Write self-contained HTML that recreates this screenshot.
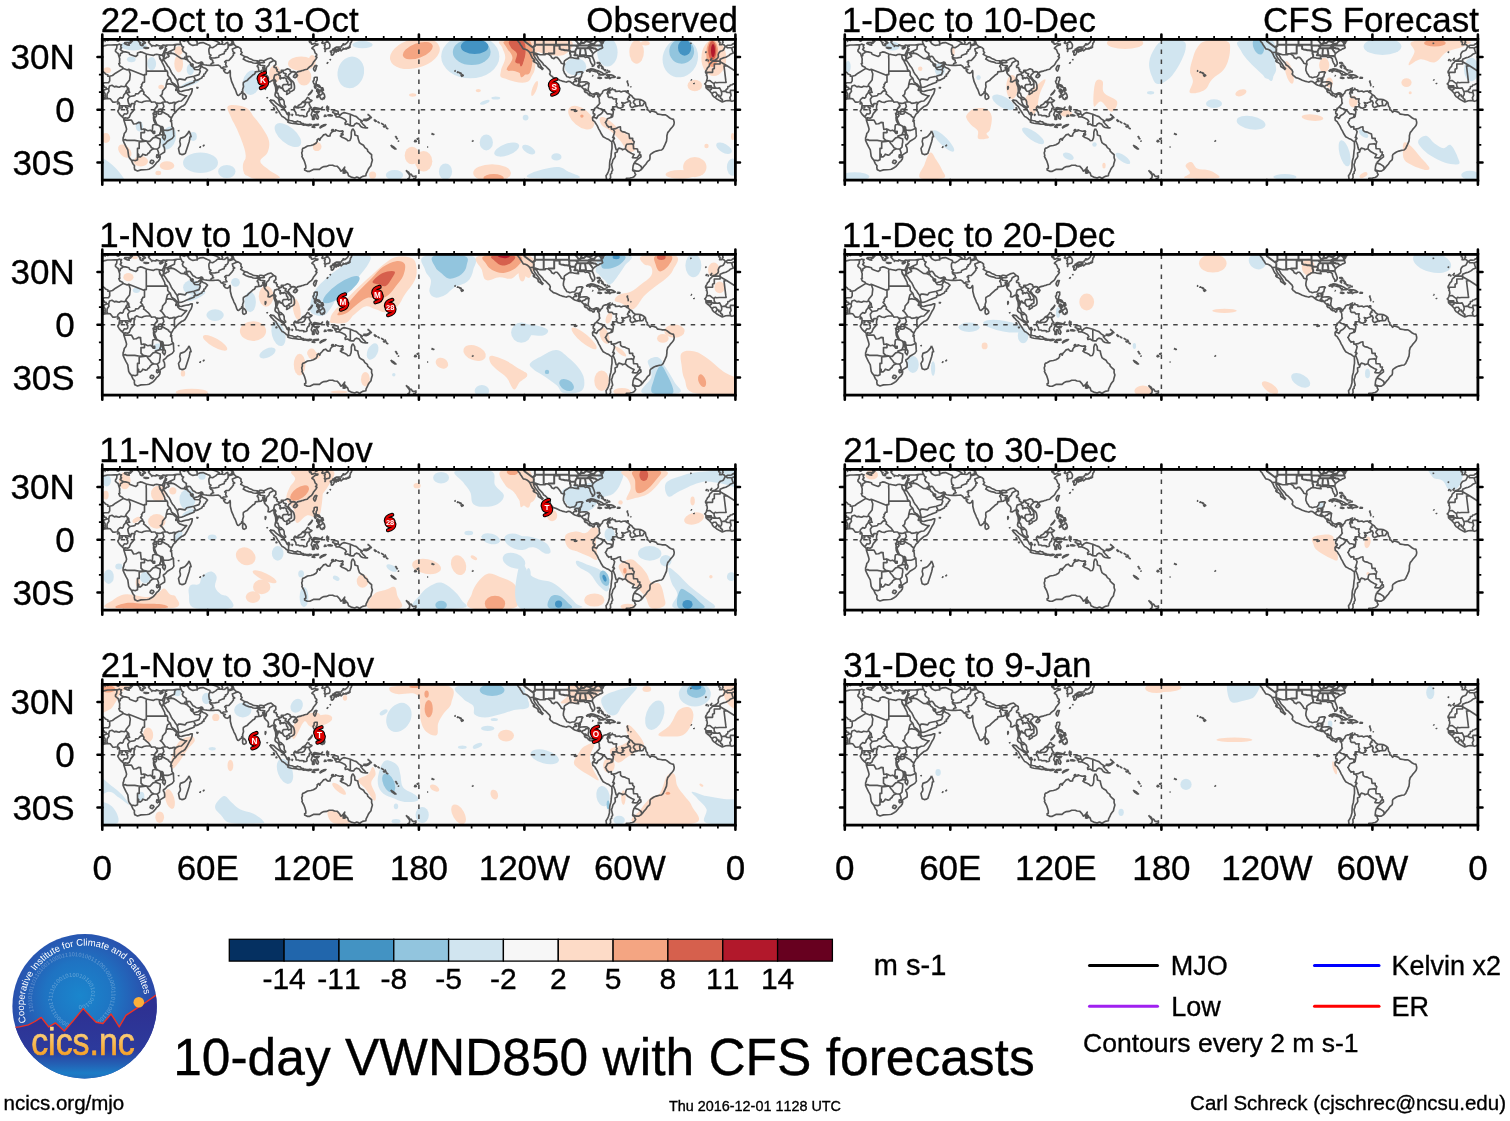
<!DOCTYPE html>
<html lang="en"><head><meta charset="utf-8"><title>10-day VWND850 with CFS forecasts</title>
<style>html,body{margin:0;padding:0;background:#fff}body{width:1510px;height:1121px;overflow:hidden;position:relative}svg{display:block}text{font-family:"Liberation Sans",Arial,Helvetica,sans-serif;font-kerning:none}.k{stroke:#000;stroke-width:0.35px}.dj{font-family:"DejaVu Sans","Liberation Sans",sans-serif}</style></head><body>
<svg width="1510" height="1121" viewBox="0 0 1510 1121">
<rect width="1510" height="1121" fill="#fff"/>
<g transform="translate(102.3 39.4)">
<svg x="0" y="0" width="633.1" height="140.7" viewBox="0 0 633.1 140.7" overflow="hidden">
<rect width="633.1" height="140.7" fill="#f8f8f8"/>
<ellipse cx="31.2" cy="6.1" rx="13.1" ry="5.1" fill="#d1e5f0"/><ellipse cx="49.4" cy="24.3" rx="4.4" ry="6.6" fill="#d1e5f0"/><ellipse cx="29" cy="19.9" rx="4.4" ry="2.9" fill="#d1e5f0"/><ellipse cx="88" cy="30.1" rx="3.6" ry="5.8" fill="#d1e5f0"/><ellipse cx="88" cy="44" rx="10.2" ry="2.2" fill="#d1e5f0" transform="rotate(-20 88 44)"/><ellipse cx="149.2" cy="43.2" rx="8.7" ry="12.4" fill="#d1e5f0" transform="rotate(10 149.2 43.2)"/><ellipse cx="185.6" cy="95.7" rx="16" ry="8" fill="#d1e5f0" transform="rotate(40 185.6 95.7)"/><ellipse cx="98.2" cy="123.4" rx="17.5" ry="10.2" fill="#d1e5f0"/><ellipse cx="124.5" cy="132.1" rx="8.7" ry="6.6" fill="#d1e5f0"/><ellipse cx="90.9" cy="97.1" rx="3.6" ry="4.4" fill="#d1e5f0"/><ellipse cx="66.2" cy="98.6" rx="7.3" ry="11.7" fill="#d1e5f0" transform="rotate(15 66.2 98.6)"/><path d="M-9 117.5C-5.2 113.6 6.3 121.9 12.3 127.7C18.2 133.5 27.8 145.7 23.9 149.7C20.1 153.7 -3.1 149.7 -9 149.7C-14.9 149.7 -9 155.5 -9 149.7C-9 143.9 -12.8 121.5 -9 117.5Z" fill="#d1e5f0"/><ellipse cx="37" cy="86.9" rx="3.6" ry="5.1" fill="#d1e5f0"/><path d="M125.9 66.5C128.5 64.7 138.7 65.9 143.4 68C148.1 70.1 149 74.3 152.1 78.2C155.3 82.1 158.3 85.6 160.9 89.8C163.5 94 165.9 97.3 166.7 101.5C167.5 105.7 166.8 109.5 165.2 113.2C163.7 116.8 157.7 118.8 158 121.9C158.2 125 163.3 127.6 166.7 130.6C170.1 133.7 180.1 137.2 176.9 138.7C173.8 140.1 155.5 140.6 149.2 138.7C142.9 136.7 143 131.8 141.9 127.7C140.9 123.7 143.7 120.3 143.4 116.1C143.1 111.9 142.1 109.1 140.5 104.4C138.9 99.7 136.8 94.6 134.7 89.8C132.6 85.1 130.4 82.4 128.8 78.2C127.3 74 123.3 68.4 125.9 66.5Z" fill="#fddbc7"/><ellipse cx="198.8" cy="24.3" rx="13.1" ry="7.3" fill="#fddbc7"/><ellipse cx="201.7" cy="37.4" rx="7.3" ry="8.7" fill="#fddbc7"/><ellipse cx="172.5" cy="34.5" rx="5.8" ry="8.7" fill="#fddbc7"/><ellipse cx="76.4" cy="24.3" rx="4.4" ry="8.7" fill="#fddbc7"/><ellipse cx="76.4" cy="11.2" rx="4.4" ry="4.4" fill="#fddbc7"/><ellipse cx="5" cy="30.8" rx="3.6" ry="2.9" fill="#fddbc7"/><ellipse cx="22.5" cy="111.7" rx="8" ry="5.1" fill="#fddbc7" transform="rotate(45 22.5 111.7)"/><ellipse cx="38.5" cy="121.9" rx="7.3" ry="5.1" fill="#fddbc7"/><ellipse cx="3.5" cy="98.6" rx="4.4" ry="5.1" fill="#fddbc7"/><ellipse cx="64.7" cy="126.3" rx="7.3" ry="4.4" fill="#fddbc7"/><ellipse cx="56" cy="133.6" rx="2.9" ry="2.2" fill="#fddbc7"/><ellipse cx="58.9" cy="47.6" rx="2.9" ry="2.2" fill="#fddbc7"/><ellipse cx="214.8" cy="107.3" rx="4.4" ry="4.4" fill="#fddbc7"/><ellipse cx="144.9" cy="127.7" rx="4.4" ry="8.7" fill="#fddbc7"/><ellipse cx="248.5" cy="33" rx="13.1" ry="16" fill="#d1e5f0" transform="rotate(15 248.5 33)"/><ellipse cx="260.2" cy="5.3" rx="10.2" ry="3.6" fill="#d1e5f0"/><ellipse cx="312.6" cy="14.1" rx="25.5" ry="14.6" fill="#fddbc7" transform="rotate(-15 312.6 14.1)"/><ellipse cx="368" cy="17" rx="29.1" ry="21.9" fill="#d1e5f0"/><path d="M398.6 1.7C403.5 0.5 422.5 -5.3 427.7 1.7C432.9 8.6 432.4 33.6 427.7 40.3C423 47 406.7 40.4 401.5 38.9C396.2 37.3 398.3 35.2 398.6 31.6C398.8 27.9 402.7 22.7 402.9 18.5C403.2 14.3 400.8 11.3 400 8.3C399.2 5.2 393.6 2.9 398.6 1.7Z" fill="#fddbc7"/><ellipse cx="310.4" cy="55.6" rx="3.6" ry="1.7" fill="#fddbc7"/><ellipse cx="376" cy="51.2" rx="2.6" ry="1.7" fill="#fddbc7"/><ellipse cx="382.5" cy="62.9" rx="5.1" ry="1.7" fill="#d1e5f0" transform="rotate(-20 382.5 62.9)"/><ellipse cx="393.5" cy="58.5" rx="4.4" ry="1.5" fill="#d1e5f0"/><ellipse cx="384" cy="103" rx="6.6" ry="8" fill="#d1e5f0"/><ellipse cx="404.4" cy="110.2" rx="13.1" ry="5.8" fill="#d1e5f0" transform="rotate(-20 404.4 110.2)"/><ellipse cx="423.3" cy="78.2" rx="2.9" ry="2.9" fill="#d1e5f0"/><ellipse cx="309.7" cy="116.1" rx="7.3" ry="8.7" fill="#fddbc7"/><ellipse cx="321.3" cy="121.9" rx="8.7" ry="10.2" fill="#fddbc7"/><ellipse cx="343.2" cy="132.1" rx="6.6" ry="8" fill="#d1e5f0"/><ellipse cx="292.2" cy="135.7" rx="8.7" ry="5.1" fill="#d1e5f0"/><ellipse cx="389.8" cy="133.6" rx="18.9" ry="8.7" fill="#fddbc7"/><ellipse cx="214.3" cy="107.3" rx="3.6" ry="4.4" fill="#fddbc7"/><ellipse cx="270.3" cy="135.7" rx="3.6" ry="3.6" fill="#fddbc7"/><ellipse cx="209.9" cy="21.4" rx="3.6" ry="5.8" fill="#fddbc7"/><path d="M417.7 1.7C421.1 -5 433.8 -1.3 436.6 1.7C439.5 4.7 434.6 12.8 433.7 18.5C432.8 24.1 433.4 29.1 431.5 33C429.7 37 426 39.3 423.5 40.3C421 41.4 418.7 45.8 417.7 38.9C416.7 31.9 414.3 8.4 417.7 1.7Z" fill="#fddbc7"/><ellipse cx="432.3" cy="49.1" rx="2.2" ry="8" fill="#fddbc7" transform="rotate(20 432.3 49.1)"/><path d="M432.3 1.7C438 -0.3 463.4 -0.8 468.7 1.7C473.9 4.2 467.2 13.6 461.4 15.5C455.6 17.5 441.9 15.1 436.6 12.6C431.4 10.1 426.5 3.7 432.3 1.7Z" fill="#fddbc7"/><ellipse cx="473.1" cy="27.2" rx="10.9" ry="8.7" fill="#d1e5f0"/><ellipse cx="505.1" cy="12.6" rx="10.2" ry="14.6" fill="#d1e5f0"/><ellipse cx="534.3" cy="12.6" rx="7.3" ry="11.7" fill="#fddbc7"/><ellipse cx="543" cy="3.9" rx="4.4" ry="2.2" fill="#fddbc7"/><ellipse cx="578" cy="18.5" rx="17.5" ry="19.7" fill="#d1e5f0" transform="rotate(20 578 18.5)"/><ellipse cx="611.5" cy="18.5" rx="12.4" ry="18.2" fill="#fddbc7"/><ellipse cx="592.5" cy="46.1" rx="7.3" ry="5.8" fill="#fddbc7"/><ellipse cx="478.9" cy="78.2" rx="15.3" ry="8.7" fill="#fddbc7" transform="rotate(40 478.9 78.2)"/><path d="M497.8 78.2C498.9 77.1 501.7 77.5 505.1 79.6C508.5 81.7 512.6 86.4 516.8 89.8C521 93.3 525.5 94.9 528.4 98.6C531.3 102.3 533.3 107.9 532.8 110.2C532.3 112.6 528.1 113.3 525.5 111.7C522.9 110.1 521.4 105.2 518.2 101.5C515.1 97.8 511.4 94.2 508 91.3C504.6 88.4 501.1 87.8 499.3 85.5C497.5 83.1 496.8 79.2 497.8 78.2Z" fill="#fddbc7"/><ellipse cx="426.4" cy="110.2" rx="7.3" ry="3.6" fill="#d1e5f0" transform="rotate(30 426.4 110.2)"/><ellipse cx="454.1" cy="117.5" rx="5.1" ry="3.6" fill="#d1e5f0"/><path d="M429.4 133.6C433.8 131.6 447.6 128 454.1 127.7C460.7 127.5 461.8 130.1 465.8 132.1C469.7 134.1 482.5 137.5 476 138.7C469.4 139.8 437.7 139.6 429.4 138.7C421 137.7 424.9 135.5 429.4 133.6Z" fill="#d1e5f0"/><ellipse cx="592.5" cy="127.7" rx="11.7" ry="10.2" fill="#fddbc7"/><ellipse cx="578" cy="135" rx="14.6" ry="4.4" fill="#fddbc7"/><ellipse cx="621.7" cy="108.8" rx="8.7" ry="4.4" fill="#d1e5f0" transform="rotate(30 621.7 108.8)"/><ellipse cx="630.4" cy="127.7" rx="5.8" ry="8.7" fill="#d1e5f0"/><ellipse cx="604.2" cy="106.6" rx="2.2" ry="2.2" fill="#fddbc7"/><ellipse cx="630.4" cy="97.1" rx="1.7" ry="3.6" fill="#fddbc7"/><ellipse cx="315.5" cy="11.2" rx="15.7" ry="7.3" fill="#f4a582" transform="rotate(-20 315.5 11.2)"/><ellipse cx="369.4" cy="12.6" rx="18.9" ry="13.1" fill="#92c5de"/><path d="M402.9 1.7C407.1 0.5 423.2 -3.9 427.7 1.7C432.2 7.3 430.6 27.6 427.7 33C424.8 38.4 415.9 32.1 411.7 31.6C407.5 31 404.7 32.5 404.4 30.1C404.1 27.7 410.2 22.4 410.2 18.5C410.2 14.5 405.7 11.3 404.4 8.3C403.1 5.2 398.7 2.9 402.9 1.7Z" fill="#f4a582"/><ellipse cx="391.3" cy="138.7" rx="10.2" ry="4.1" fill="#f4a582"/><path d="M417.7 5.3C419.7 0.6 427.1 4.6 428.6 8.3C430.2 11.9 427.6 20.8 426.4 25.7C425.3 30.7 423.6 34.4 422.1 35.9C420.5 37.5 418.5 40 417.7 34.5C416.9 29 415.7 10.1 417.7 5.3Z" fill="#f4a582"/><ellipse cx="579.4" cy="11.9" rx="12.4" ry="12.4" fill="#92c5de" transform="rotate(15 579.4 11.9)"/><ellipse cx="610" cy="14.1" rx="6.1" ry="13.4" fill="#f4a582"/><ellipse cx="479.6" cy="76.7" rx="1.7" ry="1.7" fill="#f4a582"/><ellipse cx="372.3" cy="7.1" rx="13.8" ry="7.6" fill="#4393c3"/><path d="M407.3 1.7C409.4 0.5 417.5 0 420.4 1.7C423.3 3.4 423.3 7.4 423.3 11.2C423.3 15 422.3 20.7 420.4 22.8C418.6 24.9 414.2 24.4 413.1 22.8C412.1 21.3 415.4 16.7 414.6 14.1C413.8 11.5 410.1 10.5 408.8 8.3C407.4 6 405.2 2.9 407.3 1.7Z" fill="#d6604d"/><path d="M417.7 9.7C418.5 7.4 421.5 10 422.1 12.6C422.6 15.2 421.4 21.9 420.6 24.3C419.8 26.6 418.2 28.4 417.7 25.7C417.2 23.1 416.9 12.1 417.7 9.7Z" fill="#d6604d"/><ellipse cx="582.3" cy="8.3" rx="6.6" ry="8" fill="#4393c3"/><ellipse cx="610" cy="11.2" rx="4.1" ry="9.5" fill="#d6604d"/><ellipse cx="610.7" cy="11.2" rx="2" ry="6.6" fill="#b2182b"/>
<path d="M-10.4 7.4l1.1 -0.2l1.4 1.2l2.6 -0.1l1.4 0.3l2.1 -1l1.8 -0.4l2.6 -1l2.7 -0.6l3.5 0l3.5 -0.3l2.8 0.2l2.1 -0.8l0.9 0.6l1.2 0l-0.7 1l-0.1 1.4l0.8 0.7l-1.4 1.6l1.3 1.1l1 0.9l1.8 0.5l1.2 0l3.5 0.9l0.6 1.5l2.6 0.9l3.5 1.3l1.8 -1.3l0 -2.3l2.6 -1l2.7 0.5l3.5 1.6l3.5 0.7l3.5 0.7l1.8 -0.9l1.7 -0.2l2.3 0.4l0.4 2.5l0.3 1.5l1.4 1.8l0.9 1.8l0.9 1.7l0.9 1.8l0.8 1.7l0.2 1.8l2.3 1.8l0.5 1.7l0 2.5l1.4 1.9l1.1 0.9l1.2 3.5l0.4 0.7l1.7 1.1l1.3 0.8l2.2 2.3l1.3 1.3l0.2 1.5l-0.6 0.2l1.8 1.8l1.7 0.2l1.8 -0.6l2.6 -0.7l2.7 -0.3l2.6 -1.1l1.2 0l-0.3 2.5l-0.9 2.6l-1.2 1.8l-1.4 2.6l-1.8 3.5l-1.7 2.7l-1.8 1.4l-1.2 0.3l-2.3 1.8l-2.7 2.3l-1.7 2.4l-1.8 1.4l-0.9 1.8l-0.7 1.1l-1 2.4l-0.4 1.8l0.9 0.5l0.4 2.1l0.1 2.7l1.5 1.7l0.1 2.7l0.2 3.5l0.2 1.7l-1.6 2.3l-3.2 1.8l-1.7 1l-1.3 1.6l-1.7 1.6l-0.9 0.2l-0.2 1.2l1.1 1.8l0.3 2.6l-0.1 1.8l-3.4 2.1l-1.6 1.2l0.6 1.6l-0.4 2.1l-1.2 1.8l-1.8 1.5l-1.4 2l-2.1 2.3l-1.8 1.2l-2.6 1.4l-1.6 0.3l-2.8 0.2l-3.5 0.2l-3.5 1.1l-2.1 -0.9l-0.7 -0.6l-0.4 -2.1l0.2 -1.7l-1.8 -2.3l-1.4 -3.3l-1.7 -2l-0.9 -1.7l-0.4 -2.7l-0.5 -3.9l-1.8 -3.1l-1.7 -3.5l-1.2 -2.7l0 -2.6l0.7 -1.8l0.5 -2.6l1.7 -2.1l0.6 -2.3l-0.7 -2.6l-0.4 -1.3l-0.7 -2.3l-0.9 -2.6l-0.1 -1.8l-0.7 -0.8l-1.5 -1.3l-2.1 -2.3l-1.4 -2.2l-0.3 -0.9l1.2 -2l0.2 -1l0.3 -2.3l0 -2.1l-0.5 -0.9l-1 -0.9l-1.1 0l-2.3 0.4l-1.7 0l-1.3 -1.6l-1.4 -1.8l-1.9 -0.3l-1.8 0.2l-2.1 0.3l-2.1 0.7l-1.8 1.1l-1.7 0.5l-1.8 -0.5l-1.7 -0.2l-2.7 0.2l-3.5 1.2l-2.6 -1.4l-3.2 -1.9l-1.2 -1.1l-1.8 -1l-1.2 -1.8l-0.2 -1.4l-0.7 -0.4l-1.4 -1.7l-0.9 -0.9l-1.7 -1.4l-1.3 -1.1l-0.1 -1.4l0.3 -0.5l-0.9 -1.6l-0.7 -0.5l0.7 -0.5l1.1 -1.8l0.3 -1.7l0.6 -1.8l-0.4 -2.3l-0.5 -0.3l0.3 -1.8l-1.2 -0.9l0 -1.4l1.2 -2.1l0.7 -1.4l1.6 -1.6l0.4 -1.4l0.7 -1.2l1.6 -1.4l0.8 -1.4l2.7 -0.9l2.3 -1.6l0.8 -1.6l-0.1 -2.3l0.8 -1.9l1.5 -1.4l1.5 -0.5l1.4 -0.7l0.9 -1.8l0.7 -1.4M622.8 7.4l1 -0.2l1.4 1.2l2.7 -0.1l1.4 0.3l2.1 -1l1.7 -0.4l2.7 -1l2.6 -0.6l3.5 0l3.6 -0.3l2.8 0.2l2.1 -0.8l0.9 0.6l1.2 0l-0.7 1l-0.2 1.4l0.9 0.7l-1.4 1.6l1.2 1.1l1.1 0.9l1.7 0.5l1.3 0l3.5 0.9l0.5 1.5l2.6 0.9l3.6 1.3l1.7 -1.3l0 -2.3l2.7 -1l2.6 0.5l3.5 1.6l3.5 0.7l3.6 0.7l1.7 -0.9l1.8 -0.2l2.3 0.4l0.3 2.5l0.4 1.5l1.4 1.8l0.8 1.8l0.9 1.7l0.9 1.8l0.9 1.7l0.2 1.8l2.2 1.8l0.6 1.7l0 2.5l1.4 1.9l1 0.9l1.3 3.5l0.3 0.7l1.8 1.1l1.2 0.8l2.3 2.3l1.2 1.3l0.2 1.5l-0.5 0.2l1.7 1.8l1.8 0.2l1.8 -0.6l2.6 -0.7l2.6 -0.3l2.7 -1.1l1.2 0l-0.4 2.5l-0.8 2.6l-1.3 1.8l-1.4 2.6l-1.7 3.5l-1.8 2.7l-1.7 1.4l-1.3 0.3l-2.3 1.8l-2.6 2.3l-1.8 2.4l-1.7 1.4l-0.9 1.8l-0.7 1.1l-1.1 2.4l-0.3 1.8l0.9 0.5l0.3 2.1l0.2 2.7l1.4 1.7l0.2 2.7l0.2 3.5l0.1 1.7l-1.6 2.3l-3.1 1.8l-1.8 1l-1.2 1.6l-1.8 1.6l-0.8 0.2l-0.2 1.2l1 1.8l0.4 2.6l-0.2 1.8l-3.3 2.1l-1.6 1.2l0.5 1.6l-0.3 2.1l-1.3 1.8l-1.7 1.5l-1.4 2l-2.1 2.3l-1.8 1.2l-2.6 1.4l-1.6 0.3l-2.8 0.2l-3.6 0.2l-3.5 1.1l-2.1 -0.9l-0.7 -0.6l-0.3 -2.1l0.1 -1.7l-1.7 -2.3l-1.4 -3.3l-1.8 -2l-0.9 -1.7l-0.3 -2.7l-0.5 -3.9l-1.8 -3.1l-1.8 -3.5l-1.2 -2.7l0 -2.6l0.7 -1.8l0.5 -2.6l1.8 -2.1l0.5 -2.3l-0.7 -2.6l-0.3 -1.3l-0.7 -2.3l-0.9 -2.6l-0.2 -1.8l-0.7 -0.8l-1.4 -1.3l-2.1 -2.3l-1.4 -2.2l-0.4 -0.9l1.3 -2l0.1 -1l0.4 -2.3l0 -2.1l-0.5 -0.9l-1.1 -0.9l-1.1 0l-2.2 0.4l-1.8 0l-1.2 -1.6l-1.4 -1.8l-2 -0.3l-1.7 0.2l-2.1 0.3l-2.2 0.7l-1.7 1.1l-1.8 0.5l-1.7 -0.5l-1.8 -0.2l-2.6 0.2l-3.5 1.2l-2.7 -1.4l-3.1 -1.9l-1.3 -1.1l-1.7 -1l-1.3 -1.8l-0.1 -1.4l-0.7 -0.4l-1.5 -1.7l-0.8 -0.9l-1.8 -1.4l-1.2 -1.1l-0.2 -1.4l0.4 -0.5l-0.9 -1.6l-0.7 -0.5l0.7 -0.5l1 -1.8l0.4 -1.7l0.5 -1.8l-0.3 -2.3l-0.6 -0.3l0.4 -1.8l-1.2 -0.9l0 -1.4l1.2 -2.1l0.7 -1.4l1.6 -1.6l0.3 -1.4l0.7 -1.2l1.6 -1.4l0.9 -1.4l2.6 -0.9l2.3 -1.6l0.9 -1.6l-0.2 -2.3l0.9 -1.9l1.4 -1.4l1.6 -0.5l1.4 -0.7l0.9 -1.8l0.7 -1.4M86.7 91.5l1.2 2.6l0.9 3.2l-1.2 0.3l-0.2 2.3l-0.5 2.1l-1.1 3.5l-1.4 4.4l-1.4 4.1l-1.2 0.7l-2.3 0.5l-2.1 -0.9l-0.7 -2.6l-0.5 -2.7l1.7 -2.6l0.2 -1.8l-0.7 -2.6l0.7 -3l2.8 -1l1.8 -0.9l1.5 -1.6l1.5 -1.8l1 -2.2M-15.5 -2.6l-0.2 2.6l-0.8 1.2l-0.2 1.1l1.2 0.5l0 0.9l-0.3 1.6l1.7 0l1.1 -0.4l1.7 0.7l0.7 1.1l0.8 0.3l0.5 -0.3l1.6 -0.9l2.4 0l1.4 -0.2l0.9 -0.9l1.6 -0.5l0.5 -1.2l1.3 -0.9l-0.9 -1.2l0.9 -1.3l1.2 -1l1 -0.7l2.7 -1.1M617.7 -2.6l-0.2 2.6l-0.9 1.2l-0.2 1.1l1.3 0.5l0 0.9l-0.4 1.6l1.8 0l1 -0.4l1.8 0.7l0.7 1.1l0.7 0.3l0.5 -0.3l1.6 -0.9l2.5 0l1.4 -0.2l0.9 -0.9l1.5 -0.5l0.6 -1.2l1.2 -0.9l-0.9 -1.2l0.9 -1.3l1.2 -1l1.1 -0.7l2.6 -1.1M4.2 0.7l1.3 -0.6l0.5 0.4l-0.5 0.7l-0.8 -0.3l-0.5 -0.2M2.1 1.9l0.5 -0.3l0.2 0.3l-0.7 0M14.4 -1.8l0.4 1.3l0 1.9l1 0.4l0.9 -0.4l0.4 -1.4l0 -1.4l-0.7 -0.7l-2 0.3M21.8 3.5l1.6 -0.3l4 -0.2l-0.8 1.4l0.3 1.4l-1.7 -0.3l-3.2 -1.3l-0.2 -0.7M21.6 -3.2l2.7 1.1l0.9 0.7l1.2 1l1.2 0.4l0.7 1.8l-0.7 1.7l0.7 0.2l0.9 -1.1l0.9 -0.8l-1.1 -1.3l0.7 -1.2l2 0.7l0.8 -0.2l-0.8 -0.9l-1.8 -0.7l-1.8 -0.8l0 -0.9M34.1 -3.3l0 0.8l-0.2 1.6l1.3 1.4l1.2 1.4l0.9 1.1l0.9 0.2l-0.7 0.8l0.7 1.6l1.2 0.6l0.7 -0.4l0.5 0.4l0.2 -1.5l-0.7 -0.3l1.2 0l0.9 -0.4l0 -0.8l-1.2 -0.7l-0.7 -1.3l-0.6 -1.2l0.6 -0.9l1 0.5l0.9 0.4l0.7 -1.2l1.1 -0.6l1.7 0.6l0.4 0.7l0 1.4l1 0.9l-0.8 1.2l1.5 1.4l0.4 0.9l1.4 0.5l1.6 0.4l2.4 0.3l0.4 -1l2.3 0.7l2.6 0.7l2 -1.3l1.7 0.4l1.1 -0.2l-0.6 1.2l-0.1 0.9l0.1 1.8l-0.7 1l-0.7 1.4l-0.3 1.1l-0.4 0.9l-0.9 1.2l-1.2 0.4l-2.1 -0.4M46.1 -0.5l1.4 -0.4l1.7 0.2l1.8 0l1.6 -0.5l-1.6 -0.6l-1.8 0l-1.2 0.6l-1 0.3M40.8 1.9l1.4 0.6l0.9 1l-0.9 -0.3l-1 -0.7l-0.4 -0.6M41.3 7.9l1.3 0.2l1.4 0l2.3 0.2l-0.2 0.5l-2.5 0.2l-2.1 -0.6l-0.2 -0.5M48.9 6.7l0.7 -0.4l-0.2 0.7l-0.5 -0.3M45.6 1.4l1 -0.3l0 0.7l-1 -0.4M56.8 8.8l1.2 0.7l1.8 -0.7l1.1 -1.2l-1.6 0.5l-1.4 0.2l-1.1 0.5M57.2 17.8l1.2 2.4l1.7 1.4l0.6 -1.4l0.7 -1.7l0.2 2.4l0.8 1.1l1.8 2.6l1.2 2.1l1.4 1.4l1.8 3.6l0.2 0.8l1.5 2.3l1.8 2.1l0.9 1.8l1.7 2.1l0.6 2.3l0.7 2.6l0.2 1.4l0.3 0.9l2.6 -0.2l2.7 -1l2.6 -1.1l2.7 -1.2l2.6 -0.9l2.1 -0.7l0 -1.4l2.3 -0.5l1.8 -0.5l1.4 -0.9l2.1 -0.9l0.8 -1.8l1.5 0l-0.2 -2.1l1.4 -0.5l0.7 -1.6l1.6 -1.9l-1.4 -1.3l-0.9 -0.7l-2.1 -0.7l-1.4 -1.4l-0.2 -2.4l-0.5 0.3l-0.2 0.6l-1.2 0.7l-1.6 1.5l-2.5 0.6l-2.1 0.1l-0.5 -1l0.2 -2.1l-0.8 -0.6l-0.7 1.1l-0.1 1.2l-0.9 -1.4l0 -1.6l-1.2 -1.2l-1.3 -0.9l-0.5 -1.4l-0.9 -1.4l-0.3 -1l1.2 -0.2l0.9 -0.7l1.7 0.3l1.4 2.1l1.3 2l1.9 0.9l1.6 1.2l2.1 0.3l1.6 -0.5l1.2 -0.5l1.2 0.5l0.6 1.8l1.2 0.3l2.6 0.4l2.7 0.3l1 0l2.5 0l2.6 -0.1l2.7 -0.2l1 0.7l0.7 0.3l0.9 1.6l1.2 0.5l1.1 0.7l2.1 0.6l-1.7 0.9l0 0.3l1.7 2.1l1.8 0.5l1.7 -0.7l0.4 -1.2l0.7 -0.9l0.3 1.4l0 0.9l0 3.5l0.7 2.7l0.6 2.6l0.5 1.1l1.1 2.4l0.7 2l1.4 2.4l1 2.7l0.5 1.7l0.9 1.3l0.9 0.3l1.2 -1.2l1.4 -0.9l0.6 -1.8l1 0l-0.2 -2.1l0.9 -2.8l-0.3 -2.5l0.2 -1.7l1.4 -0.9l2.2 -1l1.8 -2l2.6 -2.3l1.3 -1.2l1.7 -0.9l0.9 -1.4l0 -0.9l1.8 -0.3l1.7 -0.2l2.3 -0.3l0.9 -0.9l1.2 -0.4l0.6 0.7l0.7 2.3l0.1 0.5l1.1 1.3l1.4 1.2l1.1 1.4l0.3 1.8l-0.5 2.6l1.7 0.4l1.4 -0.9l1.4 -0.9l0.8 0l0.7 0.9l0.1 2.3l0.7 1.7l0.7 1.8l0.2 1.7l0.2 2.7l-0.4 1.2l-0.5 2.3l0.2 1.1l1.2 1.2l1.2 0.7l0.9 1l0.4 1.5l0.5 1.9l1.1 2.3l0.1 0.5l1.4 0.9l2.2 1.4l0.3 0.2l1.1 -0.2l0 -1.1l-1.3 -1.4l-0.1 -1.7l0 -1.3l-0.7 -1.7l-1.3 -1.3l-1 -1l-1.4 -0.4l-0.7 -0.5l-0.7 -2.1l-0.4 -1.4l-1.1 -0.4l-0.1 -1.7l0.8 -2.1l0.6 -1.4l0 -1.4l0.9 -0.4l0.8 0.4l0 1.2l1.8 0.5l1.2 0.9l0.6 1.1l1 1.2l1.6 0.2l0.9 0.7l-0.4 2.2l1.2 -0.5l1.8 -1l0.5 -1.3l0.7 -0.1l1.4 -0.6l1.8 -1.2l0.5 -1.4l0 -1.4l-0.1 -1.4l-0.6 -2.5l-1 -1.6l-1.4 -1l-1.6 -1.6l-0.5 -1.1l-1.1 -1.2l0.4 -1.6l1.2 -1l0.7 -0.9l1.7 -1.1l1.1 -0.3l1.1 0.3l0.8 0.2l0.2 1.8l0.7 0.1l0.5 -1.4l0.9 -0.7l1.8 -0.5l1.7 -0.3l1.1 -0.6l1 0l1.5 -0.7l2.6 -0.5l0.9 -1.1l1.7 -1.5l1.8 -1.4l1 -1.3l0.8 -1.7l1.4 -1.8l1.4 -1.8l0.7 -1.4l-1.3 -0.8l1.1 -1.1l0 -1.1l-1.6 -1.4l-0.3 -1.2l-0.9 -2.1l-2 -1.4l1.1 -1.1l0.9 -0.7l1.2 -1l2.6 -0.5l0.2 -0.9l-1.9 -0.2l-1.4 -0.5l-1.6 0.8l-1.4 0l-0.2 -1.2l-1.6 -0.5l-0.5 -0.9l0.2 -0.7l1.2 0.2l1.4 -0.7l0.9 -0.9l2.1 -1.4l1.4 -0.2l0.7 0.7l-1.2 1.6l-0.5 1.4l1.4 -0.5l1.7 -1.1l2.3 -0.3l1.2 0.5l0.6 1.1l-0.2 0.8l-0.7 0.9l1.2 0.5l1.8 0l0.5 1.3l-0.9 0.9l0.4 0.8l0.2 0.9l-0.6 1.2l0.6 0.9l1.5 -0.7l1.8 -0.3l1.1 -0.4l0.5 -1.6l0 -1.7l-0.7 -1.3l-0.7 -1l-1.1 -1.2l-0.9 -0.6l0 -0.8l1.4 -0.8l2.5 -1l0.2 -1.2l1.2 -1.4M87.1 -3.2l-0.2 2.7l1.6 -0.2l-1.4 0.7l-0.9 1.2l-0.2 1.6l1.1 1.6l1.7 0.9l1.8 0.7l2.6 -0.4l1.8 -0.1l-0.2 -1.1l0 -2.5l-1.2 -0.7l0.7 -1.2l-1.4 -0.9l0.3 -0.9l1.8 -0.8l-1.8 -0.9M140.5 53.1l1.6 1.4l0.9 0.9l1 2.1l-0.3 1.4l-1.9 1.1l-1.1 -0.6l-0.4 -1.4l0 -1.7l0.4 -1.8l-0.2 -1.4M191.2 36.4l1.4 -1.2l1.9 -0.2l0.7 0.9l-0.9 1.4l-1.5 1l-1.6 -0.7l0 -1.2M213.7 25.9l0.9 0.5l-0.7 1.7l-0.4 1.8l-0.9 1.8l-1 -1.1l-0.4 -1.2l0.7 -1.8l0.9 -1.2l0.9 -0.5M246.8 -2.1l1.9 -0.4l0.2 0.7l0.7 1.8l0.1 0.9l-0.8 2.1l-0.9 0.9l0 1.6l-0.7 1l0.5 1.1l-1 0.8l-0.9 0.4l0 -1.1l-0.4 0.7l-0.9 0.2l-0.3 0.9l-0.7 -0.7l-0.5 0.7l-2.2 0l-0.1 -0.7l0 1.2l-1.1 0.6l-0.9 0.8l-1.2 -0.7l0.2 -0.7l0.3 -0.7l-1.5 0l-1.8 0.5l-1.9 0.2l-1.6 0.6l-0.9 0l0 -0.8l1.2 -0.5l1.8 -1.2l1 -0.4l1.8 0l1.8 -0.1l1.2 0l0.2 -1.1l1 -0.9l0.5 -1.2l0.6 0l-0.6 1.2l1.8 -0.5l1.4 -1.2l1.1 -0.9l0.7 -1.2l0.3 -1.4l-0.2 -1.3l0.8 -1.2M233 10.9l0.9 -0.3l1.8 -0.8l1.2 0.6l0 0.5l-0.9 0.9l-1.2 -0.4l-0.9 1.3l-0.9 -0.4l-0.3 -0.9l0.3 -0.5M230.2 10.7l1.4 0.6l0.4 0.7l-0.2 1.2l-0.7 1.7l-0.7 0.6l-0.5 0.3l-0.9 -0.5l0 -1.6l0.5 -0.9l-1.2 0l-0.2 -1l1.1 -0.5l1 -0.6M224.6 24.4l0.9 -1.2l-0.6 0.5l-0.3 0.7M227.4 20.8l0.7 -0.6l-0.5 0.6M222 11.8l1.2 -0.4l-0.5 0.6l-0.7 -0.2M212.1 37.8l2.8 0l0 2.7l-1 1.7l0 1.8l0.1 1.2l1.4 0.2l1.5 0.5l1.2 1.6l0.2 0.7l-1.4 -0.7l-1.3 -0.5l-1 -0.9l-1.3 0.3l-1.2 -0.7l0.5 -1l-1 -0.4l-0.5 -1.2l-0.4 -1.4l0.9 -0.5l0.2 -1.6l0.3 -1.8M220.7 53.1l1.4 2.3l0.4 2.1l-0.7 1.8l-0.7 -1.1l-0.6 1.6l-0.5 0.3l-1.6 -0.7l-0.3 -1.4l-1.1 -0.8l-1 0.1l-1.3 0.9l-0.1 -1.2l1.4 -1.2l1 -0.6l0.7 0.9l0.9 -0.7l0.9 -0.7l0.7 -0.4l0.5 -1.2M218.6 48.4l1.8 0l0.7 2.3l-1.3 0.3l-0.3 1.4l0.7 0l-0.5 -1.2l-0.9 -0.9l0.9 -0.7l-1.1 -1.2M216.2 51l1 0.4l-0.3 1.5l-0.6 1.4l-0.9 -1l0.6 -1.1l0.2 -1.2M214.6 49.4l1.9 0.7l-0.9 1.6l-1.2 0.2l0.2 -2.5M218.1 50.7l-0.5 1.7l-0.7 1.2l0.5 -1.4l0.7 -1.5M210.2 50.3l-0.6 1.8l-1.5 2.1l-2 1.4l0.6 -0.9l1.7 -1.9l1.4 -1.8l0.4 -0.7M211.8 46.8l1.4 0l0.5 1.6l-0.7 0.5l-0.7 -1.2l-0.5 -0.9M167.6 60.5l3.9 0.7l1.4 1.6l1.2 1.2l2.3 1.6l1.2 0.9l2.1 1.6l2.2 1.2l0.7 1.6l1.2 1.6l0.7 1.9l1.9 1.6l-0.1 2.3l-0.2 2.3l-1.1 0l-1 -0.4l-0.6 -0.9l-2.2 -1.6l-1.3 -0.5l-1.7 -2.5l-1.6 -2.6l-1.3 -1.8l-1.2 -2.1l-0.5 -1l-1.8 -1.2l-1.2 -1.5l-1.4 -1.2l-1.6 -2.1l0 -0.7M185 82.3l1.4 -1.6l1.4 0.4l2.7 0.5l0.7 0.7l3 0.2l0.8 -0.9l1.1 0.5l1.9 0.4l0.4 0.7l1.2 0.7l1.6 0.2l0.2 1.6l-2.3 -0.8l-3 0l-2.6 -0.7l-2.7 -0.1l-1.7 -0.2l-2 -0.5l-2.1 -1.1M191.7 67.7l1.1 -0.9l1.2 0.6l1.6 0.3l0.3 -1.7l2.8 -1.3l1.8 -2.3l1.8 -0.8l1.7 -1.8l1.2 -1.8l1.5 0.9l0.3 1.1l1.6 0.7l1 0.5l-1.5 1.2l-1.3 0.6l0 1.2l0.7 1.8l1.6 2.6l-1.9 0.3l-0.5 2.7l-1.3 1l-0.9 1.8l0.2 2.1l-0.7 0.5l-2.4 0.4l-0.2 -1.1l-1.8 -0.1l-2.6 0.1l-0.7 -0.7l-2.5 -0.1l-0.3 -2.5l-1.4 -1.8l-0.4 -1.7l0 -1.8M210.7 68.9l1.8 -0.8l3.7 0.7l2.4 0.8l1.6 -1.9l-1.2 1.9l-2.1 0.2l-3.2 -0.3l-2.3 0.3l-0.2 2l1.6 1l2.1 -0.9l2.1 0l-1 1.1l-2 0.7l1.3 2.3l0.9 1.7l-0.8 2l-1.5 -0.9l-0.2 -1.4l-0.9 -2.3l-1.2 0.4l0.2 2.8l0 1.7l-1.6 0l0 -2.6l-1.3 -2.1l0.9 -2.7l0.9 -1.9l0 -1.8M230.4 71.8l2.6 -0.7l2.7 0.7l0.3 2.6l1.4 1.8l1.8 -1.8l2.6 -1.2l2.7 0.7l3.5 1l3.5 1.4l2.6 0.9l2.3 2.3l2.1 1.4l1.4 0.9l-1.4 0.5l1.8 2.1l1.8 1.8l1.7 2.1l1.4 0.2l-1.7 0.1l-3.2 -0.5l-1.8 -1l-1.7 -2.5l-2.7 -0.9l-1.7 1.1l-0.9 1.7l-1.8 0l-1.7 -0.1l-2.7 -1.8l-2.2 0.5l-0.4 -1.7l1.4 -1.1l-1.4 -2.3l-3.5 -1.6l-2.6 -1l-2.7 0.2l-0.3 -1.4l-1.1 -0.7l2.3 -0.8l-2.6 -0.7l-1.8 -1.2l0 -1M201.4 84.8l2.1 0.1l-0.9 0.9l-1.2 -1M204 85.1l1.2 0l-0.3 0.9l-0.9 -0.2l0 -0.7M205.4 85.3l2.1 -0.5l1.8 0.3l-0.9 0.7l-2.6 0.4l-0.4 -0.9M210.9 85.3l1.9 -0.2l3.2 -0.3l0.2 0.7l-3.4 0.5l-1.9 -0.2l0 -0.5M209.3 87.1l2.1 -0.2l1.1 1.2l-2.3 -0.3l-0.9 -0.7M217.2 88.5l1.8 -1.8l2.3 -1.2l2.4 -0.4l-1.2 1.1l-2.7 1.2l-1.7 1.1l-0.9 0M224.2 68.6l0.7 -1.9l0.2 1.5l1.3 -0.5l-0.9 1.2l1 0.9l-1.4 -0.2l0.7 2.2l-1 -1.1l-0.6 -2.1M225.1 75.6l2.7 -0.3l2.2 0.9l-1.4 0.3l-2.2 -0.2l-1.3 -0.7M221.8 76l1.6 -0.2l0.3 1.1l-1.6 0.1l-0.3 -1M261 80l2.8 0l2.7 -1l1.4 -1.3l-0.2 1.4l-2.1 1.5l-1.8 0.7l-2.4 -0.4l-0.4 -0.9M265.2 74.9l2.1 1.4l1.8 2l-0.7 -0.9l-1.9 -1.8l-1.3 -0.7M271.9 80l2.1 1.8l-0.9 0.3l-1 -1.2l-0.2 -0.9M275.2 82.1l1.8 1.3l-0.9 -0.4l-0.9 -0.9M278.8 83.7l2.2 1.4l-0.8 -0.3l-1.4 -1.1M280.7 86.7l2.1 0.9l-0.9 0l-1.2 -0.9M282.5 85.1l1.2 2.1l-0.9 -1l-0.3 -1.1M283.7 88.5l1.7 0.8l-0.8 -0.7l-0.9 -0.1M293 96.7l1.1 1.1l-0.7 -0.2l-0.4 -0.9M294.1 98.5l1 0.9l-0.7 -0.2l-0.3 -0.7M295.8 101.3l0.5 0.4l-0.3 0l-0.2 -0.4M288.4 105.7l2.7 1.6l2.6 2.3l-1 0l-2.5 -1.6l-1.8 -2.3M311.8 101.3l1.6 -0.3l0.7 1l-1.4 0.4l-0.9 -1.1M314.3 99.7l2.1 -0.9l-0.7 0.9l-1.4 0M250.6 89.2l1.8 3.1l0.2 3.2l2.9 1.2l0.4 2.7l1.2 3.8l1.4 1.1l2.7 1.6l1.4 2.3l2.4 1.7l0.4 1.8l1.9 1.9l2 1.6l0 3.2l0.8 2.3l-1 3.3l-0.4 2.3l-1.7 2.1l-1.1 1.7l-0.9 2.2l-1.2 2.2l-0.2 1.8l-3.3 0.7l-1.8 1.1l-1.2 1l-1.9 -1.2l-0.9 -0.2l-2.1 0.9l-3.5 -0.9l-2.7 -1.4l-0.5 -1.8l-0.7 -1.5l-1.4 0l0 -1.4l-0.9 -1.1l-0.3 1.6l-1.5 0.2l0.9 -2.2l0.6 -2.4l-1.1 1.6l-2.1 2.3l-0.7 0.1l-1.1 -2.1l-1.4 -1.6l-1.2 -1.2l-2.6 -0.2l-1.8 -0.8l-3.5 0.1l-2.7 1.1l-2.6 0.2l-2.6 1.2l-1.8 1.6l-2.8 0l-3.3 0l-3.6 1.9l-2.6 0l-2.5 -1.2l-0.1 -1.3l1.2 -0.5l0 -2.3l-0.7 -2.6l-0.7 -2.1l-0.5 -1.1l-0.9 -1.7l-1.1 -2.1l0.4 -0.7l-0.6 -2.9l0.7 -1.7l-0.1 -1.8l0.7 -1.2l0.9 0l1.5 -0.9l2.1 -1.2l3.4 -0.5l2.5 -0.8l2.6 -1.5l1.2 -1.8l0 -1.8l1.4 -1l1.1 1.6l0.7 -1.8l1.6 -1.7l1.6 -1.8l2.1 -0.7l1.7 1.6l0.5 0.3l2.2 -0.1l0.1 -1.6l1.1 -1.8l1 -1l1.3 -0.4l1.7 -0.2l0.2 -1.2l1.6 0.7l2.6 0.7l3 -0.3l0.4 0.5l-0.7 1.7l-1.1 0.7l0 2l-0.9 0.3l2 1.4l2.1 0.7l2.3 1.3l1 1.2l2.1 -0.2l1.1 -2.6l0.3 -2.6l0 -3l0.7 -2.3l0.9 -1.4M240.2 133.3l1.6 -0.3l1.1 0.5l-1.2 0.3l-1.5 -0.5M229 90.4l1.9 -0.2l0.2 0.6l-1.6 0.3l-0.5 -0.7M239.9 94.6l0.9 0l-0.2 0.9l-0.7 -0.2l0 -0.7M254.3 141.9l3.4 0.7l2.9 -0.5l0.2 2.1M303.7 130.9l1.1 1l1.8 1.2l0.8 2l1.3 -0.4l0.7 0.7l0.7 1.3l1.7 0.5l1.8 -0.7l0 1.6l-0.7 1.2l-1.6 0.2l-0.2 1.2l-1 1.8l-1.4 0.8l-0.9 -1.7l0 -0.9l-1.8 -0.9l-0.3 -0.5l1.4 -0.7l0.2 -1.4l0.1 -1.2l-0.8 -1.5l-1.8 -2.1l-1.1 -1.5M303.7 141.6l0.9 1.2l1.8 -0.3l0.2 1.4M359 34.8l1.4 0.7l0.5 0.6l-1.4 0.8l-0.7 -1l0.2 -1.1M357.6 33.6l0.8 0l0.4 0.3l-0.9 0.2l-0.3 -0.5M354.9 32.5l0.7 -0.1l0.2 0.5l-0.7 0l-0.2 -0.4M352.3 31.5l0.5 -0.2l0 0.5l-0.5 -0.3M356.5 33.1l0.9 0l-0.4 0.1l-0.5 -0.1M472.2 70.9l0.9 -0.6l0 1.8l-0.9 -0.3l0 -0.9M474 71.2l0.5 0.2l-0.3 0.4l-0.2 -0.6M329.2 94.1l1.1 0.2l-0.5 0.3l-0.6 -0.5M330.6 94.8l0.9 0.2l-0.7 0.1l-0.2 -0.3M370 101.1l0.7 0.4l-0.5 0.2l-0.2 -0.6M324.8 107.5l0.4 0.1l-0.4 0M414.7 -3.5l0 1.7l-0.3 1.1l1 1.6l0.5 1.2l1.8 1.8l0.2 1l0.9 1.1l1 1.6l1.2 1.9l2 0.3l1.7 0.8l2.1 1.7l0.4 0.9l0.9 1.2l1 2.3l0.9 1.8l1.8 1.7l0.5 1.3l-1.4 0l1.2 1.2l2 0.9l1.5 1.4l0.4 2.1l3.2 2.1l0.7 0.9l0.8 -0.9l-1.5 -1.6l-0.7 -1l-1.1 -2l-1.2 -1.7l-1.3 -1.8l-1.4 -1.8l-1.2 -1.7l-0.9 -1.8l-0.2 -1.4l1.5 0.5l1.7 0.9l0.9 1.8l0.9 1.7l1.7 1.8l1.3 1.4l1.5 1.6l0.4 1.2l2.1 1.3l1.8 1.9l1 1l1.3 1.3l0.7 1.7l-0.4 1.8l-0.3 0.2l1.2 1.7l1.2 0.7l1.4 1.3l2.3 0.7l2.1 1l2 0.9l2.4 0.9l2.7 0.7l1.7 0.3l1.8 -0.8l1.7 0.3l1.8 1.4l1.4 1.2l2.1 1.1l1.8 0.5l2.1 0.7l1.9 0l0.4 0.4l0.3 0.5l1.4 1.2l1.2 1.5l0 1.2l0.9 1.2l1.1 0l1.2 0.9l0.7 1.2l1.1 0.6l0.3 0.5l1.8 0l1 0.7l0.6 0.7l1 -0.4l0 -1.4l1.3 -1.2l1.2 -0.2l1 1.1l0 1.6l1.1 0.8l0.5 1.8l0 1.8l0.2 1.7l0.4 0.4l-1.6 2.1l-1.4 1.4l-1.3 1.4l-0.9 0.3l-0.7 2.3l-0.8 0.9l0.1 2.1l1.4 0.5l0.2 0.9l-0.7 0.7l-1.6 1.6l-0.1 0.7l0.3 2.3l1.9 1.4l0.9 1.6l1.6 2.3l1.6 3.5l1.1 1.8l1.4 2.9l1.9 2.9l3 1.7l2.6 1.2l1.3 1.1l1.7 1.2l0.2 3l0 3.5l-0.5 2.7l-0.2 2.6l-0.4 3.5l-1 3.6l-0.2 1.7l-0.2 3.5l0 1.8l-1 3.5l-1.4 3l-1.1 1.4l0.5 3.5l-0.8 2.7l0 1.7M522.3 144.2l-3.3 -2.1l3.3 0.4l1.5 -0.7l0.1 -2l0.2 -1l3.5 -0.2l2.7 -0.5l1.7 -0.9l1.4 -2.1l-0.9 -1.4l-0.1 -1.3l-2 -1.2l0 -1.1l1.1 0.8l2.8 0.8l2.3 0l2.5 -1.6l1.5 -1.7l0.9 -1.4l2 -2.1l1.7 -2.7l2.1 -1.7l0.4 -1.8l0 -2.6l0.5 -1.1l2.3 -1.6l1.2 -0.8l2.3 -0.9l3.2 -0.9l2.1 -0.2l1.7 -1.6l0.2 -0.8l1.1 -2.1l1 -2.3l0.9 -2.1l0.4 -3.2l0 -2.1l0.8 -3.2l1.8 -2.1l0.9 -1.4l1.7 -1.8l1.4 -1.7l0.6 -1.8l0.1 -1.6l-0.7 -2.8l-2.2 -0.7l-1.5 -0.7l-2.1 -1.7l-2.2 -1.4l-3 0l-1.8 -0.4l-2.6 -0.4l-0.6 0l-1.2 -1.7l-2.6 -0.9l-2.7 -0.5l-0.8 1.4l-1.8 -2.3l-1.4 -0.4l0.5 -1.7l-1.4 -1.8l-0.7 -3.5l-0.9 -0.9l-1 -0.7l-3 -1.6l-2.1 -0.1l-3.2 -0.2l-2.1 -1.4l-1.4 -2.1l-1.8 -0.9l-1.7 -1.8l-1.8 -0.8l-0.9 -1.1l-2.6 0.2l-1.8 0.7l-1.7 -0.9l-1.8 0.2l-2.3 0l0 -1.2l-2.6 -0.6l-0.4 -1.2l-0.5 1.2l-1.7 0.9l-0.6 0.5l0.4 2.1l-1.1 0l0.2 -2.1l0 -1.4l1.1 -1.6l-1.8 0.9l-1.8 1.1l-1.5 0l-1.3 0.5l-1 1.1l-0.4 1.5l-1 0.9l-1.1 0.9l0.2 0.9l-1.1 -1.1l-0.9 -1.2l-1.9 -0.5l-1.6 0.5l-1.6 0.7l-1.5 -0.2l-0.9 -0.3l-0.7 -0.7l-0.7 -0.7l-1.1 -1.6l-0.2 -2l0.4 -1.7l0.2 -2.3l0.3 -1.2l-1.4 -1.1l-1.7 -0.5l-1.8 0l-2.6 0.2l-1.3 0.1l-1.2 -0.3l0.5 -0.7l0.6 -1.2l0.1 -1.8l-0.1 -0.9l1 -0.3l0.4 -1.4l0.1 -1.5l1.1 -1.5l-0.7 -0.6l-2.3 0l-2.1 0.4l-1.1 0.3l-0.1 1.1l-0.4 1.2l-1.2 1.4l-0.9 0.7l-1.6 0l-2.6 0.7l-1.4 -0.7l-1.4 -0.3l-0.6 -0.7l-0.7 -1.4l-1.2 -1.4l-0.4 -1.3l-0.7 -1.4l0 -2.1l0.4 -2.6l0.7 -1.6l-0.4 -1.9l0.4 -1.4l1.4 -1.1l1.9 -1.1l0.9 -0.7l1.8 -0.5l2.3 0.2l1.7 0.5l1.8 0.2l1.9 0.2l0.4 0.1l-0.6 -1.4l0.4 -0.8l2.3 0l1.7 -0.2l1.8 0.2l1.1 1l1.7 -0.5l1.4 0.5l1.4 1.2l0.2 1.8l0.9 2.1l0.7 1.2l1 1.6l1.3 0l0.7 -1l0.1 -1.8l-1 -3l-0.7 -1.7l-0.7 -1.6l0.3 -2l0.6 -0.8l1.5 -1.3l1.8 -1.4l1.8 -0.7l1.7 -1.2l0.9 -0.2l1.8 -1l-0.7 -2.1l-0.2 -0.9l-0.7 -0.6l0.2 -1.2l-0.4 -2.1l0.7 -0.3l0 1.9l0.4 1.9l1 -1.4l0.4 -0.9l0 -0.5l-0.7 -1l1 0.7l1.1 -0.9l0.5 -1.4l0 -0.6l1.8 -0.1l1.7 -0.6l0.2 -0.5l-2.8 0.5l-0.9 0.6M483.8 31.8l1.6 -1.4l1.8 -0.5l1 -0.4l2.5 0.2l1.7 0.4l1.8 0.9l1.8 0.3l1.4 0.9l2.1 0.9l0.9 0.7l2.3 1l-1.5 0.6l-1.7 0l-3 0.1l0.9 -1.2l-1.8 -0.5l-0.5 -1.3l-1.8 -0.3l-1.7 -0.5l-1.8 -0.4l-0.9 -0.3l-1.4 -0.4l-1.2 0.7l-1.4 0.4l-1.1 0.1M487 32l0.9 0l-0.2 0.5l-0.5 0l-0.2 -0.5M502.3 38l2.5 0.3l1.2 -0.7l-0.9 -1l-1 -0.9l1.5 -0.3l1.4 0.1l2.2 0l1 0.4l1.2 0.5l1.5 1.2l-1.1 0.4l-1.6 0l-1.4 0.2l-1.2 1l-0.7 -0.9l-1.8 0.2l-1.7 0.2l-1.1 -0.7M495.4 38l2.3 0l1.4 0.7l-1.4 0.3l-2.1 -0.5l-0.2 -0.5M515 38l2.6 0.2l-0.2 0.5l-2.4 0l0 -0.7M524.3 51.5l1.6 -0.1l0 1.2l-1.6 0l0.7 -0.5l-0.7 -0.6M524.5 41.7l0.8 0l-0.5 0.5l-0.3 -0.5M525.5 44.3l0.5 0.4l-0.1 0.3l-0.4 -0.7M525 42.9l0.3 0.5l-0.1 0l-0.2 -0.5M525.7 45.7l0.3 0.4l-0.1 0.2l-0.2 -0.6M528.3 47l0.2 0.3l-0.2 0l0 -0.3M587.8 3.9l1 0l-0.5 0.1l-0.5 -0.1M602.9 12.7l0.9 0l-0.4 0.3l-0.5 -0.3M603.4 20.4l1.3 -0.2l-0.7 0.9l-0.6 -0.7M605.4 21.1l0.7 -0.2l-0.2 0.6l-0.5 -0.4M607.8 20.9l0.9 -1l0.7 -0.9l-0.7 1.8l-0.9 0.1M591.5 43.6l0.3 0.5l-0.3 -0.1l0 -0.4M588.7 40.3l0.5 0l-0.4 0.3l-0.1 -0.3M93.9 48.2l1.8 0l-0.6 0.5l-1.2 -0.5M97.3 107.3l0.8 0.2l-0.3 0.5l-0.5 -0.7M101 105.7l0.7 0.2l-0.6 0.5l-0.1 -0.7M76.2 90.6l0.3 0.7l-0.3 0l0 -0.7M68.9 80.6l0.6 0.7l-0.4 0.3l-0.2 -1M163.2 46.6l0.4 1.8l-0.6 1.5l-0.1 -1.5l0.3 -1.8M164.8 57.7l0.3 0.5l-0.3 0.2l0 -0.7M14.9 63.8l0.8 0.2l-0.4 0.5l-0.4 -0.7M173.6 72.1l0.9 1.1l-0.6 0.1l-0.3 -1.2M171 67.9l1 1l-0.5 0.2l-0.5 -1.2M185.2 73.3l1.4 -0.1l0.9 2.1l-1.2 -0.4l-1.1 -1.6M189.2 74.9l1.1 0.2l-0.4 0.9l-0.7 -1.1M51.5 76.3l0.7 1.4l0.2 2l0.7 2.1l0.9 1.9l0.7 1.8l-0.9 -0.2l-1.2 -1.9l-1.1 -2.5l-0.3 -2.6l0.3 -2M59.6 87.1l1.1 1.7l0.7 1.8l-0.2 1.7l0.5 2l0.2 1.2l-0.5 0.2l-0.7 -1.3l-0.6 -1.7l0 -2.1l-0.3 -1.8l-0.2 -1.7M55.9 72.1l0.4 -1.9l1.7 -0.6l1.8 0.6l0.2 1.6l-0.2 1.2l-0.7 1.4l-1.4 0.5l-1.6 0l-0.3 -1.4l0.1 -1.4M53.5 68.4l1 -1.4l0.7 -0.7l-0.3 1.1l-0.9 1l-0.5 0M51.7 70.7l0.7 0.2l-0.3 0.7l-0.4 -0.9M50.8 73.3l0.7 0.2l-0.1 1.1l-0.6 -0.2l0 -1.1M510 97.4l1.3 0.4l0.8 1.4l-1.2 -0.7l-0.9 -1.1M482.1 49.4l1.6 0.5l0.3 0.9l-1.4 -0.3l-0.5 -1.1M495.3 26.2l0.8 0l0.6 1.4l0 0.9l-0.9 -0.7l-0.5 -1.6M496.3 23l1.1 0.4l0.5 0.9l-0.7 0.5l-0.2 -0.9l-0.7 -0.9M494.2 23.4l1.4 -0.2l0.7 0.2l-0.9 0.3l-1.2 -0.3M498.1 25.5l0.9 0.4l0.3 1l-0.5 -0.5l-0.7 -0.9M499.8 26.9l0.7 0.7l0.2 0.4l-0.5 -0.2l-0.4 -0.9M499 28.1l0.8 0.7l0.6 0.4l-0.7 -0.2l-0.7 -0.9M500.5 28.7l0.7 0.8l0.4 0.8l-0.5 -0.6l-0.6 -1M502.3 30.3l0.9 0.1l0 0.9l-0.7 0l0.2 -0.7l-0.4 -0.3M504.4 31l0.9 0l-0.5 0.1l-0.4 -0.1M503.5 33.1l1.1 -0.2l0.2 0.5l-1.1 0.2l-0.2 -0.5M505.8 32l1.4 -0.2l0.2 0.6l-1.4 0l-0.2 -0.4M496.7 26.2l0.7 0l-0.4 0.2l-0.3 -0.2M490 36.2l0.5 0l-0.3 0.2l-0.2 -0.2M489.3 27.1l1 -0.2l1.1 -0.5l0.3 -0.4M629.3 8.6l0.9 2.8l0.8 2.3l-3.1 1.2l-1.4 1.3l-3 1.7l-2.7 0.6l-3 1.4l0 2.4M609.9 21.7l7.9 0M617.8 22.3l0 2.3l-5.8 0l0 4.4l-1.7 0.9l0 3l-7 0M617.8 22.3l6.9 4.1M624.7 26.4l-3 0l1.8 14.9l0.3 1.8l-7 0l-2.5 0.2l-1.4 -0.4l-1.2 1.4M15.1 5.5l-0.5 0.7l-0.2 2.6l-1.2 1.8l0 1.4l1.4 1.2l1.2 0.9l0.9 3.1M20.2 12l0 1.2l-2.1 1.2l-0.2 1.8l-1.2 1M16.7 17.2l0.7 2.1l-0.2 3.6l0.4 0.8l-1.1 0.6l1.1 2.4l2.6 1.1l0.9 1.2M21.1 29l-7.9 4.8l-3 2.3l-2.8 0.7M7.4 36.8l-1.9 0l0.1 -1.3l-2.4 -0.9l-1.1 -1.4l-10.5 -6.8M640.5 36.8l-1.9 0l0.2 -1.3l-2.5 -0.9l-1 -1.4l-10.6 -6.8M44.3 14.8l-0.5 1.9l0.2 2.3l0 12.7l0 3.5l-1.8 0l0 0.9M44 31.7l20.9 0M42.2 36.1l-15.8 -6.2l-1.4 0.7l-3.9 -1.6M42.2 36.1l0 6.6l-1.7 0.2l-0.2 1.1l-1.1 1.2l0.4 1.4l-1.3 1.4l2 2.3l0 0.9M26.4 29.9l1.6 4.6l-0.7 6.1l-3.6 4.4l0 1.3M23.7 46.3l1.3 1.4l1.4 1.4l0.2 2.3l0.7 1.5l-2.7 0l-0.2 0.6l2.9 3.7M27.3 57.2l1.7 -0.4l2.1 -0.3l1.6 -0.4l0.7 -1.6l2.5 -0.2l2.3 -2.6l2.1 -0.5M40.3 51.2l1.4 1.7l-0.4 1.8l1.3 0.7l1.7 1.6l2.1 1.7l1.8 2.7M67.9 38.7l-2.8 1.8l-0.9 3.5l-0.2 1M64 45l-0.5 3l-1.9 2.1l-1.3 1.6l-0.2 1.9l-0.5 1.8l-1.6 0.9l1.8 1.4l2.3 3.2l1 1.4l-2.6 0.5l-0.7 0.2M59.8 63l-0.9 0.7l-2.6 0.3l-1.8 -0.3l-0.3 0.5l-1.4 -1.6l-1.8 0l-1.8 0.2l-1 -1.4M64 45l2.7 -0.7l1.9 0.4l2.1 0.3l2.3 2l1.6 1.4M75.8 48l-1.2 0.4l-1.1 1.7l0 0.9l2 0l0.5 -0.9M75.5 51l0.1 1.8l1.8 1.7l5.3 1.8l1.7 0l-5.3 5.3l-2.6 0.3l-2.6 1.2l-0.2 0.4M73.7 63.5l-1.6 1.9l0 4.9l0 1.6l1.1 1.4M73.7 63.5l-1.9 -0.5l-1.8 0.5l-3 0.5l-2.1 -1.4l-1.8 -0.3M59.8 63l0.9 1.2l0.9 3l-0.9 1.4l-0.9 1.4l-0.2 2.1M59.6 72.1l6.7 3.7l0 0.7l2.6 2.1M54.2 64.2l0.8 2.3l-1.4 1.7l-1 1.3l-0.5 1.7l0 1.6M52.1 72.8l1.5 -0.7l6 0M53.6 72.1l0.6 2.3l-0.6 0.2l0.6 1.6l-0.7 1.2l-1.8 0.9M52.1 72.8l-1.1 2.3l0.4 1.4l0.3 1.8M51 75.1l2.6 -0.5M51.7 78.3l0.4 2.6l1.9 3.9l3.9 2.1l1.9 0.2l0.9 0.8l0.2 2.9l2.4 0.1l2.7 0l1.7 -0.5l3.4 -1.6M57.9 86.9l0.7 2.4l-0.2 3l-0.9 2l0.9 0.7l2.3 0.9l-0.4 2.1l1.8 2.4l0.9 -1.9l0 -2.1l-1.6 -2.3l-0.5 -3.3M58.4 95l-5.3 1.7l0.4 1.1l4.4 1.9l0 3.2l-0.4 1.7l-0.3 3.2l-2.2 1.9l1.3 3.7l-0.2 2.5l0.4 1.6l1.4 0.2M56.1 115.9l-1.6 -0.4l-0.3 2l0.8 0.9l1.5 -0.9M47.5 122.4l1.7 -1.6l1.8 0.4l0.7 1.2l-1.6 1.8l-1.9 -0.6l-0.7 -1.2M55 109.7l-3.3 -0.3l-2.5 1l-1.7 1.5l-0.2 1.2l-1.7 0.9l-0.6 1.4l-1.6 0.3l-2.9 -0.9l-0.8 1.5l-1.5 1.2l-1.8 0l0 -2.3l-1.2 -1.2M35.2 114l0 6.3l-1.8 0.9l-1.7 -0.2l-1.1 -0.2l-1.6 -0.1M35.2 114l0 -5l1.7 0l0 -6.5l4.4 -0.5l1.6 -0.2l1.6 -0.1l-2.3 -0.6l-1 0.2M20.8 100.8l2.1 -0.6l1.7 0.8l7.8 0l5.2 0.8l3.6 -0.5M44.5 101.7l1.2 2.1l2.3 2.6l1.2 1.9l2.5 1.1M44.5 101.7l3 0.3l3.3 -3.5l2.7 -0.7M41.2 101.3l-2.5 -2.5l0 -5.6l3.5 0l0 -3.7M42.2 89.5l-1.7 0.4l-1.5 0.1l-0.3 -2.1l-0.4 -3.5l0 -1.2l-2.2 -0.2l-1.8 1.2l-0.9 0.2l-2.1 0.2l-2.1 -3.9l-5.6 0l-2.1 0.2M21.5 80.4l1.4 -2M42.2 89.5l2.3 1.3l1.2 0.5l2.1 -0.5l2.1 1.5l1.1 1.6l1.4 0l0 -2.1l-1.4 0.4l-1.1 -0.9l0.4 -2.5l0 -2.1l0.5 -1.4l3.2 -0.5M21.1 79.1l1.8 -0.7l2.4 0.4l1.6 -0.9l1.6 -3.7l2.6 -3l0.6 -1.7l0.1 -3.2l0.9 -2.1M32.7 64.2l0 -1.6l1.6 -1.2l2.6 1.2l2.7 0.5l1.7 -1l2.7 -0.5l4.2 -0.2M19.5 77.2l1.3 -0.7l1.2 -2.1l2.3 0.2l1 -0.9l0.2 -2.3l-1.1 -1.1l1.1 -1.7l-2.1 -0.5l-0.2 -1.6M17.2 68.6l2.7 0l0 -2.1l-2.7 -0.2M19.9 66.5l3.3 0l2.3 0l2.6 0.9l0.4 -0.9l-2.1 -2.3l-0.7 -2.6l-0.2 -1.8l1.8 -2.6M28.5 66.5l0.7 -2.3l3.5 0M15.1 61.9l0.7 -1.8l2.1 -1.9l2 0.5l0.9 -0.7l0.7 -2.4l1.7 -2.1l1.1 -2.5l1.4 -0.9l-0.7 -1.6l0 -0.8M23.7 46.3l-1.7 1l-3.2 -0.5l-1.9 1l-1.6 -0.3l-1.6 -0.5l-1.6 0.5l-2.4 -1.6l-2.5 0.7l-0.9 3.2M6.3 49.8l0.4 2.1l-1.8 2.4l-0.2 2.2l0 2.6M2.8 59.4l0 -1.4l0 -3.5l-0.3 -0.7l-1.1 -1.7l0.2 -1.1M636 59.4l0 -1.4l0 -3.5l-0.4 -0.7l-1 -1.7l0.1 -1.1M2.1 59.6l-1 -1.4l-0.2 -1l0.2 -1.3l-0.4 -1l0 -2.1l-0.7 -1.1l-0.2 -0.9M635.3 59.6l-1.1 -1.4l-0.2 -1l0.2 -1.3l-0.3 -1l0 -2.1l-0.8 -1.1l-0.1 -0.9M4.2 49.2l-0.2 0.6l-1.5 0.5l-0.9 0.7l-1.8 -0.2l-4.7 0.2l-0.2 1.2l0.2 1.1l-2.1 -0.2l-1.3 0l-1.4 -1M637.4 49.2l-0.2 0.6l-1.6 0.5l-0.9 0.7l-1.7 -0.2l-4.8 0.2l-0.2 1.2l0.2 1.1l-2.1 -0.2l-1.2 0l-1.4 -1M-9.7 52.1l0.4 -1.8l1.6 -1.2l0.1 -2l1.8 -0.1l0.7 -1.3l1.6 -0.3l1.7 -1.1l2.2 -0.3l0.3 1.7l1.1 1.1l0 0.9l1.9 0.3l0.5 1.2l2.1 0.6M623.5 52.1l0.3 -1.8l1.6 -1.2l0.2 -2l1.7 -0.1l0.7 -1.3l1.6 -0.3l1.8 -1.1l2.1 -0.3l0.4 1.7l1 1.1l0 0.9l1.9 0.3l0.6 1.2l2.1 0.6M627.7 61.4l0.5 -0.9l-0.7 -2.1l1.3 -2.5l-0.6 -2.6M620 62.6l0.1 -2.5l-1.7 -1.2l-0.2 -1.9l1.1 -1.6l0.1 -1.6l-0.3 -1.4l3.1 -0.7l1.3 0.4M618.2 57l-1.6 0.3l0 -1.7l-1.6 -0.2l-2.1 2.8M615 55.4l-0.5 -1.1l-1 -1.5l-2.3 0.1l-1.4 1.6M619.1 52.4l-0.5 -1.4l-1.3 -2.5l-2.3 0.4l-1.9 -0.4l-1.6 0.2l-2.4 -0.7l0 1.8l-2.3 1.4M609.1 48l-5.3 0.5M603.6 47.3l3.2 -0.2l2.1 -0.1l0 -0.6l-2.1 -0.1l-2.8 0.1M604.1 42.2l0.4 -0.9l3.1 -0.1l2.2 1.7l1.9 1.4l0.3 2.3l1.1 1.9M7.4 36.8l0 4.7l-1.2 1.8l-3.9 0.1l-1.9 0.6M640.5 36.8l0 4.7l-1.2 1.8l-3.9 0.1l-1.9 0.6M60.1 15.3l1.3 3.2M61.5 18.5l0.9 -3.6l0.2 -2.1M61.7 12.1l0.9 -0.3l1.4 -1.2l0.2 -1.1l-0.9 0M62.6 11.8l0 1M63.1 7l1.3 -0.3l0.1 -1.1l2.3 0l3.5 0l4.1 -0.7M74.4 4.9l-1.8 1.4l-0.5 3.5l-3.9 1.8l-3.5 1.9l-2.1 -0.7M68.2 11.6l0.7 2.1l-3.8 1.2l1.7 1.8l-0.8 0.9l-1.5 0.2l-1.2 1.2l-1.7 -0.2M68.9 13.7l2.2 0.5l2.8 1.5l4.7 3.3l3.2 0.2l2.1 1l1.2 0M81.8 19.2l0.9 -1.6l1.5 0M74.4 4.9l4.4 0M78.8 4.9l1 2.1l1.5 0.7l-1.3 2l0.9 2.3l3.2 2.1l-0.2 1.7l1.4 1.8M78.8 4.9l-1.1 -2.3l0.6 -2.1l0.5 0l3 1.4l2.6 -1.4l1.6 2.3M78.3 0.5l-1.4 -0.9l-0.2 -1.5M78.8 0.5l1.2 -1.6l1.8 2l0 1M80 -1.1l-0.9 -1M75.3 41.5l0.9 -1.8l2.1 0l4.4 0.8l1.7 -2.2l7.1 -1.4l5.2 -1.7l1.3 -3.5l-0.9 -1.3l-4.6 -0.3l-1.7 -2.3M91.5 36.9l1.9 4.3M97.1 30.4l1.4 -2.3l0.7 -1.5M98.5 28.1l-0.4 -0.3l0.6 -3.2M89.3 26.9l0.9 0.2M95 4.7l2.6 -1.2l3.2 -0.3l2.1 0.8l1.7 0.9l3 1.1l0 1.7M107.6 7.7l-1 2l0 2.3l0.5 2.9l1.6 0.9l-1.6 2.1M107.1 17.9l1.4 2l1.9 0.9l0 1.7l0.9 0.9l-2.3 0.7l-0.7 1.9M107.1 17.9l2.8 0.7l2.7 -0.1l3.8 -0.6l0.4 -1.9l2.4 -0.9l2.7 -0.9l0.3 -1.9l1.4 -0.7l-0.5 -1l1.9 -0.8l0.9 -1.9l-0.1 -1.4l3.5 -1l2.4 -0.6M107.6 7.7l2.7 0.6l3.1 -1.8l2 -1.9l3.8 0.3l2.7 0.2l1.6 -0.9l0.5 -0.9l1.4 -0.3l0.5 2.6l3 -1l2.8 0.3M117 4.6l0.1 -1.1l-2.8 -1.7l-2.3 -0.7l-2.3 -1.1l-2.4 -2.1l-1.8 -1.1M119.2 4.9l1.1 -1.7l-1.2 -2.5l1.4 0l1.4 -1.1l1.9 0.2l0.4 -1.4l0.3 1.2l3.9 1.5l1.4 -0.2l-0.2 2.6l2.1 1.4M124.2 -1.6l2.4 -0.7l2 0.9l-2.5 1l-1.6 0M131.7 4.9l-0.7 -2.3l-1.2 -1.7l1.8 -1.8l3.5 -0.9l2.6 -0.5l3.4 -1.6M119.9 28.8l1.1 -1.2l3.7 -0.2l-1.4 -2.2l0.5 -2.3l-1.4 -0.4l1.4 -1.4l2.7 0l1.9 -2.1l1.6 -1.8l1.2 -1.5l-0.2 -1.6l1.4 -0.6l-1.7 -1.2l-0.7 -2.6l5.1 -2l1.7 0.2M131.7 4.9l2 2.1l3.1 0.9M136.8 7.9l2 1.9l-0.2 2l1.2 1.4l-1.4 1.7l4.1 2.3M142.5 17.2l-1.6 2.5l3 1.6l2.6 0.9l2.6 0.5l1.8 0.9l2.6 0.3l1.4 -0.2l0 -2.4M142.5 17.2l2.1 0.4l2.3 1.4l2.8 1.2l1.6 0.9l3.6 0.2l1.5 1M156.4 22.3l1.5 1.1l3 -0.2l1.1 -0.2l-0.7 -1.5l-2.5 -0.6l-1.4 0l-1 1.4M154.9 23.7l1.5 -1.4M161.3 21.5l4 -2l3.5 -0.9l2.3 2.2M156.5 32l0 -1.2l-0.3 -1.3l-0.2 -1.7l-1.1 -0.7l0.4 -1.1l1.1 -1l-0.8 -1.1l2 0.5l0.3 1.5l4.6 0.5l-0.3 1.2l-1.8 0.5l0.3 1.4l0.8 0l0.8 -0.8l0.6 3.1l-0.7 1.3l0.1 0.8M162.9 31.8l1 -0.5l0.2 -3.2l2.5 -2.4l0.8 -2.3l3.2 -1.8l0.5 -0.8M171.1 20.8l2.3 1.2l0.2 3l-1.9 1.7l0.1 1.4l2.1 0l0 1.4l1.1 0.6l-0.5 1.4l1.7 1.2l1.8 0.4l-1.9 1.5M176.1 34.6l-2 0.6l-1.7 0.5l-0.6 2.1l-0.3 1.2l2.1 2.7l-0.9 1.9l1.8 2.7l0 1.9l0.7 1.4l-1.1 1.8l-0.3 0.8l-0.4 0.7M176.1 34.6l0.7 1.5l1.2 0l-0.4 2.6l0.4 0.9l1.6 -1.3l1.2 0.6l1.1 -0.9l2.2 1.6l0.2 1.9l1.2 1.2l0 2.1M185.5 44.8l-1.2 0.2l-3.1 0.2l-0.9 1.2l-0.2 2l0.9 1.4M178 33.1l1 0l0 -2.1l0.7 0l1.1 1.2l0.4 1.4l2.6 0.9l-0.9 1.6l1.8 1.4l2.6 3l1.8 2.6l0 1.4M185.5 44.8l0.9 0.9l2.7 -1.2M189.1 44.5l0 4.2l-2.1 0.9l-0.7 0.5l0.5 0.9l-2 0.2l-1.2 0.9M179.7 31l3 -0.4l2.5 -1.2l2.5 0.9l0.1 1.4l2.1 0.8M176.1 59.1l1.7 1.2l1.2 -0.2l0.6 -0.7M192.8 66.8l0.7 1.4l2.6 0.4l1.2 -0.7l2.3 0.2l2.3 -1.3l1.2 -2.1l0.4 -1.7l3.3 0M200.7 62.3l1 1l1.1 -0.5l0 -1.1M248 74.9l0 11.5M219.8 85.7l0.2 1.2M221.8 4l1.6 -1l2.2 -0.5M218.6 0.2l2.1 -1.6l2.5 -1.8M620.1 4.9l-0.1 -1.4l0.8 -0.3l-0.5 -2.1l0.5 -0.6l0.2 -2.3l1.2 -1M45.7 -1.2l1.1 -1.1M35.2 0.5l1.2 -1l0.5 -1.1M427.2 13.2l4.2 -0.4l-0.2 0.4l6.6 2.1l5.1 0l0 -0.9l2.9 0l2.7 2l0.9 1.9l2.2 1l1.3 -1.4l1.9 0l1.2 1.3l2.2 2.8l0.8 1.9l3.2 0.9M471 44.8l0 -1.4l0.9 -1.4l2.3 0l0 -0.5l-1.8 -1.5l0.7 0l0 -1l3.3 0l0.6 -0.1l0.9 -1.1M476.4 39l-0.1 3.4l0.5 0M478 42.7l-1.7 1.4l-0.3 0.9l-1.3 1.2M476 45l1.5 0.7l1.2 1.1l0.2 0.3M479.6 47.5l1.1 -1.4l1.7 -0.4l1.4 -1.4l3 -0.3M482.4 50.8l1.4 0.2l2.1 0.2M487.9 53.5l-0.6 0.8l0 1.8M497 55.2l0.4 1.3l-1.3 1.2M507.8 49.5l-1.6 1.3l-1.4 3.2l1 1.6l0 1.7l0.9 0.7l3.2 0l1.2 1.6l3.3 -0.2l-0.5 1.6l0 2l0.9 1.4l-0.9 1l1.4 2.8l0.2 0M515.5 68.2l-0.4 -0.8l-1.7 0l-3 0l0 1l1 0.2l-0.3 0.5l-1.1 0.2l0 1.4l1.1 1.6l-0.9 5.4M510.2 77.7l-1.4 -0.7l1.1 -1.9l-3.2 -0.7l-1.9 0l-1.8 -2.3l-2.1 -1.6l-1.9 -0.9l-2.2 -0.5l-2.2 -1.2M500.9 70.5l-0.7 2.5l-1.8 1.9l-2.4 1.3l-0.7 0.8l-0.6 1.4l-0.7 0.7l-0.8 -0.8l-1.5 -0.2l0 -1.6l0.4 -0.2M510.2 77.7l-1.7 0.4l-3.4 1.2l-0.7 1.8l-1.4 2.1l0.5 0.2l1.3 2.8l1.2 0.9l0.2 0.8l2.8 -0.8l0 2.6l1.7 -0.1M510.7 89.6l1.6 2.7l-0.5 2.1l-0.7 2.3l0.3 0.9l0.7 1.4l-1.4 1.8l0.2 0.3l-1.6 1.5M510.9 101.1l1.1 2.7l0.7 1.7l0.5 2.7l0.7 2.2l1.1 0M515 110.4l0.3 0.4l-0.5 1.8l-2.1 1l0.3 3.4l-0.5 1l-1.9 2.5l-0.6 2.6l-0.8 2.1l0.8 3.7l0.4 1.8l-1.1 1.6l0 1.7l-1.2 0.7l0.2 3.4l-1.3 2.6l-0.1 3.5M515 110.4l1.7 -1.7l3 0.9l0.4 0.8l2.8 -1l0.2 0M523.1 109.4l0.5 -3l0.9 -1.6l4.9 -0.5l1.4 0.9l0.2 0.5M531 105.7l0.5 -1.9l0.5 -1.4l-1.6 -1.6l0 -1.8l-3.1 0l-0.6 -4.4l-2.6 -1l-1.8 -0.9l-2.4 -0.5l-1.6 -1.3l-0.2 -3.5l-2.1 0.4l-2.4 1.4l-2.9 0.4M531 105.7l0.3 3.5l2.5 0.2l1.4 0.3l0.5 2.9l1.9 0.1l-0.5 2.7M523.1 109.4l2.8 2.8l3.5 1.8l2.4 1l-1.7 3.2l3.7 0.3l1 -0.1l2.3 -3M537.1 115.4l1.4 0.1l0.2 2l-2.3 1.7l-1.4 1.1l-3.2 3.2M531.8 123.5l2.9 1l0.8 0.2l2.7 1.8l1 1.2l0 1.9M531.8 123.5l-1 3.1l-0.4 3.5M515.5 68.2l2.5 0.7l2.6 -1.2l-0.5 -1.7l1.5 0.3l-1.5 -2.1l-0.6 -1.1l3 0.7l0.4 -0.5l3 -0.9l0.5 -1.2M526.4 61.2l-1.2 -1.2l0.5 -1.4l1.4 -0.7l-0.7 -0.7l1.6 -1.4M526.4 61.2l1.2 0.4l0.2 1l0.7 0.9l-0.9 1.9l0.7 1.8l1.4 1l1.4 -0.5l1.3 -0.9l1.4 0.2M533.8 67l-1.4 -2.5l-1.3 -1.2l0.2 -1.4l1.1 -0.9l0.3 -1.2M533.8 67l1 -0.2l-0.1 -0.5l2.4 0l2 0l1.5 -0.3l1.6 -3M537.1 66.3l0.7 -1.2l-0.5 -3.2l0.9 -1.6M507 35.7l0 1.9l-0.5 0l0.5 1.1" fill="none" stroke="#555" stroke-width="1.65" stroke-linejoin="round"/>
<path d="M432.6 5.3l34.1 0M466.7 6.2l7.9 0l-0.3 0.8l1.1 0M475.7 6.2l2.6 0l0 -0.3l7.6 0.1l3.6 0l10.2 0.1M453.7 0l11.8 0M422.1 -3.5l0 5.3l9.5 7l-0.2 4M432.6 -3.5l0 10.2l-1.2 0.2l0.2 1.9M441.4 15.3l0 -18.8M445.7 14.1l6.2 0l0 -8.8M451.9 6.2l5.4 0l0 3.3l1.4 0.5l2.1 0.4l1.8 0.5l1.7 0l2.6 0.4l0.8 0.1l0 2.7l0.7 1.7l-0.2 2.3M467 11.3l0 -3.2l-0.3 -1.9l0 -4.6l-1.2 -1.6M467.7 12.3l5.1 0M475.7 17.2l-0.3 -1.4l-3.4 0l1.1 -1.7l-0.3 -1.8l1 -2.6l0.9 -0.9l0.9 -2.1l0.7 -1.4l-0.6 -1.4l-1.2 -1.8l-0.9 -0.9l-1.2 -1.2l0 -0.7l0.7 -1.1M478.2 8.8l-0.5 5.4l0 2.9M482.6 8.8l0.7 3.7l0.4 3.3M479.3 17.1l-0.2 -1.3l4.6 0l0.1 0.6l4.8 0.1l0.3 0.4l0.9 -0.5M474.3 8.8l10.6 0l2.1 0l1.4 -0.4l2.3 0.2l0.3 0.5l2 0l2.1 1.7M487 8.8l1.9 2.6l1.6 2.5M484.9 8.8l2.3 -1.4l2.3 -1.4M478.4 3.9l0.9 -2.7l0 -4.7M484 1.6l0 -5.1M476.3 5.3l2.1 -1.4l1.7 -0.2l1.8 -0.2l1.1 -1.2l1 -0.7l1.4 0.5l2.5 0.7l1 -0.9l0.6 -0.5l1.4 -0.9l0.7 -1.6l0 -2.4M485.9 6l3 -1.6l-1 -1.2M489.1 4.4l2.8 0l1.4 -1.8l2.1 -1.5l1.1 0.1l1.2 0.7l1.3 1.6M491.6 0.5l8.2 0l0 2.2l1.4 0M493.3 0.5l0 0.9l2.1 -0.3M500.4 0.4l1.4 -0.8l-0.9 -0.8l0.9 -1.3M453.7 5.3l0 -8.8M437.8 -1.8l15.9 0M437.8 -3.5l0 1.7M465.5 0l-0.8 -1.1l-0.4 -1.5" fill="none" stroke="#555" stroke-width="2" stroke-linejoin="round"/>
<path d="M0 70.3 H633.1" stroke="#444" stroke-width="1.5" stroke-dasharray="4.5 5.5" stroke-dashoffset="1.6" fill="none"/>
<path d="M316.6 0 V140.7" stroke="#444" stroke-width="1.5" stroke-dasharray="4.5 5.5" stroke-dashoffset="0" fill="none"/>
<g transform="translate(160.6 41)"><path d="M-4.3-1.5Q-4.2-6.3 2.1-7.7M4.3 1.5Q4.2 6.3-2.1 7.7" fill="none" stroke="#000" stroke-width="4.2" stroke-linecap="round"/><circle r="5.7" fill="#000"/><path d="M-4.3-1.5Q-4.2-6.3 2.1-7.7M4.3 1.5Q4.2 6.3-2.1 7.7" fill="none" stroke="#e00000" stroke-width="2.2" stroke-linecap="round"/><circle r="4.7" fill="#e00000"/><text x="0" y="3" text-anchor="middle" font-size="8.2" font-weight="bold" fill="#fff" stroke="none">K</text></g>
<g transform="translate(451.9 47.6)"><path d="M-4.3-1.5Q-4.2-6.3 2.1-7.7M4.3 1.5Q4.2 6.3-2.1 7.7" fill="none" stroke="#000" stroke-width="4.2" stroke-linecap="round"/><circle r="5.7" fill="#000"/><path d="M-4.3-1.5Q-4.2-6.3 2.1-7.7M4.3 1.5Q4.2 6.3-2.1 7.7" fill="none" stroke="#e00000" stroke-width="2.2" stroke-linecap="round"/><circle r="4.7" fill="#e00000"/><text x="0" y="3" text-anchor="middle" font-size="8.2" font-weight="bold" fill="#fff" stroke="none">S</text></g>
</svg>
<path d="M0 0v-4.8M0 140.7v4.6M105.5 0v-4.8M105.5 140.7v4.6M211.1 0v-4.8M211.1 140.7v4.6M316.6 0v-4.8M316.6 140.7v4.6M422.1 0v-4.8M422.1 140.7v4.6M527.6 0v-4.8M527.6 140.7v4.6M633.1 0v-4.8M633.1 140.7v4.6M0 123.1h-4.8M633.1 123.1h4.6M0 70.3h-4.8M633.1 70.3h4.6M0 17.6h-4.8M633.1 17.6h4.6" stroke="#000" stroke-width="2.6" stroke-linecap="round" fill="none"/>
<path d="M17.6 0v-3.4M17.6 140.7v3.4M35.2 0v-3.4M35.2 140.7v3.4M52.8 0v-3.4M52.8 140.7v3.4M70.3 0v-3.4M70.3 140.7v3.4M87.9 0v-3.4M87.9 140.7v3.4M123.1 0v-3.4M123.1 140.7v3.4M140.7 0v-3.4M140.7 140.7v3.4M158.3 0v-3.4M158.3 140.7v3.4M175.9 0v-3.4M175.9 140.7v3.4M193.5 0v-3.4M193.5 140.7v3.4M228.6 0v-3.4M228.6 140.7v3.4M246.2 0v-3.4M246.2 140.7v3.4M263.8 0v-3.4M263.8 140.7v3.4M281.4 0v-3.4M281.4 140.7v3.4M299 0v-3.4M299 140.7v3.4M334.2 0v-3.4M334.2 140.7v3.4M351.8 0v-3.4M351.8 140.7v3.4M369.3 0v-3.4M369.3 140.7v3.4M386.9 0v-3.4M386.9 140.7v3.4M404.5 0v-3.4M404.5 140.7v3.4M439.7 0v-3.4M439.7 140.7v3.4M457.3 0v-3.4M457.3 140.7v3.4M474.9 0v-3.4M474.9 140.7v3.4M492.4 0v-3.4M492.4 140.7v3.4M510 0v-3.4M510 140.7v3.4M545.2 0v-3.4M545.2 140.7v3.4M562.8 0v-3.4M562.8 140.7v3.4M580.4 0v-3.4M580.4 140.7v3.4M598 0v-3.4M598 140.7v3.4M615.6 0v-3.4M615.6 140.7v3.4M0 105.5h-3.4M633.1 105.5h3.4M0 87.9h-3.4M633.1 87.9h3.4M0 52.8h-3.4M633.1 52.8h3.4M0 35.2h-3.4M633.1 35.2h3.4" stroke="#000" stroke-width="1.7" fill="none"/>
<rect x="0" y="0" width="633.1" height="140.7" fill="none" stroke="#000" stroke-width="2.8"/>
</g>
<text class="k" x="100.7" y="31.6" font-size="34.9">22-Oct to 31-Oct</text>
<text class="k" x="738" y="31.6" font-size="35" text-anchor="end">Observed</text>
<text class="k" x="74.7" y="69.4" font-size="35" text-anchor="end">30N</text>
<text class="k" x="74.7" y="122.2" font-size="35" text-anchor="end">0</text>
<text class="k" x="74.7" y="174.9" font-size="35" text-anchor="end">30S</text>
<g transform="translate(844.8 39.4)">
<svg x="0" y="0" width="633.1" height="140.7" viewBox="0 0 633.1 140.7" overflow="hidden">
<rect width="633.1" height="140.7" fill="#f8f8f8"/>
<ellipse cx="47.7" cy="6.8" rx="7.3" ry="4.4" fill="#d1e5f0"/><ellipse cx="3.3" cy="27.2" rx="2.6" ry="5.8" fill="#d1e5f0"/><ellipse cx="95.1" cy="30.1" rx="5.1" ry="6.6" fill="#d1e5f0"/><ellipse cx="133.7" cy="38.1" rx="2.2" ry="2.6" fill="#d1e5f0"/><ellipse cx="158.5" cy="62.9" rx="12.4" ry="5.5" fill="#d1e5f0" transform="rotate(30 158.5 62.9)"/><ellipse cx="98.7" cy="101.5" rx="14.6" ry="4.1" fill="#d1e5f0" transform="rotate(45 98.7 101.5)"/><ellipse cx="188.3" cy="96.4" rx="13.1" ry="4.4" fill="#d1e5f0" transform="rotate(35 188.3 96.4)"/><ellipse cx="9.9" cy="137.2" rx="14.6" ry="4.4" fill="#d1e5f0"/><ellipse cx="167.2" cy="47.6" rx="5.8" ry="11.9" fill="#fddbc7"/><path d="M180.3 59.2C181.9 55.6 188.3 49.5 192 46.1C195.6 42.7 200.2 38.7 200.7 40.3C201.2 41.9 196.5 49.6 194.9 54.9C193.3 60.1 193.3 65.8 192 69.4C190.7 73.1 189.2 75.8 187.6 75.3C186 74.8 184.5 69.4 183.2 66.5C181.9 63.6 178.7 62.9 180.3 59.2Z" fill="#fddbc7"/><path d="M122 75.3C123.4 73.4 125.9 70.5 129.3 69.4C132.7 68.4 137.8 68.1 141 69.4C144.1 70.8 146 73.1 146.8 76.7C147.6 80.4 146.3 86.7 145.4 89.8C144.4 93 142 92.6 141.7 94.2C141.4 95.8 145.3 97.7 143.9 98.6C142.5 99.5 135.7 100.6 133.7 99.3C131.7 98 134.3 93.8 133 91.3C131.7 88.8 128.4 87.6 126.4 85.5C124.4 83.4 122.8 81.5 122 79.6C121.3 77.8 120.7 77.1 122 75.3Z" fill="#fddbc7"/><path d="M75.4 138.7C72 136.2 78 129.4 79.8 124.8C81.6 120.2 83.5 113.9 85.6 113.2C87.7 112.4 89.3 117.3 91.4 120.4C93.5 123.6 96 127.4 97.3 130.6C98.6 133.9 102.7 137.2 98.7 138.7C94.8 140.1 78.8 141.1 75.4 138.7Z" fill="#fddbc7"/><ellipse cx="108.2" cy="12.6" rx="1.7" ry="4.4" fill="#fddbc7"/><ellipse cx="75.4" cy="29.4" rx="2.2" ry="2.2" fill="#fddbc7"/><ellipse cx="280.3" cy="3.6" rx="18.2" ry="6.1" fill="#fddbc7"/><path d="M250.5 43.2C252 38.8 256.2 39.9 257.7 41.8C259.3 43.6 256.6 49.7 259.2 53.4C261.8 57.1 271 58.8 272.3 62.2C273.6 65.6 269.4 72.4 266.5 72.4C263.6 72.4 259.4 63.2 256.3 62.2C253.1 61.1 250 69.9 249 66.5C247.9 63.1 248.9 47.7 250.5 43.2Z" fill="#fddbc7"/><ellipse cx="221.3" cy="73.8" rx="5.8" ry="3.6" fill="#fddbc7"/><path d="M304.4 22.8C304.9 17.6 307.6 12.1 310.2 8.3C312.8 4.5 313.9 2.9 318.9 1.7C323.9 0.5 333.9 0.3 337.9 1.7C341.8 3.1 341.3 5.6 340.8 9.7C340.3 13.8 337.8 19 335 24.3C332.1 29.5 328.7 35.2 324.8 38.9C320.8 42.5 316.2 44.9 313.1 44.7C310 44.4 308.8 41.3 307.3 37.4C305.7 33.5 303.8 28.1 304.4 22.8Z" fill="#d1e5f0"/><path d="M352.4 8.3C354.8 5.2 355.9 2.9 361.2 1.7C366.4 0.5 377.3 0 381.6 1.7C385.9 3.4 385.5 6.3 385.2 11.2C385 16 383.4 23.4 380.1 28.7C376.8 33.9 370.7 36.4 367 40.3C363.3 44.2 363.7 48.1 359.7 50.5C355.8 52.9 347.3 55 345.2 53.4C343.1 51.8 348.1 45.7 348.1 41.8C348.1 37.8 345.2 35.8 345.2 31.6C345.2 27.4 346.8 22.7 348.1 18.5C349.4 14.3 350.1 11.3 352.4 8.3Z" fill="#fddbc7"/><path d="M394.7 1.7C400.5 0 422.2 -5 428.2 1.7C434.2 8.4 429.5 32.4 428.2 38.9C426.9 45.3 423.8 39 420.9 37.4C418 35.8 415.6 33.3 412.2 30.1C408.8 27 404.9 23.3 402 19.9C399.1 16.5 397.5 14.4 396.1 11.2C394.8 7.9 388.9 3.4 394.7 1.7Z" fill="#d1e5f0"/><ellipse cx="396.1" cy="53.4" rx="5.8" ry="3.2" fill="#fddbc7" transform="rotate(-20 396.1 53.4)"/><ellipse cx="369.2" cy="64.3" rx="8" ry="4.4" fill="#d1e5f0"/><ellipse cx="305.8" cy="53.4" rx="3.6" ry="1.7" fill="#d1e5f0"/><ellipse cx="406.3" cy="83.3" rx="14.6" ry="6.6" fill="#d1e5f0" transform="rotate(10 406.3 83.3)"/><ellipse cx="278.1" cy="119" rx="8.7" ry="3.2" fill="#d1e5f0" transform="rotate(35 278.1 119)"/><ellipse cx="223.5" cy="116.8" rx="5.8" ry="3.2" fill="#d1e5f0" transform="rotate(25 223.5 116.8)"/><ellipse cx="249.7" cy="105.1" rx="2.2" ry="2.2" fill="#d1e5f0"/><path d="M340.8 138.7C335.8 137.7 345.2 135.8 345.2 133.6C345.2 131.3 340.5 128.2 340.8 126.3C341 124.3 344.5 122.1 346.6 122.6C348.7 123.2 349.6 127.7 352.4 129.2C355.3 130.6 359.5 129.9 362.6 130.6C365.8 131.4 368.1 132.1 369.9 133.6C371.8 135 378.1 137.7 372.8 138.7C367.6 139.6 345.8 139.6 340.8 138.7Z" fill="#fddbc7"/><ellipse cx="259.2" cy="126.3" rx="1.7" ry="2.9" fill="#fddbc7"/><path d="M418.2 8.3C419.8 5.1 424.6 13.1 426.9 17C429.3 20.9 431.6 26.2 431.3 30.1C431.1 34 427.8 38.1 425.5 38.9C423.1 39.6 419.5 40 418.2 34.5C416.9 29 416.6 11.4 418.2 8.3Z" fill="#d1e5f0"/><ellipse cx="444.4" cy="33" rx="3.6" ry="11.7" fill="#fddbc7" transform="rotate(-15 444.4 33)"/><ellipse cx="479.4" cy="25.7" rx="5.1" ry="7.3" fill="#fddbc7"/><ellipse cx="484.5" cy="43.2" rx="3.6" ry="5.1" fill="#fddbc7"/><ellipse cx="508.5" cy="62.2" rx="4.4" ry="5.8" fill="#fddbc7"/><ellipse cx="537.7" cy="7.1" rx="18.9" ry="8.5" fill="#d1e5f0"/><path d="M569.7 1.7C579.2 -0.3 613.3 0.8 622.2 1.7C631.1 2.6 622.9 4.8 619.3 6.8C615.6 8.8 607 9.7 601.8 12.6C596.5 15.5 594.8 21.5 590.1 22.8C585.4 24.1 580.3 19.4 575.6 19.9C570.8 20.4 564.9 27.1 563.9 25.7C562.8 24.4 568.7 17 569.7 12.6C570.8 8.3 560.3 3.7 569.7 1.7Z" fill="#fddbc7"/><ellipse cx="561.7" cy="43.2" rx="5.1" ry="4.4" fill="#fddbc7"/><ellipse cx="565.4" cy="53.4" rx="1.5" ry="1.5" fill="#fddbc7"/><ellipse cx="626.5" cy="30.1" rx="7.3" ry="11.7" fill="#d1e5f0"/><ellipse cx="467.7" cy="78.2" rx="10.9" ry="3.2" fill="#fddbc7" transform="rotate(5 467.7 78.2)"/><ellipse cx="518.7" cy="94.2" rx="5.8" ry="2.9" fill="#d1e5f0" transform="rotate(40 518.7 94.2)"/><ellipse cx="499.8" cy="113.9" rx="5.1" ry="13.4" fill="#d1e5f0" transform="rotate(-15 499.8 113.9)"/><path d="M559.5 103C561.1 102.4 563.9 104.7 566.8 107.3C569.7 110 572.4 113.9 575.6 117.5C578.7 121.2 583.2 125.4 584.3 127.7C585.3 130.1 584.3 130.9 581.4 130.6C578.5 130.4 572.2 128.1 568.3 126.3C564.3 124.4 561.4 123.3 559.5 120.4C557.7 117.6 558.1 113.4 558.1 110.2C558.1 107.1 558 103.5 559.5 103Z" fill="#fddbc7"/><path d="M573.4 101.5C574.2 99.3 578.4 95.9 581.4 96.4C584.4 96.9 587 102.2 590.1 104.4C593.3 106.6 596 108.5 598.9 108.8C601.7 109 603.5 104 606.1 105.9C608.8 107.7 612.1 115.6 613.4 119C614.7 122.4 615.8 124 613.4 124.8C611.1 125.6 605.3 124.9 600.3 123.4C595.3 121.8 589.9 118.7 585.7 116.1C581.6 113.4 579.2 111.4 577 108.8C574.8 106.2 572.6 103.7 573.4 101.5Z" fill="#d1e5f0"/><ellipse cx="440.1" cy="137.6" rx="11.7" ry="2.9" fill="#d1e5f0"/><ellipse cx="625.1" cy="135.7" rx="8.7" ry="4.4" fill="#d1e5f0"/><ellipse cx="518.7" cy="135.7" rx="4.4" ry="2.2" fill="#fddbc7" transform="rotate(-30 518.7 135.7)"/><ellipse cx="413.6" cy="6.8" rx="5.1" ry="8.7" fill="#92c5de" transform="rotate(-20 413.6 6.8)"/><ellipse cx="590.1" cy="3.6" rx="10.9" ry="3.6" fill="#f4a582"/>
<path d="M-10.4 7.4l1.1 -0.2l1.4 1.2l2.6 -0.1l1.4 0.3l2.1 -1l1.8 -0.4l2.6 -1l2.7 -0.6l3.5 0l3.5 -0.3l2.8 0.2l2.1 -0.8l0.9 0.6l1.2 0l-0.7 1l-0.1 1.4l0.8 0.7l-1.4 1.6l1.3 1.1l1 0.9l1.8 0.5l1.2 0l3.5 0.9l0.6 1.5l2.6 0.9l3.5 1.3l1.8 -1.3l0 -2.3l2.6 -1l2.7 0.5l3.5 1.6l3.5 0.7l3.5 0.7l1.8 -0.9l1.7 -0.2l2.3 0.4l0.4 2.5l0.3 1.5l1.4 1.8l0.9 1.8l0.9 1.7l0.9 1.8l0.8 1.7l0.2 1.8l2.3 1.8l0.5 1.7l0 2.5l1.4 1.9l1.1 0.9l1.2 3.5l0.4 0.7l1.7 1.1l1.3 0.8l2.2 2.3l1.3 1.3l0.2 1.5l-0.6 0.2l1.8 1.8l1.7 0.2l1.8 -0.6l2.6 -0.7l2.7 -0.3l2.6 -1.1l1.2 0l-0.3 2.5l-0.9 2.6l-1.2 1.8l-1.4 2.6l-1.8 3.5l-1.7 2.7l-1.8 1.4l-1.2 0.3l-2.3 1.8l-2.7 2.3l-1.7 2.4l-1.8 1.4l-0.9 1.8l-0.7 1.1l-1 2.4l-0.4 1.8l0.9 0.5l0.4 2.1l0.1 2.7l1.5 1.7l0.1 2.7l0.2 3.5l0.2 1.7l-1.6 2.3l-3.2 1.8l-1.7 1l-1.3 1.6l-1.7 1.6l-0.9 0.2l-0.2 1.2l1.1 1.8l0.3 2.6l-0.1 1.8l-3.4 2.1l-1.6 1.2l0.6 1.6l-0.4 2.1l-1.2 1.8l-1.8 1.5l-1.4 2l-2.1 2.3l-1.8 1.2l-2.6 1.4l-1.6 0.3l-2.8 0.2l-3.5 0.2l-3.5 1.1l-2.1 -0.9l-0.7 -0.6l-0.4 -2.1l0.2 -1.7l-1.8 -2.3l-1.4 -3.3l-1.7 -2l-0.9 -1.7l-0.4 -2.7l-0.5 -3.9l-1.8 -3.1l-1.7 -3.5l-1.2 -2.7l0 -2.6l0.7 -1.8l0.5 -2.6l1.7 -2.1l0.6 -2.3l-0.7 -2.6l-0.4 -1.3l-0.7 -2.3l-0.9 -2.6l-0.1 -1.8l-0.7 -0.8l-1.5 -1.3l-2.1 -2.3l-1.4 -2.2l-0.3 -0.9l1.2 -2l0.2 -1l0.3 -2.3l0 -2.1l-0.5 -0.9l-1 -0.9l-1.1 0l-2.3 0.4l-1.7 0l-1.3 -1.6l-1.4 -1.8l-1.9 -0.3l-1.8 0.2l-2.1 0.3l-2.1 0.7l-1.8 1.1l-1.7 0.5l-1.8 -0.5l-1.7 -0.2l-2.7 0.2l-3.5 1.2l-2.6 -1.4l-3.2 -1.9l-1.2 -1.1l-1.8 -1l-1.2 -1.8l-0.2 -1.4l-0.7 -0.4l-1.4 -1.7l-0.9 -0.9l-1.7 -1.4l-1.3 -1.1l-0.1 -1.4l0.3 -0.5l-0.9 -1.6l-0.7 -0.5l0.7 -0.5l1.1 -1.8l0.3 -1.7l0.6 -1.8l-0.4 -2.3l-0.5 -0.3l0.3 -1.8l-1.2 -0.9l0 -1.4l1.2 -2.1l0.7 -1.4l1.6 -1.6l0.4 -1.4l0.7 -1.2l1.6 -1.4l0.8 -1.4l2.7 -0.9l2.3 -1.6l0.8 -1.6l-0.1 -2.3l0.8 -1.9l1.5 -1.4l1.5 -0.5l1.4 -0.7l0.9 -1.8l0.7 -1.4M622.8 7.4l1 -0.2l1.4 1.2l2.7 -0.1l1.4 0.3l2.1 -1l1.7 -0.4l2.7 -1l2.6 -0.6l3.5 0l3.6 -0.3l2.8 0.2l2.1 -0.8l0.9 0.6l1.2 0l-0.7 1l-0.2 1.4l0.9 0.7l-1.4 1.6l1.2 1.1l1.1 0.9l1.7 0.5l1.3 0l3.5 0.9l0.5 1.5l2.6 0.9l3.6 1.3l1.7 -1.3l0 -2.3l2.7 -1l2.6 0.5l3.5 1.6l3.5 0.7l3.6 0.7l1.7 -0.9l1.8 -0.2l2.3 0.4l0.3 2.5l0.4 1.5l1.4 1.8l0.8 1.8l0.9 1.7l0.9 1.8l0.9 1.7l0.2 1.8l2.2 1.8l0.6 1.7l0 2.5l1.4 1.9l1 0.9l1.3 3.5l0.3 0.7l1.8 1.1l1.2 0.8l2.3 2.3l1.2 1.3l0.2 1.5l-0.5 0.2l1.7 1.8l1.8 0.2l1.8 -0.6l2.6 -0.7l2.6 -0.3l2.7 -1.1l1.2 0l-0.4 2.5l-0.8 2.6l-1.3 1.8l-1.4 2.6l-1.7 3.5l-1.8 2.7l-1.7 1.4l-1.3 0.3l-2.3 1.8l-2.6 2.3l-1.8 2.4l-1.7 1.4l-0.9 1.8l-0.7 1.1l-1.1 2.4l-0.3 1.8l0.9 0.5l0.3 2.1l0.2 2.7l1.4 1.7l0.2 2.7l0.2 3.5l0.1 1.7l-1.6 2.3l-3.1 1.8l-1.8 1l-1.2 1.6l-1.8 1.6l-0.8 0.2l-0.2 1.2l1 1.8l0.4 2.6l-0.2 1.8l-3.3 2.1l-1.6 1.2l0.5 1.6l-0.3 2.1l-1.3 1.8l-1.7 1.5l-1.4 2l-2.1 2.3l-1.8 1.2l-2.6 1.4l-1.6 0.3l-2.8 0.2l-3.6 0.2l-3.5 1.1l-2.1 -0.9l-0.7 -0.6l-0.3 -2.1l0.1 -1.7l-1.7 -2.3l-1.4 -3.3l-1.8 -2l-0.9 -1.7l-0.3 -2.7l-0.5 -3.9l-1.8 -3.1l-1.8 -3.5l-1.2 -2.7l0 -2.6l0.7 -1.8l0.5 -2.6l1.8 -2.1l0.5 -2.3l-0.7 -2.6l-0.3 -1.3l-0.7 -2.3l-0.9 -2.6l-0.2 -1.8l-0.7 -0.8l-1.4 -1.3l-2.1 -2.3l-1.4 -2.2l-0.4 -0.9l1.3 -2l0.1 -1l0.4 -2.3l0 -2.1l-0.5 -0.9l-1.1 -0.9l-1.1 0l-2.2 0.4l-1.8 0l-1.2 -1.6l-1.4 -1.8l-2 -0.3l-1.7 0.2l-2.1 0.3l-2.2 0.7l-1.7 1.1l-1.8 0.5l-1.7 -0.5l-1.8 -0.2l-2.6 0.2l-3.5 1.2l-2.7 -1.4l-3.1 -1.9l-1.3 -1.1l-1.7 -1l-1.3 -1.8l-0.1 -1.4l-0.7 -0.4l-1.5 -1.7l-0.8 -0.9l-1.8 -1.4l-1.2 -1.1l-0.2 -1.4l0.4 -0.5l-0.9 -1.6l-0.7 -0.5l0.7 -0.5l1 -1.8l0.4 -1.7l0.5 -1.8l-0.3 -2.3l-0.6 -0.3l0.4 -1.8l-1.2 -0.9l0 -1.4l1.2 -2.1l0.7 -1.4l1.6 -1.6l0.3 -1.4l0.7 -1.2l1.6 -1.4l0.9 -1.4l2.6 -0.9l2.3 -1.6l0.9 -1.6l-0.2 -2.3l0.9 -1.9l1.4 -1.4l1.6 -0.5l1.4 -0.7l0.9 -1.8l0.7 -1.4M86.7 91.5l1.2 2.6l0.9 3.2l-1.2 0.3l-0.2 2.3l-0.5 2.1l-1.1 3.5l-1.4 4.4l-1.4 4.1l-1.2 0.7l-2.3 0.5l-2.1 -0.9l-0.7 -2.6l-0.5 -2.7l1.7 -2.6l0.2 -1.8l-0.7 -2.6l0.7 -3l2.8 -1l1.8 -0.9l1.5 -1.6l1.5 -1.8l1 -2.2M-15.5 -2.6l-0.2 2.6l-0.8 1.2l-0.2 1.1l1.2 0.5l0 0.9l-0.3 1.6l1.7 0l1.1 -0.4l1.7 0.7l0.7 1.1l0.8 0.3l0.5 -0.3l1.6 -0.9l2.4 0l1.4 -0.2l0.9 -0.9l1.6 -0.5l0.5 -1.2l1.3 -0.9l-0.9 -1.2l0.9 -1.3l1.2 -1l1 -0.7l2.7 -1.1M617.7 -2.6l-0.2 2.6l-0.9 1.2l-0.2 1.1l1.3 0.5l0 0.9l-0.4 1.6l1.8 0l1 -0.4l1.8 0.7l0.7 1.1l0.7 0.3l0.5 -0.3l1.6 -0.9l2.5 0l1.4 -0.2l0.9 -0.9l1.5 -0.5l0.6 -1.2l1.2 -0.9l-0.9 -1.2l0.9 -1.3l1.2 -1l1.1 -0.7l2.6 -1.1M4.2 0.7l1.3 -0.6l0.5 0.4l-0.5 0.7l-0.8 -0.3l-0.5 -0.2M2.1 1.9l0.5 -0.3l0.2 0.3l-0.7 0M14.4 -1.8l0.4 1.3l0 1.9l1 0.4l0.9 -0.4l0.4 -1.4l0 -1.4l-0.7 -0.7l-2 0.3M21.8 3.5l1.6 -0.3l4 -0.2l-0.8 1.4l0.3 1.4l-1.7 -0.3l-3.2 -1.3l-0.2 -0.7M21.6 -3.2l2.7 1.1l0.9 0.7l1.2 1l1.2 0.4l0.7 1.8l-0.7 1.7l0.7 0.2l0.9 -1.1l0.9 -0.8l-1.1 -1.3l0.7 -1.2l2 0.7l0.8 -0.2l-0.8 -0.9l-1.8 -0.7l-1.8 -0.8l0 -0.9M34.1 -3.3l0 0.8l-0.2 1.6l1.3 1.4l1.2 1.4l0.9 1.1l0.9 0.2l-0.7 0.8l0.7 1.6l1.2 0.6l0.7 -0.4l0.5 0.4l0.2 -1.5l-0.7 -0.3l1.2 0l0.9 -0.4l0 -0.8l-1.2 -0.7l-0.7 -1.3l-0.6 -1.2l0.6 -0.9l1 0.5l0.9 0.4l0.7 -1.2l1.1 -0.6l1.7 0.6l0.4 0.7l0 1.4l1 0.9l-0.8 1.2l1.5 1.4l0.4 0.9l1.4 0.5l1.6 0.4l2.4 0.3l0.4 -1l2.3 0.7l2.6 0.7l2 -1.3l1.7 0.4l1.1 -0.2l-0.6 1.2l-0.1 0.9l0.1 1.8l-0.7 1l-0.7 1.4l-0.3 1.1l-0.4 0.9l-0.9 1.2l-1.2 0.4l-2.1 -0.4M46.1 -0.5l1.4 -0.4l1.7 0.2l1.8 0l1.6 -0.5l-1.6 -0.6l-1.8 0l-1.2 0.6l-1 0.3M40.8 1.9l1.4 0.6l0.9 1l-0.9 -0.3l-1 -0.7l-0.4 -0.6M41.3 7.9l1.3 0.2l1.4 0l2.3 0.2l-0.2 0.5l-2.5 0.2l-2.1 -0.6l-0.2 -0.5M48.9 6.7l0.7 -0.4l-0.2 0.7l-0.5 -0.3M45.6 1.4l1 -0.3l0 0.7l-1 -0.4M56.8 8.8l1.2 0.7l1.8 -0.7l1.1 -1.2l-1.6 0.5l-1.4 0.2l-1.1 0.5M57.2 17.8l1.2 2.4l1.7 1.4l0.6 -1.4l0.7 -1.7l0.2 2.4l0.8 1.1l1.8 2.6l1.2 2.1l1.4 1.4l1.8 3.6l0.2 0.8l1.5 2.3l1.8 2.1l0.9 1.8l1.7 2.1l0.6 2.3l0.7 2.6l0.2 1.4l0.3 0.9l2.6 -0.2l2.7 -1l2.6 -1.1l2.7 -1.2l2.6 -0.9l2.1 -0.7l0 -1.4l2.3 -0.5l1.8 -0.5l1.4 -0.9l2.1 -0.9l0.8 -1.8l1.5 0l-0.2 -2.1l1.4 -0.5l0.7 -1.6l1.6 -1.9l-1.4 -1.3l-0.9 -0.7l-2.1 -0.7l-1.4 -1.4l-0.2 -2.4l-0.5 0.3l-0.2 0.6l-1.2 0.7l-1.6 1.5l-2.5 0.6l-2.1 0.1l-0.5 -1l0.2 -2.1l-0.8 -0.6l-0.7 1.1l-0.1 1.2l-0.9 -1.4l0 -1.6l-1.2 -1.2l-1.3 -0.9l-0.5 -1.4l-0.9 -1.4l-0.3 -1l1.2 -0.2l0.9 -0.7l1.7 0.3l1.4 2.1l1.3 2l1.9 0.9l1.6 1.2l2.1 0.3l1.6 -0.5l1.2 -0.5l1.2 0.5l0.6 1.8l1.2 0.3l2.6 0.4l2.7 0.3l1 0l2.5 0l2.6 -0.1l2.7 -0.2l1 0.7l0.7 0.3l0.9 1.6l1.2 0.5l1.1 0.7l2.1 0.6l-1.7 0.9l0 0.3l1.7 2.1l1.8 0.5l1.7 -0.7l0.4 -1.2l0.7 -0.9l0.3 1.4l0 0.9l0 3.5l0.7 2.7l0.6 2.6l0.5 1.1l1.1 2.4l0.7 2l1.4 2.4l1 2.7l0.5 1.7l0.9 1.3l0.9 0.3l1.2 -1.2l1.4 -0.9l0.6 -1.8l1 0l-0.2 -2.1l0.9 -2.8l-0.3 -2.5l0.2 -1.7l1.4 -0.9l2.2 -1l1.8 -2l2.6 -2.3l1.3 -1.2l1.7 -0.9l0.9 -1.4l0 -0.9l1.8 -0.3l1.7 -0.2l2.3 -0.3l0.9 -0.9l1.2 -0.4l0.6 0.7l0.7 2.3l0.1 0.5l1.1 1.3l1.4 1.2l1.1 1.4l0.3 1.8l-0.5 2.6l1.7 0.4l1.4 -0.9l1.4 -0.9l0.8 0l0.7 0.9l0.1 2.3l0.7 1.7l0.7 1.8l0.2 1.7l0.2 2.7l-0.4 1.2l-0.5 2.3l0.2 1.1l1.2 1.2l1.2 0.7l0.9 1l0.4 1.5l0.5 1.9l1.1 2.3l0.1 0.5l1.4 0.9l2.2 1.4l0.3 0.2l1.1 -0.2l0 -1.1l-1.3 -1.4l-0.1 -1.7l0 -1.3l-0.7 -1.7l-1.3 -1.3l-1 -1l-1.4 -0.4l-0.7 -0.5l-0.7 -2.1l-0.4 -1.4l-1.1 -0.4l-0.1 -1.7l0.8 -2.1l0.6 -1.4l0 -1.4l0.9 -0.4l0.8 0.4l0 1.2l1.8 0.5l1.2 0.9l0.6 1.1l1 1.2l1.6 0.2l0.9 0.7l-0.4 2.2l1.2 -0.5l1.8 -1l0.5 -1.3l0.7 -0.1l1.4 -0.6l1.8 -1.2l0.5 -1.4l0 -1.4l-0.1 -1.4l-0.6 -2.5l-1 -1.6l-1.4 -1l-1.6 -1.6l-0.5 -1.1l-1.1 -1.2l0.4 -1.6l1.2 -1l0.7 -0.9l1.7 -1.1l1.1 -0.3l1.1 0.3l0.8 0.2l0.2 1.8l0.7 0.1l0.5 -1.4l0.9 -0.7l1.8 -0.5l1.7 -0.3l1.1 -0.6l1 0l1.5 -0.7l2.6 -0.5l0.9 -1.1l1.7 -1.5l1.8 -1.4l1 -1.3l0.8 -1.7l1.4 -1.8l1.4 -1.8l0.7 -1.4l-1.3 -0.8l1.1 -1.1l0 -1.1l-1.6 -1.4l-0.3 -1.2l-0.9 -2.1l-2 -1.4l1.1 -1.1l0.9 -0.7l1.2 -1l2.6 -0.5l0.2 -0.9l-1.9 -0.2l-1.4 -0.5l-1.6 0.8l-1.4 0l-0.2 -1.2l-1.6 -0.5l-0.5 -0.9l0.2 -0.7l1.2 0.2l1.4 -0.7l0.9 -0.9l2.1 -1.4l1.4 -0.2l0.7 0.7l-1.2 1.6l-0.5 1.4l1.4 -0.5l1.7 -1.1l2.3 -0.3l1.2 0.5l0.6 1.1l-0.2 0.8l-0.7 0.9l1.2 0.5l1.8 0l0.5 1.3l-0.9 0.9l0.4 0.8l0.2 0.9l-0.6 1.2l0.6 0.9l1.5 -0.7l1.8 -0.3l1.1 -0.4l0.5 -1.6l0 -1.7l-0.7 -1.3l-0.7 -1l-1.1 -1.2l-0.9 -0.6l0 -0.8l1.4 -0.8l2.5 -1l0.2 -1.2l1.2 -1.4M87.1 -3.2l-0.2 2.7l1.6 -0.2l-1.4 0.7l-0.9 1.2l-0.2 1.6l1.1 1.6l1.7 0.9l1.8 0.7l2.6 -0.4l1.8 -0.1l-0.2 -1.1l0 -2.5l-1.2 -0.7l0.7 -1.2l-1.4 -0.9l0.3 -0.9l1.8 -0.8l-1.8 -0.9M140.5 53.1l1.6 1.4l0.9 0.9l1 2.1l-0.3 1.4l-1.9 1.1l-1.1 -0.6l-0.4 -1.4l0 -1.7l0.4 -1.8l-0.2 -1.4M191.2 36.4l1.4 -1.2l1.9 -0.2l0.7 0.9l-0.9 1.4l-1.5 1l-1.6 -0.7l0 -1.2M213.7 25.9l0.9 0.5l-0.7 1.7l-0.4 1.8l-0.9 1.8l-1 -1.1l-0.4 -1.2l0.7 -1.8l0.9 -1.2l0.9 -0.5M246.8 -2.1l1.9 -0.4l0.2 0.7l0.7 1.8l0.1 0.9l-0.8 2.1l-0.9 0.9l0 1.6l-0.7 1l0.5 1.1l-1 0.8l-0.9 0.4l0 -1.1l-0.4 0.7l-0.9 0.2l-0.3 0.9l-0.7 -0.7l-0.5 0.7l-2.2 0l-0.1 -0.7l0 1.2l-1.1 0.6l-0.9 0.8l-1.2 -0.7l0.2 -0.7l0.3 -0.7l-1.5 0l-1.8 0.5l-1.9 0.2l-1.6 0.6l-0.9 0l0 -0.8l1.2 -0.5l1.8 -1.2l1 -0.4l1.8 0l1.8 -0.1l1.2 0l0.2 -1.1l1 -0.9l0.5 -1.2l0.6 0l-0.6 1.2l1.8 -0.5l1.4 -1.2l1.1 -0.9l0.7 -1.2l0.3 -1.4l-0.2 -1.3l0.8 -1.2M233 10.9l0.9 -0.3l1.8 -0.8l1.2 0.6l0 0.5l-0.9 0.9l-1.2 -0.4l-0.9 1.3l-0.9 -0.4l-0.3 -0.9l0.3 -0.5M230.2 10.7l1.4 0.6l0.4 0.7l-0.2 1.2l-0.7 1.7l-0.7 0.6l-0.5 0.3l-0.9 -0.5l0 -1.6l0.5 -0.9l-1.2 0l-0.2 -1l1.1 -0.5l1 -0.6M224.6 24.4l0.9 -1.2l-0.6 0.5l-0.3 0.7M227.4 20.8l0.7 -0.6l-0.5 0.6M222 11.8l1.2 -0.4l-0.5 0.6l-0.7 -0.2M212.1 37.8l2.8 0l0 2.7l-1 1.7l0 1.8l0.1 1.2l1.4 0.2l1.5 0.5l1.2 1.6l0.2 0.7l-1.4 -0.7l-1.3 -0.5l-1 -0.9l-1.3 0.3l-1.2 -0.7l0.5 -1l-1 -0.4l-0.5 -1.2l-0.4 -1.4l0.9 -0.5l0.2 -1.6l0.3 -1.8M220.7 53.1l1.4 2.3l0.4 2.1l-0.7 1.8l-0.7 -1.1l-0.6 1.6l-0.5 0.3l-1.6 -0.7l-0.3 -1.4l-1.1 -0.8l-1 0.1l-1.3 0.9l-0.1 -1.2l1.4 -1.2l1 -0.6l0.7 0.9l0.9 -0.7l0.9 -0.7l0.7 -0.4l0.5 -1.2M218.6 48.4l1.8 0l0.7 2.3l-1.3 0.3l-0.3 1.4l0.7 0l-0.5 -1.2l-0.9 -0.9l0.9 -0.7l-1.1 -1.2M216.2 51l1 0.4l-0.3 1.5l-0.6 1.4l-0.9 -1l0.6 -1.1l0.2 -1.2M214.6 49.4l1.9 0.7l-0.9 1.6l-1.2 0.2l0.2 -2.5M218.1 50.7l-0.5 1.7l-0.7 1.2l0.5 -1.4l0.7 -1.5M210.2 50.3l-0.6 1.8l-1.5 2.1l-2 1.4l0.6 -0.9l1.7 -1.9l1.4 -1.8l0.4 -0.7M211.8 46.8l1.4 0l0.5 1.6l-0.7 0.5l-0.7 -1.2l-0.5 -0.9M167.6 60.5l3.9 0.7l1.4 1.6l1.2 1.2l2.3 1.6l1.2 0.9l2.1 1.6l2.2 1.2l0.7 1.6l1.2 1.6l0.7 1.9l1.9 1.6l-0.1 2.3l-0.2 2.3l-1.1 0l-1 -0.4l-0.6 -0.9l-2.2 -1.6l-1.3 -0.5l-1.7 -2.5l-1.6 -2.6l-1.3 -1.8l-1.2 -2.1l-0.5 -1l-1.8 -1.2l-1.2 -1.5l-1.4 -1.2l-1.6 -2.1l0 -0.7M185 82.3l1.4 -1.6l1.4 0.4l2.7 0.5l0.7 0.7l3 0.2l0.8 -0.9l1.1 0.5l1.9 0.4l0.4 0.7l1.2 0.7l1.6 0.2l0.2 1.6l-2.3 -0.8l-3 0l-2.6 -0.7l-2.7 -0.1l-1.7 -0.2l-2 -0.5l-2.1 -1.1M191.7 67.7l1.1 -0.9l1.2 0.6l1.6 0.3l0.3 -1.7l2.8 -1.3l1.8 -2.3l1.8 -0.8l1.7 -1.8l1.2 -1.8l1.5 0.9l0.3 1.1l1.6 0.7l1 0.5l-1.5 1.2l-1.3 0.6l0 1.2l0.7 1.8l1.6 2.6l-1.9 0.3l-0.5 2.7l-1.3 1l-0.9 1.8l0.2 2.1l-0.7 0.5l-2.4 0.4l-0.2 -1.1l-1.8 -0.1l-2.6 0.1l-0.7 -0.7l-2.5 -0.1l-0.3 -2.5l-1.4 -1.8l-0.4 -1.7l0 -1.8M210.7 68.9l1.8 -0.8l3.7 0.7l2.4 0.8l1.6 -1.9l-1.2 1.9l-2.1 0.2l-3.2 -0.3l-2.3 0.3l-0.2 2l1.6 1l2.1 -0.9l2.1 0l-1 1.1l-2 0.7l1.3 2.3l0.9 1.7l-0.8 2l-1.5 -0.9l-0.2 -1.4l-0.9 -2.3l-1.2 0.4l0.2 2.8l0 1.7l-1.6 0l0 -2.6l-1.3 -2.1l0.9 -2.7l0.9 -1.9l0 -1.8M230.4 71.8l2.6 -0.7l2.7 0.7l0.3 2.6l1.4 1.8l1.8 -1.8l2.6 -1.2l2.7 0.7l3.5 1l3.5 1.4l2.6 0.9l2.3 2.3l2.1 1.4l1.4 0.9l-1.4 0.5l1.8 2.1l1.8 1.8l1.7 2.1l1.4 0.2l-1.7 0.1l-3.2 -0.5l-1.8 -1l-1.7 -2.5l-2.7 -0.9l-1.7 1.1l-0.9 1.7l-1.8 0l-1.7 -0.1l-2.7 -1.8l-2.2 0.5l-0.4 -1.7l1.4 -1.1l-1.4 -2.3l-3.5 -1.6l-2.6 -1l-2.7 0.2l-0.3 -1.4l-1.1 -0.7l2.3 -0.8l-2.6 -0.7l-1.8 -1.2l0 -1M201.4 84.8l2.1 0.1l-0.9 0.9l-1.2 -1M204 85.1l1.2 0l-0.3 0.9l-0.9 -0.2l0 -0.7M205.4 85.3l2.1 -0.5l1.8 0.3l-0.9 0.7l-2.6 0.4l-0.4 -0.9M210.9 85.3l1.9 -0.2l3.2 -0.3l0.2 0.7l-3.4 0.5l-1.9 -0.2l0 -0.5M209.3 87.1l2.1 -0.2l1.1 1.2l-2.3 -0.3l-0.9 -0.7M217.2 88.5l1.8 -1.8l2.3 -1.2l2.4 -0.4l-1.2 1.1l-2.7 1.2l-1.7 1.1l-0.9 0M224.2 68.6l0.7 -1.9l0.2 1.5l1.3 -0.5l-0.9 1.2l1 0.9l-1.4 -0.2l0.7 2.2l-1 -1.1l-0.6 -2.1M225.1 75.6l2.7 -0.3l2.2 0.9l-1.4 0.3l-2.2 -0.2l-1.3 -0.7M221.8 76l1.6 -0.2l0.3 1.1l-1.6 0.1l-0.3 -1M261 80l2.8 0l2.7 -1l1.4 -1.3l-0.2 1.4l-2.1 1.5l-1.8 0.7l-2.4 -0.4l-0.4 -0.9M265.2 74.9l2.1 1.4l1.8 2l-0.7 -0.9l-1.9 -1.8l-1.3 -0.7M271.9 80l2.1 1.8l-0.9 0.3l-1 -1.2l-0.2 -0.9M275.2 82.1l1.8 1.3l-0.9 -0.4l-0.9 -0.9M278.8 83.7l2.2 1.4l-0.8 -0.3l-1.4 -1.1M280.7 86.7l2.1 0.9l-0.9 0l-1.2 -0.9M282.5 85.1l1.2 2.1l-0.9 -1l-0.3 -1.1M283.7 88.5l1.7 0.8l-0.8 -0.7l-0.9 -0.1M293 96.7l1.1 1.1l-0.7 -0.2l-0.4 -0.9M294.1 98.5l1 0.9l-0.7 -0.2l-0.3 -0.7M295.8 101.3l0.5 0.4l-0.3 0l-0.2 -0.4M288.4 105.7l2.7 1.6l2.6 2.3l-1 0l-2.5 -1.6l-1.8 -2.3M311.8 101.3l1.6 -0.3l0.7 1l-1.4 0.4l-0.9 -1.1M314.3 99.7l2.1 -0.9l-0.7 0.9l-1.4 0M250.6 89.2l1.8 3.1l0.2 3.2l2.9 1.2l0.4 2.7l1.2 3.8l1.4 1.1l2.7 1.6l1.4 2.3l2.4 1.7l0.4 1.8l1.9 1.9l2 1.6l0 3.2l0.8 2.3l-1 3.3l-0.4 2.3l-1.7 2.1l-1.1 1.7l-0.9 2.2l-1.2 2.2l-0.2 1.8l-3.3 0.7l-1.8 1.1l-1.2 1l-1.9 -1.2l-0.9 -0.2l-2.1 0.9l-3.5 -0.9l-2.7 -1.4l-0.5 -1.8l-0.7 -1.5l-1.4 0l0 -1.4l-0.9 -1.1l-0.3 1.6l-1.5 0.2l0.9 -2.2l0.6 -2.4l-1.1 1.6l-2.1 2.3l-0.7 0.1l-1.1 -2.1l-1.4 -1.6l-1.2 -1.2l-2.6 -0.2l-1.8 -0.8l-3.5 0.1l-2.7 1.1l-2.6 0.2l-2.6 1.2l-1.8 1.6l-2.8 0l-3.3 0l-3.6 1.9l-2.6 0l-2.5 -1.2l-0.1 -1.3l1.2 -0.5l0 -2.3l-0.7 -2.6l-0.7 -2.1l-0.5 -1.1l-0.9 -1.7l-1.1 -2.1l0.4 -0.7l-0.6 -2.9l0.7 -1.7l-0.1 -1.8l0.7 -1.2l0.9 0l1.5 -0.9l2.1 -1.2l3.4 -0.5l2.5 -0.8l2.6 -1.5l1.2 -1.8l0 -1.8l1.4 -1l1.1 1.6l0.7 -1.8l1.6 -1.7l1.6 -1.8l2.1 -0.7l1.7 1.6l0.5 0.3l2.2 -0.1l0.1 -1.6l1.1 -1.8l1 -1l1.3 -0.4l1.7 -0.2l0.2 -1.2l1.6 0.7l2.6 0.7l3 -0.3l0.4 0.5l-0.7 1.7l-1.1 0.7l0 2l-0.9 0.3l2 1.4l2.1 0.7l2.3 1.3l1 1.2l2.1 -0.2l1.1 -2.6l0.3 -2.6l0 -3l0.7 -2.3l0.9 -1.4M240.2 133.3l1.6 -0.3l1.1 0.5l-1.2 0.3l-1.5 -0.5M229 90.4l1.9 -0.2l0.2 0.6l-1.6 0.3l-0.5 -0.7M239.9 94.6l0.9 0l-0.2 0.9l-0.7 -0.2l0 -0.7M254.3 141.9l3.4 0.7l2.9 -0.5l0.2 2.1M303.7 130.9l1.1 1l1.8 1.2l0.8 2l1.3 -0.4l0.7 0.7l0.7 1.3l1.7 0.5l1.8 -0.7l0 1.6l-0.7 1.2l-1.6 0.2l-0.2 1.2l-1 1.8l-1.4 0.8l-0.9 -1.7l0 -0.9l-1.8 -0.9l-0.3 -0.5l1.4 -0.7l0.2 -1.4l0.1 -1.2l-0.8 -1.5l-1.8 -2.1l-1.1 -1.5M303.7 141.6l0.9 1.2l1.8 -0.3l0.2 1.4M359 34.8l1.4 0.7l0.5 0.6l-1.4 0.8l-0.7 -1l0.2 -1.1M357.6 33.6l0.8 0l0.4 0.3l-0.9 0.2l-0.3 -0.5M354.9 32.5l0.7 -0.1l0.2 0.5l-0.7 0l-0.2 -0.4M352.3 31.5l0.5 -0.2l0 0.5l-0.5 -0.3M356.5 33.1l0.9 0l-0.4 0.1l-0.5 -0.1M472.2 70.9l0.9 -0.6l0 1.8l-0.9 -0.3l0 -0.9M474 71.2l0.5 0.2l-0.3 0.4l-0.2 -0.6M329.2 94.1l1.1 0.2l-0.5 0.3l-0.6 -0.5M330.6 94.8l0.9 0.2l-0.7 0.1l-0.2 -0.3M370 101.1l0.7 0.4l-0.5 0.2l-0.2 -0.6M324.8 107.5l0.4 0.1l-0.4 0M414.7 -3.5l0 1.7l-0.3 1.1l1 1.6l0.5 1.2l1.8 1.8l0.2 1l0.9 1.1l1 1.6l1.2 1.9l2 0.3l1.7 0.8l2.1 1.7l0.4 0.9l0.9 1.2l1 2.3l0.9 1.8l1.8 1.7l0.5 1.3l-1.4 0l1.2 1.2l2 0.9l1.5 1.4l0.4 2.1l3.2 2.1l0.7 0.9l0.8 -0.9l-1.5 -1.6l-0.7 -1l-1.1 -2l-1.2 -1.7l-1.3 -1.8l-1.4 -1.8l-1.2 -1.7l-0.9 -1.8l-0.2 -1.4l1.5 0.5l1.7 0.9l0.9 1.8l0.9 1.7l1.7 1.8l1.3 1.4l1.5 1.6l0.4 1.2l2.1 1.3l1.8 1.9l1 1l1.3 1.3l0.7 1.7l-0.4 1.8l-0.3 0.2l1.2 1.7l1.2 0.7l1.4 1.3l2.3 0.7l2.1 1l2 0.9l2.4 0.9l2.7 0.7l1.7 0.3l1.8 -0.8l1.7 0.3l1.8 1.4l1.4 1.2l2.1 1.1l1.8 0.5l2.1 0.7l1.9 0l0.4 0.4l0.3 0.5l1.4 1.2l1.2 1.5l0 1.2l0.9 1.2l1.1 0l1.2 0.9l0.7 1.2l1.1 0.6l0.3 0.5l1.8 0l1 0.7l0.6 0.7l1 -0.4l0 -1.4l1.3 -1.2l1.2 -0.2l1 1.1l0 1.6l1.1 0.8l0.5 1.8l0 1.8l0.2 1.7l0.4 0.4l-1.6 2.1l-1.4 1.4l-1.3 1.4l-0.9 0.3l-0.7 2.3l-0.8 0.9l0.1 2.1l1.4 0.5l0.2 0.9l-0.7 0.7l-1.6 1.6l-0.1 0.7l0.3 2.3l1.9 1.4l0.9 1.6l1.6 2.3l1.6 3.5l1.1 1.8l1.4 2.9l1.9 2.9l3 1.7l2.6 1.2l1.3 1.1l1.7 1.2l0.2 3l0 3.5l-0.5 2.7l-0.2 2.6l-0.4 3.5l-1 3.6l-0.2 1.7l-0.2 3.5l0 1.8l-1 3.5l-1.4 3l-1.1 1.4l0.5 3.5l-0.8 2.7l0 1.7M522.3 144.2l-3.3 -2.1l3.3 0.4l1.5 -0.7l0.1 -2l0.2 -1l3.5 -0.2l2.7 -0.5l1.7 -0.9l1.4 -2.1l-0.9 -1.4l-0.1 -1.3l-2 -1.2l0 -1.1l1.1 0.8l2.8 0.8l2.3 0l2.5 -1.6l1.5 -1.7l0.9 -1.4l2 -2.1l1.7 -2.7l2.1 -1.7l0.4 -1.8l0 -2.6l0.5 -1.1l2.3 -1.6l1.2 -0.8l2.3 -0.9l3.2 -0.9l2.1 -0.2l1.7 -1.6l0.2 -0.8l1.1 -2.1l1 -2.3l0.9 -2.1l0.4 -3.2l0 -2.1l0.8 -3.2l1.8 -2.1l0.9 -1.4l1.7 -1.8l1.4 -1.7l0.6 -1.8l0.1 -1.6l-0.7 -2.8l-2.2 -0.7l-1.5 -0.7l-2.1 -1.7l-2.2 -1.4l-3 0l-1.8 -0.4l-2.6 -0.4l-0.6 0l-1.2 -1.7l-2.6 -0.9l-2.7 -0.5l-0.8 1.4l-1.8 -2.3l-1.4 -0.4l0.5 -1.7l-1.4 -1.8l-0.7 -3.5l-0.9 -0.9l-1 -0.7l-3 -1.6l-2.1 -0.1l-3.2 -0.2l-2.1 -1.4l-1.4 -2.1l-1.8 -0.9l-1.7 -1.8l-1.8 -0.8l-0.9 -1.1l-2.6 0.2l-1.8 0.7l-1.7 -0.9l-1.8 0.2l-2.3 0l0 -1.2l-2.6 -0.6l-0.4 -1.2l-0.5 1.2l-1.7 0.9l-0.6 0.5l0.4 2.1l-1.1 0l0.2 -2.1l0 -1.4l1.1 -1.6l-1.8 0.9l-1.8 1.1l-1.5 0l-1.3 0.5l-1 1.1l-0.4 1.5l-1 0.9l-1.1 0.9l0.2 0.9l-1.1 -1.1l-0.9 -1.2l-1.9 -0.5l-1.6 0.5l-1.6 0.7l-1.5 -0.2l-0.9 -0.3l-0.7 -0.7l-0.7 -0.7l-1.1 -1.6l-0.2 -2l0.4 -1.7l0.2 -2.3l0.3 -1.2l-1.4 -1.1l-1.7 -0.5l-1.8 0l-2.6 0.2l-1.3 0.1l-1.2 -0.3l0.5 -0.7l0.6 -1.2l0.1 -1.8l-0.1 -0.9l1 -0.3l0.4 -1.4l0.1 -1.5l1.1 -1.5l-0.7 -0.6l-2.3 0l-2.1 0.4l-1.1 0.3l-0.1 1.1l-0.4 1.2l-1.2 1.4l-0.9 0.7l-1.6 0l-2.6 0.7l-1.4 -0.7l-1.4 -0.3l-0.6 -0.7l-0.7 -1.4l-1.2 -1.4l-0.4 -1.3l-0.7 -1.4l0 -2.1l0.4 -2.6l0.7 -1.6l-0.4 -1.9l0.4 -1.4l1.4 -1.1l1.9 -1.1l0.9 -0.7l1.8 -0.5l2.3 0.2l1.7 0.5l1.8 0.2l1.9 0.2l0.4 0.1l-0.6 -1.4l0.4 -0.8l2.3 0l1.7 -0.2l1.8 0.2l1.1 1l1.7 -0.5l1.4 0.5l1.4 1.2l0.2 1.8l0.9 2.1l0.7 1.2l1 1.6l1.3 0l0.7 -1l0.1 -1.8l-1 -3l-0.7 -1.7l-0.7 -1.6l0.3 -2l0.6 -0.8l1.5 -1.3l1.8 -1.4l1.8 -0.7l1.7 -1.2l0.9 -0.2l1.8 -1l-0.7 -2.1l-0.2 -0.9l-0.7 -0.6l0.2 -1.2l-0.4 -2.1l0.7 -0.3l0 1.9l0.4 1.9l1 -1.4l0.4 -0.9l0 -0.5l-0.7 -1l1 0.7l1.1 -0.9l0.5 -1.4l0 -0.6l1.8 -0.1l1.7 -0.6l0.2 -0.5l-2.8 0.5l-0.9 0.6M483.8 31.8l1.6 -1.4l1.8 -0.5l1 -0.4l2.5 0.2l1.7 0.4l1.8 0.9l1.8 0.3l1.4 0.9l2.1 0.9l0.9 0.7l2.3 1l-1.5 0.6l-1.7 0l-3 0.1l0.9 -1.2l-1.8 -0.5l-0.5 -1.3l-1.8 -0.3l-1.7 -0.5l-1.8 -0.4l-0.9 -0.3l-1.4 -0.4l-1.2 0.7l-1.4 0.4l-1.1 0.1M487 32l0.9 0l-0.2 0.5l-0.5 0l-0.2 -0.5M502.3 38l2.5 0.3l1.2 -0.7l-0.9 -1l-1 -0.9l1.5 -0.3l1.4 0.1l2.2 0l1 0.4l1.2 0.5l1.5 1.2l-1.1 0.4l-1.6 0l-1.4 0.2l-1.2 1l-0.7 -0.9l-1.8 0.2l-1.7 0.2l-1.1 -0.7M495.4 38l2.3 0l1.4 0.7l-1.4 0.3l-2.1 -0.5l-0.2 -0.5M515 38l2.6 0.2l-0.2 0.5l-2.4 0l0 -0.7M524.3 51.5l1.6 -0.1l0 1.2l-1.6 0l0.7 -0.5l-0.7 -0.6M524.5 41.7l0.8 0l-0.5 0.5l-0.3 -0.5M525.5 44.3l0.5 0.4l-0.1 0.3l-0.4 -0.7M525 42.9l0.3 0.5l-0.1 0l-0.2 -0.5M525.7 45.7l0.3 0.4l-0.1 0.2l-0.2 -0.6M528.3 47l0.2 0.3l-0.2 0l0 -0.3M587.8 3.9l1 0l-0.5 0.1l-0.5 -0.1M602.9 12.7l0.9 0l-0.4 0.3l-0.5 -0.3M603.4 20.4l1.3 -0.2l-0.7 0.9l-0.6 -0.7M605.4 21.1l0.7 -0.2l-0.2 0.6l-0.5 -0.4M607.8 20.9l0.9 -1l0.7 -0.9l-0.7 1.8l-0.9 0.1M591.5 43.6l0.3 0.5l-0.3 -0.1l0 -0.4M588.7 40.3l0.5 0l-0.4 0.3l-0.1 -0.3M93.9 48.2l1.8 0l-0.6 0.5l-1.2 -0.5M97.3 107.3l0.8 0.2l-0.3 0.5l-0.5 -0.7M101 105.7l0.7 0.2l-0.6 0.5l-0.1 -0.7M76.2 90.6l0.3 0.7l-0.3 0l0 -0.7M68.9 80.6l0.6 0.7l-0.4 0.3l-0.2 -1M163.2 46.6l0.4 1.8l-0.6 1.5l-0.1 -1.5l0.3 -1.8M164.8 57.7l0.3 0.5l-0.3 0.2l0 -0.7M14.9 63.8l0.8 0.2l-0.4 0.5l-0.4 -0.7M173.6 72.1l0.9 1.1l-0.6 0.1l-0.3 -1.2M171 67.9l1 1l-0.5 0.2l-0.5 -1.2M185.2 73.3l1.4 -0.1l0.9 2.1l-1.2 -0.4l-1.1 -1.6M189.2 74.9l1.1 0.2l-0.4 0.9l-0.7 -1.1M51.5 76.3l0.7 1.4l0.2 2l0.7 2.1l0.9 1.9l0.7 1.8l-0.9 -0.2l-1.2 -1.9l-1.1 -2.5l-0.3 -2.6l0.3 -2M59.6 87.1l1.1 1.7l0.7 1.8l-0.2 1.7l0.5 2l0.2 1.2l-0.5 0.2l-0.7 -1.3l-0.6 -1.7l0 -2.1l-0.3 -1.8l-0.2 -1.7M55.9 72.1l0.4 -1.9l1.7 -0.6l1.8 0.6l0.2 1.6l-0.2 1.2l-0.7 1.4l-1.4 0.5l-1.6 0l-0.3 -1.4l0.1 -1.4M53.5 68.4l1 -1.4l0.7 -0.7l-0.3 1.1l-0.9 1l-0.5 0M51.7 70.7l0.7 0.2l-0.3 0.7l-0.4 -0.9M50.8 73.3l0.7 0.2l-0.1 1.1l-0.6 -0.2l0 -1.1M510 97.4l1.3 0.4l0.8 1.4l-1.2 -0.7l-0.9 -1.1M482.1 49.4l1.6 0.5l0.3 0.9l-1.4 -0.3l-0.5 -1.1M495.3 26.2l0.8 0l0.6 1.4l0 0.9l-0.9 -0.7l-0.5 -1.6M496.3 23l1.1 0.4l0.5 0.9l-0.7 0.5l-0.2 -0.9l-0.7 -0.9M494.2 23.4l1.4 -0.2l0.7 0.2l-0.9 0.3l-1.2 -0.3M498.1 25.5l0.9 0.4l0.3 1l-0.5 -0.5l-0.7 -0.9M499.8 26.9l0.7 0.7l0.2 0.4l-0.5 -0.2l-0.4 -0.9M499 28.1l0.8 0.7l0.6 0.4l-0.7 -0.2l-0.7 -0.9M500.5 28.7l0.7 0.8l0.4 0.8l-0.5 -0.6l-0.6 -1M502.3 30.3l0.9 0.1l0 0.9l-0.7 0l0.2 -0.7l-0.4 -0.3M504.4 31l0.9 0l-0.5 0.1l-0.4 -0.1M503.5 33.1l1.1 -0.2l0.2 0.5l-1.1 0.2l-0.2 -0.5M505.8 32l1.4 -0.2l0.2 0.6l-1.4 0l-0.2 -0.4M496.7 26.2l0.7 0l-0.4 0.2l-0.3 -0.2M490 36.2l0.5 0l-0.3 0.2l-0.2 -0.2M489.3 27.1l1 -0.2l1.1 -0.5l0.3 -0.4M629.3 8.6l0.9 2.8l0.8 2.3l-3.1 1.2l-1.4 1.3l-3 1.7l-2.7 0.6l-3 1.4l0 2.4M609.9 21.7l7.9 0M617.8 22.3l0 2.3l-5.8 0l0 4.4l-1.7 0.9l0 3l-7 0M617.8 22.3l6.9 4.1M624.7 26.4l-3 0l1.8 14.9l0.3 1.8l-7 0l-2.5 0.2l-1.4 -0.4l-1.2 1.4M15.1 5.5l-0.5 0.7l-0.2 2.6l-1.2 1.8l0 1.4l1.4 1.2l1.2 0.9l0.9 3.1M20.2 12l0 1.2l-2.1 1.2l-0.2 1.8l-1.2 1M16.7 17.2l0.7 2.1l-0.2 3.6l0.4 0.8l-1.1 0.6l1.1 2.4l2.6 1.1l0.9 1.2M21.1 29l-7.9 4.8l-3 2.3l-2.8 0.7M7.4 36.8l-1.9 0l0.1 -1.3l-2.4 -0.9l-1.1 -1.4l-10.5 -6.8M640.5 36.8l-1.9 0l0.2 -1.3l-2.5 -0.9l-1 -1.4l-10.6 -6.8M44.3 14.8l-0.5 1.9l0.2 2.3l0 12.7l0 3.5l-1.8 0l0 0.9M44 31.7l20.9 0M42.2 36.1l-15.8 -6.2l-1.4 0.7l-3.9 -1.6M42.2 36.1l0 6.6l-1.7 0.2l-0.2 1.1l-1.1 1.2l0.4 1.4l-1.3 1.4l2 2.3l0 0.9M26.4 29.9l1.6 4.6l-0.7 6.1l-3.6 4.4l0 1.3M23.7 46.3l1.3 1.4l1.4 1.4l0.2 2.3l0.7 1.5l-2.7 0l-0.2 0.6l2.9 3.7M27.3 57.2l1.7 -0.4l2.1 -0.3l1.6 -0.4l0.7 -1.6l2.5 -0.2l2.3 -2.6l2.1 -0.5M40.3 51.2l1.4 1.7l-0.4 1.8l1.3 0.7l1.7 1.6l2.1 1.7l1.8 2.7M67.9 38.7l-2.8 1.8l-0.9 3.5l-0.2 1M64 45l-0.5 3l-1.9 2.1l-1.3 1.6l-0.2 1.9l-0.5 1.8l-1.6 0.9l1.8 1.4l2.3 3.2l1 1.4l-2.6 0.5l-0.7 0.2M59.8 63l-0.9 0.7l-2.6 0.3l-1.8 -0.3l-0.3 0.5l-1.4 -1.6l-1.8 0l-1.8 0.2l-1 -1.4M64 45l2.7 -0.7l1.9 0.4l2.1 0.3l2.3 2l1.6 1.4M75.8 48l-1.2 0.4l-1.1 1.7l0 0.9l2 0l0.5 -0.9M75.5 51l0.1 1.8l1.8 1.7l5.3 1.8l1.7 0l-5.3 5.3l-2.6 0.3l-2.6 1.2l-0.2 0.4M73.7 63.5l-1.6 1.9l0 4.9l0 1.6l1.1 1.4M73.7 63.5l-1.9 -0.5l-1.8 0.5l-3 0.5l-2.1 -1.4l-1.8 -0.3M59.8 63l0.9 1.2l0.9 3l-0.9 1.4l-0.9 1.4l-0.2 2.1M59.6 72.1l6.7 3.7l0 0.7l2.6 2.1M54.2 64.2l0.8 2.3l-1.4 1.7l-1 1.3l-0.5 1.7l0 1.6M52.1 72.8l1.5 -0.7l6 0M53.6 72.1l0.6 2.3l-0.6 0.2l0.6 1.6l-0.7 1.2l-1.8 0.9M52.1 72.8l-1.1 2.3l0.4 1.4l0.3 1.8M51 75.1l2.6 -0.5M51.7 78.3l0.4 2.6l1.9 3.9l3.9 2.1l1.9 0.2l0.9 0.8l0.2 2.9l2.4 0.1l2.7 0l1.7 -0.5l3.4 -1.6M57.9 86.9l0.7 2.4l-0.2 3l-0.9 2l0.9 0.7l2.3 0.9l-0.4 2.1l1.8 2.4l0.9 -1.9l0 -2.1l-1.6 -2.3l-0.5 -3.3M58.4 95l-5.3 1.7l0.4 1.1l4.4 1.9l0 3.2l-0.4 1.7l-0.3 3.2l-2.2 1.9l1.3 3.7l-0.2 2.5l0.4 1.6l1.4 0.2M56.1 115.9l-1.6 -0.4l-0.3 2l0.8 0.9l1.5 -0.9M47.5 122.4l1.7 -1.6l1.8 0.4l0.7 1.2l-1.6 1.8l-1.9 -0.6l-0.7 -1.2M55 109.7l-3.3 -0.3l-2.5 1l-1.7 1.5l-0.2 1.2l-1.7 0.9l-0.6 1.4l-1.6 0.3l-2.9 -0.9l-0.8 1.5l-1.5 1.2l-1.8 0l0 -2.3l-1.2 -1.2M35.2 114l0 6.3l-1.8 0.9l-1.7 -0.2l-1.1 -0.2l-1.6 -0.1M35.2 114l0 -5l1.7 0l0 -6.5l4.4 -0.5l1.6 -0.2l1.6 -0.1l-2.3 -0.6l-1 0.2M20.8 100.8l2.1 -0.6l1.7 0.8l7.8 0l5.2 0.8l3.6 -0.5M44.5 101.7l1.2 2.1l2.3 2.6l1.2 1.9l2.5 1.1M44.5 101.7l3 0.3l3.3 -3.5l2.7 -0.7M41.2 101.3l-2.5 -2.5l0 -5.6l3.5 0l0 -3.7M42.2 89.5l-1.7 0.4l-1.5 0.1l-0.3 -2.1l-0.4 -3.5l0 -1.2l-2.2 -0.2l-1.8 1.2l-0.9 0.2l-2.1 0.2l-2.1 -3.9l-5.6 0l-2.1 0.2M21.5 80.4l1.4 -2M42.2 89.5l2.3 1.3l1.2 0.5l2.1 -0.5l2.1 1.5l1.1 1.6l1.4 0l0 -2.1l-1.4 0.4l-1.1 -0.9l0.4 -2.5l0 -2.1l0.5 -1.4l3.2 -0.5M21.1 79.1l1.8 -0.7l2.4 0.4l1.6 -0.9l1.6 -3.7l2.6 -3l0.6 -1.7l0.1 -3.2l0.9 -2.1M32.7 64.2l0 -1.6l1.6 -1.2l2.6 1.2l2.7 0.5l1.7 -1l2.7 -0.5l4.2 -0.2M19.5 77.2l1.3 -0.7l1.2 -2.1l2.3 0.2l1 -0.9l0.2 -2.3l-1.1 -1.1l1.1 -1.7l-2.1 -0.5l-0.2 -1.6M17.2 68.6l2.7 0l0 -2.1l-2.7 -0.2M19.9 66.5l3.3 0l2.3 0l2.6 0.9l0.4 -0.9l-2.1 -2.3l-0.7 -2.6l-0.2 -1.8l1.8 -2.6M28.5 66.5l0.7 -2.3l3.5 0M15.1 61.9l0.7 -1.8l2.1 -1.9l2 0.5l0.9 -0.7l0.7 -2.4l1.7 -2.1l1.1 -2.5l1.4 -0.9l-0.7 -1.6l0 -0.8M23.7 46.3l-1.7 1l-3.2 -0.5l-1.9 1l-1.6 -0.3l-1.6 -0.5l-1.6 0.5l-2.4 -1.6l-2.5 0.7l-0.9 3.2M6.3 49.8l0.4 2.1l-1.8 2.4l-0.2 2.2l0 2.6M2.8 59.4l0 -1.4l0 -3.5l-0.3 -0.7l-1.1 -1.7l0.2 -1.1M636 59.4l0 -1.4l0 -3.5l-0.4 -0.7l-1 -1.7l0.1 -1.1M2.1 59.6l-1 -1.4l-0.2 -1l0.2 -1.3l-0.4 -1l0 -2.1l-0.7 -1.1l-0.2 -0.9M635.3 59.6l-1.1 -1.4l-0.2 -1l0.2 -1.3l-0.3 -1l0 -2.1l-0.8 -1.1l-0.1 -0.9M4.2 49.2l-0.2 0.6l-1.5 0.5l-0.9 0.7l-1.8 -0.2l-4.7 0.2l-0.2 1.2l0.2 1.1l-2.1 -0.2l-1.3 0l-1.4 -1M637.4 49.2l-0.2 0.6l-1.6 0.5l-0.9 0.7l-1.7 -0.2l-4.8 0.2l-0.2 1.2l0.2 1.1l-2.1 -0.2l-1.2 0l-1.4 -1M-9.7 52.1l0.4 -1.8l1.6 -1.2l0.1 -2l1.8 -0.1l0.7 -1.3l1.6 -0.3l1.7 -1.1l2.2 -0.3l0.3 1.7l1.1 1.1l0 0.9l1.9 0.3l0.5 1.2l2.1 0.6M623.5 52.1l0.3 -1.8l1.6 -1.2l0.2 -2l1.7 -0.1l0.7 -1.3l1.6 -0.3l1.8 -1.1l2.1 -0.3l0.4 1.7l1 1.1l0 0.9l1.9 0.3l0.6 1.2l2.1 0.6M627.7 61.4l0.5 -0.9l-0.7 -2.1l1.3 -2.5l-0.6 -2.6M620 62.6l0.1 -2.5l-1.7 -1.2l-0.2 -1.9l1.1 -1.6l0.1 -1.6l-0.3 -1.4l3.1 -0.7l1.3 0.4M618.2 57l-1.6 0.3l0 -1.7l-1.6 -0.2l-2.1 2.8M615 55.4l-0.5 -1.1l-1 -1.5l-2.3 0.1l-1.4 1.6M619.1 52.4l-0.5 -1.4l-1.3 -2.5l-2.3 0.4l-1.9 -0.4l-1.6 0.2l-2.4 -0.7l0 1.8l-2.3 1.4M609.1 48l-5.3 0.5M603.6 47.3l3.2 -0.2l2.1 -0.1l0 -0.6l-2.1 -0.1l-2.8 0.1M604.1 42.2l0.4 -0.9l3.1 -0.1l2.2 1.7l1.9 1.4l0.3 2.3l1.1 1.9M7.4 36.8l0 4.7l-1.2 1.8l-3.9 0.1l-1.9 0.6M640.5 36.8l0 4.7l-1.2 1.8l-3.9 0.1l-1.9 0.6M60.1 15.3l1.3 3.2M61.5 18.5l0.9 -3.6l0.2 -2.1M61.7 12.1l0.9 -0.3l1.4 -1.2l0.2 -1.1l-0.9 0M62.6 11.8l0 1M63.1 7l1.3 -0.3l0.1 -1.1l2.3 0l3.5 0l4.1 -0.7M74.4 4.9l-1.8 1.4l-0.5 3.5l-3.9 1.8l-3.5 1.9l-2.1 -0.7M68.2 11.6l0.7 2.1l-3.8 1.2l1.7 1.8l-0.8 0.9l-1.5 0.2l-1.2 1.2l-1.7 -0.2M68.9 13.7l2.2 0.5l2.8 1.5l4.7 3.3l3.2 0.2l2.1 1l1.2 0M81.8 19.2l0.9 -1.6l1.5 0M74.4 4.9l4.4 0M78.8 4.9l1 2.1l1.5 0.7l-1.3 2l0.9 2.3l3.2 2.1l-0.2 1.7l1.4 1.8M78.8 4.9l-1.1 -2.3l0.6 -2.1l0.5 0l3 1.4l2.6 -1.4l1.6 2.3M78.3 0.5l-1.4 -0.9l-0.2 -1.5M78.8 0.5l1.2 -1.6l1.8 2l0 1M80 -1.1l-0.9 -1M75.3 41.5l0.9 -1.8l2.1 0l4.4 0.8l1.7 -2.2l7.1 -1.4l5.2 -1.7l1.3 -3.5l-0.9 -1.3l-4.6 -0.3l-1.7 -2.3M91.5 36.9l1.9 4.3M97.1 30.4l1.4 -2.3l0.7 -1.5M98.5 28.1l-0.4 -0.3l0.6 -3.2M89.3 26.9l0.9 0.2M95 4.7l2.6 -1.2l3.2 -0.3l2.1 0.8l1.7 0.9l3 1.1l0 1.7M107.6 7.7l-1 2l0 2.3l0.5 2.9l1.6 0.9l-1.6 2.1M107.1 17.9l1.4 2l1.9 0.9l0 1.7l0.9 0.9l-2.3 0.7l-0.7 1.9M107.1 17.9l2.8 0.7l2.7 -0.1l3.8 -0.6l0.4 -1.9l2.4 -0.9l2.7 -0.9l0.3 -1.9l1.4 -0.7l-0.5 -1l1.9 -0.8l0.9 -1.9l-0.1 -1.4l3.5 -1l2.4 -0.6M107.6 7.7l2.7 0.6l3.1 -1.8l2 -1.9l3.8 0.3l2.7 0.2l1.6 -0.9l0.5 -0.9l1.4 -0.3l0.5 2.6l3 -1l2.8 0.3M117 4.6l0.1 -1.1l-2.8 -1.7l-2.3 -0.7l-2.3 -1.1l-2.4 -2.1l-1.8 -1.1M119.2 4.9l1.1 -1.7l-1.2 -2.5l1.4 0l1.4 -1.1l1.9 0.2l0.4 -1.4l0.3 1.2l3.9 1.5l1.4 -0.2l-0.2 2.6l2.1 1.4M124.2 -1.6l2.4 -0.7l2 0.9l-2.5 1l-1.6 0M131.7 4.9l-0.7 -2.3l-1.2 -1.7l1.8 -1.8l3.5 -0.9l2.6 -0.5l3.4 -1.6M119.9 28.8l1.1 -1.2l3.7 -0.2l-1.4 -2.2l0.5 -2.3l-1.4 -0.4l1.4 -1.4l2.7 0l1.9 -2.1l1.6 -1.8l1.2 -1.5l-0.2 -1.6l1.4 -0.6l-1.7 -1.2l-0.7 -2.6l5.1 -2l1.7 0.2M131.7 4.9l2 2.1l3.1 0.9M136.8 7.9l2 1.9l-0.2 2l1.2 1.4l-1.4 1.7l4.1 2.3M142.5 17.2l-1.6 2.5l3 1.6l2.6 0.9l2.6 0.5l1.8 0.9l2.6 0.3l1.4 -0.2l0 -2.4M142.5 17.2l2.1 0.4l2.3 1.4l2.8 1.2l1.6 0.9l3.6 0.2l1.5 1M156.4 22.3l1.5 1.1l3 -0.2l1.1 -0.2l-0.7 -1.5l-2.5 -0.6l-1.4 0l-1 1.4M154.9 23.7l1.5 -1.4M161.3 21.5l4 -2l3.5 -0.9l2.3 2.2M156.5 32l0 -1.2l-0.3 -1.3l-0.2 -1.7l-1.1 -0.7l0.4 -1.1l1.1 -1l-0.8 -1.1l2 0.5l0.3 1.5l4.6 0.5l-0.3 1.2l-1.8 0.5l0.3 1.4l0.8 0l0.8 -0.8l0.6 3.1l-0.7 1.3l0.1 0.8M162.9 31.8l1 -0.5l0.2 -3.2l2.5 -2.4l0.8 -2.3l3.2 -1.8l0.5 -0.8M171.1 20.8l2.3 1.2l0.2 3l-1.9 1.7l0.1 1.4l2.1 0l0 1.4l1.1 0.6l-0.5 1.4l1.7 1.2l1.8 0.4l-1.9 1.5M176.1 34.6l-2 0.6l-1.7 0.5l-0.6 2.1l-0.3 1.2l2.1 2.7l-0.9 1.9l1.8 2.7l0 1.9l0.7 1.4l-1.1 1.8l-0.3 0.8l-0.4 0.7M176.1 34.6l0.7 1.5l1.2 0l-0.4 2.6l0.4 0.9l1.6 -1.3l1.2 0.6l1.1 -0.9l2.2 1.6l0.2 1.9l1.2 1.2l0 2.1M185.5 44.8l-1.2 0.2l-3.1 0.2l-0.9 1.2l-0.2 2l0.9 1.4M178 33.1l1 0l0 -2.1l0.7 0l1.1 1.2l0.4 1.4l2.6 0.9l-0.9 1.6l1.8 1.4l2.6 3l1.8 2.6l0 1.4M185.5 44.8l0.9 0.9l2.7 -1.2M189.1 44.5l0 4.2l-2.1 0.9l-0.7 0.5l0.5 0.9l-2 0.2l-1.2 0.9M179.7 31l3 -0.4l2.5 -1.2l2.5 0.9l0.1 1.4l2.1 0.8M176.1 59.1l1.7 1.2l1.2 -0.2l0.6 -0.7M192.8 66.8l0.7 1.4l2.6 0.4l1.2 -0.7l2.3 0.2l2.3 -1.3l1.2 -2.1l0.4 -1.7l3.3 0M200.7 62.3l1 1l1.1 -0.5l0 -1.1M248 74.9l0 11.5M219.8 85.7l0.2 1.2M221.8 4l1.6 -1l2.2 -0.5M218.6 0.2l2.1 -1.6l2.5 -1.8M620.1 4.9l-0.1 -1.4l0.8 -0.3l-0.5 -2.1l0.5 -0.6l0.2 -2.3l1.2 -1M45.7 -1.2l1.1 -1.1M35.2 0.5l1.2 -1l0.5 -1.1M427.2 13.2l4.2 -0.4l-0.2 0.4l6.6 2.1l5.1 0l0 -0.9l2.9 0l2.7 2l0.9 1.9l2.2 1l1.3 -1.4l1.9 0l1.2 1.3l2.2 2.8l0.8 1.9l3.2 0.9M471 44.8l0 -1.4l0.9 -1.4l2.3 0l0 -0.5l-1.8 -1.5l0.7 0l0 -1l3.3 0l0.6 -0.1l0.9 -1.1M476.4 39l-0.1 3.4l0.5 0M478 42.7l-1.7 1.4l-0.3 0.9l-1.3 1.2M476 45l1.5 0.7l1.2 1.1l0.2 0.3M479.6 47.5l1.1 -1.4l1.7 -0.4l1.4 -1.4l3 -0.3M482.4 50.8l1.4 0.2l2.1 0.2M487.9 53.5l-0.6 0.8l0 1.8M497 55.2l0.4 1.3l-1.3 1.2M507.8 49.5l-1.6 1.3l-1.4 3.2l1 1.6l0 1.7l0.9 0.7l3.2 0l1.2 1.6l3.3 -0.2l-0.5 1.6l0 2l0.9 1.4l-0.9 1l1.4 2.8l0.2 0M515.5 68.2l-0.4 -0.8l-1.7 0l-3 0l0 1l1 0.2l-0.3 0.5l-1.1 0.2l0 1.4l1.1 1.6l-0.9 5.4M510.2 77.7l-1.4 -0.7l1.1 -1.9l-3.2 -0.7l-1.9 0l-1.8 -2.3l-2.1 -1.6l-1.9 -0.9l-2.2 -0.5l-2.2 -1.2M500.9 70.5l-0.7 2.5l-1.8 1.9l-2.4 1.3l-0.7 0.8l-0.6 1.4l-0.7 0.7l-0.8 -0.8l-1.5 -0.2l0 -1.6l0.4 -0.2M510.2 77.7l-1.7 0.4l-3.4 1.2l-0.7 1.8l-1.4 2.1l0.5 0.2l1.3 2.8l1.2 0.9l0.2 0.8l2.8 -0.8l0 2.6l1.7 -0.1M510.7 89.6l1.6 2.7l-0.5 2.1l-0.7 2.3l0.3 0.9l0.7 1.4l-1.4 1.8l0.2 0.3l-1.6 1.5M510.9 101.1l1.1 2.7l0.7 1.7l0.5 2.7l0.7 2.2l1.1 0M515 110.4l0.3 0.4l-0.5 1.8l-2.1 1l0.3 3.4l-0.5 1l-1.9 2.5l-0.6 2.6l-0.8 2.1l0.8 3.7l0.4 1.8l-1.1 1.6l0 1.7l-1.2 0.7l0.2 3.4l-1.3 2.6l-0.1 3.5M515 110.4l1.7 -1.7l3 0.9l0.4 0.8l2.8 -1l0.2 0M523.1 109.4l0.5 -3l0.9 -1.6l4.9 -0.5l1.4 0.9l0.2 0.5M531 105.7l0.5 -1.9l0.5 -1.4l-1.6 -1.6l0 -1.8l-3.1 0l-0.6 -4.4l-2.6 -1l-1.8 -0.9l-2.4 -0.5l-1.6 -1.3l-0.2 -3.5l-2.1 0.4l-2.4 1.4l-2.9 0.4M531 105.7l0.3 3.5l2.5 0.2l1.4 0.3l0.5 2.9l1.9 0.1l-0.5 2.7M523.1 109.4l2.8 2.8l3.5 1.8l2.4 1l-1.7 3.2l3.7 0.3l1 -0.1l2.3 -3M537.1 115.4l1.4 0.1l0.2 2l-2.3 1.7l-1.4 1.1l-3.2 3.2M531.8 123.5l2.9 1l0.8 0.2l2.7 1.8l1 1.2l0 1.9M531.8 123.5l-1 3.1l-0.4 3.5M515.5 68.2l2.5 0.7l2.6 -1.2l-0.5 -1.7l1.5 0.3l-1.5 -2.1l-0.6 -1.1l3 0.7l0.4 -0.5l3 -0.9l0.5 -1.2M526.4 61.2l-1.2 -1.2l0.5 -1.4l1.4 -0.7l-0.7 -0.7l1.6 -1.4M526.4 61.2l1.2 0.4l0.2 1l0.7 0.9l-0.9 1.9l0.7 1.8l1.4 1l1.4 -0.5l1.3 -0.9l1.4 0.2M533.8 67l-1.4 -2.5l-1.3 -1.2l0.2 -1.4l1.1 -0.9l0.3 -1.2M533.8 67l1 -0.2l-0.1 -0.5l2.4 0l2 0l1.5 -0.3l1.6 -3M537.1 66.3l0.7 -1.2l-0.5 -3.2l0.9 -1.6M507 35.7l0 1.9l-0.5 0l0.5 1.1" fill="none" stroke="#555" stroke-width="1.65" stroke-linejoin="round"/>
<path d="M432.6 5.3l34.1 0M466.7 6.2l7.9 0l-0.3 0.8l1.1 0M475.7 6.2l2.6 0l0 -0.3l7.6 0.1l3.6 0l10.2 0.1M453.7 0l11.8 0M422.1 -3.5l0 5.3l9.5 7l-0.2 4M432.6 -3.5l0 10.2l-1.2 0.2l0.2 1.9M441.4 15.3l0 -18.8M445.7 14.1l6.2 0l0 -8.8M451.9 6.2l5.4 0l0 3.3l1.4 0.5l2.1 0.4l1.8 0.5l1.7 0l2.6 0.4l0.8 0.1l0 2.7l0.7 1.7l-0.2 2.3M467 11.3l0 -3.2l-0.3 -1.9l0 -4.6l-1.2 -1.6M467.7 12.3l5.1 0M475.7 17.2l-0.3 -1.4l-3.4 0l1.1 -1.7l-0.3 -1.8l1 -2.6l0.9 -0.9l0.9 -2.1l0.7 -1.4l-0.6 -1.4l-1.2 -1.8l-0.9 -0.9l-1.2 -1.2l0 -0.7l0.7 -1.1M478.2 8.8l-0.5 5.4l0 2.9M482.6 8.8l0.7 3.7l0.4 3.3M479.3 17.1l-0.2 -1.3l4.6 0l0.1 0.6l4.8 0.1l0.3 0.4l0.9 -0.5M474.3 8.8l10.6 0l2.1 0l1.4 -0.4l2.3 0.2l0.3 0.5l2 0l2.1 1.7M487 8.8l1.9 2.6l1.6 2.5M484.9 8.8l2.3 -1.4l2.3 -1.4M478.4 3.9l0.9 -2.7l0 -4.7M484 1.6l0 -5.1M476.3 5.3l2.1 -1.4l1.7 -0.2l1.8 -0.2l1.1 -1.2l1 -0.7l1.4 0.5l2.5 0.7l1 -0.9l0.6 -0.5l1.4 -0.9l0.7 -1.6l0 -2.4M485.9 6l3 -1.6l-1 -1.2M489.1 4.4l2.8 0l1.4 -1.8l2.1 -1.5l1.1 0.1l1.2 0.7l1.3 1.6M491.6 0.5l8.2 0l0 2.2l1.4 0M493.3 0.5l0 0.9l2.1 -0.3M500.4 0.4l1.4 -0.8l-0.9 -0.8l0.9 -1.3M453.7 5.3l0 -8.8M437.8 -1.8l15.9 0M437.8 -3.5l0 1.7M465.5 0l-0.8 -1.1l-0.4 -1.5" fill="none" stroke="#555" stroke-width="2" stroke-linejoin="round"/>
<path d="M0 70.3 H633.1" stroke="#444" stroke-width="1.5" stroke-dasharray="4.5 5.5" stroke-dashoffset="1.6" fill="none"/>
<path d="M316.6 0 V140.7" stroke="#444" stroke-width="1.5" stroke-dasharray="4.5 5.5" stroke-dashoffset="0" fill="none"/>
</svg>
<path d="M0 0v-4.8M0 140.7v4.6M105.5 0v-4.8M105.5 140.7v4.6M211.1 0v-4.8M211.1 140.7v4.6M316.6 0v-4.8M316.6 140.7v4.6M422.1 0v-4.8M422.1 140.7v4.6M527.6 0v-4.8M527.6 140.7v4.6M633.1 0v-4.8M633.1 140.7v4.6M0 123.1h-4.8M633.1 123.1h4.6M0 70.3h-4.8M633.1 70.3h4.6M0 17.6h-4.8M633.1 17.6h4.6" stroke="#000" stroke-width="2.6" stroke-linecap="round" fill="none"/>
<path d="M17.6 0v-3.4M17.6 140.7v3.4M35.2 0v-3.4M35.2 140.7v3.4M52.8 0v-3.4M52.8 140.7v3.4M70.3 0v-3.4M70.3 140.7v3.4M87.9 0v-3.4M87.9 140.7v3.4M123.1 0v-3.4M123.1 140.7v3.4M140.7 0v-3.4M140.7 140.7v3.4M158.3 0v-3.4M158.3 140.7v3.4M175.9 0v-3.4M175.9 140.7v3.4M193.5 0v-3.4M193.5 140.7v3.4M228.6 0v-3.4M228.6 140.7v3.4M246.2 0v-3.4M246.2 140.7v3.4M263.8 0v-3.4M263.8 140.7v3.4M281.4 0v-3.4M281.4 140.7v3.4M299 0v-3.4M299 140.7v3.4M334.2 0v-3.4M334.2 140.7v3.4M351.8 0v-3.4M351.8 140.7v3.4M369.3 0v-3.4M369.3 140.7v3.4M386.9 0v-3.4M386.9 140.7v3.4M404.5 0v-3.4M404.5 140.7v3.4M439.7 0v-3.4M439.7 140.7v3.4M457.3 0v-3.4M457.3 140.7v3.4M474.9 0v-3.4M474.9 140.7v3.4M492.4 0v-3.4M492.4 140.7v3.4M510 0v-3.4M510 140.7v3.4M545.2 0v-3.4M545.2 140.7v3.4M562.8 0v-3.4M562.8 140.7v3.4M580.4 0v-3.4M580.4 140.7v3.4M598 0v-3.4M598 140.7v3.4M615.6 0v-3.4M615.6 140.7v3.4M0 105.5h-3.4M633.1 105.5h3.4M0 87.9h-3.4M633.1 87.9h3.4M0 52.8h-3.4M633.1 52.8h3.4M0 35.2h-3.4M633.1 35.2h3.4" stroke="#000" stroke-width="1.7" fill="none"/>
<rect x="0" y="0" width="633.1" height="140.7" fill="none" stroke="#000" stroke-width="2.8"/>
</g>
<text class="k" x="841.8" y="31.6" font-size="34.9">1-Dec to 10-Dec</text>
<text class="k" x="1478.9" y="31.6" font-size="35" text-anchor="end">CFS Forecast</text>
<g transform="translate(102.3 254.4)">
<svg x="0" y="0" width="633.1" height="140.7" viewBox="0 0 633.1 140.7" overflow="hidden">
<rect width="633.1" height="140.7" fill="#f8f8f8"/>
<ellipse cx="26.1" cy="22.8" rx="5.1" ry="4.1" fill="#fddbc7"/><ellipse cx="32.7" cy="3.2" rx="2.9" ry="1.7" fill="#fddbc7"/><ellipse cx="34.1" cy="35.9" rx="3.6" ry="2.6" fill="#d1e5f0"/><ellipse cx="89.5" cy="33" rx="8.7" ry="7.3" fill="#d1e5f0"/><ellipse cx="93.9" cy="41.8" rx="10.2" ry="2.6" fill="#d1e5f0" transform="rotate(-25 93.9 41.8)"/><ellipse cx="133.2" cy="27.9" rx="4.4" ry="4.4" fill="#d1e5f0"/><ellipse cx="147.8" cy="47.6" rx="5.8" ry="10.2" fill="#d1e5f0"/><ellipse cx="112.8" cy="60.7" rx="8.7" ry="5.8" fill="#d1e5f0"/><ellipse cx="163.8" cy="41.8" rx="7.3" ry="10.5" fill="#fddbc7"/><ellipse cx="194.4" cy="54.9" rx="3.6" ry="10.9" fill="#fddbc7" transform="rotate(-10 194.4 54.9)"/><ellipse cx="150.7" cy="76.7" rx="13.1" ry="9.9" fill="#fddbc7"/><ellipse cx="112.8" cy="88.4" rx="13.8" ry="4.4" fill="#fddbc7" transform="rotate(30 112.8 88.4)"/><ellipse cx="176.2" cy="79.6" rx="6.6" ry="12.4" fill="#d1e5f0" transform="rotate(-15 176.2 79.6)"/><ellipse cx="165.2" cy="98.6" rx="8.7" ry="4.4" fill="#d1e5f0" transform="rotate(-25 165.2 98.6)"/><ellipse cx="197.3" cy="110.2" rx="5.8" ry="10.9" fill="#fddbc7"/><ellipse cx="211.9" cy="101.5" rx="5.8" ry="3.6" fill="#fddbc7"/><ellipse cx="89.5" cy="137.9" rx="16" ry="3.6" fill="#fddbc7"/><ellipse cx="80.7" cy="119" rx="2.2" ry="3.2" fill="#fddbc7"/><ellipse cx="56" cy="92.8" rx="4.4" ry="3.6" fill="#d1e5f0"/><path d="M207.7 54.9C207.4 50.7 208.9 43.2 212.1 37.4C215.2 31.6 219.4 28.1 225.2 22.8C231 17.6 239.4 12.1 244.1 8.3C248.8 4.5 247.2 2.9 251.4 1.7C255.6 0.5 264.8 0.3 267.4 1.7C270.1 3.1 267.8 6.2 266 9.7C264.1 13.3 260.4 17.4 257.2 21.4C254.1 25.3 252.2 28.2 248.5 31.6C244.8 35 240.2 36.6 236.8 40.3C233.4 44 232.2 48.3 229.6 52C226.9 55.6 225.2 59.1 222.3 60.7C219.4 62.3 216.2 61.8 213.5 60.7C210.9 59.7 208 59.1 207.7 54.9Z" fill="#d1e5f0"/><path d="M228.1 65.1C228.4 63.1 228.1 61.5 231 57.8C233.9 54.1 239.7 49.1 244.1 44.7C248.6 40.2 251.1 37.5 255.8 33C260.5 28.6 265.4 24.4 270.3 19.9C275.3 15.5 279 11.4 283.5 8.3C287.9 5.1 290.4 3.2 295.1 2.4C299.8 1.6 306.3 2 309.7 3.9C313.1 5.7 313.5 8.7 314.1 12.6C314.6 16.6 314.7 20.8 312.6 25.7C310.5 30.7 305.5 35.6 302.4 40.3C299.3 45 298.5 48.8 295.1 52C291.7 55.1 287.4 57.3 283.5 57.8C279.5 58.3 276.9 55.9 273.3 54.9C269.6 53.8 267 50.9 263.1 52C259.1 53 254.8 57.8 251.4 60.7C248 63.6 248.1 66.5 244.1 68C240.2 69.4 232.4 69.2 229.6 68.7C226.7 68.2 227.8 67 228.1 65.1Z" fill="#fddbc7"/><path d="M322.8 1.7C331.2 -0.8 360.8 -0.8 369.4 1.7C378.1 4.2 371.7 11 370.9 15.5C370.1 20.1 368.5 24 365.1 27.2C361.6 30.3 355.9 30.7 351.9 33C348 35.4 346.6 38.5 343.2 40.3C339.8 42.1 335.9 43.7 333 43.2C330.1 42.7 328 40.5 327.2 37.4C326.4 34.2 329.4 29.7 328.6 25.7C327.8 21.8 323.8 19.9 322.8 15.5C321.8 11.2 314.4 4.2 322.8 1.7Z" fill="#d1e5f0"/><path d="M376.7 1.7C385.4 -0.8 418.5 -2.1 427.7 1.7C436.9 5.5 429.5 19.8 427.7 22.8C425.9 25.8 420.9 18.2 417.5 18.5C414.1 18.7 412.4 23.5 408.8 24.3C405.1 25.1 401.6 22.6 397.1 22.8C392.6 23.1 387.1 27.1 384 25.7C380.8 24.4 380.9 19.9 379.6 15.5C378.3 11.2 368.1 4.2 376.7 1.7Z" fill="#fddbc7"/><ellipse cx="419" cy="78.2" rx="10.2" ry="10.2" fill="#d1e5f0"/><ellipse cx="372.3" cy="98.6" rx="11.7" ry="7.3" fill="#fddbc7" transform="rotate(20 372.3 98.6)"/><ellipse cx="339.6" cy="108.8" rx="6.6" ry="5.1" fill="#fddbc7" transform="rotate(30 339.6 108.8)"/><path d="M388.4 101.5C391 101 398.2 103.8 402.9 105.9C407.7 108 410.7 110.5 414.6 113.2C418.5 115.8 424.3 117.8 424.8 120.4C425.3 123.1 419.9 125.1 417.5 127.7C415.1 130.3 414 135.8 411.7 135C409.3 134.2 407.3 126.8 404.4 123.4C401.5 119.9 398.5 118.7 395.6 116.1C392.8 113.4 389.7 111.4 388.4 108.8C387.1 106.2 385.7 102 388.4 101.5Z" fill="#fddbc7"/><ellipse cx="270.3" cy="97.1" rx="5.1" ry="8.7" fill="#d1e5f0" transform="rotate(25 270.3 97.1)"/><ellipse cx="379.6" cy="136.5" rx="7.3" ry="5.8" fill="#d1e5f0"/><ellipse cx="291.5" cy="120.4" rx="1.7" ry="1.7" fill="#d1e5f0"/><ellipse cx="263.1" cy="124.8" rx="4.4" ry="7.3" fill="#fddbc7"/><ellipse cx="236.8" cy="137.6" rx="8.7" ry="1.5" fill="#fddbc7"/><ellipse cx="209.2" cy="98.6" rx="4.4" ry="4.4" fill="#fddbc7"/><ellipse cx="419.9" cy="18.5" rx="3.6" ry="8.7" fill="#fddbc7"/><path d="M493.5 15.5C494 12.3 493 4.2 499.3 1.7C505.6 -0.8 524.2 0 528.4 1.7C532.6 3.4 524.7 7.9 522.6 11.2C520.5 14.4 519.4 16.5 516.8 19.9C514.2 23.3 510.7 29.1 508 30.1C505.4 31.2 504.3 27.6 502.2 25.7C500.1 23.9 497.9 21.7 496.4 19.9C494.8 18.1 492.9 18.8 493.5 15.5Z" fill="#d1e5f0"/><path d="M540.1 1.7C545.9 0.3 568.1 -0.8 573.6 1.7C579.1 4.2 572.5 11.5 570.7 15.5C568.8 19.6 566.8 21.1 563.4 24.3C560 27.4 555.7 29.9 551.7 33C547.8 36.2 544.7 38.4 541.5 41.8C538.4 45.2 536.6 49.6 534.3 52C531.9 54.3 531.1 55.4 528.4 54.9C525.8 54.4 522.6 50.6 519.7 49.1C516.8 47.5 512.9 47.7 512.4 46.1C511.9 44.6 513.9 41.9 516.8 40.3C519.7 38.7 524.5 39.2 528.4 37.4C532.4 35.6 535 33 538.6 30.1C542.3 27.2 547 24.5 548.8 21.4C550.7 18.2 550.1 14.7 548.8 12.6C547.5 10.5 543.1 11.7 541.5 9.7C540 7.7 534.3 3.1 540.1 1.7Z" fill="#fddbc7"/><ellipse cx="591.1" cy="11.2" rx="8" ry="11.7" fill="#d1e5f0"/><ellipse cx="611.5" cy="15.5" rx="5.8" ry="7.3" fill="#fddbc7"/><ellipse cx="617.3" cy="33" rx="5.1" ry="5.8" fill="#fddbc7"/><path d="M417.7 70.9C420.3 68.3 427.3 70.1 432.3 70.9C437.3 71.7 443.8 73.4 445.4 75.3C447 77.1 444.4 80.1 441 81.1C437.6 82.2 430.6 80.3 426.4 81.1C422.2 81.9 419.3 87.3 417.7 85.5C416.1 83.6 415.1 73.5 417.7 70.9Z" fill="#d1e5f0"/><ellipse cx="481.8" cy="84" rx="16" ry="4.4" fill="#fddbc7" transform="rotate(40 481.8 84)"/><ellipse cx="502.2" cy="81.1" rx="4.4" ry="8.7" fill="#fddbc7" transform="rotate(-20 502.2 81.1)"/><ellipse cx="506.6" cy="63.6" rx="2.9" ry="5.8" fill="#fddbc7" transform="rotate(20 506.6 63.6)"/><ellipse cx="518.2" cy="97.1" rx="7.3" ry="2.2" fill="#fddbc7" transform="rotate(40 518.2 97.1)"/><path d="M427.9 108.8C429.5 106.4 434.8 103.9 439.6 101.5C444.3 99.1 449.4 95.4 454.1 95.7C458.8 95.9 461.8 99.8 465.8 103C469.7 106.1 473.1 109.2 476 113.2C478.9 117.1 481.3 120.6 481.8 124.8C482.3 129 482.6 134 478.9 136.5C475.2 139 465.9 139.7 461.4 138.7C457 137.6 458.1 133.9 454.1 130.6C450.2 127.4 443.8 123.3 439.6 120.4C435.4 117.6 432.9 116.7 430.8 114.6C428.7 112.5 426.3 111.1 427.9 108.8Z" fill="#d1e5f0"/><ellipse cx="499.3" cy="126.3" rx="7.3" ry="10.2" fill="#fddbc7"/><ellipse cx="519.7" cy="137.2" rx="8.7" ry="3.6" fill="#fddbc7"/><path d="M545.9 105.9C547.5 104 553 101.6 556.1 103C559.3 104.3 560.5 108.7 563.4 113.2C566.3 117.6 569.8 123.1 572.1 127.7C574.5 132.3 582.3 136.7 576.5 138.7C570.7 140.6 545.1 141.4 540.1 138.7C535.1 135.9 547.5 127.9 548.8 123.4C550.1 118.8 547.9 116.3 547.4 113.2C546.8 110 544.3 107.7 545.9 105.9Z" fill="#d1e5f0"/><ellipse cx="572.1" cy="76.7" rx="10.2" ry="6.6" fill="#fddbc7"/><ellipse cx="560.5" cy="84" rx="5.8" ry="4.4" fill="#fddbc7"/><path d="M579.4 98.6C581.8 96 587.8 96.1 592.5 97.1C597.3 98.2 600.4 100.7 605.6 104.4C610.9 108.1 615.1 113.3 621.7 117.5C628.2 121.7 638.5 123.9 642.1 127.7C645.8 131.5 651.1 136.7 642.1 138.7C633.2 140.6 603.3 141.1 592.5 138.7C581.8 136.2 584.7 129.7 582.3 124.8C580 120 579.9 116.4 579.4 111.7C578.9 107 577.1 101.2 579.4 98.6Z" fill="#fddbc7"/><ellipse cx="420.6" cy="120.4" rx="4.4" ry="2.9" fill="#fddbc7"/><ellipse cx="239" cy="35.2" rx="21.9" ry="6.6" fill="#92c5de" transform="rotate(-35 239 35.2)"/><path d="M235.4 59.2C236.7 57.2 241.9 53 245.6 49.1C249.3 45.1 251.6 41.9 255.8 37.4C260 32.9 264.4 28.7 268.9 24.3C273.4 19.8 276.1 15.8 280.5 12.6C285 9.5 289.7 7.3 293.7 6.8C297.6 6.3 301.1 7.1 302.4 9.7C303.7 12.3 302.5 17.4 300.9 21.4C299.4 25.3 296.3 28.2 293.7 31.6C291 35 289.5 37.9 286.4 40.3C283.2 42.7 279.8 44.2 276.2 44.7C272.5 45.2 269.6 42.4 266 43.2C262.3 44 259.5 46.4 255.8 49.1C252.1 51.7 248.7 55.7 245.6 57.8C242.4 59.9 240.1 60.4 238.3 60.7C236.5 61 234.1 61.3 235.4 59.2Z" fill="#f4a582"/><path d="M331.5 1.7C336.8 -0.3 356.2 0 362.1 1.7C368 3.4 364.8 7.9 364.3 11.2C363.8 14.4 362.2 17.6 359.2 19.9C356.2 22.3 351.2 24.5 347.6 24.3C343.9 24 341.4 20.6 338.8 18.5C336.2 16.4 334.3 15.6 333 12.6C331.7 9.6 326.3 3.7 331.5 1.7Z" fill="#92c5de"/><path d="M382.5 1.7C388.6 0.3 411.7 -0.3 417.5 1.7C423.3 3.7 417.5 9.6 414.6 12.6C411.7 15.6 405.9 17.9 401.5 18.5C397 19 393 17.1 389.8 15.5C386.7 14 385.3 12.2 384 9.7C382.7 7.2 376.5 3.1 382.5 1.7Z" fill="#f4a582"/><path d="M499.3 12.6C498.5 10.4 499.5 3.7 503.7 1.7C507.9 -0.3 520 0.3 522.6 1.7C525.2 3.1 520.9 7.5 518.2 9.7C515.6 11.9 511.4 13.6 508 14.1C504.6 14.6 500.1 14.9 499.3 12.6Z" fill="#92c5de"/><path d="M553.2 1.7C556.1 0.3 566.9 0 569.2 1.7C571.6 3.4 568.4 8.4 566.3 11.2C564.2 13.9 559.9 17.3 557.6 17C555.2 16.7 554 12.5 553.2 9.7C552.4 7 550.3 3.1 553.2 1.7Z" fill="#f4a582"/><ellipse cx="464.3" cy="130.6" rx="8" ry="5.1" fill="#92c5de" transform="rotate(30 464.3 130.6)"/><ellipse cx="444.7" cy="117.5" rx="2.2" ry="2.2" fill="#92c5de"/><path d="M557.6 111.7C559.7 110.4 561 112.7 563.4 117.5C565.8 122.4 573 134.9 570.7 138.7C568.3 142.5 553.7 141.1 550.3 138.7C546.9 136.2 550.4 129.7 551.7 124.8C553.1 120 555.5 113 557.6 111.7Z" fill="#92c5de"/><ellipse cx="599.8" cy="126.3" rx="3.6" ry="6.6" fill="#f4a582" transform="rotate(-20 599.8 126.3)"/><path d="M270.3 27.2C271.1 25.1 276.6 20.3 280.5 18.5C284.5 16.6 290.6 15.9 292.2 17C293.8 18 290.9 21.7 289.3 24.3C287.7 26.9 285.8 30.5 283.5 31.6C281.1 32.6 278.5 30.9 276.2 30.1C273.8 29.3 269.6 29.3 270.3 27.2Z" fill="#d6604d"/><path d="M389.8 1.7C393.2 0.8 408.3 0.5 411.7 1.7C415.1 2.9 410.9 6.6 408.8 8.3C406.7 10 402.9 11.4 400 11.2C397.1 10.9 394.6 8.5 392.7 6.8C390.9 5.1 386.4 2.6 389.8 1.7Z" fill="#d6604d"/><ellipse cx="513.9" cy="2.7" rx="3.6" ry="2.2" fill="#4393c3"/><ellipse cx="559" cy="2.7" rx="4.4" ry="2.9" fill="#d6604d"/><path d="M395.6 1.7C396.4 1.3 406 1.3 407.3 1.7C408.6 2.1 405 3.9 402.9 3.9C400.8 3.9 394.9 2.1 395.6 1.7Z" fill="#b2182b"/>
<path d="M-10.4 7.4l1.1 -0.2l1.4 1.2l2.6 -0.1l1.4 0.3l2.1 -1l1.8 -0.4l2.6 -1l2.7 -0.6l3.5 0l3.5 -0.3l2.8 0.2l2.1 -0.8l0.9 0.6l1.2 0l-0.7 1l-0.1 1.4l0.8 0.7l-1.4 1.6l1.3 1.1l1 0.9l1.8 0.5l1.2 0l3.5 0.9l0.6 1.5l2.6 0.9l3.5 1.3l1.8 -1.3l0 -2.3l2.6 -1l2.7 0.5l3.5 1.6l3.5 0.7l3.5 0.7l1.8 -0.9l1.7 -0.2l2.3 0.4l0.4 2.5l0.3 1.5l1.4 1.8l0.9 1.8l0.9 1.7l0.9 1.8l0.8 1.7l0.2 1.8l2.3 1.8l0.5 1.7l0 2.5l1.4 1.9l1.1 0.9l1.2 3.5l0.4 0.7l1.7 1.1l1.3 0.8l2.2 2.3l1.3 1.3l0.2 1.5l-0.6 0.2l1.8 1.8l1.7 0.2l1.8 -0.6l2.6 -0.7l2.7 -0.3l2.6 -1.1l1.2 0l-0.3 2.5l-0.9 2.6l-1.2 1.8l-1.4 2.6l-1.8 3.5l-1.7 2.7l-1.8 1.4l-1.2 0.3l-2.3 1.8l-2.7 2.3l-1.7 2.4l-1.8 1.4l-0.9 1.8l-0.7 1.1l-1 2.4l-0.4 1.8l0.9 0.5l0.4 2.1l0.1 2.7l1.5 1.7l0.1 2.7l0.2 3.5l0.2 1.7l-1.6 2.3l-3.2 1.8l-1.7 1l-1.3 1.6l-1.7 1.6l-0.9 0.2l-0.2 1.2l1.1 1.8l0.3 2.6l-0.1 1.8l-3.4 2.1l-1.6 1.2l0.6 1.6l-0.4 2.1l-1.2 1.8l-1.8 1.5l-1.4 2l-2.1 2.3l-1.8 1.2l-2.6 1.4l-1.6 0.3l-2.8 0.2l-3.5 0.2l-3.5 1.1l-2.1 -0.9l-0.7 -0.6l-0.4 -2.1l0.2 -1.7l-1.8 -2.3l-1.4 -3.3l-1.7 -2l-0.9 -1.7l-0.4 -2.7l-0.5 -3.9l-1.8 -3.1l-1.7 -3.5l-1.2 -2.7l0 -2.6l0.7 -1.8l0.5 -2.6l1.7 -2.1l0.6 -2.3l-0.7 -2.6l-0.4 -1.3l-0.7 -2.3l-0.9 -2.6l-0.1 -1.8l-0.7 -0.8l-1.5 -1.3l-2.1 -2.3l-1.4 -2.2l-0.3 -0.9l1.2 -2l0.2 -1l0.3 -2.3l0 -2.1l-0.5 -0.9l-1 -0.9l-1.1 0l-2.3 0.4l-1.7 0l-1.3 -1.6l-1.4 -1.8l-1.9 -0.3l-1.8 0.2l-2.1 0.3l-2.1 0.7l-1.8 1.1l-1.7 0.5l-1.8 -0.5l-1.7 -0.2l-2.7 0.2l-3.5 1.2l-2.6 -1.4l-3.2 -1.9l-1.2 -1.1l-1.8 -1l-1.2 -1.8l-0.2 -1.4l-0.7 -0.4l-1.4 -1.7l-0.9 -0.9l-1.7 -1.4l-1.3 -1.1l-0.1 -1.4l0.3 -0.5l-0.9 -1.6l-0.7 -0.5l0.7 -0.5l1.1 -1.8l0.3 -1.7l0.6 -1.8l-0.4 -2.3l-0.5 -0.3l0.3 -1.8l-1.2 -0.9l0 -1.4l1.2 -2.1l0.7 -1.4l1.6 -1.6l0.4 -1.4l0.7 -1.2l1.6 -1.4l0.8 -1.4l2.7 -0.9l2.3 -1.6l0.8 -1.6l-0.1 -2.3l0.8 -1.9l1.5 -1.4l1.5 -0.5l1.4 -0.7l0.9 -1.8l0.7 -1.4M622.8 7.4l1 -0.2l1.4 1.2l2.7 -0.1l1.4 0.3l2.1 -1l1.7 -0.4l2.7 -1l2.6 -0.6l3.5 0l3.6 -0.3l2.8 0.2l2.1 -0.8l0.9 0.6l1.2 0l-0.7 1l-0.2 1.4l0.9 0.7l-1.4 1.6l1.2 1.1l1.1 0.9l1.7 0.5l1.3 0l3.5 0.9l0.5 1.5l2.6 0.9l3.6 1.3l1.7 -1.3l0 -2.3l2.7 -1l2.6 0.5l3.5 1.6l3.5 0.7l3.6 0.7l1.7 -0.9l1.8 -0.2l2.3 0.4l0.3 2.5l0.4 1.5l1.4 1.8l0.8 1.8l0.9 1.7l0.9 1.8l0.9 1.7l0.2 1.8l2.2 1.8l0.6 1.7l0 2.5l1.4 1.9l1 0.9l1.3 3.5l0.3 0.7l1.8 1.1l1.2 0.8l2.3 2.3l1.2 1.3l0.2 1.5l-0.5 0.2l1.7 1.8l1.8 0.2l1.8 -0.6l2.6 -0.7l2.6 -0.3l2.7 -1.1l1.2 0l-0.4 2.5l-0.8 2.6l-1.3 1.8l-1.4 2.6l-1.7 3.5l-1.8 2.7l-1.7 1.4l-1.3 0.3l-2.3 1.8l-2.6 2.3l-1.8 2.4l-1.7 1.4l-0.9 1.8l-0.7 1.1l-1.1 2.4l-0.3 1.8l0.9 0.5l0.3 2.1l0.2 2.7l1.4 1.7l0.2 2.7l0.2 3.5l0.1 1.7l-1.6 2.3l-3.1 1.8l-1.8 1l-1.2 1.6l-1.8 1.6l-0.8 0.2l-0.2 1.2l1 1.8l0.4 2.6l-0.2 1.8l-3.3 2.1l-1.6 1.2l0.5 1.6l-0.3 2.1l-1.3 1.8l-1.7 1.5l-1.4 2l-2.1 2.3l-1.8 1.2l-2.6 1.4l-1.6 0.3l-2.8 0.2l-3.6 0.2l-3.5 1.1l-2.1 -0.9l-0.7 -0.6l-0.3 -2.1l0.1 -1.7l-1.7 -2.3l-1.4 -3.3l-1.8 -2l-0.9 -1.7l-0.3 -2.7l-0.5 -3.9l-1.8 -3.1l-1.8 -3.5l-1.2 -2.7l0 -2.6l0.7 -1.8l0.5 -2.6l1.8 -2.1l0.5 -2.3l-0.7 -2.6l-0.3 -1.3l-0.7 -2.3l-0.9 -2.6l-0.2 -1.8l-0.7 -0.8l-1.4 -1.3l-2.1 -2.3l-1.4 -2.2l-0.4 -0.9l1.3 -2l0.1 -1l0.4 -2.3l0 -2.1l-0.5 -0.9l-1.1 -0.9l-1.1 0l-2.2 0.4l-1.8 0l-1.2 -1.6l-1.4 -1.8l-2 -0.3l-1.7 0.2l-2.1 0.3l-2.2 0.7l-1.7 1.1l-1.8 0.5l-1.7 -0.5l-1.8 -0.2l-2.6 0.2l-3.5 1.2l-2.7 -1.4l-3.1 -1.9l-1.3 -1.1l-1.7 -1l-1.3 -1.8l-0.1 -1.4l-0.7 -0.4l-1.5 -1.7l-0.8 -0.9l-1.8 -1.4l-1.2 -1.1l-0.2 -1.4l0.4 -0.5l-0.9 -1.6l-0.7 -0.5l0.7 -0.5l1 -1.8l0.4 -1.7l0.5 -1.8l-0.3 -2.3l-0.6 -0.3l0.4 -1.8l-1.2 -0.9l0 -1.4l1.2 -2.1l0.7 -1.4l1.6 -1.6l0.3 -1.4l0.7 -1.2l1.6 -1.4l0.9 -1.4l2.6 -0.9l2.3 -1.6l0.9 -1.6l-0.2 -2.3l0.9 -1.9l1.4 -1.4l1.6 -0.5l1.4 -0.7l0.9 -1.8l0.7 -1.4M86.7 91.5l1.2 2.6l0.9 3.2l-1.2 0.3l-0.2 2.3l-0.5 2.1l-1.1 3.5l-1.4 4.4l-1.4 4.1l-1.2 0.7l-2.3 0.5l-2.1 -0.9l-0.7 -2.6l-0.5 -2.7l1.7 -2.6l0.2 -1.8l-0.7 -2.6l0.7 -3l2.8 -1l1.8 -0.9l1.5 -1.6l1.5 -1.8l1 -2.2M-15.5 -2.6l-0.2 2.6l-0.8 1.2l-0.2 1.1l1.2 0.5l0 0.9l-0.3 1.6l1.7 0l1.1 -0.4l1.7 0.7l0.7 1.1l0.8 0.3l0.5 -0.3l1.6 -0.9l2.4 0l1.4 -0.2l0.9 -0.9l1.6 -0.5l0.5 -1.2l1.3 -0.9l-0.9 -1.2l0.9 -1.3l1.2 -1l1 -0.7l2.7 -1.1M617.7 -2.6l-0.2 2.6l-0.9 1.2l-0.2 1.1l1.3 0.5l0 0.9l-0.4 1.6l1.8 0l1 -0.4l1.8 0.7l0.7 1.1l0.7 0.3l0.5 -0.3l1.6 -0.9l2.5 0l1.4 -0.2l0.9 -0.9l1.5 -0.5l0.6 -1.2l1.2 -0.9l-0.9 -1.2l0.9 -1.3l1.2 -1l1.1 -0.7l2.6 -1.1M4.2 0.7l1.3 -0.6l0.5 0.4l-0.5 0.7l-0.8 -0.3l-0.5 -0.2M2.1 1.9l0.5 -0.3l0.2 0.3l-0.7 0M14.4 -1.8l0.4 1.3l0 1.9l1 0.4l0.9 -0.4l0.4 -1.4l0 -1.4l-0.7 -0.7l-2 0.3M21.8 3.5l1.6 -0.3l4 -0.2l-0.8 1.4l0.3 1.4l-1.7 -0.3l-3.2 -1.3l-0.2 -0.7M21.6 -3.2l2.7 1.1l0.9 0.7l1.2 1l1.2 0.4l0.7 1.8l-0.7 1.7l0.7 0.2l0.9 -1.1l0.9 -0.8l-1.1 -1.3l0.7 -1.2l2 0.7l0.8 -0.2l-0.8 -0.9l-1.8 -0.7l-1.8 -0.8l0 -0.9M34.1 -3.3l0 0.8l-0.2 1.6l1.3 1.4l1.2 1.4l0.9 1.1l0.9 0.2l-0.7 0.8l0.7 1.6l1.2 0.6l0.7 -0.4l0.5 0.4l0.2 -1.5l-0.7 -0.3l1.2 0l0.9 -0.4l0 -0.8l-1.2 -0.7l-0.7 -1.3l-0.6 -1.2l0.6 -0.9l1 0.5l0.9 0.4l0.7 -1.2l1.1 -0.6l1.7 0.6l0.4 0.7l0 1.4l1 0.9l-0.8 1.2l1.5 1.4l0.4 0.9l1.4 0.5l1.6 0.4l2.4 0.3l0.4 -1l2.3 0.7l2.6 0.7l2 -1.3l1.7 0.4l1.1 -0.2l-0.6 1.2l-0.1 0.9l0.1 1.8l-0.7 1l-0.7 1.4l-0.3 1.1l-0.4 0.9l-0.9 1.2l-1.2 0.4l-2.1 -0.4M46.1 -0.5l1.4 -0.4l1.7 0.2l1.8 0l1.6 -0.5l-1.6 -0.6l-1.8 0l-1.2 0.6l-1 0.3M40.8 1.9l1.4 0.6l0.9 1l-0.9 -0.3l-1 -0.7l-0.4 -0.6M41.3 7.9l1.3 0.2l1.4 0l2.3 0.2l-0.2 0.5l-2.5 0.2l-2.1 -0.6l-0.2 -0.5M48.9 6.7l0.7 -0.4l-0.2 0.7l-0.5 -0.3M45.6 1.4l1 -0.3l0 0.7l-1 -0.4M56.8 8.8l1.2 0.7l1.8 -0.7l1.1 -1.2l-1.6 0.5l-1.4 0.2l-1.1 0.5M57.2 17.8l1.2 2.4l1.7 1.4l0.6 -1.4l0.7 -1.7l0.2 2.4l0.8 1.1l1.8 2.6l1.2 2.1l1.4 1.4l1.8 3.6l0.2 0.8l1.5 2.3l1.8 2.1l0.9 1.8l1.7 2.1l0.6 2.3l0.7 2.6l0.2 1.4l0.3 0.9l2.6 -0.2l2.7 -1l2.6 -1.1l2.7 -1.2l2.6 -0.9l2.1 -0.7l0 -1.4l2.3 -0.5l1.8 -0.5l1.4 -0.9l2.1 -0.9l0.8 -1.8l1.5 0l-0.2 -2.1l1.4 -0.5l0.7 -1.6l1.6 -1.9l-1.4 -1.3l-0.9 -0.7l-2.1 -0.7l-1.4 -1.4l-0.2 -2.4l-0.5 0.3l-0.2 0.6l-1.2 0.7l-1.6 1.5l-2.5 0.6l-2.1 0.1l-0.5 -1l0.2 -2.1l-0.8 -0.6l-0.7 1.1l-0.1 1.2l-0.9 -1.4l0 -1.6l-1.2 -1.2l-1.3 -0.9l-0.5 -1.4l-0.9 -1.4l-0.3 -1l1.2 -0.2l0.9 -0.7l1.7 0.3l1.4 2.1l1.3 2l1.9 0.9l1.6 1.2l2.1 0.3l1.6 -0.5l1.2 -0.5l1.2 0.5l0.6 1.8l1.2 0.3l2.6 0.4l2.7 0.3l1 0l2.5 0l2.6 -0.1l2.7 -0.2l1 0.7l0.7 0.3l0.9 1.6l1.2 0.5l1.1 0.7l2.1 0.6l-1.7 0.9l0 0.3l1.7 2.1l1.8 0.5l1.7 -0.7l0.4 -1.2l0.7 -0.9l0.3 1.4l0 0.9l0 3.5l0.7 2.7l0.6 2.6l0.5 1.1l1.1 2.4l0.7 2l1.4 2.4l1 2.7l0.5 1.7l0.9 1.3l0.9 0.3l1.2 -1.2l1.4 -0.9l0.6 -1.8l1 0l-0.2 -2.1l0.9 -2.8l-0.3 -2.5l0.2 -1.7l1.4 -0.9l2.2 -1l1.8 -2l2.6 -2.3l1.3 -1.2l1.7 -0.9l0.9 -1.4l0 -0.9l1.8 -0.3l1.7 -0.2l2.3 -0.3l0.9 -0.9l1.2 -0.4l0.6 0.7l0.7 2.3l0.1 0.5l1.1 1.3l1.4 1.2l1.1 1.4l0.3 1.8l-0.5 2.6l1.7 0.4l1.4 -0.9l1.4 -0.9l0.8 0l0.7 0.9l0.1 2.3l0.7 1.7l0.7 1.8l0.2 1.7l0.2 2.7l-0.4 1.2l-0.5 2.3l0.2 1.1l1.2 1.2l1.2 0.7l0.9 1l0.4 1.5l0.5 1.9l1.1 2.3l0.1 0.5l1.4 0.9l2.2 1.4l0.3 0.2l1.1 -0.2l0 -1.1l-1.3 -1.4l-0.1 -1.7l0 -1.3l-0.7 -1.7l-1.3 -1.3l-1 -1l-1.4 -0.4l-0.7 -0.5l-0.7 -2.1l-0.4 -1.4l-1.1 -0.4l-0.1 -1.7l0.8 -2.1l0.6 -1.4l0 -1.4l0.9 -0.4l0.8 0.4l0 1.2l1.8 0.5l1.2 0.9l0.6 1.1l1 1.2l1.6 0.2l0.9 0.7l-0.4 2.2l1.2 -0.5l1.8 -1l0.5 -1.3l0.7 -0.1l1.4 -0.6l1.8 -1.2l0.5 -1.4l0 -1.4l-0.1 -1.4l-0.6 -2.5l-1 -1.6l-1.4 -1l-1.6 -1.6l-0.5 -1.1l-1.1 -1.2l0.4 -1.6l1.2 -1l0.7 -0.9l1.7 -1.1l1.1 -0.3l1.1 0.3l0.8 0.2l0.2 1.8l0.7 0.1l0.5 -1.4l0.9 -0.7l1.8 -0.5l1.7 -0.3l1.1 -0.6l1 0l1.5 -0.7l2.6 -0.5l0.9 -1.1l1.7 -1.5l1.8 -1.4l1 -1.3l0.8 -1.7l1.4 -1.8l1.4 -1.8l0.7 -1.4l-1.3 -0.8l1.1 -1.1l0 -1.1l-1.6 -1.4l-0.3 -1.2l-0.9 -2.1l-2 -1.4l1.1 -1.1l0.9 -0.7l1.2 -1l2.6 -0.5l0.2 -0.9l-1.9 -0.2l-1.4 -0.5l-1.6 0.8l-1.4 0l-0.2 -1.2l-1.6 -0.5l-0.5 -0.9l0.2 -0.7l1.2 0.2l1.4 -0.7l0.9 -0.9l2.1 -1.4l1.4 -0.2l0.7 0.7l-1.2 1.6l-0.5 1.4l1.4 -0.5l1.7 -1.1l2.3 -0.3l1.2 0.5l0.6 1.1l-0.2 0.8l-0.7 0.9l1.2 0.5l1.8 0l0.5 1.3l-0.9 0.9l0.4 0.8l0.2 0.9l-0.6 1.2l0.6 0.9l1.5 -0.7l1.8 -0.3l1.1 -0.4l0.5 -1.6l0 -1.7l-0.7 -1.3l-0.7 -1l-1.1 -1.2l-0.9 -0.6l0 -0.8l1.4 -0.8l2.5 -1l0.2 -1.2l1.2 -1.4M87.1 -3.2l-0.2 2.7l1.6 -0.2l-1.4 0.7l-0.9 1.2l-0.2 1.6l1.1 1.6l1.7 0.9l1.8 0.7l2.6 -0.4l1.8 -0.1l-0.2 -1.1l0 -2.5l-1.2 -0.7l0.7 -1.2l-1.4 -0.9l0.3 -0.9l1.8 -0.8l-1.8 -0.9M140.5 53.1l1.6 1.4l0.9 0.9l1 2.1l-0.3 1.4l-1.9 1.1l-1.1 -0.6l-0.4 -1.4l0 -1.7l0.4 -1.8l-0.2 -1.4M191.2 36.4l1.4 -1.2l1.9 -0.2l0.7 0.9l-0.9 1.4l-1.5 1l-1.6 -0.7l0 -1.2M213.7 25.9l0.9 0.5l-0.7 1.7l-0.4 1.8l-0.9 1.8l-1 -1.1l-0.4 -1.2l0.7 -1.8l0.9 -1.2l0.9 -0.5M246.8 -2.1l1.9 -0.4l0.2 0.7l0.7 1.8l0.1 0.9l-0.8 2.1l-0.9 0.9l0 1.6l-0.7 1l0.5 1.1l-1 0.8l-0.9 0.4l0 -1.1l-0.4 0.7l-0.9 0.2l-0.3 0.9l-0.7 -0.7l-0.5 0.7l-2.2 0l-0.1 -0.7l0 1.2l-1.1 0.6l-0.9 0.8l-1.2 -0.7l0.2 -0.7l0.3 -0.7l-1.5 0l-1.8 0.5l-1.9 0.2l-1.6 0.6l-0.9 0l0 -0.8l1.2 -0.5l1.8 -1.2l1 -0.4l1.8 0l1.8 -0.1l1.2 0l0.2 -1.1l1 -0.9l0.5 -1.2l0.6 0l-0.6 1.2l1.8 -0.5l1.4 -1.2l1.1 -0.9l0.7 -1.2l0.3 -1.4l-0.2 -1.3l0.8 -1.2M233 10.9l0.9 -0.3l1.8 -0.8l1.2 0.6l0 0.5l-0.9 0.9l-1.2 -0.4l-0.9 1.3l-0.9 -0.4l-0.3 -0.9l0.3 -0.5M230.2 10.7l1.4 0.6l0.4 0.7l-0.2 1.2l-0.7 1.7l-0.7 0.6l-0.5 0.3l-0.9 -0.5l0 -1.6l0.5 -0.9l-1.2 0l-0.2 -1l1.1 -0.5l1 -0.6M224.6 24.4l0.9 -1.2l-0.6 0.5l-0.3 0.7M227.4 20.8l0.7 -0.6l-0.5 0.6M222 11.8l1.2 -0.4l-0.5 0.6l-0.7 -0.2M212.1 37.8l2.8 0l0 2.7l-1 1.7l0 1.8l0.1 1.2l1.4 0.2l1.5 0.5l1.2 1.6l0.2 0.7l-1.4 -0.7l-1.3 -0.5l-1 -0.9l-1.3 0.3l-1.2 -0.7l0.5 -1l-1 -0.4l-0.5 -1.2l-0.4 -1.4l0.9 -0.5l0.2 -1.6l0.3 -1.8M220.7 53.1l1.4 2.3l0.4 2.1l-0.7 1.8l-0.7 -1.1l-0.6 1.6l-0.5 0.3l-1.6 -0.7l-0.3 -1.4l-1.1 -0.8l-1 0.1l-1.3 0.9l-0.1 -1.2l1.4 -1.2l1 -0.6l0.7 0.9l0.9 -0.7l0.9 -0.7l0.7 -0.4l0.5 -1.2M218.6 48.4l1.8 0l0.7 2.3l-1.3 0.3l-0.3 1.4l0.7 0l-0.5 -1.2l-0.9 -0.9l0.9 -0.7l-1.1 -1.2M216.2 51l1 0.4l-0.3 1.5l-0.6 1.4l-0.9 -1l0.6 -1.1l0.2 -1.2M214.6 49.4l1.9 0.7l-0.9 1.6l-1.2 0.2l0.2 -2.5M218.1 50.7l-0.5 1.7l-0.7 1.2l0.5 -1.4l0.7 -1.5M210.2 50.3l-0.6 1.8l-1.5 2.1l-2 1.4l0.6 -0.9l1.7 -1.9l1.4 -1.8l0.4 -0.7M211.8 46.8l1.4 0l0.5 1.6l-0.7 0.5l-0.7 -1.2l-0.5 -0.9M167.6 60.5l3.9 0.7l1.4 1.6l1.2 1.2l2.3 1.6l1.2 0.9l2.1 1.6l2.2 1.2l0.7 1.6l1.2 1.6l0.7 1.9l1.9 1.6l-0.1 2.3l-0.2 2.3l-1.1 0l-1 -0.4l-0.6 -0.9l-2.2 -1.6l-1.3 -0.5l-1.7 -2.5l-1.6 -2.6l-1.3 -1.8l-1.2 -2.1l-0.5 -1l-1.8 -1.2l-1.2 -1.5l-1.4 -1.2l-1.6 -2.1l0 -0.7M185 82.3l1.4 -1.6l1.4 0.4l2.7 0.5l0.7 0.7l3 0.2l0.8 -0.9l1.1 0.5l1.9 0.4l0.4 0.7l1.2 0.7l1.6 0.2l0.2 1.6l-2.3 -0.8l-3 0l-2.6 -0.7l-2.7 -0.1l-1.7 -0.2l-2 -0.5l-2.1 -1.1M191.7 67.7l1.1 -0.9l1.2 0.6l1.6 0.3l0.3 -1.7l2.8 -1.3l1.8 -2.3l1.8 -0.8l1.7 -1.8l1.2 -1.8l1.5 0.9l0.3 1.1l1.6 0.7l1 0.5l-1.5 1.2l-1.3 0.6l0 1.2l0.7 1.8l1.6 2.6l-1.9 0.3l-0.5 2.7l-1.3 1l-0.9 1.8l0.2 2.1l-0.7 0.5l-2.4 0.4l-0.2 -1.1l-1.8 -0.1l-2.6 0.1l-0.7 -0.7l-2.5 -0.1l-0.3 -2.5l-1.4 -1.8l-0.4 -1.7l0 -1.8M210.7 68.9l1.8 -0.8l3.7 0.7l2.4 0.8l1.6 -1.9l-1.2 1.9l-2.1 0.2l-3.2 -0.3l-2.3 0.3l-0.2 2l1.6 1l2.1 -0.9l2.1 0l-1 1.1l-2 0.7l1.3 2.3l0.9 1.7l-0.8 2l-1.5 -0.9l-0.2 -1.4l-0.9 -2.3l-1.2 0.4l0.2 2.8l0 1.7l-1.6 0l0 -2.6l-1.3 -2.1l0.9 -2.7l0.9 -1.9l0 -1.8M230.4 71.8l2.6 -0.7l2.7 0.7l0.3 2.6l1.4 1.8l1.8 -1.8l2.6 -1.2l2.7 0.7l3.5 1l3.5 1.4l2.6 0.9l2.3 2.3l2.1 1.4l1.4 0.9l-1.4 0.5l1.8 2.1l1.8 1.8l1.7 2.1l1.4 0.2l-1.7 0.1l-3.2 -0.5l-1.8 -1l-1.7 -2.5l-2.7 -0.9l-1.7 1.1l-0.9 1.7l-1.8 0l-1.7 -0.1l-2.7 -1.8l-2.2 0.5l-0.4 -1.7l1.4 -1.1l-1.4 -2.3l-3.5 -1.6l-2.6 -1l-2.7 0.2l-0.3 -1.4l-1.1 -0.7l2.3 -0.8l-2.6 -0.7l-1.8 -1.2l0 -1M201.4 84.8l2.1 0.1l-0.9 0.9l-1.2 -1M204 85.1l1.2 0l-0.3 0.9l-0.9 -0.2l0 -0.7M205.4 85.3l2.1 -0.5l1.8 0.3l-0.9 0.7l-2.6 0.4l-0.4 -0.9M210.9 85.3l1.9 -0.2l3.2 -0.3l0.2 0.7l-3.4 0.5l-1.9 -0.2l0 -0.5M209.3 87.1l2.1 -0.2l1.1 1.2l-2.3 -0.3l-0.9 -0.7M217.2 88.5l1.8 -1.8l2.3 -1.2l2.4 -0.4l-1.2 1.1l-2.7 1.2l-1.7 1.1l-0.9 0M224.2 68.6l0.7 -1.9l0.2 1.5l1.3 -0.5l-0.9 1.2l1 0.9l-1.4 -0.2l0.7 2.2l-1 -1.1l-0.6 -2.1M225.1 75.6l2.7 -0.3l2.2 0.9l-1.4 0.3l-2.2 -0.2l-1.3 -0.7M221.8 76l1.6 -0.2l0.3 1.1l-1.6 0.1l-0.3 -1M261 80l2.8 0l2.7 -1l1.4 -1.3l-0.2 1.4l-2.1 1.5l-1.8 0.7l-2.4 -0.4l-0.4 -0.9M265.2 74.9l2.1 1.4l1.8 2l-0.7 -0.9l-1.9 -1.8l-1.3 -0.7M271.9 80l2.1 1.8l-0.9 0.3l-1 -1.2l-0.2 -0.9M275.2 82.1l1.8 1.3l-0.9 -0.4l-0.9 -0.9M278.8 83.7l2.2 1.4l-0.8 -0.3l-1.4 -1.1M280.7 86.7l2.1 0.9l-0.9 0l-1.2 -0.9M282.5 85.1l1.2 2.1l-0.9 -1l-0.3 -1.1M283.7 88.5l1.7 0.8l-0.8 -0.7l-0.9 -0.1M293 96.7l1.1 1.1l-0.7 -0.2l-0.4 -0.9M294.1 98.5l1 0.9l-0.7 -0.2l-0.3 -0.7M295.8 101.3l0.5 0.4l-0.3 0l-0.2 -0.4M288.4 105.7l2.7 1.6l2.6 2.3l-1 0l-2.5 -1.6l-1.8 -2.3M311.8 101.3l1.6 -0.3l0.7 1l-1.4 0.4l-0.9 -1.1M314.3 99.7l2.1 -0.9l-0.7 0.9l-1.4 0M250.6 89.2l1.8 3.1l0.2 3.2l2.9 1.2l0.4 2.7l1.2 3.8l1.4 1.1l2.7 1.6l1.4 2.3l2.4 1.7l0.4 1.8l1.9 1.9l2 1.6l0 3.2l0.8 2.3l-1 3.3l-0.4 2.3l-1.7 2.1l-1.1 1.7l-0.9 2.2l-1.2 2.2l-0.2 1.8l-3.3 0.7l-1.8 1.1l-1.2 1l-1.9 -1.2l-0.9 -0.2l-2.1 0.9l-3.5 -0.9l-2.7 -1.4l-0.5 -1.8l-0.7 -1.5l-1.4 0l0 -1.4l-0.9 -1.1l-0.3 1.6l-1.5 0.2l0.9 -2.2l0.6 -2.4l-1.1 1.6l-2.1 2.3l-0.7 0.1l-1.1 -2.1l-1.4 -1.6l-1.2 -1.2l-2.6 -0.2l-1.8 -0.8l-3.5 0.1l-2.7 1.1l-2.6 0.2l-2.6 1.2l-1.8 1.6l-2.8 0l-3.3 0l-3.6 1.9l-2.6 0l-2.5 -1.2l-0.1 -1.3l1.2 -0.5l0 -2.3l-0.7 -2.6l-0.7 -2.1l-0.5 -1.1l-0.9 -1.7l-1.1 -2.1l0.4 -0.7l-0.6 -2.9l0.7 -1.7l-0.1 -1.8l0.7 -1.2l0.9 0l1.5 -0.9l2.1 -1.2l3.4 -0.5l2.5 -0.8l2.6 -1.5l1.2 -1.8l0 -1.8l1.4 -1l1.1 1.6l0.7 -1.8l1.6 -1.7l1.6 -1.8l2.1 -0.7l1.7 1.6l0.5 0.3l2.2 -0.1l0.1 -1.6l1.1 -1.8l1 -1l1.3 -0.4l1.7 -0.2l0.2 -1.2l1.6 0.7l2.6 0.7l3 -0.3l0.4 0.5l-0.7 1.7l-1.1 0.7l0 2l-0.9 0.3l2 1.4l2.1 0.7l2.3 1.3l1 1.2l2.1 -0.2l1.1 -2.6l0.3 -2.6l0 -3l0.7 -2.3l0.9 -1.4M240.2 133.3l1.6 -0.3l1.1 0.5l-1.2 0.3l-1.5 -0.5M229 90.4l1.9 -0.2l0.2 0.6l-1.6 0.3l-0.5 -0.7M239.9 94.6l0.9 0l-0.2 0.9l-0.7 -0.2l0 -0.7M254.3 141.9l3.4 0.7l2.9 -0.5l0.2 2.1M303.7 130.9l1.1 1l1.8 1.2l0.8 2l1.3 -0.4l0.7 0.7l0.7 1.3l1.7 0.5l1.8 -0.7l0 1.6l-0.7 1.2l-1.6 0.2l-0.2 1.2l-1 1.8l-1.4 0.8l-0.9 -1.7l0 -0.9l-1.8 -0.9l-0.3 -0.5l1.4 -0.7l0.2 -1.4l0.1 -1.2l-0.8 -1.5l-1.8 -2.1l-1.1 -1.5M303.7 141.6l0.9 1.2l1.8 -0.3l0.2 1.4M359 34.8l1.4 0.7l0.5 0.6l-1.4 0.8l-0.7 -1l0.2 -1.1M357.6 33.6l0.8 0l0.4 0.3l-0.9 0.2l-0.3 -0.5M354.9 32.5l0.7 -0.1l0.2 0.5l-0.7 0l-0.2 -0.4M352.3 31.5l0.5 -0.2l0 0.5l-0.5 -0.3M356.5 33.1l0.9 0l-0.4 0.1l-0.5 -0.1M472.2 70.9l0.9 -0.6l0 1.8l-0.9 -0.3l0 -0.9M474 71.2l0.5 0.2l-0.3 0.4l-0.2 -0.6M329.2 94.1l1.1 0.2l-0.5 0.3l-0.6 -0.5M330.6 94.8l0.9 0.2l-0.7 0.1l-0.2 -0.3M370 101.1l0.7 0.4l-0.5 0.2l-0.2 -0.6M324.8 107.5l0.4 0.1l-0.4 0M414.7 -3.5l0 1.7l-0.3 1.1l1 1.6l0.5 1.2l1.8 1.8l0.2 1l0.9 1.1l1 1.6l1.2 1.9l2 0.3l1.7 0.8l2.1 1.7l0.4 0.9l0.9 1.2l1 2.3l0.9 1.8l1.8 1.7l0.5 1.3l-1.4 0l1.2 1.2l2 0.9l1.5 1.4l0.4 2.1l3.2 2.1l0.7 0.9l0.8 -0.9l-1.5 -1.6l-0.7 -1l-1.1 -2l-1.2 -1.7l-1.3 -1.8l-1.4 -1.8l-1.2 -1.7l-0.9 -1.8l-0.2 -1.4l1.5 0.5l1.7 0.9l0.9 1.8l0.9 1.7l1.7 1.8l1.3 1.4l1.5 1.6l0.4 1.2l2.1 1.3l1.8 1.9l1 1l1.3 1.3l0.7 1.7l-0.4 1.8l-0.3 0.2l1.2 1.7l1.2 0.7l1.4 1.3l2.3 0.7l2.1 1l2 0.9l2.4 0.9l2.7 0.7l1.7 0.3l1.8 -0.8l1.7 0.3l1.8 1.4l1.4 1.2l2.1 1.1l1.8 0.5l2.1 0.7l1.9 0l0.4 0.4l0.3 0.5l1.4 1.2l1.2 1.5l0 1.2l0.9 1.2l1.1 0l1.2 0.9l0.7 1.2l1.1 0.6l0.3 0.5l1.8 0l1 0.7l0.6 0.7l1 -0.4l0 -1.4l1.3 -1.2l1.2 -0.2l1 1.1l0 1.6l1.1 0.8l0.5 1.8l0 1.8l0.2 1.7l0.4 0.4l-1.6 2.1l-1.4 1.4l-1.3 1.4l-0.9 0.3l-0.7 2.3l-0.8 0.9l0.1 2.1l1.4 0.5l0.2 0.9l-0.7 0.7l-1.6 1.6l-0.1 0.7l0.3 2.3l1.9 1.4l0.9 1.6l1.6 2.3l1.6 3.5l1.1 1.8l1.4 2.9l1.9 2.9l3 1.7l2.6 1.2l1.3 1.1l1.7 1.2l0.2 3l0 3.5l-0.5 2.7l-0.2 2.6l-0.4 3.5l-1 3.6l-0.2 1.7l-0.2 3.5l0 1.8l-1 3.5l-1.4 3l-1.1 1.4l0.5 3.5l-0.8 2.7l0 1.7M522.3 144.2l-3.3 -2.1l3.3 0.4l1.5 -0.7l0.1 -2l0.2 -1l3.5 -0.2l2.7 -0.5l1.7 -0.9l1.4 -2.1l-0.9 -1.4l-0.1 -1.3l-2 -1.2l0 -1.1l1.1 0.8l2.8 0.8l2.3 0l2.5 -1.6l1.5 -1.7l0.9 -1.4l2 -2.1l1.7 -2.7l2.1 -1.7l0.4 -1.8l0 -2.6l0.5 -1.1l2.3 -1.6l1.2 -0.8l2.3 -0.9l3.2 -0.9l2.1 -0.2l1.7 -1.6l0.2 -0.8l1.1 -2.1l1 -2.3l0.9 -2.1l0.4 -3.2l0 -2.1l0.8 -3.2l1.8 -2.1l0.9 -1.4l1.7 -1.8l1.4 -1.7l0.6 -1.8l0.1 -1.6l-0.7 -2.8l-2.2 -0.7l-1.5 -0.7l-2.1 -1.7l-2.2 -1.4l-3 0l-1.8 -0.4l-2.6 -0.4l-0.6 0l-1.2 -1.7l-2.6 -0.9l-2.7 -0.5l-0.8 1.4l-1.8 -2.3l-1.4 -0.4l0.5 -1.7l-1.4 -1.8l-0.7 -3.5l-0.9 -0.9l-1 -0.7l-3 -1.6l-2.1 -0.1l-3.2 -0.2l-2.1 -1.4l-1.4 -2.1l-1.8 -0.9l-1.7 -1.8l-1.8 -0.8l-0.9 -1.1l-2.6 0.2l-1.8 0.7l-1.7 -0.9l-1.8 0.2l-2.3 0l0 -1.2l-2.6 -0.6l-0.4 -1.2l-0.5 1.2l-1.7 0.9l-0.6 0.5l0.4 2.1l-1.1 0l0.2 -2.1l0 -1.4l1.1 -1.6l-1.8 0.9l-1.8 1.1l-1.5 0l-1.3 0.5l-1 1.1l-0.4 1.5l-1 0.9l-1.1 0.9l0.2 0.9l-1.1 -1.1l-0.9 -1.2l-1.9 -0.5l-1.6 0.5l-1.6 0.7l-1.5 -0.2l-0.9 -0.3l-0.7 -0.7l-0.7 -0.7l-1.1 -1.6l-0.2 -2l0.4 -1.7l0.2 -2.3l0.3 -1.2l-1.4 -1.1l-1.7 -0.5l-1.8 0l-2.6 0.2l-1.3 0.1l-1.2 -0.3l0.5 -0.7l0.6 -1.2l0.1 -1.8l-0.1 -0.9l1 -0.3l0.4 -1.4l0.1 -1.5l1.1 -1.5l-0.7 -0.6l-2.3 0l-2.1 0.4l-1.1 0.3l-0.1 1.1l-0.4 1.2l-1.2 1.4l-0.9 0.7l-1.6 0l-2.6 0.7l-1.4 -0.7l-1.4 -0.3l-0.6 -0.7l-0.7 -1.4l-1.2 -1.4l-0.4 -1.3l-0.7 -1.4l0 -2.1l0.4 -2.6l0.7 -1.6l-0.4 -1.9l0.4 -1.4l1.4 -1.1l1.9 -1.1l0.9 -0.7l1.8 -0.5l2.3 0.2l1.7 0.5l1.8 0.2l1.9 0.2l0.4 0.1l-0.6 -1.4l0.4 -0.8l2.3 0l1.7 -0.2l1.8 0.2l1.1 1l1.7 -0.5l1.4 0.5l1.4 1.2l0.2 1.8l0.9 2.1l0.7 1.2l1 1.6l1.3 0l0.7 -1l0.1 -1.8l-1 -3l-0.7 -1.7l-0.7 -1.6l0.3 -2l0.6 -0.8l1.5 -1.3l1.8 -1.4l1.8 -0.7l1.7 -1.2l0.9 -0.2l1.8 -1l-0.7 -2.1l-0.2 -0.9l-0.7 -0.6l0.2 -1.2l-0.4 -2.1l0.7 -0.3l0 1.9l0.4 1.9l1 -1.4l0.4 -0.9l0 -0.5l-0.7 -1l1 0.7l1.1 -0.9l0.5 -1.4l0 -0.6l1.8 -0.1l1.7 -0.6l0.2 -0.5l-2.8 0.5l-0.9 0.6M483.8 31.8l1.6 -1.4l1.8 -0.5l1 -0.4l2.5 0.2l1.7 0.4l1.8 0.9l1.8 0.3l1.4 0.9l2.1 0.9l0.9 0.7l2.3 1l-1.5 0.6l-1.7 0l-3 0.1l0.9 -1.2l-1.8 -0.5l-0.5 -1.3l-1.8 -0.3l-1.7 -0.5l-1.8 -0.4l-0.9 -0.3l-1.4 -0.4l-1.2 0.7l-1.4 0.4l-1.1 0.1M487 32l0.9 0l-0.2 0.5l-0.5 0l-0.2 -0.5M502.3 38l2.5 0.3l1.2 -0.7l-0.9 -1l-1 -0.9l1.5 -0.3l1.4 0.1l2.2 0l1 0.4l1.2 0.5l1.5 1.2l-1.1 0.4l-1.6 0l-1.4 0.2l-1.2 1l-0.7 -0.9l-1.8 0.2l-1.7 0.2l-1.1 -0.7M495.4 38l2.3 0l1.4 0.7l-1.4 0.3l-2.1 -0.5l-0.2 -0.5M515 38l2.6 0.2l-0.2 0.5l-2.4 0l0 -0.7M524.3 51.5l1.6 -0.1l0 1.2l-1.6 0l0.7 -0.5l-0.7 -0.6M524.5 41.7l0.8 0l-0.5 0.5l-0.3 -0.5M525.5 44.3l0.5 0.4l-0.1 0.3l-0.4 -0.7M525 42.9l0.3 0.5l-0.1 0l-0.2 -0.5M525.7 45.7l0.3 0.4l-0.1 0.2l-0.2 -0.6M528.3 47l0.2 0.3l-0.2 0l0 -0.3M587.8 3.9l1 0l-0.5 0.1l-0.5 -0.1M602.9 12.7l0.9 0l-0.4 0.3l-0.5 -0.3M603.4 20.4l1.3 -0.2l-0.7 0.9l-0.6 -0.7M605.4 21.1l0.7 -0.2l-0.2 0.6l-0.5 -0.4M607.8 20.9l0.9 -1l0.7 -0.9l-0.7 1.8l-0.9 0.1M591.5 43.6l0.3 0.5l-0.3 -0.1l0 -0.4M588.7 40.3l0.5 0l-0.4 0.3l-0.1 -0.3M93.9 48.2l1.8 0l-0.6 0.5l-1.2 -0.5M97.3 107.3l0.8 0.2l-0.3 0.5l-0.5 -0.7M101 105.7l0.7 0.2l-0.6 0.5l-0.1 -0.7M76.2 90.6l0.3 0.7l-0.3 0l0 -0.7M68.9 80.6l0.6 0.7l-0.4 0.3l-0.2 -1M163.2 46.6l0.4 1.8l-0.6 1.5l-0.1 -1.5l0.3 -1.8M164.8 57.7l0.3 0.5l-0.3 0.2l0 -0.7M14.9 63.8l0.8 0.2l-0.4 0.5l-0.4 -0.7M173.6 72.1l0.9 1.1l-0.6 0.1l-0.3 -1.2M171 67.9l1 1l-0.5 0.2l-0.5 -1.2M185.2 73.3l1.4 -0.1l0.9 2.1l-1.2 -0.4l-1.1 -1.6M189.2 74.9l1.1 0.2l-0.4 0.9l-0.7 -1.1M51.5 76.3l0.7 1.4l0.2 2l0.7 2.1l0.9 1.9l0.7 1.8l-0.9 -0.2l-1.2 -1.9l-1.1 -2.5l-0.3 -2.6l0.3 -2M59.6 87.1l1.1 1.7l0.7 1.8l-0.2 1.7l0.5 2l0.2 1.2l-0.5 0.2l-0.7 -1.3l-0.6 -1.7l0 -2.1l-0.3 -1.8l-0.2 -1.7M55.9 72.1l0.4 -1.9l1.7 -0.6l1.8 0.6l0.2 1.6l-0.2 1.2l-0.7 1.4l-1.4 0.5l-1.6 0l-0.3 -1.4l0.1 -1.4M53.5 68.4l1 -1.4l0.7 -0.7l-0.3 1.1l-0.9 1l-0.5 0M51.7 70.7l0.7 0.2l-0.3 0.7l-0.4 -0.9M50.8 73.3l0.7 0.2l-0.1 1.1l-0.6 -0.2l0 -1.1M510 97.4l1.3 0.4l0.8 1.4l-1.2 -0.7l-0.9 -1.1M482.1 49.4l1.6 0.5l0.3 0.9l-1.4 -0.3l-0.5 -1.1M495.3 26.2l0.8 0l0.6 1.4l0 0.9l-0.9 -0.7l-0.5 -1.6M496.3 23l1.1 0.4l0.5 0.9l-0.7 0.5l-0.2 -0.9l-0.7 -0.9M494.2 23.4l1.4 -0.2l0.7 0.2l-0.9 0.3l-1.2 -0.3M498.1 25.5l0.9 0.4l0.3 1l-0.5 -0.5l-0.7 -0.9M499.8 26.9l0.7 0.7l0.2 0.4l-0.5 -0.2l-0.4 -0.9M499 28.1l0.8 0.7l0.6 0.4l-0.7 -0.2l-0.7 -0.9M500.5 28.7l0.7 0.8l0.4 0.8l-0.5 -0.6l-0.6 -1M502.3 30.3l0.9 0.1l0 0.9l-0.7 0l0.2 -0.7l-0.4 -0.3M504.4 31l0.9 0l-0.5 0.1l-0.4 -0.1M503.5 33.1l1.1 -0.2l0.2 0.5l-1.1 0.2l-0.2 -0.5M505.8 32l1.4 -0.2l0.2 0.6l-1.4 0l-0.2 -0.4M496.7 26.2l0.7 0l-0.4 0.2l-0.3 -0.2M490 36.2l0.5 0l-0.3 0.2l-0.2 -0.2M489.3 27.1l1 -0.2l1.1 -0.5l0.3 -0.4M629.3 8.6l0.9 2.8l0.8 2.3l-3.1 1.2l-1.4 1.3l-3 1.7l-2.7 0.6l-3 1.4l0 2.4M609.9 21.7l7.9 0M617.8 22.3l0 2.3l-5.8 0l0 4.4l-1.7 0.9l0 3l-7 0M617.8 22.3l6.9 4.1M624.7 26.4l-3 0l1.8 14.9l0.3 1.8l-7 0l-2.5 0.2l-1.4 -0.4l-1.2 1.4M15.1 5.5l-0.5 0.7l-0.2 2.6l-1.2 1.8l0 1.4l1.4 1.2l1.2 0.9l0.9 3.1M20.2 12l0 1.2l-2.1 1.2l-0.2 1.8l-1.2 1M16.7 17.2l0.7 2.1l-0.2 3.6l0.4 0.8l-1.1 0.6l1.1 2.4l2.6 1.1l0.9 1.2M21.1 29l-7.9 4.8l-3 2.3l-2.8 0.7M7.4 36.8l-1.9 0l0.1 -1.3l-2.4 -0.9l-1.1 -1.4l-10.5 -6.8M640.5 36.8l-1.9 0l0.2 -1.3l-2.5 -0.9l-1 -1.4l-10.6 -6.8M44.3 14.8l-0.5 1.9l0.2 2.3l0 12.7l0 3.5l-1.8 0l0 0.9M44 31.7l20.9 0M42.2 36.1l-15.8 -6.2l-1.4 0.7l-3.9 -1.6M42.2 36.1l0 6.6l-1.7 0.2l-0.2 1.1l-1.1 1.2l0.4 1.4l-1.3 1.4l2 2.3l0 0.9M26.4 29.9l1.6 4.6l-0.7 6.1l-3.6 4.4l0 1.3M23.7 46.3l1.3 1.4l1.4 1.4l0.2 2.3l0.7 1.5l-2.7 0l-0.2 0.6l2.9 3.7M27.3 57.2l1.7 -0.4l2.1 -0.3l1.6 -0.4l0.7 -1.6l2.5 -0.2l2.3 -2.6l2.1 -0.5M40.3 51.2l1.4 1.7l-0.4 1.8l1.3 0.7l1.7 1.6l2.1 1.7l1.8 2.7M67.9 38.7l-2.8 1.8l-0.9 3.5l-0.2 1M64 45l-0.5 3l-1.9 2.1l-1.3 1.6l-0.2 1.9l-0.5 1.8l-1.6 0.9l1.8 1.4l2.3 3.2l1 1.4l-2.6 0.5l-0.7 0.2M59.8 63l-0.9 0.7l-2.6 0.3l-1.8 -0.3l-0.3 0.5l-1.4 -1.6l-1.8 0l-1.8 0.2l-1 -1.4M64 45l2.7 -0.7l1.9 0.4l2.1 0.3l2.3 2l1.6 1.4M75.8 48l-1.2 0.4l-1.1 1.7l0 0.9l2 0l0.5 -0.9M75.5 51l0.1 1.8l1.8 1.7l5.3 1.8l1.7 0l-5.3 5.3l-2.6 0.3l-2.6 1.2l-0.2 0.4M73.7 63.5l-1.6 1.9l0 4.9l0 1.6l1.1 1.4M73.7 63.5l-1.9 -0.5l-1.8 0.5l-3 0.5l-2.1 -1.4l-1.8 -0.3M59.8 63l0.9 1.2l0.9 3l-0.9 1.4l-0.9 1.4l-0.2 2.1M59.6 72.1l6.7 3.7l0 0.7l2.6 2.1M54.2 64.2l0.8 2.3l-1.4 1.7l-1 1.3l-0.5 1.7l0 1.6M52.1 72.8l1.5 -0.7l6 0M53.6 72.1l0.6 2.3l-0.6 0.2l0.6 1.6l-0.7 1.2l-1.8 0.9M52.1 72.8l-1.1 2.3l0.4 1.4l0.3 1.8M51 75.1l2.6 -0.5M51.7 78.3l0.4 2.6l1.9 3.9l3.9 2.1l1.9 0.2l0.9 0.8l0.2 2.9l2.4 0.1l2.7 0l1.7 -0.5l3.4 -1.6M57.9 86.9l0.7 2.4l-0.2 3l-0.9 2l0.9 0.7l2.3 0.9l-0.4 2.1l1.8 2.4l0.9 -1.9l0 -2.1l-1.6 -2.3l-0.5 -3.3M58.4 95l-5.3 1.7l0.4 1.1l4.4 1.9l0 3.2l-0.4 1.7l-0.3 3.2l-2.2 1.9l1.3 3.7l-0.2 2.5l0.4 1.6l1.4 0.2M56.1 115.9l-1.6 -0.4l-0.3 2l0.8 0.9l1.5 -0.9M47.5 122.4l1.7 -1.6l1.8 0.4l0.7 1.2l-1.6 1.8l-1.9 -0.6l-0.7 -1.2M55 109.7l-3.3 -0.3l-2.5 1l-1.7 1.5l-0.2 1.2l-1.7 0.9l-0.6 1.4l-1.6 0.3l-2.9 -0.9l-0.8 1.5l-1.5 1.2l-1.8 0l0 -2.3l-1.2 -1.2M35.2 114l0 6.3l-1.8 0.9l-1.7 -0.2l-1.1 -0.2l-1.6 -0.1M35.2 114l0 -5l1.7 0l0 -6.5l4.4 -0.5l1.6 -0.2l1.6 -0.1l-2.3 -0.6l-1 0.2M20.8 100.8l2.1 -0.6l1.7 0.8l7.8 0l5.2 0.8l3.6 -0.5M44.5 101.7l1.2 2.1l2.3 2.6l1.2 1.9l2.5 1.1M44.5 101.7l3 0.3l3.3 -3.5l2.7 -0.7M41.2 101.3l-2.5 -2.5l0 -5.6l3.5 0l0 -3.7M42.2 89.5l-1.7 0.4l-1.5 0.1l-0.3 -2.1l-0.4 -3.5l0 -1.2l-2.2 -0.2l-1.8 1.2l-0.9 0.2l-2.1 0.2l-2.1 -3.9l-5.6 0l-2.1 0.2M21.5 80.4l1.4 -2M42.2 89.5l2.3 1.3l1.2 0.5l2.1 -0.5l2.1 1.5l1.1 1.6l1.4 0l0 -2.1l-1.4 0.4l-1.1 -0.9l0.4 -2.5l0 -2.1l0.5 -1.4l3.2 -0.5M21.1 79.1l1.8 -0.7l2.4 0.4l1.6 -0.9l1.6 -3.7l2.6 -3l0.6 -1.7l0.1 -3.2l0.9 -2.1M32.7 64.2l0 -1.6l1.6 -1.2l2.6 1.2l2.7 0.5l1.7 -1l2.7 -0.5l4.2 -0.2M19.5 77.2l1.3 -0.7l1.2 -2.1l2.3 0.2l1 -0.9l0.2 -2.3l-1.1 -1.1l1.1 -1.7l-2.1 -0.5l-0.2 -1.6M17.2 68.6l2.7 0l0 -2.1l-2.7 -0.2M19.9 66.5l3.3 0l2.3 0l2.6 0.9l0.4 -0.9l-2.1 -2.3l-0.7 -2.6l-0.2 -1.8l1.8 -2.6M28.5 66.5l0.7 -2.3l3.5 0M15.1 61.9l0.7 -1.8l2.1 -1.9l2 0.5l0.9 -0.7l0.7 -2.4l1.7 -2.1l1.1 -2.5l1.4 -0.9l-0.7 -1.6l0 -0.8M23.7 46.3l-1.7 1l-3.2 -0.5l-1.9 1l-1.6 -0.3l-1.6 -0.5l-1.6 0.5l-2.4 -1.6l-2.5 0.7l-0.9 3.2M6.3 49.8l0.4 2.1l-1.8 2.4l-0.2 2.2l0 2.6M2.8 59.4l0 -1.4l0 -3.5l-0.3 -0.7l-1.1 -1.7l0.2 -1.1M636 59.4l0 -1.4l0 -3.5l-0.4 -0.7l-1 -1.7l0.1 -1.1M2.1 59.6l-1 -1.4l-0.2 -1l0.2 -1.3l-0.4 -1l0 -2.1l-0.7 -1.1l-0.2 -0.9M635.3 59.6l-1.1 -1.4l-0.2 -1l0.2 -1.3l-0.3 -1l0 -2.1l-0.8 -1.1l-0.1 -0.9M4.2 49.2l-0.2 0.6l-1.5 0.5l-0.9 0.7l-1.8 -0.2l-4.7 0.2l-0.2 1.2l0.2 1.1l-2.1 -0.2l-1.3 0l-1.4 -1M637.4 49.2l-0.2 0.6l-1.6 0.5l-0.9 0.7l-1.7 -0.2l-4.8 0.2l-0.2 1.2l0.2 1.1l-2.1 -0.2l-1.2 0l-1.4 -1M-9.7 52.1l0.4 -1.8l1.6 -1.2l0.1 -2l1.8 -0.1l0.7 -1.3l1.6 -0.3l1.7 -1.1l2.2 -0.3l0.3 1.7l1.1 1.1l0 0.9l1.9 0.3l0.5 1.2l2.1 0.6M623.5 52.1l0.3 -1.8l1.6 -1.2l0.2 -2l1.7 -0.1l0.7 -1.3l1.6 -0.3l1.8 -1.1l2.1 -0.3l0.4 1.7l1 1.1l0 0.9l1.9 0.3l0.6 1.2l2.1 0.6M627.7 61.4l0.5 -0.9l-0.7 -2.1l1.3 -2.5l-0.6 -2.6M620 62.6l0.1 -2.5l-1.7 -1.2l-0.2 -1.9l1.1 -1.6l0.1 -1.6l-0.3 -1.4l3.1 -0.7l1.3 0.4M618.2 57l-1.6 0.3l0 -1.7l-1.6 -0.2l-2.1 2.8M615 55.4l-0.5 -1.1l-1 -1.5l-2.3 0.1l-1.4 1.6M619.1 52.4l-0.5 -1.4l-1.3 -2.5l-2.3 0.4l-1.9 -0.4l-1.6 0.2l-2.4 -0.7l0 1.8l-2.3 1.4M609.1 48l-5.3 0.5M603.6 47.3l3.2 -0.2l2.1 -0.1l0 -0.6l-2.1 -0.1l-2.8 0.1M604.1 42.2l0.4 -0.9l3.1 -0.1l2.2 1.7l1.9 1.4l0.3 2.3l1.1 1.9M7.4 36.8l0 4.7l-1.2 1.8l-3.9 0.1l-1.9 0.6M640.5 36.8l0 4.7l-1.2 1.8l-3.9 0.1l-1.9 0.6M60.1 15.3l1.3 3.2M61.5 18.5l0.9 -3.6l0.2 -2.1M61.7 12.1l0.9 -0.3l1.4 -1.2l0.2 -1.1l-0.9 0M62.6 11.8l0 1M63.1 7l1.3 -0.3l0.1 -1.1l2.3 0l3.5 0l4.1 -0.7M74.4 4.9l-1.8 1.4l-0.5 3.5l-3.9 1.8l-3.5 1.9l-2.1 -0.7M68.2 11.6l0.7 2.1l-3.8 1.2l1.7 1.8l-0.8 0.9l-1.5 0.2l-1.2 1.2l-1.7 -0.2M68.9 13.7l2.2 0.5l2.8 1.5l4.7 3.3l3.2 0.2l2.1 1l1.2 0M81.8 19.2l0.9 -1.6l1.5 0M74.4 4.9l4.4 0M78.8 4.9l1 2.1l1.5 0.7l-1.3 2l0.9 2.3l3.2 2.1l-0.2 1.7l1.4 1.8M78.8 4.9l-1.1 -2.3l0.6 -2.1l0.5 0l3 1.4l2.6 -1.4l1.6 2.3M78.3 0.5l-1.4 -0.9l-0.2 -1.5M78.8 0.5l1.2 -1.6l1.8 2l0 1M80 -1.1l-0.9 -1M75.3 41.5l0.9 -1.8l2.1 0l4.4 0.8l1.7 -2.2l7.1 -1.4l5.2 -1.7l1.3 -3.5l-0.9 -1.3l-4.6 -0.3l-1.7 -2.3M91.5 36.9l1.9 4.3M97.1 30.4l1.4 -2.3l0.7 -1.5M98.5 28.1l-0.4 -0.3l0.6 -3.2M89.3 26.9l0.9 0.2M95 4.7l2.6 -1.2l3.2 -0.3l2.1 0.8l1.7 0.9l3 1.1l0 1.7M107.6 7.7l-1 2l0 2.3l0.5 2.9l1.6 0.9l-1.6 2.1M107.1 17.9l1.4 2l1.9 0.9l0 1.7l0.9 0.9l-2.3 0.7l-0.7 1.9M107.1 17.9l2.8 0.7l2.7 -0.1l3.8 -0.6l0.4 -1.9l2.4 -0.9l2.7 -0.9l0.3 -1.9l1.4 -0.7l-0.5 -1l1.9 -0.8l0.9 -1.9l-0.1 -1.4l3.5 -1l2.4 -0.6M107.6 7.7l2.7 0.6l3.1 -1.8l2 -1.9l3.8 0.3l2.7 0.2l1.6 -0.9l0.5 -0.9l1.4 -0.3l0.5 2.6l3 -1l2.8 0.3M117 4.6l0.1 -1.1l-2.8 -1.7l-2.3 -0.7l-2.3 -1.1l-2.4 -2.1l-1.8 -1.1M119.2 4.9l1.1 -1.7l-1.2 -2.5l1.4 0l1.4 -1.1l1.9 0.2l0.4 -1.4l0.3 1.2l3.9 1.5l1.4 -0.2l-0.2 2.6l2.1 1.4M124.2 -1.6l2.4 -0.7l2 0.9l-2.5 1l-1.6 0M131.7 4.9l-0.7 -2.3l-1.2 -1.7l1.8 -1.8l3.5 -0.9l2.6 -0.5l3.4 -1.6M119.9 28.8l1.1 -1.2l3.7 -0.2l-1.4 -2.2l0.5 -2.3l-1.4 -0.4l1.4 -1.4l2.7 0l1.9 -2.1l1.6 -1.8l1.2 -1.5l-0.2 -1.6l1.4 -0.6l-1.7 -1.2l-0.7 -2.6l5.1 -2l1.7 0.2M131.7 4.9l2 2.1l3.1 0.9M136.8 7.9l2 1.9l-0.2 2l1.2 1.4l-1.4 1.7l4.1 2.3M142.5 17.2l-1.6 2.5l3 1.6l2.6 0.9l2.6 0.5l1.8 0.9l2.6 0.3l1.4 -0.2l0 -2.4M142.5 17.2l2.1 0.4l2.3 1.4l2.8 1.2l1.6 0.9l3.6 0.2l1.5 1M156.4 22.3l1.5 1.1l3 -0.2l1.1 -0.2l-0.7 -1.5l-2.5 -0.6l-1.4 0l-1 1.4M154.9 23.7l1.5 -1.4M161.3 21.5l4 -2l3.5 -0.9l2.3 2.2M156.5 32l0 -1.2l-0.3 -1.3l-0.2 -1.7l-1.1 -0.7l0.4 -1.1l1.1 -1l-0.8 -1.1l2 0.5l0.3 1.5l4.6 0.5l-0.3 1.2l-1.8 0.5l0.3 1.4l0.8 0l0.8 -0.8l0.6 3.1l-0.7 1.3l0.1 0.8M162.9 31.8l1 -0.5l0.2 -3.2l2.5 -2.4l0.8 -2.3l3.2 -1.8l0.5 -0.8M171.1 20.8l2.3 1.2l0.2 3l-1.9 1.7l0.1 1.4l2.1 0l0 1.4l1.1 0.6l-0.5 1.4l1.7 1.2l1.8 0.4l-1.9 1.5M176.1 34.6l-2 0.6l-1.7 0.5l-0.6 2.1l-0.3 1.2l2.1 2.7l-0.9 1.9l1.8 2.7l0 1.9l0.7 1.4l-1.1 1.8l-0.3 0.8l-0.4 0.7M176.1 34.6l0.7 1.5l1.2 0l-0.4 2.6l0.4 0.9l1.6 -1.3l1.2 0.6l1.1 -0.9l2.2 1.6l0.2 1.9l1.2 1.2l0 2.1M185.5 44.8l-1.2 0.2l-3.1 0.2l-0.9 1.2l-0.2 2l0.9 1.4M178 33.1l1 0l0 -2.1l0.7 0l1.1 1.2l0.4 1.4l2.6 0.9l-0.9 1.6l1.8 1.4l2.6 3l1.8 2.6l0 1.4M185.5 44.8l0.9 0.9l2.7 -1.2M189.1 44.5l0 4.2l-2.1 0.9l-0.7 0.5l0.5 0.9l-2 0.2l-1.2 0.9M179.7 31l3 -0.4l2.5 -1.2l2.5 0.9l0.1 1.4l2.1 0.8M176.1 59.1l1.7 1.2l1.2 -0.2l0.6 -0.7M192.8 66.8l0.7 1.4l2.6 0.4l1.2 -0.7l2.3 0.2l2.3 -1.3l1.2 -2.1l0.4 -1.7l3.3 0M200.7 62.3l1 1l1.1 -0.5l0 -1.1M248 74.9l0 11.5M219.8 85.7l0.2 1.2M221.8 4l1.6 -1l2.2 -0.5M218.6 0.2l2.1 -1.6l2.5 -1.8M620.1 4.9l-0.1 -1.4l0.8 -0.3l-0.5 -2.1l0.5 -0.6l0.2 -2.3l1.2 -1M45.7 -1.2l1.1 -1.1M35.2 0.5l1.2 -1l0.5 -1.1M427.2 13.2l4.2 -0.4l-0.2 0.4l6.6 2.1l5.1 0l0 -0.9l2.9 0l2.7 2l0.9 1.9l2.2 1l1.3 -1.4l1.9 0l1.2 1.3l2.2 2.8l0.8 1.9l3.2 0.9M471 44.8l0 -1.4l0.9 -1.4l2.3 0l0 -0.5l-1.8 -1.5l0.7 0l0 -1l3.3 0l0.6 -0.1l0.9 -1.1M476.4 39l-0.1 3.4l0.5 0M478 42.7l-1.7 1.4l-0.3 0.9l-1.3 1.2M476 45l1.5 0.7l1.2 1.1l0.2 0.3M479.6 47.5l1.1 -1.4l1.7 -0.4l1.4 -1.4l3 -0.3M482.4 50.8l1.4 0.2l2.1 0.2M487.9 53.5l-0.6 0.8l0 1.8M497 55.2l0.4 1.3l-1.3 1.2M507.8 49.5l-1.6 1.3l-1.4 3.2l1 1.6l0 1.7l0.9 0.7l3.2 0l1.2 1.6l3.3 -0.2l-0.5 1.6l0 2l0.9 1.4l-0.9 1l1.4 2.8l0.2 0M515.5 68.2l-0.4 -0.8l-1.7 0l-3 0l0 1l1 0.2l-0.3 0.5l-1.1 0.2l0 1.4l1.1 1.6l-0.9 5.4M510.2 77.7l-1.4 -0.7l1.1 -1.9l-3.2 -0.7l-1.9 0l-1.8 -2.3l-2.1 -1.6l-1.9 -0.9l-2.2 -0.5l-2.2 -1.2M500.9 70.5l-0.7 2.5l-1.8 1.9l-2.4 1.3l-0.7 0.8l-0.6 1.4l-0.7 0.7l-0.8 -0.8l-1.5 -0.2l0 -1.6l0.4 -0.2M510.2 77.7l-1.7 0.4l-3.4 1.2l-0.7 1.8l-1.4 2.1l0.5 0.2l1.3 2.8l1.2 0.9l0.2 0.8l2.8 -0.8l0 2.6l1.7 -0.1M510.7 89.6l1.6 2.7l-0.5 2.1l-0.7 2.3l0.3 0.9l0.7 1.4l-1.4 1.8l0.2 0.3l-1.6 1.5M510.9 101.1l1.1 2.7l0.7 1.7l0.5 2.7l0.7 2.2l1.1 0M515 110.4l0.3 0.4l-0.5 1.8l-2.1 1l0.3 3.4l-0.5 1l-1.9 2.5l-0.6 2.6l-0.8 2.1l0.8 3.7l0.4 1.8l-1.1 1.6l0 1.7l-1.2 0.7l0.2 3.4l-1.3 2.6l-0.1 3.5M515 110.4l1.7 -1.7l3 0.9l0.4 0.8l2.8 -1l0.2 0M523.1 109.4l0.5 -3l0.9 -1.6l4.9 -0.5l1.4 0.9l0.2 0.5M531 105.7l0.5 -1.9l0.5 -1.4l-1.6 -1.6l0 -1.8l-3.1 0l-0.6 -4.4l-2.6 -1l-1.8 -0.9l-2.4 -0.5l-1.6 -1.3l-0.2 -3.5l-2.1 0.4l-2.4 1.4l-2.9 0.4M531 105.7l0.3 3.5l2.5 0.2l1.4 0.3l0.5 2.9l1.9 0.1l-0.5 2.7M523.1 109.4l2.8 2.8l3.5 1.8l2.4 1l-1.7 3.2l3.7 0.3l1 -0.1l2.3 -3M537.1 115.4l1.4 0.1l0.2 2l-2.3 1.7l-1.4 1.1l-3.2 3.2M531.8 123.5l2.9 1l0.8 0.2l2.7 1.8l1 1.2l0 1.9M531.8 123.5l-1 3.1l-0.4 3.5M515.5 68.2l2.5 0.7l2.6 -1.2l-0.5 -1.7l1.5 0.3l-1.5 -2.1l-0.6 -1.1l3 0.7l0.4 -0.5l3 -0.9l0.5 -1.2M526.4 61.2l-1.2 -1.2l0.5 -1.4l1.4 -0.7l-0.7 -0.7l1.6 -1.4M526.4 61.2l1.2 0.4l0.2 1l0.7 0.9l-0.9 1.9l0.7 1.8l1.4 1l1.4 -0.5l1.3 -0.9l1.4 0.2M533.8 67l-1.4 -2.5l-1.3 -1.2l0.2 -1.4l1.1 -0.9l0.3 -1.2M533.8 67l1 -0.2l-0.1 -0.5l2.4 0l2 0l1.5 -0.3l1.6 -3M537.1 66.3l0.7 -1.2l-0.5 -3.2l0.9 -1.6M507 35.7l0 1.9l-0.5 0l0.5 1.1" fill="none" stroke="#555" stroke-width="1.65" stroke-linejoin="round"/>
<path d="M432.6 5.3l34.1 0M466.7 6.2l7.9 0l-0.3 0.8l1.1 0M475.7 6.2l2.6 0l0 -0.3l7.6 0.1l3.6 0l10.2 0.1M453.7 0l11.8 0M422.1 -3.5l0 5.3l9.5 7l-0.2 4M432.6 -3.5l0 10.2l-1.2 0.2l0.2 1.9M441.4 15.3l0 -18.8M445.7 14.1l6.2 0l0 -8.8M451.9 6.2l5.4 0l0 3.3l1.4 0.5l2.1 0.4l1.8 0.5l1.7 0l2.6 0.4l0.8 0.1l0 2.7l0.7 1.7l-0.2 2.3M467 11.3l0 -3.2l-0.3 -1.9l0 -4.6l-1.2 -1.6M467.7 12.3l5.1 0M475.7 17.2l-0.3 -1.4l-3.4 0l1.1 -1.7l-0.3 -1.8l1 -2.6l0.9 -0.9l0.9 -2.1l0.7 -1.4l-0.6 -1.4l-1.2 -1.8l-0.9 -0.9l-1.2 -1.2l0 -0.7l0.7 -1.1M478.2 8.8l-0.5 5.4l0 2.9M482.6 8.8l0.7 3.7l0.4 3.3M479.3 17.1l-0.2 -1.3l4.6 0l0.1 0.6l4.8 0.1l0.3 0.4l0.9 -0.5M474.3 8.8l10.6 0l2.1 0l1.4 -0.4l2.3 0.2l0.3 0.5l2 0l2.1 1.7M487 8.8l1.9 2.6l1.6 2.5M484.9 8.8l2.3 -1.4l2.3 -1.4M478.4 3.9l0.9 -2.7l0 -4.7M484 1.6l0 -5.1M476.3 5.3l2.1 -1.4l1.7 -0.2l1.8 -0.2l1.1 -1.2l1 -0.7l1.4 0.5l2.5 0.7l1 -0.9l0.6 -0.5l1.4 -0.9l0.7 -1.6l0 -2.4M485.9 6l3 -1.6l-1 -1.2M489.1 4.4l2.8 0l1.4 -1.8l2.1 -1.5l1.1 0.1l1.2 0.7l1.3 1.6M491.6 0.5l8.2 0l0 2.2l1.4 0M493.3 0.5l0 0.9l2.1 -0.3M500.4 0.4l1.4 -0.8l-0.9 -0.8l0.9 -1.3M453.7 5.3l0 -8.8M437.8 -1.8l15.9 0M437.8 -3.5l0 1.7M465.5 0l-0.8 -1.1l-0.4 -1.5" fill="none" stroke="#555" stroke-width="2" stroke-linejoin="round"/>
<path d="M0 70.3 H633.1" stroke="#444" stroke-width="1.5" stroke-dasharray="4.5 5.5" stroke-dashoffset="1.6" fill="none"/>
<path d="M316.6 0 V140.7" stroke="#444" stroke-width="1.5" stroke-dasharray="4.5 5.5" stroke-dashoffset="0" fill="none"/>
<g transform="translate(240.7 47.6)"><path d="M-4.3-1.5Q-4.2-6.3 2.1-7.7M4.3 1.5Q4.2 6.3-2.1 7.7" fill="none" stroke="#000" stroke-width="4.2" stroke-linecap="round"/><circle r="5.7" fill="#000"/><path d="M-4.3-1.5Q-4.2-6.3 2.1-7.7M4.3 1.5Q4.2 6.3-2.1 7.7" fill="none" stroke="#e00000" stroke-width="2.2" stroke-linecap="round"/><circle r="4.7" fill="#e00000"/><text x="0" y="3" text-anchor="middle" font-size="8.2" font-weight="bold" fill="#fff" stroke="none">M</text></g>
<g transform="translate(275.2 40.2)"><path d="M-4.3-1.5Q-4.2-6.3 2.1-7.7M4.3 1.5Q4.2 6.3-2.1 7.7" fill="none" stroke="#000" stroke-width="4.2" stroke-linecap="round"/><circle r="5.7" fill="#000"/><path d="M-4.3-1.5Q-4.2-6.3 2.1-7.7M4.3 1.5Q4.2 6.3-2.1 7.7" fill="none" stroke="#e00000" stroke-width="2.2" stroke-linecap="round"/><circle r="4.7" fill="#e00000"/><text x="0" y="3" text-anchor="middle" font-size="8.2" font-weight="bold" fill="#fff" stroke="none">M</text></g>
<g transform="translate(287.9 53.1)"><path d="M-4.3-1.5Q-4.2-6.3 2.1-7.7M4.3 1.5Q4.2 6.3-2.1 7.7" fill="none" stroke="#000" stroke-width="4.2" stroke-linecap="round"/><circle r="5.7" fill="#000"/><path d="M-4.3-1.5Q-4.2-6.3 2.1-7.7M4.3 1.5Q4.2 6.3-2.1 7.7" fill="none" stroke="#e00000" stroke-width="2.2" stroke-linecap="round"/><circle r="4.7" fill="#e00000"/><text x="0" y="2.7" text-anchor="middle" font-size="7.4" font-weight="bold" fill="#fff" stroke="none">28</text></g>
</svg>
<path d="M0 0v-4.8M0 140.7v4.6M105.5 0v-4.8M105.5 140.7v4.6M211.1 0v-4.8M211.1 140.7v4.6M316.6 0v-4.8M316.6 140.7v4.6M422.1 0v-4.8M422.1 140.7v4.6M527.6 0v-4.8M527.6 140.7v4.6M633.1 0v-4.8M633.1 140.7v4.6M0 123.1h-4.8M633.1 123.1h4.6M0 70.3h-4.8M633.1 70.3h4.6M0 17.6h-4.8M633.1 17.6h4.6" stroke="#000" stroke-width="2.6" stroke-linecap="round" fill="none"/>
<path d="M17.6 0v-3.4M17.6 140.7v3.4M35.2 0v-3.4M35.2 140.7v3.4M52.8 0v-3.4M52.8 140.7v3.4M70.3 0v-3.4M70.3 140.7v3.4M87.9 0v-3.4M87.9 140.7v3.4M123.1 0v-3.4M123.1 140.7v3.4M140.7 0v-3.4M140.7 140.7v3.4M158.3 0v-3.4M158.3 140.7v3.4M175.9 0v-3.4M175.9 140.7v3.4M193.5 0v-3.4M193.5 140.7v3.4M228.6 0v-3.4M228.6 140.7v3.4M246.2 0v-3.4M246.2 140.7v3.4M263.8 0v-3.4M263.8 140.7v3.4M281.4 0v-3.4M281.4 140.7v3.4M299 0v-3.4M299 140.7v3.4M334.2 0v-3.4M334.2 140.7v3.4M351.8 0v-3.4M351.8 140.7v3.4M369.3 0v-3.4M369.3 140.7v3.4M386.9 0v-3.4M386.9 140.7v3.4M404.5 0v-3.4M404.5 140.7v3.4M439.7 0v-3.4M439.7 140.7v3.4M457.3 0v-3.4M457.3 140.7v3.4M474.9 0v-3.4M474.9 140.7v3.4M492.4 0v-3.4M492.4 140.7v3.4M510 0v-3.4M510 140.7v3.4M545.2 0v-3.4M545.2 140.7v3.4M562.8 0v-3.4M562.8 140.7v3.4M580.4 0v-3.4M580.4 140.7v3.4M598 0v-3.4M598 140.7v3.4M615.6 0v-3.4M615.6 140.7v3.4M0 105.5h-3.4M633.1 105.5h3.4M0 87.9h-3.4M633.1 87.9h3.4M0 52.8h-3.4M633.1 52.8h3.4M0 35.2h-3.4M633.1 35.2h3.4" stroke="#000" stroke-width="1.7" fill="none"/>
<rect x="0" y="0" width="633.1" height="140.7" fill="none" stroke="#000" stroke-width="2.8"/>
</g>
<text class="k" x="99.3" y="246.6" font-size="34.9">1-Nov to 10-Nov</text>
<text class="k" x="74.7" y="284.4" font-size="35" text-anchor="end">30N</text>
<text class="k" x="74.7" y="337.1" font-size="35" text-anchor="end">0</text>
<text class="k" x="74.7" y="389.9" font-size="35" text-anchor="end">30S</text>
<g transform="translate(844.8 254.4)">
<svg x="0" y="0" width="633.1" height="140.7" viewBox="0 0 633.1 140.7" overflow="hidden">
<rect width="633.1" height="140.7" fill="#f8f8f8"/>
<ellipse cx="124.3" cy="72.9" rx="10.6" ry="4.7" fill="#d1e5f0"/><ellipse cx="159.3" cy="71.8" rx="21.2" ry="5.3" fill="#d1e5f0" transform="rotate(10 159.3 71.8)"/><ellipse cx="178.3" cy="81.4" rx="5.3" ry="7.4" fill="#d1e5f0"/><ellipse cx="241.9" cy="47.5" rx="7.4" ry="8.5" fill="#fddbc7"/><ellipse cx="139.8" cy="91.5" rx="3" ry="3.4" fill="#fddbc7"/><ellipse cx="298.1" cy="136.5" rx="8.5" ry="5.3" fill="#fddbc7"/><ellipse cx="68.1" cy="110" rx="5.9" ry="8.5" fill="#d1e5f0"/><ellipse cx="88.3" cy="114.2" rx="2.1" ry="7.4" fill="#d1e5f0"/><ellipse cx="213.3" cy="58.1" rx="2.1" ry="5.3" fill="#d1e5f0"/><ellipse cx="289.6" cy="91.5" rx="1.7" ry="3" fill="#d1e5f0"/><ellipse cx="368" cy="8.9" rx="13.8" ry="9.3" fill="#fddbc7"/><ellipse cx="379.7" cy="56.4" rx="12.3" ry="2.1" fill="#fddbc7"/><ellipse cx="463.4" cy="12.5" rx="6.4" ry="8.5" fill="#fddbc7"/><ellipse cx="425.2" cy="133.3" rx="9.5" ry="4.2" fill="#fddbc7" transform="rotate(35 425.2 133.3)"/><ellipse cx="412.5" cy="7.2" rx="8.9" ry="7.4" fill="#d1e5f0" transform="rotate(30 412.5 7.2)"/><ellipse cx="587.3" cy="7.6" rx="19.5" ry="10.2" fill="#d1e5f0" transform="rotate(15 587.3 7.6)"/><ellipse cx="455.9" cy="125.9" rx="10.6" ry="5.9" fill="#d1e5f0" transform="rotate(30 455.9 125.9)"/><ellipse cx="522.7" cy="119.1" rx="2.5" ry="4.7" fill="#d1e5f0"/>
<path d="M-10.4 7.4l1.1 -0.2l1.4 1.2l2.6 -0.1l1.4 0.3l2.1 -1l1.8 -0.4l2.6 -1l2.7 -0.6l3.5 0l3.5 -0.3l2.8 0.2l2.1 -0.8l0.9 0.6l1.2 0l-0.7 1l-0.1 1.4l0.8 0.7l-1.4 1.6l1.3 1.1l1 0.9l1.8 0.5l1.2 0l3.5 0.9l0.6 1.5l2.6 0.9l3.5 1.3l1.8 -1.3l0 -2.3l2.6 -1l2.7 0.5l3.5 1.6l3.5 0.7l3.5 0.7l1.8 -0.9l1.7 -0.2l2.3 0.4l0.4 2.5l0.3 1.5l1.4 1.8l0.9 1.8l0.9 1.7l0.9 1.8l0.8 1.7l0.2 1.8l2.3 1.8l0.5 1.7l0 2.5l1.4 1.9l1.1 0.9l1.2 3.5l0.4 0.7l1.7 1.1l1.3 0.8l2.2 2.3l1.3 1.3l0.2 1.5l-0.6 0.2l1.8 1.8l1.7 0.2l1.8 -0.6l2.6 -0.7l2.7 -0.3l2.6 -1.1l1.2 0l-0.3 2.5l-0.9 2.6l-1.2 1.8l-1.4 2.6l-1.8 3.5l-1.7 2.7l-1.8 1.4l-1.2 0.3l-2.3 1.8l-2.7 2.3l-1.7 2.4l-1.8 1.4l-0.9 1.8l-0.7 1.1l-1 2.4l-0.4 1.8l0.9 0.5l0.4 2.1l0.1 2.7l1.5 1.7l0.1 2.7l0.2 3.5l0.2 1.7l-1.6 2.3l-3.2 1.8l-1.7 1l-1.3 1.6l-1.7 1.6l-0.9 0.2l-0.2 1.2l1.1 1.8l0.3 2.6l-0.1 1.8l-3.4 2.1l-1.6 1.2l0.6 1.6l-0.4 2.1l-1.2 1.8l-1.8 1.5l-1.4 2l-2.1 2.3l-1.8 1.2l-2.6 1.4l-1.6 0.3l-2.8 0.2l-3.5 0.2l-3.5 1.1l-2.1 -0.9l-0.7 -0.6l-0.4 -2.1l0.2 -1.7l-1.8 -2.3l-1.4 -3.3l-1.7 -2l-0.9 -1.7l-0.4 -2.7l-0.5 -3.9l-1.8 -3.1l-1.7 -3.5l-1.2 -2.7l0 -2.6l0.7 -1.8l0.5 -2.6l1.7 -2.1l0.6 -2.3l-0.7 -2.6l-0.4 -1.3l-0.7 -2.3l-0.9 -2.6l-0.1 -1.8l-0.7 -0.8l-1.5 -1.3l-2.1 -2.3l-1.4 -2.2l-0.3 -0.9l1.2 -2l0.2 -1l0.3 -2.3l0 -2.1l-0.5 -0.9l-1 -0.9l-1.1 0l-2.3 0.4l-1.7 0l-1.3 -1.6l-1.4 -1.8l-1.9 -0.3l-1.8 0.2l-2.1 0.3l-2.1 0.7l-1.8 1.1l-1.7 0.5l-1.8 -0.5l-1.7 -0.2l-2.7 0.2l-3.5 1.2l-2.6 -1.4l-3.2 -1.9l-1.2 -1.1l-1.8 -1l-1.2 -1.8l-0.2 -1.4l-0.7 -0.4l-1.4 -1.7l-0.9 -0.9l-1.7 -1.4l-1.3 -1.1l-0.1 -1.4l0.3 -0.5l-0.9 -1.6l-0.7 -0.5l0.7 -0.5l1.1 -1.8l0.3 -1.7l0.6 -1.8l-0.4 -2.3l-0.5 -0.3l0.3 -1.8l-1.2 -0.9l0 -1.4l1.2 -2.1l0.7 -1.4l1.6 -1.6l0.4 -1.4l0.7 -1.2l1.6 -1.4l0.8 -1.4l2.7 -0.9l2.3 -1.6l0.8 -1.6l-0.1 -2.3l0.8 -1.9l1.5 -1.4l1.5 -0.5l1.4 -0.7l0.9 -1.8l0.7 -1.4M622.8 7.4l1 -0.2l1.4 1.2l2.7 -0.1l1.4 0.3l2.1 -1l1.7 -0.4l2.7 -1l2.6 -0.6l3.5 0l3.6 -0.3l2.8 0.2l2.1 -0.8l0.9 0.6l1.2 0l-0.7 1l-0.2 1.4l0.9 0.7l-1.4 1.6l1.2 1.1l1.1 0.9l1.7 0.5l1.3 0l3.5 0.9l0.5 1.5l2.6 0.9l3.6 1.3l1.7 -1.3l0 -2.3l2.7 -1l2.6 0.5l3.5 1.6l3.5 0.7l3.6 0.7l1.7 -0.9l1.8 -0.2l2.3 0.4l0.3 2.5l0.4 1.5l1.4 1.8l0.8 1.8l0.9 1.7l0.9 1.8l0.9 1.7l0.2 1.8l2.2 1.8l0.6 1.7l0 2.5l1.4 1.9l1 0.9l1.3 3.5l0.3 0.7l1.8 1.1l1.2 0.8l2.3 2.3l1.2 1.3l0.2 1.5l-0.5 0.2l1.7 1.8l1.8 0.2l1.8 -0.6l2.6 -0.7l2.6 -0.3l2.7 -1.1l1.2 0l-0.4 2.5l-0.8 2.6l-1.3 1.8l-1.4 2.6l-1.7 3.5l-1.8 2.7l-1.7 1.4l-1.3 0.3l-2.3 1.8l-2.6 2.3l-1.8 2.4l-1.7 1.4l-0.9 1.8l-0.7 1.1l-1.1 2.4l-0.3 1.8l0.9 0.5l0.3 2.1l0.2 2.7l1.4 1.7l0.2 2.7l0.2 3.5l0.1 1.7l-1.6 2.3l-3.1 1.8l-1.8 1l-1.2 1.6l-1.8 1.6l-0.8 0.2l-0.2 1.2l1 1.8l0.4 2.6l-0.2 1.8l-3.3 2.1l-1.6 1.2l0.5 1.6l-0.3 2.1l-1.3 1.8l-1.7 1.5l-1.4 2l-2.1 2.3l-1.8 1.2l-2.6 1.4l-1.6 0.3l-2.8 0.2l-3.6 0.2l-3.5 1.1l-2.1 -0.9l-0.7 -0.6l-0.3 -2.1l0.1 -1.7l-1.7 -2.3l-1.4 -3.3l-1.8 -2l-0.9 -1.7l-0.3 -2.7l-0.5 -3.9l-1.8 -3.1l-1.8 -3.5l-1.2 -2.7l0 -2.6l0.7 -1.8l0.5 -2.6l1.8 -2.1l0.5 -2.3l-0.7 -2.6l-0.3 -1.3l-0.7 -2.3l-0.9 -2.6l-0.2 -1.8l-0.7 -0.8l-1.4 -1.3l-2.1 -2.3l-1.4 -2.2l-0.4 -0.9l1.3 -2l0.1 -1l0.4 -2.3l0 -2.1l-0.5 -0.9l-1.1 -0.9l-1.1 0l-2.2 0.4l-1.8 0l-1.2 -1.6l-1.4 -1.8l-2 -0.3l-1.7 0.2l-2.1 0.3l-2.2 0.7l-1.7 1.1l-1.8 0.5l-1.7 -0.5l-1.8 -0.2l-2.6 0.2l-3.5 1.2l-2.7 -1.4l-3.1 -1.9l-1.3 -1.1l-1.7 -1l-1.3 -1.8l-0.1 -1.4l-0.7 -0.4l-1.5 -1.7l-0.8 -0.9l-1.8 -1.4l-1.2 -1.1l-0.2 -1.4l0.4 -0.5l-0.9 -1.6l-0.7 -0.5l0.7 -0.5l1 -1.8l0.4 -1.7l0.5 -1.8l-0.3 -2.3l-0.6 -0.3l0.4 -1.8l-1.2 -0.9l0 -1.4l1.2 -2.1l0.7 -1.4l1.6 -1.6l0.3 -1.4l0.7 -1.2l1.6 -1.4l0.9 -1.4l2.6 -0.9l2.3 -1.6l0.9 -1.6l-0.2 -2.3l0.9 -1.9l1.4 -1.4l1.6 -0.5l1.4 -0.7l0.9 -1.8l0.7 -1.4M86.7 91.5l1.2 2.6l0.9 3.2l-1.2 0.3l-0.2 2.3l-0.5 2.1l-1.1 3.5l-1.4 4.4l-1.4 4.1l-1.2 0.7l-2.3 0.5l-2.1 -0.9l-0.7 -2.6l-0.5 -2.7l1.7 -2.6l0.2 -1.8l-0.7 -2.6l0.7 -3l2.8 -1l1.8 -0.9l1.5 -1.6l1.5 -1.8l1 -2.2M-15.5 -2.6l-0.2 2.6l-0.8 1.2l-0.2 1.1l1.2 0.5l0 0.9l-0.3 1.6l1.7 0l1.1 -0.4l1.7 0.7l0.7 1.1l0.8 0.3l0.5 -0.3l1.6 -0.9l2.4 0l1.4 -0.2l0.9 -0.9l1.6 -0.5l0.5 -1.2l1.3 -0.9l-0.9 -1.2l0.9 -1.3l1.2 -1l1 -0.7l2.7 -1.1M617.7 -2.6l-0.2 2.6l-0.9 1.2l-0.2 1.1l1.3 0.5l0 0.9l-0.4 1.6l1.8 0l1 -0.4l1.8 0.7l0.7 1.1l0.7 0.3l0.5 -0.3l1.6 -0.9l2.5 0l1.4 -0.2l0.9 -0.9l1.5 -0.5l0.6 -1.2l1.2 -0.9l-0.9 -1.2l0.9 -1.3l1.2 -1l1.1 -0.7l2.6 -1.1M4.2 0.7l1.3 -0.6l0.5 0.4l-0.5 0.7l-0.8 -0.3l-0.5 -0.2M2.1 1.9l0.5 -0.3l0.2 0.3l-0.7 0M14.4 -1.8l0.4 1.3l0 1.9l1 0.4l0.9 -0.4l0.4 -1.4l0 -1.4l-0.7 -0.7l-2 0.3M21.8 3.5l1.6 -0.3l4 -0.2l-0.8 1.4l0.3 1.4l-1.7 -0.3l-3.2 -1.3l-0.2 -0.7M21.6 -3.2l2.7 1.1l0.9 0.7l1.2 1l1.2 0.4l0.7 1.8l-0.7 1.7l0.7 0.2l0.9 -1.1l0.9 -0.8l-1.1 -1.3l0.7 -1.2l2 0.7l0.8 -0.2l-0.8 -0.9l-1.8 -0.7l-1.8 -0.8l0 -0.9M34.1 -3.3l0 0.8l-0.2 1.6l1.3 1.4l1.2 1.4l0.9 1.1l0.9 0.2l-0.7 0.8l0.7 1.6l1.2 0.6l0.7 -0.4l0.5 0.4l0.2 -1.5l-0.7 -0.3l1.2 0l0.9 -0.4l0 -0.8l-1.2 -0.7l-0.7 -1.3l-0.6 -1.2l0.6 -0.9l1 0.5l0.9 0.4l0.7 -1.2l1.1 -0.6l1.7 0.6l0.4 0.7l0 1.4l1 0.9l-0.8 1.2l1.5 1.4l0.4 0.9l1.4 0.5l1.6 0.4l2.4 0.3l0.4 -1l2.3 0.7l2.6 0.7l2 -1.3l1.7 0.4l1.1 -0.2l-0.6 1.2l-0.1 0.9l0.1 1.8l-0.7 1l-0.7 1.4l-0.3 1.1l-0.4 0.9l-0.9 1.2l-1.2 0.4l-2.1 -0.4M46.1 -0.5l1.4 -0.4l1.7 0.2l1.8 0l1.6 -0.5l-1.6 -0.6l-1.8 0l-1.2 0.6l-1 0.3M40.8 1.9l1.4 0.6l0.9 1l-0.9 -0.3l-1 -0.7l-0.4 -0.6M41.3 7.9l1.3 0.2l1.4 0l2.3 0.2l-0.2 0.5l-2.5 0.2l-2.1 -0.6l-0.2 -0.5M48.9 6.7l0.7 -0.4l-0.2 0.7l-0.5 -0.3M45.6 1.4l1 -0.3l0 0.7l-1 -0.4M56.8 8.8l1.2 0.7l1.8 -0.7l1.1 -1.2l-1.6 0.5l-1.4 0.2l-1.1 0.5M57.2 17.8l1.2 2.4l1.7 1.4l0.6 -1.4l0.7 -1.7l0.2 2.4l0.8 1.1l1.8 2.6l1.2 2.1l1.4 1.4l1.8 3.6l0.2 0.8l1.5 2.3l1.8 2.1l0.9 1.8l1.7 2.1l0.6 2.3l0.7 2.6l0.2 1.4l0.3 0.9l2.6 -0.2l2.7 -1l2.6 -1.1l2.7 -1.2l2.6 -0.9l2.1 -0.7l0 -1.4l2.3 -0.5l1.8 -0.5l1.4 -0.9l2.1 -0.9l0.8 -1.8l1.5 0l-0.2 -2.1l1.4 -0.5l0.7 -1.6l1.6 -1.9l-1.4 -1.3l-0.9 -0.7l-2.1 -0.7l-1.4 -1.4l-0.2 -2.4l-0.5 0.3l-0.2 0.6l-1.2 0.7l-1.6 1.5l-2.5 0.6l-2.1 0.1l-0.5 -1l0.2 -2.1l-0.8 -0.6l-0.7 1.1l-0.1 1.2l-0.9 -1.4l0 -1.6l-1.2 -1.2l-1.3 -0.9l-0.5 -1.4l-0.9 -1.4l-0.3 -1l1.2 -0.2l0.9 -0.7l1.7 0.3l1.4 2.1l1.3 2l1.9 0.9l1.6 1.2l2.1 0.3l1.6 -0.5l1.2 -0.5l1.2 0.5l0.6 1.8l1.2 0.3l2.6 0.4l2.7 0.3l1 0l2.5 0l2.6 -0.1l2.7 -0.2l1 0.7l0.7 0.3l0.9 1.6l1.2 0.5l1.1 0.7l2.1 0.6l-1.7 0.9l0 0.3l1.7 2.1l1.8 0.5l1.7 -0.7l0.4 -1.2l0.7 -0.9l0.3 1.4l0 0.9l0 3.5l0.7 2.7l0.6 2.6l0.5 1.1l1.1 2.4l0.7 2l1.4 2.4l1 2.7l0.5 1.7l0.9 1.3l0.9 0.3l1.2 -1.2l1.4 -0.9l0.6 -1.8l1 0l-0.2 -2.1l0.9 -2.8l-0.3 -2.5l0.2 -1.7l1.4 -0.9l2.2 -1l1.8 -2l2.6 -2.3l1.3 -1.2l1.7 -0.9l0.9 -1.4l0 -0.9l1.8 -0.3l1.7 -0.2l2.3 -0.3l0.9 -0.9l1.2 -0.4l0.6 0.7l0.7 2.3l0.1 0.5l1.1 1.3l1.4 1.2l1.1 1.4l0.3 1.8l-0.5 2.6l1.7 0.4l1.4 -0.9l1.4 -0.9l0.8 0l0.7 0.9l0.1 2.3l0.7 1.7l0.7 1.8l0.2 1.7l0.2 2.7l-0.4 1.2l-0.5 2.3l0.2 1.1l1.2 1.2l1.2 0.7l0.9 1l0.4 1.5l0.5 1.9l1.1 2.3l0.1 0.5l1.4 0.9l2.2 1.4l0.3 0.2l1.1 -0.2l0 -1.1l-1.3 -1.4l-0.1 -1.7l0 -1.3l-0.7 -1.7l-1.3 -1.3l-1 -1l-1.4 -0.4l-0.7 -0.5l-0.7 -2.1l-0.4 -1.4l-1.1 -0.4l-0.1 -1.7l0.8 -2.1l0.6 -1.4l0 -1.4l0.9 -0.4l0.8 0.4l0 1.2l1.8 0.5l1.2 0.9l0.6 1.1l1 1.2l1.6 0.2l0.9 0.7l-0.4 2.2l1.2 -0.5l1.8 -1l0.5 -1.3l0.7 -0.1l1.4 -0.6l1.8 -1.2l0.5 -1.4l0 -1.4l-0.1 -1.4l-0.6 -2.5l-1 -1.6l-1.4 -1l-1.6 -1.6l-0.5 -1.1l-1.1 -1.2l0.4 -1.6l1.2 -1l0.7 -0.9l1.7 -1.1l1.1 -0.3l1.1 0.3l0.8 0.2l0.2 1.8l0.7 0.1l0.5 -1.4l0.9 -0.7l1.8 -0.5l1.7 -0.3l1.1 -0.6l1 0l1.5 -0.7l2.6 -0.5l0.9 -1.1l1.7 -1.5l1.8 -1.4l1 -1.3l0.8 -1.7l1.4 -1.8l1.4 -1.8l0.7 -1.4l-1.3 -0.8l1.1 -1.1l0 -1.1l-1.6 -1.4l-0.3 -1.2l-0.9 -2.1l-2 -1.4l1.1 -1.1l0.9 -0.7l1.2 -1l2.6 -0.5l0.2 -0.9l-1.9 -0.2l-1.4 -0.5l-1.6 0.8l-1.4 0l-0.2 -1.2l-1.6 -0.5l-0.5 -0.9l0.2 -0.7l1.2 0.2l1.4 -0.7l0.9 -0.9l2.1 -1.4l1.4 -0.2l0.7 0.7l-1.2 1.6l-0.5 1.4l1.4 -0.5l1.7 -1.1l2.3 -0.3l1.2 0.5l0.6 1.1l-0.2 0.8l-0.7 0.9l1.2 0.5l1.8 0l0.5 1.3l-0.9 0.9l0.4 0.8l0.2 0.9l-0.6 1.2l0.6 0.9l1.5 -0.7l1.8 -0.3l1.1 -0.4l0.5 -1.6l0 -1.7l-0.7 -1.3l-0.7 -1l-1.1 -1.2l-0.9 -0.6l0 -0.8l1.4 -0.8l2.5 -1l0.2 -1.2l1.2 -1.4M87.1 -3.2l-0.2 2.7l1.6 -0.2l-1.4 0.7l-0.9 1.2l-0.2 1.6l1.1 1.6l1.7 0.9l1.8 0.7l2.6 -0.4l1.8 -0.1l-0.2 -1.1l0 -2.5l-1.2 -0.7l0.7 -1.2l-1.4 -0.9l0.3 -0.9l1.8 -0.8l-1.8 -0.9M140.5 53.1l1.6 1.4l0.9 0.9l1 2.1l-0.3 1.4l-1.9 1.1l-1.1 -0.6l-0.4 -1.4l0 -1.7l0.4 -1.8l-0.2 -1.4M191.2 36.4l1.4 -1.2l1.9 -0.2l0.7 0.9l-0.9 1.4l-1.5 1l-1.6 -0.7l0 -1.2M213.7 25.9l0.9 0.5l-0.7 1.7l-0.4 1.8l-0.9 1.8l-1 -1.1l-0.4 -1.2l0.7 -1.8l0.9 -1.2l0.9 -0.5M246.8 -2.1l1.9 -0.4l0.2 0.7l0.7 1.8l0.1 0.9l-0.8 2.1l-0.9 0.9l0 1.6l-0.7 1l0.5 1.1l-1 0.8l-0.9 0.4l0 -1.1l-0.4 0.7l-0.9 0.2l-0.3 0.9l-0.7 -0.7l-0.5 0.7l-2.2 0l-0.1 -0.7l0 1.2l-1.1 0.6l-0.9 0.8l-1.2 -0.7l0.2 -0.7l0.3 -0.7l-1.5 0l-1.8 0.5l-1.9 0.2l-1.6 0.6l-0.9 0l0 -0.8l1.2 -0.5l1.8 -1.2l1 -0.4l1.8 0l1.8 -0.1l1.2 0l0.2 -1.1l1 -0.9l0.5 -1.2l0.6 0l-0.6 1.2l1.8 -0.5l1.4 -1.2l1.1 -0.9l0.7 -1.2l0.3 -1.4l-0.2 -1.3l0.8 -1.2M233 10.9l0.9 -0.3l1.8 -0.8l1.2 0.6l0 0.5l-0.9 0.9l-1.2 -0.4l-0.9 1.3l-0.9 -0.4l-0.3 -0.9l0.3 -0.5M230.2 10.7l1.4 0.6l0.4 0.7l-0.2 1.2l-0.7 1.7l-0.7 0.6l-0.5 0.3l-0.9 -0.5l0 -1.6l0.5 -0.9l-1.2 0l-0.2 -1l1.1 -0.5l1 -0.6M224.6 24.4l0.9 -1.2l-0.6 0.5l-0.3 0.7M227.4 20.8l0.7 -0.6l-0.5 0.6M222 11.8l1.2 -0.4l-0.5 0.6l-0.7 -0.2M212.1 37.8l2.8 0l0 2.7l-1 1.7l0 1.8l0.1 1.2l1.4 0.2l1.5 0.5l1.2 1.6l0.2 0.7l-1.4 -0.7l-1.3 -0.5l-1 -0.9l-1.3 0.3l-1.2 -0.7l0.5 -1l-1 -0.4l-0.5 -1.2l-0.4 -1.4l0.9 -0.5l0.2 -1.6l0.3 -1.8M220.7 53.1l1.4 2.3l0.4 2.1l-0.7 1.8l-0.7 -1.1l-0.6 1.6l-0.5 0.3l-1.6 -0.7l-0.3 -1.4l-1.1 -0.8l-1 0.1l-1.3 0.9l-0.1 -1.2l1.4 -1.2l1 -0.6l0.7 0.9l0.9 -0.7l0.9 -0.7l0.7 -0.4l0.5 -1.2M218.6 48.4l1.8 0l0.7 2.3l-1.3 0.3l-0.3 1.4l0.7 0l-0.5 -1.2l-0.9 -0.9l0.9 -0.7l-1.1 -1.2M216.2 51l1 0.4l-0.3 1.5l-0.6 1.4l-0.9 -1l0.6 -1.1l0.2 -1.2M214.6 49.4l1.9 0.7l-0.9 1.6l-1.2 0.2l0.2 -2.5M218.1 50.7l-0.5 1.7l-0.7 1.2l0.5 -1.4l0.7 -1.5M210.2 50.3l-0.6 1.8l-1.5 2.1l-2 1.4l0.6 -0.9l1.7 -1.9l1.4 -1.8l0.4 -0.7M211.8 46.8l1.4 0l0.5 1.6l-0.7 0.5l-0.7 -1.2l-0.5 -0.9M167.6 60.5l3.9 0.7l1.4 1.6l1.2 1.2l2.3 1.6l1.2 0.9l2.1 1.6l2.2 1.2l0.7 1.6l1.2 1.6l0.7 1.9l1.9 1.6l-0.1 2.3l-0.2 2.3l-1.1 0l-1 -0.4l-0.6 -0.9l-2.2 -1.6l-1.3 -0.5l-1.7 -2.5l-1.6 -2.6l-1.3 -1.8l-1.2 -2.1l-0.5 -1l-1.8 -1.2l-1.2 -1.5l-1.4 -1.2l-1.6 -2.1l0 -0.7M185 82.3l1.4 -1.6l1.4 0.4l2.7 0.5l0.7 0.7l3 0.2l0.8 -0.9l1.1 0.5l1.9 0.4l0.4 0.7l1.2 0.7l1.6 0.2l0.2 1.6l-2.3 -0.8l-3 0l-2.6 -0.7l-2.7 -0.1l-1.7 -0.2l-2 -0.5l-2.1 -1.1M191.7 67.7l1.1 -0.9l1.2 0.6l1.6 0.3l0.3 -1.7l2.8 -1.3l1.8 -2.3l1.8 -0.8l1.7 -1.8l1.2 -1.8l1.5 0.9l0.3 1.1l1.6 0.7l1 0.5l-1.5 1.2l-1.3 0.6l0 1.2l0.7 1.8l1.6 2.6l-1.9 0.3l-0.5 2.7l-1.3 1l-0.9 1.8l0.2 2.1l-0.7 0.5l-2.4 0.4l-0.2 -1.1l-1.8 -0.1l-2.6 0.1l-0.7 -0.7l-2.5 -0.1l-0.3 -2.5l-1.4 -1.8l-0.4 -1.7l0 -1.8M210.7 68.9l1.8 -0.8l3.7 0.7l2.4 0.8l1.6 -1.9l-1.2 1.9l-2.1 0.2l-3.2 -0.3l-2.3 0.3l-0.2 2l1.6 1l2.1 -0.9l2.1 0l-1 1.1l-2 0.7l1.3 2.3l0.9 1.7l-0.8 2l-1.5 -0.9l-0.2 -1.4l-0.9 -2.3l-1.2 0.4l0.2 2.8l0 1.7l-1.6 0l0 -2.6l-1.3 -2.1l0.9 -2.7l0.9 -1.9l0 -1.8M230.4 71.8l2.6 -0.7l2.7 0.7l0.3 2.6l1.4 1.8l1.8 -1.8l2.6 -1.2l2.7 0.7l3.5 1l3.5 1.4l2.6 0.9l2.3 2.3l2.1 1.4l1.4 0.9l-1.4 0.5l1.8 2.1l1.8 1.8l1.7 2.1l1.4 0.2l-1.7 0.1l-3.2 -0.5l-1.8 -1l-1.7 -2.5l-2.7 -0.9l-1.7 1.1l-0.9 1.7l-1.8 0l-1.7 -0.1l-2.7 -1.8l-2.2 0.5l-0.4 -1.7l1.4 -1.1l-1.4 -2.3l-3.5 -1.6l-2.6 -1l-2.7 0.2l-0.3 -1.4l-1.1 -0.7l2.3 -0.8l-2.6 -0.7l-1.8 -1.2l0 -1M201.4 84.8l2.1 0.1l-0.9 0.9l-1.2 -1M204 85.1l1.2 0l-0.3 0.9l-0.9 -0.2l0 -0.7M205.4 85.3l2.1 -0.5l1.8 0.3l-0.9 0.7l-2.6 0.4l-0.4 -0.9M210.9 85.3l1.9 -0.2l3.2 -0.3l0.2 0.7l-3.4 0.5l-1.9 -0.2l0 -0.5M209.3 87.1l2.1 -0.2l1.1 1.2l-2.3 -0.3l-0.9 -0.7M217.2 88.5l1.8 -1.8l2.3 -1.2l2.4 -0.4l-1.2 1.1l-2.7 1.2l-1.7 1.1l-0.9 0M224.2 68.6l0.7 -1.9l0.2 1.5l1.3 -0.5l-0.9 1.2l1 0.9l-1.4 -0.2l0.7 2.2l-1 -1.1l-0.6 -2.1M225.1 75.6l2.7 -0.3l2.2 0.9l-1.4 0.3l-2.2 -0.2l-1.3 -0.7M221.8 76l1.6 -0.2l0.3 1.1l-1.6 0.1l-0.3 -1M261 80l2.8 0l2.7 -1l1.4 -1.3l-0.2 1.4l-2.1 1.5l-1.8 0.7l-2.4 -0.4l-0.4 -0.9M265.2 74.9l2.1 1.4l1.8 2l-0.7 -0.9l-1.9 -1.8l-1.3 -0.7M271.9 80l2.1 1.8l-0.9 0.3l-1 -1.2l-0.2 -0.9M275.2 82.1l1.8 1.3l-0.9 -0.4l-0.9 -0.9M278.8 83.7l2.2 1.4l-0.8 -0.3l-1.4 -1.1M280.7 86.7l2.1 0.9l-0.9 0l-1.2 -0.9M282.5 85.1l1.2 2.1l-0.9 -1l-0.3 -1.1M283.7 88.5l1.7 0.8l-0.8 -0.7l-0.9 -0.1M293 96.7l1.1 1.1l-0.7 -0.2l-0.4 -0.9M294.1 98.5l1 0.9l-0.7 -0.2l-0.3 -0.7M295.8 101.3l0.5 0.4l-0.3 0l-0.2 -0.4M288.4 105.7l2.7 1.6l2.6 2.3l-1 0l-2.5 -1.6l-1.8 -2.3M311.8 101.3l1.6 -0.3l0.7 1l-1.4 0.4l-0.9 -1.1M314.3 99.7l2.1 -0.9l-0.7 0.9l-1.4 0M250.6 89.2l1.8 3.1l0.2 3.2l2.9 1.2l0.4 2.7l1.2 3.8l1.4 1.1l2.7 1.6l1.4 2.3l2.4 1.7l0.4 1.8l1.9 1.9l2 1.6l0 3.2l0.8 2.3l-1 3.3l-0.4 2.3l-1.7 2.1l-1.1 1.7l-0.9 2.2l-1.2 2.2l-0.2 1.8l-3.3 0.7l-1.8 1.1l-1.2 1l-1.9 -1.2l-0.9 -0.2l-2.1 0.9l-3.5 -0.9l-2.7 -1.4l-0.5 -1.8l-0.7 -1.5l-1.4 0l0 -1.4l-0.9 -1.1l-0.3 1.6l-1.5 0.2l0.9 -2.2l0.6 -2.4l-1.1 1.6l-2.1 2.3l-0.7 0.1l-1.1 -2.1l-1.4 -1.6l-1.2 -1.2l-2.6 -0.2l-1.8 -0.8l-3.5 0.1l-2.7 1.1l-2.6 0.2l-2.6 1.2l-1.8 1.6l-2.8 0l-3.3 0l-3.6 1.9l-2.6 0l-2.5 -1.2l-0.1 -1.3l1.2 -0.5l0 -2.3l-0.7 -2.6l-0.7 -2.1l-0.5 -1.1l-0.9 -1.7l-1.1 -2.1l0.4 -0.7l-0.6 -2.9l0.7 -1.7l-0.1 -1.8l0.7 -1.2l0.9 0l1.5 -0.9l2.1 -1.2l3.4 -0.5l2.5 -0.8l2.6 -1.5l1.2 -1.8l0 -1.8l1.4 -1l1.1 1.6l0.7 -1.8l1.6 -1.7l1.6 -1.8l2.1 -0.7l1.7 1.6l0.5 0.3l2.2 -0.1l0.1 -1.6l1.1 -1.8l1 -1l1.3 -0.4l1.7 -0.2l0.2 -1.2l1.6 0.7l2.6 0.7l3 -0.3l0.4 0.5l-0.7 1.7l-1.1 0.7l0 2l-0.9 0.3l2 1.4l2.1 0.7l2.3 1.3l1 1.2l2.1 -0.2l1.1 -2.6l0.3 -2.6l0 -3l0.7 -2.3l0.9 -1.4M240.2 133.3l1.6 -0.3l1.1 0.5l-1.2 0.3l-1.5 -0.5M229 90.4l1.9 -0.2l0.2 0.6l-1.6 0.3l-0.5 -0.7M239.9 94.6l0.9 0l-0.2 0.9l-0.7 -0.2l0 -0.7M254.3 141.9l3.4 0.7l2.9 -0.5l0.2 2.1M303.7 130.9l1.1 1l1.8 1.2l0.8 2l1.3 -0.4l0.7 0.7l0.7 1.3l1.7 0.5l1.8 -0.7l0 1.6l-0.7 1.2l-1.6 0.2l-0.2 1.2l-1 1.8l-1.4 0.8l-0.9 -1.7l0 -0.9l-1.8 -0.9l-0.3 -0.5l1.4 -0.7l0.2 -1.4l0.1 -1.2l-0.8 -1.5l-1.8 -2.1l-1.1 -1.5M303.7 141.6l0.9 1.2l1.8 -0.3l0.2 1.4M359 34.8l1.4 0.7l0.5 0.6l-1.4 0.8l-0.7 -1l0.2 -1.1M357.6 33.6l0.8 0l0.4 0.3l-0.9 0.2l-0.3 -0.5M354.9 32.5l0.7 -0.1l0.2 0.5l-0.7 0l-0.2 -0.4M352.3 31.5l0.5 -0.2l0 0.5l-0.5 -0.3M356.5 33.1l0.9 0l-0.4 0.1l-0.5 -0.1M472.2 70.9l0.9 -0.6l0 1.8l-0.9 -0.3l0 -0.9M474 71.2l0.5 0.2l-0.3 0.4l-0.2 -0.6M329.2 94.1l1.1 0.2l-0.5 0.3l-0.6 -0.5M330.6 94.8l0.9 0.2l-0.7 0.1l-0.2 -0.3M370 101.1l0.7 0.4l-0.5 0.2l-0.2 -0.6M324.8 107.5l0.4 0.1l-0.4 0M414.7 -3.5l0 1.7l-0.3 1.1l1 1.6l0.5 1.2l1.8 1.8l0.2 1l0.9 1.1l1 1.6l1.2 1.9l2 0.3l1.7 0.8l2.1 1.7l0.4 0.9l0.9 1.2l1 2.3l0.9 1.8l1.8 1.7l0.5 1.3l-1.4 0l1.2 1.2l2 0.9l1.5 1.4l0.4 2.1l3.2 2.1l0.7 0.9l0.8 -0.9l-1.5 -1.6l-0.7 -1l-1.1 -2l-1.2 -1.7l-1.3 -1.8l-1.4 -1.8l-1.2 -1.7l-0.9 -1.8l-0.2 -1.4l1.5 0.5l1.7 0.9l0.9 1.8l0.9 1.7l1.7 1.8l1.3 1.4l1.5 1.6l0.4 1.2l2.1 1.3l1.8 1.9l1 1l1.3 1.3l0.7 1.7l-0.4 1.8l-0.3 0.2l1.2 1.7l1.2 0.7l1.4 1.3l2.3 0.7l2.1 1l2 0.9l2.4 0.9l2.7 0.7l1.7 0.3l1.8 -0.8l1.7 0.3l1.8 1.4l1.4 1.2l2.1 1.1l1.8 0.5l2.1 0.7l1.9 0l0.4 0.4l0.3 0.5l1.4 1.2l1.2 1.5l0 1.2l0.9 1.2l1.1 0l1.2 0.9l0.7 1.2l1.1 0.6l0.3 0.5l1.8 0l1 0.7l0.6 0.7l1 -0.4l0 -1.4l1.3 -1.2l1.2 -0.2l1 1.1l0 1.6l1.1 0.8l0.5 1.8l0 1.8l0.2 1.7l0.4 0.4l-1.6 2.1l-1.4 1.4l-1.3 1.4l-0.9 0.3l-0.7 2.3l-0.8 0.9l0.1 2.1l1.4 0.5l0.2 0.9l-0.7 0.7l-1.6 1.6l-0.1 0.7l0.3 2.3l1.9 1.4l0.9 1.6l1.6 2.3l1.6 3.5l1.1 1.8l1.4 2.9l1.9 2.9l3 1.7l2.6 1.2l1.3 1.1l1.7 1.2l0.2 3l0 3.5l-0.5 2.7l-0.2 2.6l-0.4 3.5l-1 3.6l-0.2 1.7l-0.2 3.5l0 1.8l-1 3.5l-1.4 3l-1.1 1.4l0.5 3.5l-0.8 2.7l0 1.7M522.3 144.2l-3.3 -2.1l3.3 0.4l1.5 -0.7l0.1 -2l0.2 -1l3.5 -0.2l2.7 -0.5l1.7 -0.9l1.4 -2.1l-0.9 -1.4l-0.1 -1.3l-2 -1.2l0 -1.1l1.1 0.8l2.8 0.8l2.3 0l2.5 -1.6l1.5 -1.7l0.9 -1.4l2 -2.1l1.7 -2.7l2.1 -1.7l0.4 -1.8l0 -2.6l0.5 -1.1l2.3 -1.6l1.2 -0.8l2.3 -0.9l3.2 -0.9l2.1 -0.2l1.7 -1.6l0.2 -0.8l1.1 -2.1l1 -2.3l0.9 -2.1l0.4 -3.2l0 -2.1l0.8 -3.2l1.8 -2.1l0.9 -1.4l1.7 -1.8l1.4 -1.7l0.6 -1.8l0.1 -1.6l-0.7 -2.8l-2.2 -0.7l-1.5 -0.7l-2.1 -1.7l-2.2 -1.4l-3 0l-1.8 -0.4l-2.6 -0.4l-0.6 0l-1.2 -1.7l-2.6 -0.9l-2.7 -0.5l-0.8 1.4l-1.8 -2.3l-1.4 -0.4l0.5 -1.7l-1.4 -1.8l-0.7 -3.5l-0.9 -0.9l-1 -0.7l-3 -1.6l-2.1 -0.1l-3.2 -0.2l-2.1 -1.4l-1.4 -2.1l-1.8 -0.9l-1.7 -1.8l-1.8 -0.8l-0.9 -1.1l-2.6 0.2l-1.8 0.7l-1.7 -0.9l-1.8 0.2l-2.3 0l0 -1.2l-2.6 -0.6l-0.4 -1.2l-0.5 1.2l-1.7 0.9l-0.6 0.5l0.4 2.1l-1.1 0l0.2 -2.1l0 -1.4l1.1 -1.6l-1.8 0.9l-1.8 1.1l-1.5 0l-1.3 0.5l-1 1.1l-0.4 1.5l-1 0.9l-1.1 0.9l0.2 0.9l-1.1 -1.1l-0.9 -1.2l-1.9 -0.5l-1.6 0.5l-1.6 0.7l-1.5 -0.2l-0.9 -0.3l-0.7 -0.7l-0.7 -0.7l-1.1 -1.6l-0.2 -2l0.4 -1.7l0.2 -2.3l0.3 -1.2l-1.4 -1.1l-1.7 -0.5l-1.8 0l-2.6 0.2l-1.3 0.1l-1.2 -0.3l0.5 -0.7l0.6 -1.2l0.1 -1.8l-0.1 -0.9l1 -0.3l0.4 -1.4l0.1 -1.5l1.1 -1.5l-0.7 -0.6l-2.3 0l-2.1 0.4l-1.1 0.3l-0.1 1.1l-0.4 1.2l-1.2 1.4l-0.9 0.7l-1.6 0l-2.6 0.7l-1.4 -0.7l-1.4 -0.3l-0.6 -0.7l-0.7 -1.4l-1.2 -1.4l-0.4 -1.3l-0.7 -1.4l0 -2.1l0.4 -2.6l0.7 -1.6l-0.4 -1.9l0.4 -1.4l1.4 -1.1l1.9 -1.1l0.9 -0.7l1.8 -0.5l2.3 0.2l1.7 0.5l1.8 0.2l1.9 0.2l0.4 0.1l-0.6 -1.4l0.4 -0.8l2.3 0l1.7 -0.2l1.8 0.2l1.1 1l1.7 -0.5l1.4 0.5l1.4 1.2l0.2 1.8l0.9 2.1l0.7 1.2l1 1.6l1.3 0l0.7 -1l0.1 -1.8l-1 -3l-0.7 -1.7l-0.7 -1.6l0.3 -2l0.6 -0.8l1.5 -1.3l1.8 -1.4l1.8 -0.7l1.7 -1.2l0.9 -0.2l1.8 -1l-0.7 -2.1l-0.2 -0.9l-0.7 -0.6l0.2 -1.2l-0.4 -2.1l0.7 -0.3l0 1.9l0.4 1.9l1 -1.4l0.4 -0.9l0 -0.5l-0.7 -1l1 0.7l1.1 -0.9l0.5 -1.4l0 -0.6l1.8 -0.1l1.7 -0.6l0.2 -0.5l-2.8 0.5l-0.9 0.6M483.8 31.8l1.6 -1.4l1.8 -0.5l1 -0.4l2.5 0.2l1.7 0.4l1.8 0.9l1.8 0.3l1.4 0.9l2.1 0.9l0.9 0.7l2.3 1l-1.5 0.6l-1.7 0l-3 0.1l0.9 -1.2l-1.8 -0.5l-0.5 -1.3l-1.8 -0.3l-1.7 -0.5l-1.8 -0.4l-0.9 -0.3l-1.4 -0.4l-1.2 0.7l-1.4 0.4l-1.1 0.1M487 32l0.9 0l-0.2 0.5l-0.5 0l-0.2 -0.5M502.3 38l2.5 0.3l1.2 -0.7l-0.9 -1l-1 -0.9l1.5 -0.3l1.4 0.1l2.2 0l1 0.4l1.2 0.5l1.5 1.2l-1.1 0.4l-1.6 0l-1.4 0.2l-1.2 1l-0.7 -0.9l-1.8 0.2l-1.7 0.2l-1.1 -0.7M495.4 38l2.3 0l1.4 0.7l-1.4 0.3l-2.1 -0.5l-0.2 -0.5M515 38l2.6 0.2l-0.2 0.5l-2.4 0l0 -0.7M524.3 51.5l1.6 -0.1l0 1.2l-1.6 0l0.7 -0.5l-0.7 -0.6M524.5 41.7l0.8 0l-0.5 0.5l-0.3 -0.5M525.5 44.3l0.5 0.4l-0.1 0.3l-0.4 -0.7M525 42.9l0.3 0.5l-0.1 0l-0.2 -0.5M525.7 45.7l0.3 0.4l-0.1 0.2l-0.2 -0.6M528.3 47l0.2 0.3l-0.2 0l0 -0.3M587.8 3.9l1 0l-0.5 0.1l-0.5 -0.1M602.9 12.7l0.9 0l-0.4 0.3l-0.5 -0.3M603.4 20.4l1.3 -0.2l-0.7 0.9l-0.6 -0.7M605.4 21.1l0.7 -0.2l-0.2 0.6l-0.5 -0.4M607.8 20.9l0.9 -1l0.7 -0.9l-0.7 1.8l-0.9 0.1M591.5 43.6l0.3 0.5l-0.3 -0.1l0 -0.4M588.7 40.3l0.5 0l-0.4 0.3l-0.1 -0.3M93.9 48.2l1.8 0l-0.6 0.5l-1.2 -0.5M97.3 107.3l0.8 0.2l-0.3 0.5l-0.5 -0.7M101 105.7l0.7 0.2l-0.6 0.5l-0.1 -0.7M76.2 90.6l0.3 0.7l-0.3 0l0 -0.7M68.9 80.6l0.6 0.7l-0.4 0.3l-0.2 -1M163.2 46.6l0.4 1.8l-0.6 1.5l-0.1 -1.5l0.3 -1.8M164.8 57.7l0.3 0.5l-0.3 0.2l0 -0.7M14.9 63.8l0.8 0.2l-0.4 0.5l-0.4 -0.7M173.6 72.1l0.9 1.1l-0.6 0.1l-0.3 -1.2M171 67.9l1 1l-0.5 0.2l-0.5 -1.2M185.2 73.3l1.4 -0.1l0.9 2.1l-1.2 -0.4l-1.1 -1.6M189.2 74.9l1.1 0.2l-0.4 0.9l-0.7 -1.1M51.5 76.3l0.7 1.4l0.2 2l0.7 2.1l0.9 1.9l0.7 1.8l-0.9 -0.2l-1.2 -1.9l-1.1 -2.5l-0.3 -2.6l0.3 -2M59.6 87.1l1.1 1.7l0.7 1.8l-0.2 1.7l0.5 2l0.2 1.2l-0.5 0.2l-0.7 -1.3l-0.6 -1.7l0 -2.1l-0.3 -1.8l-0.2 -1.7M55.9 72.1l0.4 -1.9l1.7 -0.6l1.8 0.6l0.2 1.6l-0.2 1.2l-0.7 1.4l-1.4 0.5l-1.6 0l-0.3 -1.4l0.1 -1.4M53.5 68.4l1 -1.4l0.7 -0.7l-0.3 1.1l-0.9 1l-0.5 0M51.7 70.7l0.7 0.2l-0.3 0.7l-0.4 -0.9M50.8 73.3l0.7 0.2l-0.1 1.1l-0.6 -0.2l0 -1.1M510 97.4l1.3 0.4l0.8 1.4l-1.2 -0.7l-0.9 -1.1M482.1 49.4l1.6 0.5l0.3 0.9l-1.4 -0.3l-0.5 -1.1M495.3 26.2l0.8 0l0.6 1.4l0 0.9l-0.9 -0.7l-0.5 -1.6M496.3 23l1.1 0.4l0.5 0.9l-0.7 0.5l-0.2 -0.9l-0.7 -0.9M494.2 23.4l1.4 -0.2l0.7 0.2l-0.9 0.3l-1.2 -0.3M498.1 25.5l0.9 0.4l0.3 1l-0.5 -0.5l-0.7 -0.9M499.8 26.9l0.7 0.7l0.2 0.4l-0.5 -0.2l-0.4 -0.9M499 28.1l0.8 0.7l0.6 0.4l-0.7 -0.2l-0.7 -0.9M500.5 28.7l0.7 0.8l0.4 0.8l-0.5 -0.6l-0.6 -1M502.3 30.3l0.9 0.1l0 0.9l-0.7 0l0.2 -0.7l-0.4 -0.3M504.4 31l0.9 0l-0.5 0.1l-0.4 -0.1M503.5 33.1l1.1 -0.2l0.2 0.5l-1.1 0.2l-0.2 -0.5M505.8 32l1.4 -0.2l0.2 0.6l-1.4 0l-0.2 -0.4M496.7 26.2l0.7 0l-0.4 0.2l-0.3 -0.2M490 36.2l0.5 0l-0.3 0.2l-0.2 -0.2M489.3 27.1l1 -0.2l1.1 -0.5l0.3 -0.4M629.3 8.6l0.9 2.8l0.8 2.3l-3.1 1.2l-1.4 1.3l-3 1.7l-2.7 0.6l-3 1.4l0 2.4M609.9 21.7l7.9 0M617.8 22.3l0 2.3l-5.8 0l0 4.4l-1.7 0.9l0 3l-7 0M617.8 22.3l6.9 4.1M624.7 26.4l-3 0l1.8 14.9l0.3 1.8l-7 0l-2.5 0.2l-1.4 -0.4l-1.2 1.4M15.1 5.5l-0.5 0.7l-0.2 2.6l-1.2 1.8l0 1.4l1.4 1.2l1.2 0.9l0.9 3.1M20.2 12l0 1.2l-2.1 1.2l-0.2 1.8l-1.2 1M16.7 17.2l0.7 2.1l-0.2 3.6l0.4 0.8l-1.1 0.6l1.1 2.4l2.6 1.1l0.9 1.2M21.1 29l-7.9 4.8l-3 2.3l-2.8 0.7M7.4 36.8l-1.9 0l0.1 -1.3l-2.4 -0.9l-1.1 -1.4l-10.5 -6.8M640.5 36.8l-1.9 0l0.2 -1.3l-2.5 -0.9l-1 -1.4l-10.6 -6.8M44.3 14.8l-0.5 1.9l0.2 2.3l0 12.7l0 3.5l-1.8 0l0 0.9M44 31.7l20.9 0M42.2 36.1l-15.8 -6.2l-1.4 0.7l-3.9 -1.6M42.2 36.1l0 6.6l-1.7 0.2l-0.2 1.1l-1.1 1.2l0.4 1.4l-1.3 1.4l2 2.3l0 0.9M26.4 29.9l1.6 4.6l-0.7 6.1l-3.6 4.4l0 1.3M23.7 46.3l1.3 1.4l1.4 1.4l0.2 2.3l0.7 1.5l-2.7 0l-0.2 0.6l2.9 3.7M27.3 57.2l1.7 -0.4l2.1 -0.3l1.6 -0.4l0.7 -1.6l2.5 -0.2l2.3 -2.6l2.1 -0.5M40.3 51.2l1.4 1.7l-0.4 1.8l1.3 0.7l1.7 1.6l2.1 1.7l1.8 2.7M67.9 38.7l-2.8 1.8l-0.9 3.5l-0.2 1M64 45l-0.5 3l-1.9 2.1l-1.3 1.6l-0.2 1.9l-0.5 1.8l-1.6 0.9l1.8 1.4l2.3 3.2l1 1.4l-2.6 0.5l-0.7 0.2M59.8 63l-0.9 0.7l-2.6 0.3l-1.8 -0.3l-0.3 0.5l-1.4 -1.6l-1.8 0l-1.8 0.2l-1 -1.4M64 45l2.7 -0.7l1.9 0.4l2.1 0.3l2.3 2l1.6 1.4M75.8 48l-1.2 0.4l-1.1 1.7l0 0.9l2 0l0.5 -0.9M75.5 51l0.1 1.8l1.8 1.7l5.3 1.8l1.7 0l-5.3 5.3l-2.6 0.3l-2.6 1.2l-0.2 0.4M73.7 63.5l-1.6 1.9l0 4.9l0 1.6l1.1 1.4M73.7 63.5l-1.9 -0.5l-1.8 0.5l-3 0.5l-2.1 -1.4l-1.8 -0.3M59.8 63l0.9 1.2l0.9 3l-0.9 1.4l-0.9 1.4l-0.2 2.1M59.6 72.1l6.7 3.7l0 0.7l2.6 2.1M54.2 64.2l0.8 2.3l-1.4 1.7l-1 1.3l-0.5 1.7l0 1.6M52.1 72.8l1.5 -0.7l6 0M53.6 72.1l0.6 2.3l-0.6 0.2l0.6 1.6l-0.7 1.2l-1.8 0.9M52.1 72.8l-1.1 2.3l0.4 1.4l0.3 1.8M51 75.1l2.6 -0.5M51.7 78.3l0.4 2.6l1.9 3.9l3.9 2.1l1.9 0.2l0.9 0.8l0.2 2.9l2.4 0.1l2.7 0l1.7 -0.5l3.4 -1.6M57.9 86.9l0.7 2.4l-0.2 3l-0.9 2l0.9 0.7l2.3 0.9l-0.4 2.1l1.8 2.4l0.9 -1.9l0 -2.1l-1.6 -2.3l-0.5 -3.3M58.4 95l-5.3 1.7l0.4 1.1l4.4 1.9l0 3.2l-0.4 1.7l-0.3 3.2l-2.2 1.9l1.3 3.7l-0.2 2.5l0.4 1.6l1.4 0.2M56.1 115.9l-1.6 -0.4l-0.3 2l0.8 0.9l1.5 -0.9M47.5 122.4l1.7 -1.6l1.8 0.4l0.7 1.2l-1.6 1.8l-1.9 -0.6l-0.7 -1.2M55 109.7l-3.3 -0.3l-2.5 1l-1.7 1.5l-0.2 1.2l-1.7 0.9l-0.6 1.4l-1.6 0.3l-2.9 -0.9l-0.8 1.5l-1.5 1.2l-1.8 0l0 -2.3l-1.2 -1.2M35.2 114l0 6.3l-1.8 0.9l-1.7 -0.2l-1.1 -0.2l-1.6 -0.1M35.2 114l0 -5l1.7 0l0 -6.5l4.4 -0.5l1.6 -0.2l1.6 -0.1l-2.3 -0.6l-1 0.2M20.8 100.8l2.1 -0.6l1.7 0.8l7.8 0l5.2 0.8l3.6 -0.5M44.5 101.7l1.2 2.1l2.3 2.6l1.2 1.9l2.5 1.1M44.5 101.7l3 0.3l3.3 -3.5l2.7 -0.7M41.2 101.3l-2.5 -2.5l0 -5.6l3.5 0l0 -3.7M42.2 89.5l-1.7 0.4l-1.5 0.1l-0.3 -2.1l-0.4 -3.5l0 -1.2l-2.2 -0.2l-1.8 1.2l-0.9 0.2l-2.1 0.2l-2.1 -3.9l-5.6 0l-2.1 0.2M21.5 80.4l1.4 -2M42.2 89.5l2.3 1.3l1.2 0.5l2.1 -0.5l2.1 1.5l1.1 1.6l1.4 0l0 -2.1l-1.4 0.4l-1.1 -0.9l0.4 -2.5l0 -2.1l0.5 -1.4l3.2 -0.5M21.1 79.1l1.8 -0.7l2.4 0.4l1.6 -0.9l1.6 -3.7l2.6 -3l0.6 -1.7l0.1 -3.2l0.9 -2.1M32.7 64.2l0 -1.6l1.6 -1.2l2.6 1.2l2.7 0.5l1.7 -1l2.7 -0.5l4.2 -0.2M19.5 77.2l1.3 -0.7l1.2 -2.1l2.3 0.2l1 -0.9l0.2 -2.3l-1.1 -1.1l1.1 -1.7l-2.1 -0.5l-0.2 -1.6M17.2 68.6l2.7 0l0 -2.1l-2.7 -0.2M19.9 66.5l3.3 0l2.3 0l2.6 0.9l0.4 -0.9l-2.1 -2.3l-0.7 -2.6l-0.2 -1.8l1.8 -2.6M28.5 66.5l0.7 -2.3l3.5 0M15.1 61.9l0.7 -1.8l2.1 -1.9l2 0.5l0.9 -0.7l0.7 -2.4l1.7 -2.1l1.1 -2.5l1.4 -0.9l-0.7 -1.6l0 -0.8M23.7 46.3l-1.7 1l-3.2 -0.5l-1.9 1l-1.6 -0.3l-1.6 -0.5l-1.6 0.5l-2.4 -1.6l-2.5 0.7l-0.9 3.2M6.3 49.8l0.4 2.1l-1.8 2.4l-0.2 2.2l0 2.6M2.8 59.4l0 -1.4l0 -3.5l-0.3 -0.7l-1.1 -1.7l0.2 -1.1M636 59.4l0 -1.4l0 -3.5l-0.4 -0.7l-1 -1.7l0.1 -1.1M2.1 59.6l-1 -1.4l-0.2 -1l0.2 -1.3l-0.4 -1l0 -2.1l-0.7 -1.1l-0.2 -0.9M635.3 59.6l-1.1 -1.4l-0.2 -1l0.2 -1.3l-0.3 -1l0 -2.1l-0.8 -1.1l-0.1 -0.9M4.2 49.2l-0.2 0.6l-1.5 0.5l-0.9 0.7l-1.8 -0.2l-4.7 0.2l-0.2 1.2l0.2 1.1l-2.1 -0.2l-1.3 0l-1.4 -1M637.4 49.2l-0.2 0.6l-1.6 0.5l-0.9 0.7l-1.7 -0.2l-4.8 0.2l-0.2 1.2l0.2 1.1l-2.1 -0.2l-1.2 0l-1.4 -1M-9.7 52.1l0.4 -1.8l1.6 -1.2l0.1 -2l1.8 -0.1l0.7 -1.3l1.6 -0.3l1.7 -1.1l2.2 -0.3l0.3 1.7l1.1 1.1l0 0.9l1.9 0.3l0.5 1.2l2.1 0.6M623.5 52.1l0.3 -1.8l1.6 -1.2l0.2 -2l1.7 -0.1l0.7 -1.3l1.6 -0.3l1.8 -1.1l2.1 -0.3l0.4 1.7l1 1.1l0 0.9l1.9 0.3l0.6 1.2l2.1 0.6M627.7 61.4l0.5 -0.9l-0.7 -2.1l1.3 -2.5l-0.6 -2.6M620 62.6l0.1 -2.5l-1.7 -1.2l-0.2 -1.9l1.1 -1.6l0.1 -1.6l-0.3 -1.4l3.1 -0.7l1.3 0.4M618.2 57l-1.6 0.3l0 -1.7l-1.6 -0.2l-2.1 2.8M615 55.4l-0.5 -1.1l-1 -1.5l-2.3 0.1l-1.4 1.6M619.1 52.4l-0.5 -1.4l-1.3 -2.5l-2.3 0.4l-1.9 -0.4l-1.6 0.2l-2.4 -0.7l0 1.8l-2.3 1.4M609.1 48l-5.3 0.5M603.6 47.3l3.2 -0.2l2.1 -0.1l0 -0.6l-2.1 -0.1l-2.8 0.1M604.1 42.2l0.4 -0.9l3.1 -0.1l2.2 1.7l1.9 1.4l0.3 2.3l1.1 1.9M7.4 36.8l0 4.7l-1.2 1.8l-3.9 0.1l-1.9 0.6M640.5 36.8l0 4.7l-1.2 1.8l-3.9 0.1l-1.9 0.6M60.1 15.3l1.3 3.2M61.5 18.5l0.9 -3.6l0.2 -2.1M61.7 12.1l0.9 -0.3l1.4 -1.2l0.2 -1.1l-0.9 0M62.6 11.8l0 1M63.1 7l1.3 -0.3l0.1 -1.1l2.3 0l3.5 0l4.1 -0.7M74.4 4.9l-1.8 1.4l-0.5 3.5l-3.9 1.8l-3.5 1.9l-2.1 -0.7M68.2 11.6l0.7 2.1l-3.8 1.2l1.7 1.8l-0.8 0.9l-1.5 0.2l-1.2 1.2l-1.7 -0.2M68.9 13.7l2.2 0.5l2.8 1.5l4.7 3.3l3.2 0.2l2.1 1l1.2 0M81.8 19.2l0.9 -1.6l1.5 0M74.4 4.9l4.4 0M78.8 4.9l1 2.1l1.5 0.7l-1.3 2l0.9 2.3l3.2 2.1l-0.2 1.7l1.4 1.8M78.8 4.9l-1.1 -2.3l0.6 -2.1l0.5 0l3 1.4l2.6 -1.4l1.6 2.3M78.3 0.5l-1.4 -0.9l-0.2 -1.5M78.8 0.5l1.2 -1.6l1.8 2l0 1M80 -1.1l-0.9 -1M75.3 41.5l0.9 -1.8l2.1 0l4.4 0.8l1.7 -2.2l7.1 -1.4l5.2 -1.7l1.3 -3.5l-0.9 -1.3l-4.6 -0.3l-1.7 -2.3M91.5 36.9l1.9 4.3M97.1 30.4l1.4 -2.3l0.7 -1.5M98.5 28.1l-0.4 -0.3l0.6 -3.2M89.3 26.9l0.9 0.2M95 4.7l2.6 -1.2l3.2 -0.3l2.1 0.8l1.7 0.9l3 1.1l0 1.7M107.6 7.7l-1 2l0 2.3l0.5 2.9l1.6 0.9l-1.6 2.1M107.1 17.9l1.4 2l1.9 0.9l0 1.7l0.9 0.9l-2.3 0.7l-0.7 1.9M107.1 17.9l2.8 0.7l2.7 -0.1l3.8 -0.6l0.4 -1.9l2.4 -0.9l2.7 -0.9l0.3 -1.9l1.4 -0.7l-0.5 -1l1.9 -0.8l0.9 -1.9l-0.1 -1.4l3.5 -1l2.4 -0.6M107.6 7.7l2.7 0.6l3.1 -1.8l2 -1.9l3.8 0.3l2.7 0.2l1.6 -0.9l0.5 -0.9l1.4 -0.3l0.5 2.6l3 -1l2.8 0.3M117 4.6l0.1 -1.1l-2.8 -1.7l-2.3 -0.7l-2.3 -1.1l-2.4 -2.1l-1.8 -1.1M119.2 4.9l1.1 -1.7l-1.2 -2.5l1.4 0l1.4 -1.1l1.9 0.2l0.4 -1.4l0.3 1.2l3.9 1.5l1.4 -0.2l-0.2 2.6l2.1 1.4M124.2 -1.6l2.4 -0.7l2 0.9l-2.5 1l-1.6 0M131.7 4.9l-0.7 -2.3l-1.2 -1.7l1.8 -1.8l3.5 -0.9l2.6 -0.5l3.4 -1.6M119.9 28.8l1.1 -1.2l3.7 -0.2l-1.4 -2.2l0.5 -2.3l-1.4 -0.4l1.4 -1.4l2.7 0l1.9 -2.1l1.6 -1.8l1.2 -1.5l-0.2 -1.6l1.4 -0.6l-1.7 -1.2l-0.7 -2.6l5.1 -2l1.7 0.2M131.7 4.9l2 2.1l3.1 0.9M136.8 7.9l2 1.9l-0.2 2l1.2 1.4l-1.4 1.7l4.1 2.3M142.5 17.2l-1.6 2.5l3 1.6l2.6 0.9l2.6 0.5l1.8 0.9l2.6 0.3l1.4 -0.2l0 -2.4M142.5 17.2l2.1 0.4l2.3 1.4l2.8 1.2l1.6 0.9l3.6 0.2l1.5 1M156.4 22.3l1.5 1.1l3 -0.2l1.1 -0.2l-0.7 -1.5l-2.5 -0.6l-1.4 0l-1 1.4M154.9 23.7l1.5 -1.4M161.3 21.5l4 -2l3.5 -0.9l2.3 2.2M156.5 32l0 -1.2l-0.3 -1.3l-0.2 -1.7l-1.1 -0.7l0.4 -1.1l1.1 -1l-0.8 -1.1l2 0.5l0.3 1.5l4.6 0.5l-0.3 1.2l-1.8 0.5l0.3 1.4l0.8 0l0.8 -0.8l0.6 3.1l-0.7 1.3l0.1 0.8M162.9 31.8l1 -0.5l0.2 -3.2l2.5 -2.4l0.8 -2.3l3.2 -1.8l0.5 -0.8M171.1 20.8l2.3 1.2l0.2 3l-1.9 1.7l0.1 1.4l2.1 0l0 1.4l1.1 0.6l-0.5 1.4l1.7 1.2l1.8 0.4l-1.9 1.5M176.1 34.6l-2 0.6l-1.7 0.5l-0.6 2.1l-0.3 1.2l2.1 2.7l-0.9 1.9l1.8 2.7l0 1.9l0.7 1.4l-1.1 1.8l-0.3 0.8l-0.4 0.7M176.1 34.6l0.7 1.5l1.2 0l-0.4 2.6l0.4 0.9l1.6 -1.3l1.2 0.6l1.1 -0.9l2.2 1.6l0.2 1.9l1.2 1.2l0 2.1M185.5 44.8l-1.2 0.2l-3.1 0.2l-0.9 1.2l-0.2 2l0.9 1.4M178 33.1l1 0l0 -2.1l0.7 0l1.1 1.2l0.4 1.4l2.6 0.9l-0.9 1.6l1.8 1.4l2.6 3l1.8 2.6l0 1.4M185.5 44.8l0.9 0.9l2.7 -1.2M189.1 44.5l0 4.2l-2.1 0.9l-0.7 0.5l0.5 0.9l-2 0.2l-1.2 0.9M179.7 31l3 -0.4l2.5 -1.2l2.5 0.9l0.1 1.4l2.1 0.8M176.1 59.1l1.7 1.2l1.2 -0.2l0.6 -0.7M192.8 66.8l0.7 1.4l2.6 0.4l1.2 -0.7l2.3 0.2l2.3 -1.3l1.2 -2.1l0.4 -1.7l3.3 0M200.7 62.3l1 1l1.1 -0.5l0 -1.1M248 74.9l0 11.5M219.8 85.7l0.2 1.2M221.8 4l1.6 -1l2.2 -0.5M218.6 0.2l2.1 -1.6l2.5 -1.8M620.1 4.9l-0.1 -1.4l0.8 -0.3l-0.5 -2.1l0.5 -0.6l0.2 -2.3l1.2 -1M45.7 -1.2l1.1 -1.1M35.2 0.5l1.2 -1l0.5 -1.1M427.2 13.2l4.2 -0.4l-0.2 0.4l6.6 2.1l5.1 0l0 -0.9l2.9 0l2.7 2l0.9 1.9l2.2 1l1.3 -1.4l1.9 0l1.2 1.3l2.2 2.8l0.8 1.9l3.2 0.9M471 44.8l0 -1.4l0.9 -1.4l2.3 0l0 -0.5l-1.8 -1.5l0.7 0l0 -1l3.3 0l0.6 -0.1l0.9 -1.1M476.4 39l-0.1 3.4l0.5 0M478 42.7l-1.7 1.4l-0.3 0.9l-1.3 1.2M476 45l1.5 0.7l1.2 1.1l0.2 0.3M479.6 47.5l1.1 -1.4l1.7 -0.4l1.4 -1.4l3 -0.3M482.4 50.8l1.4 0.2l2.1 0.2M487.9 53.5l-0.6 0.8l0 1.8M497 55.2l0.4 1.3l-1.3 1.2M507.8 49.5l-1.6 1.3l-1.4 3.2l1 1.6l0 1.7l0.9 0.7l3.2 0l1.2 1.6l3.3 -0.2l-0.5 1.6l0 2l0.9 1.4l-0.9 1l1.4 2.8l0.2 0M515.5 68.2l-0.4 -0.8l-1.7 0l-3 0l0 1l1 0.2l-0.3 0.5l-1.1 0.2l0 1.4l1.1 1.6l-0.9 5.4M510.2 77.7l-1.4 -0.7l1.1 -1.9l-3.2 -0.7l-1.9 0l-1.8 -2.3l-2.1 -1.6l-1.9 -0.9l-2.2 -0.5l-2.2 -1.2M500.9 70.5l-0.7 2.5l-1.8 1.9l-2.4 1.3l-0.7 0.8l-0.6 1.4l-0.7 0.7l-0.8 -0.8l-1.5 -0.2l0 -1.6l0.4 -0.2M510.2 77.7l-1.7 0.4l-3.4 1.2l-0.7 1.8l-1.4 2.1l0.5 0.2l1.3 2.8l1.2 0.9l0.2 0.8l2.8 -0.8l0 2.6l1.7 -0.1M510.7 89.6l1.6 2.7l-0.5 2.1l-0.7 2.3l0.3 0.9l0.7 1.4l-1.4 1.8l0.2 0.3l-1.6 1.5M510.9 101.1l1.1 2.7l0.7 1.7l0.5 2.7l0.7 2.2l1.1 0M515 110.4l0.3 0.4l-0.5 1.8l-2.1 1l0.3 3.4l-0.5 1l-1.9 2.5l-0.6 2.6l-0.8 2.1l0.8 3.7l0.4 1.8l-1.1 1.6l0 1.7l-1.2 0.7l0.2 3.4l-1.3 2.6l-0.1 3.5M515 110.4l1.7 -1.7l3 0.9l0.4 0.8l2.8 -1l0.2 0M523.1 109.4l0.5 -3l0.9 -1.6l4.9 -0.5l1.4 0.9l0.2 0.5M531 105.7l0.5 -1.9l0.5 -1.4l-1.6 -1.6l0 -1.8l-3.1 0l-0.6 -4.4l-2.6 -1l-1.8 -0.9l-2.4 -0.5l-1.6 -1.3l-0.2 -3.5l-2.1 0.4l-2.4 1.4l-2.9 0.4M531 105.7l0.3 3.5l2.5 0.2l1.4 0.3l0.5 2.9l1.9 0.1l-0.5 2.7M523.1 109.4l2.8 2.8l3.5 1.8l2.4 1l-1.7 3.2l3.7 0.3l1 -0.1l2.3 -3M537.1 115.4l1.4 0.1l0.2 2l-2.3 1.7l-1.4 1.1l-3.2 3.2M531.8 123.5l2.9 1l0.8 0.2l2.7 1.8l1 1.2l0 1.9M531.8 123.5l-1 3.1l-0.4 3.5M515.5 68.2l2.5 0.7l2.6 -1.2l-0.5 -1.7l1.5 0.3l-1.5 -2.1l-0.6 -1.1l3 0.7l0.4 -0.5l3 -0.9l0.5 -1.2M526.4 61.2l-1.2 -1.2l0.5 -1.4l1.4 -0.7l-0.7 -0.7l1.6 -1.4M526.4 61.2l1.2 0.4l0.2 1l0.7 0.9l-0.9 1.9l0.7 1.8l1.4 1l1.4 -0.5l1.3 -0.9l1.4 0.2M533.8 67l-1.4 -2.5l-1.3 -1.2l0.2 -1.4l1.1 -0.9l0.3 -1.2M533.8 67l1 -0.2l-0.1 -0.5l2.4 0l2 0l1.5 -0.3l1.6 -3M537.1 66.3l0.7 -1.2l-0.5 -3.2l0.9 -1.6M507 35.7l0 1.9l-0.5 0l0.5 1.1" fill="none" stroke="#555" stroke-width="1.65" stroke-linejoin="round"/>
<path d="M432.6 5.3l34.1 0M466.7 6.2l7.9 0l-0.3 0.8l1.1 0M475.7 6.2l2.6 0l0 -0.3l7.6 0.1l3.6 0l10.2 0.1M453.7 0l11.8 0M422.1 -3.5l0 5.3l9.5 7l-0.2 4M432.6 -3.5l0 10.2l-1.2 0.2l0.2 1.9M441.4 15.3l0 -18.8M445.7 14.1l6.2 0l0 -8.8M451.9 6.2l5.4 0l0 3.3l1.4 0.5l2.1 0.4l1.8 0.5l1.7 0l2.6 0.4l0.8 0.1l0 2.7l0.7 1.7l-0.2 2.3M467 11.3l0 -3.2l-0.3 -1.9l0 -4.6l-1.2 -1.6M467.7 12.3l5.1 0M475.7 17.2l-0.3 -1.4l-3.4 0l1.1 -1.7l-0.3 -1.8l1 -2.6l0.9 -0.9l0.9 -2.1l0.7 -1.4l-0.6 -1.4l-1.2 -1.8l-0.9 -0.9l-1.2 -1.2l0 -0.7l0.7 -1.1M478.2 8.8l-0.5 5.4l0 2.9M482.6 8.8l0.7 3.7l0.4 3.3M479.3 17.1l-0.2 -1.3l4.6 0l0.1 0.6l4.8 0.1l0.3 0.4l0.9 -0.5M474.3 8.8l10.6 0l2.1 0l1.4 -0.4l2.3 0.2l0.3 0.5l2 0l2.1 1.7M487 8.8l1.9 2.6l1.6 2.5M484.9 8.8l2.3 -1.4l2.3 -1.4M478.4 3.9l0.9 -2.7l0 -4.7M484 1.6l0 -5.1M476.3 5.3l2.1 -1.4l1.7 -0.2l1.8 -0.2l1.1 -1.2l1 -0.7l1.4 0.5l2.5 0.7l1 -0.9l0.6 -0.5l1.4 -0.9l0.7 -1.6l0 -2.4M485.9 6l3 -1.6l-1 -1.2M489.1 4.4l2.8 0l1.4 -1.8l2.1 -1.5l1.1 0.1l1.2 0.7l1.3 1.6M491.6 0.5l8.2 0l0 2.2l1.4 0M493.3 0.5l0 0.9l2.1 -0.3M500.4 0.4l1.4 -0.8l-0.9 -0.8l0.9 -1.3M453.7 5.3l0 -8.8M437.8 -1.8l15.9 0M437.8 -3.5l0 1.7M465.5 0l-0.8 -1.1l-0.4 -1.5" fill="none" stroke="#555" stroke-width="2" stroke-linejoin="round"/>
<path d="M0 70.3 H633.1" stroke="#444" stroke-width="1.5" stroke-dasharray="4.5 5.5" stroke-dashoffset="1.6" fill="none"/>
<path d="M316.6 0 V140.7" stroke="#444" stroke-width="1.5" stroke-dasharray="4.5 5.5" stroke-dashoffset="0" fill="none"/>
</svg>
<path d="M0 0v-4.8M0 140.7v4.6M105.5 0v-4.8M105.5 140.7v4.6M211.1 0v-4.8M211.1 140.7v4.6M316.6 0v-4.8M316.6 140.7v4.6M422.1 0v-4.8M422.1 140.7v4.6M527.6 0v-4.8M527.6 140.7v4.6M633.1 0v-4.8M633.1 140.7v4.6M0 123.1h-4.8M633.1 123.1h4.6M0 70.3h-4.8M633.1 70.3h4.6M0 17.6h-4.8M633.1 17.6h4.6" stroke="#000" stroke-width="2.6" stroke-linecap="round" fill="none"/>
<path d="M17.6 0v-3.4M17.6 140.7v3.4M35.2 0v-3.4M35.2 140.7v3.4M52.8 0v-3.4M52.8 140.7v3.4M70.3 0v-3.4M70.3 140.7v3.4M87.9 0v-3.4M87.9 140.7v3.4M123.1 0v-3.4M123.1 140.7v3.4M140.7 0v-3.4M140.7 140.7v3.4M158.3 0v-3.4M158.3 140.7v3.4M175.9 0v-3.4M175.9 140.7v3.4M193.5 0v-3.4M193.5 140.7v3.4M228.6 0v-3.4M228.6 140.7v3.4M246.2 0v-3.4M246.2 140.7v3.4M263.8 0v-3.4M263.8 140.7v3.4M281.4 0v-3.4M281.4 140.7v3.4M299 0v-3.4M299 140.7v3.4M334.2 0v-3.4M334.2 140.7v3.4M351.8 0v-3.4M351.8 140.7v3.4M369.3 0v-3.4M369.3 140.7v3.4M386.9 0v-3.4M386.9 140.7v3.4M404.5 0v-3.4M404.5 140.7v3.4M439.7 0v-3.4M439.7 140.7v3.4M457.3 0v-3.4M457.3 140.7v3.4M474.9 0v-3.4M474.9 140.7v3.4M492.4 0v-3.4M492.4 140.7v3.4M510 0v-3.4M510 140.7v3.4M545.2 0v-3.4M545.2 140.7v3.4M562.8 0v-3.4M562.8 140.7v3.4M580.4 0v-3.4M580.4 140.7v3.4M598 0v-3.4M598 140.7v3.4M615.6 0v-3.4M615.6 140.7v3.4M0 105.5h-3.4M633.1 105.5h3.4M0 87.9h-3.4M633.1 87.9h3.4M0 52.8h-3.4M633.1 52.8h3.4M0 35.2h-3.4M633.1 35.2h3.4" stroke="#000" stroke-width="1.7" fill="none"/>
<rect x="0" y="0" width="633.1" height="140.7" fill="none" stroke="#000" stroke-width="2.8"/>
</g>
<text class="k" x="841.8" y="246.6" font-size="34.9">11-Dec to 20-Dec</text>
<g transform="translate(102.3 469.4)">
<svg x="0" y="0" width="633.1" height="140.7" viewBox="0 0 633.1 140.7" overflow="hidden">
<rect width="633.1" height="140.7" fill="#f8f8f8"/>
<ellipse cx="4.3" cy="11.2" rx="4.4" ry="5.8" fill="#d1e5f0"/><ellipse cx="22.5" cy="11.2" rx="5.8" ry="8.7" fill="#fddbc7"/><ellipse cx="3.5" cy="25.7" rx="2.9" ry="4.4" fill="#fddbc7"/><ellipse cx="56" cy="24.3" rx="7.3" ry="8" fill="#fddbc7"/><ellipse cx="54.5" cy="52" rx="8.7" ry="7.3" fill="#fddbc7"/><ellipse cx="70.5" cy="21.4" rx="3.6" ry="3.6" fill="#fddbc7"/><ellipse cx="34.1" cy="50.5" rx="4.4" ry="2.2" fill="#fddbc7" transform="rotate(-30 34.1 50.5)"/><ellipse cx="85.1" cy="30.1" rx="8" ry="10.2" fill="#d1e5f0"/><ellipse cx="86.6" cy="43.2" rx="7.3" ry="2.2" fill="#d1e5f0" transform="rotate(-25 86.6 43.2)"/><ellipse cx="99.7" cy="6.8" rx="3.6" ry="3.6" fill="#d1e5f0"/><ellipse cx="76.4" cy="66.5" rx="2.9" ry="5.8" fill="#d1e5f0" transform="rotate(30 76.4 66.5)"/><ellipse cx="109.9" cy="68" rx="4.4" ry="2.9" fill="#d1e5f0"/><path d="M190 1.7C194.5 0.3 212.7 -6 217.7 1.7C222.7 9.4 220.1 36.7 217.7 44.7C215.3 52.7 208.8 44.6 204.6 46.1C200.4 47.7 196.7 54.5 194.4 53.4C192 52.4 193.3 44.5 191.5 40.3C189.6 36.1 185 34 184.2 30.1C183.4 26.2 185.5 22.1 187.1 18.5C188.7 14.8 192.4 12.7 192.9 9.7C193.5 6.7 185.6 3.1 190 1.7Z" fill="#fddbc7"/><ellipse cx="143.4" cy="86.9" rx="10.2" ry="8.5" fill="#fddbc7" transform="rotate(30 143.4 86.9)"/><ellipse cx="162.3" cy="107.3" rx="13.1" ry="3.6" fill="#fddbc7" transform="rotate(25 162.3 107.3)"/><ellipse cx="159.4" cy="117.5" rx="8.7" ry="7.3" fill="#fddbc7"/><ellipse cx="150.7" cy="127.7" rx="7.3" ry="5.8" fill="#fddbc7"/><ellipse cx="175.4" cy="84" rx="5.8" ry="7.3" fill="#d1e5f0"/><ellipse cx="198.8" cy="104.4" rx="2.9" ry="3.6" fill="#d1e5f0"/><ellipse cx="201.7" cy="127.7" rx="4.4" ry="10.2" fill="#d1e5f0"/><path d="M99.7 107.3C101.8 105.1 105.8 102.2 108.4 102.2C111.1 102.2 113.5 104.6 114.3 107.3C115 110.1 112 114.4 112.8 117.5C113.6 120.7 116.3 123 118.6 124.8C121 126.6 124.1 125.2 125.9 127.7C127.7 130.2 134.9 136.7 128.8 138.7C122.8 140.6 100 141.1 92.4 138.7C84.8 136.2 87.4 128.9 86.6 124.8C85.8 120.7 86.2 117.9 88 116.1C89.9 114.2 94.7 116.2 96.8 114.6C98.9 113 97.6 109.6 99.7 107.3Z" fill="#d1e5f0"/><ellipse cx="6.4" cy="107.3" rx="5.1" ry="7.3" fill="#d1e5f0"/><ellipse cx="16.6" cy="97.1" rx="3.6" ry="2.9" fill="#d1e5f0"/><ellipse cx="42.9" cy="108.1" rx="5.1" ry="5.8" fill="#d1e5f0"/><path d="M6.4 138.7C-4.3 137.2 7.7 133.1 10.8 130.6C14 128.1 17.6 125.3 23.9 124.8C30.2 124.3 40 128 45.8 127.7C51.5 127.5 53.1 124.9 56 123.4C58.9 121.8 59.7 118.7 61.8 119C63.9 119.2 65.5 123.2 67.6 124.8C69.7 126.4 72.9 125.2 73.5 127.7C74 130.2 82.6 136.7 70.5 138.7C58.5 140.6 17.2 140.1 6.4 138.7Z" fill="#fddbc7"/><ellipse cx="35.6" cy="113.2" rx="2.2" ry="4.4" fill="#fddbc7"/><path d="M207.7 1.7C211.9 -4.7 227.6 -0.8 231 1.7C234.4 4.2 229.3 10.7 226.6 15.5C224 20.4 219.9 24.7 216.4 28.7C213 32.6 209.3 42.2 207.7 37.4C206.1 32.5 203.5 8.1 207.7 1.7Z" fill="#fddbc7"/><path d="M353.4 1.7C358.4 -0.3 381.3 -0.8 388.4 1.7C395.4 4.2 390.4 11.2 392.7 15.5C395.1 19.9 401 22.3 401.5 25.7C402 29.1 399.1 32.4 395.6 34.5C392.2 36.6 387 37.4 382.5 37.4C378.1 37.4 373.5 37.1 370.9 34.5C368.3 31.9 369.8 26.8 368 22.8C366.1 18.9 363.3 16.4 360.7 12.6C358.1 8.8 348.4 3.7 353.4 1.7Z" fill="#d1e5f0"/><ellipse cx="338.8" cy="8.3" rx="8" ry="5.8" fill="#d1e5f0"/><path d="M398.6 1.7C403 -0.8 422.5 -4.5 427.7 1.7C432.9 7.9 429.3 30.3 427.7 35.9C426.1 41.6 421.8 35.4 419 33C416.1 30.7 414.6 26 411.7 22.8C408.8 19.7 405.3 19.3 402.9 15.5C400.6 11.7 394.1 4.2 398.6 1.7Z" fill="#fddbc7"/><ellipse cx="314.8" cy="16.3" rx="3.6" ry="2.6" fill="#fddbc7"/><ellipse cx="366.5" cy="63.6" rx="4.4" ry="2.2" fill="#d1e5f0"/><ellipse cx="388.4" cy="69.4" rx="9.5" ry="5.1" fill="#d1e5f0" transform="rotate(15 388.4 69.4)"/><ellipse cx="414.6" cy="72.4" rx="13.1" ry="7.3" fill="#d1e5f0" transform="rotate(20 414.6 72.4)"/><ellipse cx="411.7" cy="91.3" rx="11.7" ry="7.3" fill="#d1e5f0" transform="rotate(20 411.7 91.3)"/><ellipse cx="324.3" cy="97.1" rx="14.6" ry="7.3" fill="#fddbc7" transform="rotate(10 324.3 97.1)"/><ellipse cx="356.3" cy="95.7" rx="7.3" ry="10.2" fill="#fddbc7" transform="rotate(-20 356.3 95.7)"/><ellipse cx="371.6" cy="88.4" rx="3.6" ry="1.7" fill="#fddbc7" transform="rotate(30 371.6 88.4)"/><path d="M266 138.7C261.3 136.2 268.7 128.1 271.8 124.8C275 121.5 279.8 121.8 283.5 120.4C287.1 119.1 290.1 116.5 292.2 117.5C294.3 118.6 294.1 122.5 295.1 126.3C296.2 130.1 303.3 136.4 298 138.7C292.8 140.9 270.7 141.1 266 138.7Z" fill="#fddbc7"/><ellipse cx="260.2" cy="111.7" rx="5.8" ry="6.6" fill="#fddbc7"/><path d="M312.6 138.7C305 136.2 315.5 128.9 318.4 124.8C321.3 120.7 325 118.2 328.6 116.1C332.3 114 334.9 112.4 338.8 113.2C342.8 113.9 346.8 117.3 350.5 120.4C354.2 123.6 357.4 127.4 359.2 130.6C361.1 133.9 369.1 137.2 360.7 138.7C352.3 140.1 320.2 141.1 312.6 138.7Z" fill="#d1e5f0"/><path d="M368 138.7C360.4 136.2 368.1 129.4 369.4 124.8C370.7 120.2 372.4 116.8 375.2 113.2C378.1 109.5 381.5 105.5 385.4 104.4C389.4 103.4 392.6 105.8 397.1 107.3C401.6 108.9 407.1 110.5 410.2 113.2C413.4 115.8 414.3 117.3 414.6 121.9C414.8 126.5 420.1 135.6 411.7 138.7C403.3 141.7 375.6 141.1 368 138.7Z" fill="#fddbc7"/><ellipse cx="289.3" cy="98.6" rx="5.8" ry="2.9" fill="#d1e5f0" transform="rotate(30 289.3 98.6)"/><ellipse cx="233.9" cy="108.8" rx="3.6" ry="2.2" fill="#d1e5f0" transform="rotate(30 233.9 108.8)"/><ellipse cx="426.2" cy="104.4" rx="2.2" ry="5.8" fill="#d1e5f0"/><path d="M417.7 1.7C419.3 -4.2 423.6 -1.3 426.4 1.7C429.3 4.7 432.7 13.3 433.7 18.5C434.8 23.6 434.4 27 432.3 30.1C430.2 33.3 424.7 35.2 422.1 35.9C419.4 36.7 418.5 40.6 417.7 34.5C416.9 28.3 416.1 7.6 417.7 1.7Z" fill="#fddbc7"/><ellipse cx="449.8" cy="46.1" rx="5.1" ry="5.8" fill="#fddbc7"/><path d="M461.4 19.9C464.6 17.6 473.1 17.1 478.9 15.5C484.7 14 489.8 13.7 493.5 11.2C497.1 8.7 494.6 3.4 499.3 1.7C504 0 516.3 -0.5 519.7 1.7C523.1 3.9 519.8 10 518.2 14.1C516.7 18.1 514.4 21.7 510.9 24.3C507.5 26.9 503 26 499.3 28.7C495.6 31.3 493.7 36.5 490.5 38.9C487.4 41.2 486 42 481.8 41.8C477.6 41.5 470.9 39.8 467.2 37.4C463.6 35 462.5 31.8 461.4 28.7C460.4 25.5 458.3 22.3 461.4 19.9Z" fill="#d1e5f0"/><path d="M521.1 1.7C528 0.3 556.8 -0.3 563.4 1.7C570 3.7 560.7 8.6 557.6 12.6C554.4 16.7 550.4 21.4 545.9 24.3C541.5 27.2 536.7 27.6 532.8 28.7C528.9 29.7 524.8 31.9 524.1 30.1C523.3 28.3 528.2 22.1 528.4 18.5C528.7 14.8 526.8 12.7 525.5 9.7C524.2 6.7 514.3 3.1 521.1 1.7Z" fill="#fddbc7"/><path d="M563.4 14.1C565.5 10.4 571.4 8.9 578 6.8C584.5 4.7 588.3 3.3 599.8 2.4C611.4 1.5 634.5 -1.2 642.1 1.7C649.8 4.6 646.4 16.2 642.1 18.5C637.9 20.7 626.4 15.1 618.8 14.1C611.1 13 607.2 11.3 599.8 12.6C592.5 13.9 584 18.7 578 21.4C571.9 24 568.9 28.5 566.3 27.2C563.7 25.9 561.3 17.8 563.4 14.1Z" fill="#d1e5f0"/><ellipse cx="591.8" cy="49.1" rx="10.2" ry="5.8" fill="#fddbc7" transform="rotate(-15 591.8 49.1)"/><ellipse cx="590.3" cy="31.6" rx="2.2" ry="4.4" fill="#fddbc7"/><ellipse cx="518.2" cy="33" rx="2.2" ry="2.2" fill="#fddbc7"/><path d="M462.9 66.5C464.2 63.6 469.4 62.7 473.1 62.2C476.7 61.6 480.1 64.4 483.3 63.6C486.4 62.8 488.2 58.3 490.5 57.8C492.9 57.3 495.9 58.1 496.4 60.7C496.9 63.3 493.7 67.1 493.5 72.4C493.2 77.6 496.2 87.2 494.9 89.8C493.6 92.5 489.6 88.2 486.2 86.9C482.8 85.6 479.6 84.1 476 82.6C472.3 81 468.1 81.1 465.8 78.2C463.4 75.3 461.6 69.4 462.9 66.5Z" fill="#fddbc7"/><ellipse cx="507.3" cy="65.1" rx="5.1" ry="6.6" fill="#d1e5f0"/><path d="M417.7 68C420.1 66.2 426.1 66.9 430.8 68C435.5 69 440.8 71.2 443.9 73.8C447.1 76.4 448.6 80.7 448.3 82.6C448 84.4 445.4 84.8 442.5 84C439.6 83.2 436.7 79.2 432.3 78.2C427.8 77.1 420.3 80 417.7 78.2C415.1 76.4 415.3 69.8 417.7 68Z" fill="#d1e5f0"/><path d="M474.5 91.3C476.4 91 481.7 93.8 486.2 95.7C490.6 97.5 495.6 98.6 499.3 101.5C503 104.4 505.5 108 506.6 111.7C507.6 115.4 507 121.1 505.1 121.9C503.3 122.7 499.5 119.2 496.4 116.1C493.2 112.9 491.3 107.8 487.6 104.4C484 101 478.3 99.5 476 97.1C473.6 94.8 472.7 91.6 474.5 91.3Z" fill="#d1e5f0"/><path d="M417.7 91.3C418.7 84.1 422 96.2 423.5 98.6C425.1 100.9 424.1 102.3 426.4 104.4C428.8 106.5 432.4 108.7 436.6 110.2C440.8 111.8 445.3 111.1 449.8 113.2C454.2 115.3 457.2 118.2 461.4 121.9C465.6 125.6 470.4 130.5 473.1 133.6C475.7 136.6 485.9 137.7 476 138.7C466 139.6 428.2 147.2 417.7 138.7C407.2 130.1 416.7 98.5 417.7 91.3Z" fill="#d1e5f0"/><ellipse cx="492" cy="130.6" rx="10.2" ry="6.6" fill="#fddbc7"/><path d="M516.8 95.7C518.3 93.1 524.8 89.8 528.4 89.8C532.1 89.8 534.3 93.1 537.2 95.7C540.1 98.3 542.4 101.3 544.5 104.4C546.6 107.6 546.5 111.3 548.8 113.2C551.2 115 555.2 112 557.6 114.6C559.9 117.2 561.2 123.8 561.9 127.7C562.7 131.7 564.3 134.5 561.9 136.5C559.6 138.4 552.2 140.2 548.8 138.7C545.4 137.1 545.6 131.5 543 127.7C540.4 123.9 537.4 120.1 534.3 117.5C531.1 114.9 528.1 115.5 525.5 113.2C522.9 110.8 521.3 107.6 519.7 104.4C518.1 101.3 515.2 98.3 516.8 95.7Z" fill="#fddbc7"/><ellipse cx="525.5" cy="137.2" rx="7.3" ry="2.9" fill="#fddbc7"/><ellipse cx="547.4" cy="84" rx="11.7" ry="7.3" fill="#d1e5f0"/><ellipse cx="563.4" cy="91.3" rx="5.8" ry="5.8" fill="#d1e5f0"/><path d="M566.3 98.6C567.4 97 571.4 101.3 575.1 104.4C578.7 107.6 582 111.9 586.7 116.1C591.4 120.3 596.8 123.7 601.3 127.7C605.7 131.8 616.7 136.7 611.5 138.7C606.2 140.6 578.7 141.1 572.1 138.7C565.6 136.2 575.6 129.4 575.1 124.8C574.5 120.2 570.8 117.9 569.2 113.2C567.6 108.4 565.3 100.2 566.3 98.6Z" fill="#d1e5f0"/><ellipse cx="629" cy="107.3" rx="4.4" ry="4.4" fill="#d1e5f0"/><ellipse cx="608.6" cy="107.3" rx="1.7" ry="1.7" fill="#fddbc7"/><ellipse cx="197.3" cy="23.6" rx="10.9" ry="5.5" fill="#f4a582" transform="rotate(-35 197.3 23.6)"/><path d="M15.2 138.7C8.4 137.7 19.2 134.3 23.9 133.6C28.6 132.8 34.9 134 41.4 134.3C48 134.5 56.7 134.2 60.3 135C64 135.8 69.9 138 61.8 138.7C53.7 139.3 22 139.6 15.2 138.7Z" fill="#f4a582"/><ellipse cx="410.2" cy="2.7" rx="5.8" ry="2.9" fill="#f4a582"/><ellipse cx="338.8" cy="135.7" rx="5.8" ry="4.4" fill="#92c5de"/><ellipse cx="392.7" cy="134.3" rx="10.2" ry="8" fill="#f4a582"/><path d="M531.3 1.7C535.8 0 553.6 0 557.6 1.7C561.5 3.4 555.8 7.6 553.2 11.2C550.6 14.7 546.4 19.3 543 21.4C539.6 23.5 536.1 24.7 534.3 22.8C532.4 21 533.3 15 532.8 11.2C532.3 7.4 526.9 3.4 531.3 1.7Z" fill="#f4a582"/><ellipse cx="502.2" cy="108.8" rx="4.4" ry="8" fill="#92c5de" transform="rotate(-20 502.2 108.8)"/><path d="M446.8 138.7C443.2 136.7 446.5 130 448.3 127.7C450.1 125.5 453.9 125.2 457 126.3C460.2 127.3 463.7 131.3 465.8 133.6C467.9 135.8 472.1 137.7 468.7 138.7C465.3 139.6 450.5 140.6 446.8 138.7Z" fill="#92c5de"/><ellipse cx="522.6" cy="101.5" rx="1.7" ry="2.9" fill="#f4a582"/><path d="M578 120.4C579.8 117.7 583.3 121.3 586.7 123.4C590.1 125.5 594.3 129.3 596.9 132.1C599.5 134.9 604.9 137.5 601.3 138.7C597.6 139.8 580.7 141.9 576.5 138.7C572.3 135.4 576.1 123.2 578 120.4Z" fill="#92c5de"/><ellipse cx="541.5" cy="5.6" rx="4.4" ry="6.1" fill="#d6604d"/><ellipse cx="502.2" cy="108.8" rx="1.7" ry="3.6" fill="#4393c3" transform="rotate(-20 502.2 108.8)"/><ellipse cx="456.3" cy="134.7" rx="3.6" ry="3.6" fill="#4393c3"/><ellipse cx="585.2" cy="135" rx="5.1" ry="4.4" fill="#4393c3"/>
<path d="M-10.4 7.4l1.1 -0.2l1.4 1.2l2.6 -0.1l1.4 0.3l2.1 -1l1.8 -0.4l2.6 -1l2.7 -0.6l3.5 0l3.5 -0.3l2.8 0.2l2.1 -0.8l0.9 0.6l1.2 0l-0.7 1l-0.1 1.4l0.8 0.7l-1.4 1.6l1.3 1.1l1 0.9l1.8 0.5l1.2 0l3.5 0.9l0.6 1.5l2.6 0.9l3.5 1.3l1.8 -1.3l0 -2.3l2.6 -1l2.7 0.5l3.5 1.6l3.5 0.7l3.5 0.7l1.8 -0.9l1.7 -0.2l2.3 0.4l0.4 2.5l0.3 1.5l1.4 1.8l0.9 1.8l0.9 1.7l0.9 1.8l0.8 1.7l0.2 1.8l2.3 1.8l0.5 1.7l0 2.5l1.4 1.9l1.1 0.9l1.2 3.5l0.4 0.7l1.7 1.1l1.3 0.8l2.2 2.3l1.3 1.3l0.2 1.5l-0.6 0.2l1.8 1.8l1.7 0.2l1.8 -0.6l2.6 -0.7l2.7 -0.3l2.6 -1.1l1.2 0l-0.3 2.5l-0.9 2.6l-1.2 1.8l-1.4 2.6l-1.8 3.5l-1.7 2.7l-1.8 1.4l-1.2 0.3l-2.3 1.8l-2.7 2.3l-1.7 2.4l-1.8 1.4l-0.9 1.8l-0.7 1.1l-1 2.4l-0.4 1.8l0.9 0.5l0.4 2.1l0.1 2.7l1.5 1.7l0.1 2.7l0.2 3.5l0.2 1.7l-1.6 2.3l-3.2 1.8l-1.7 1l-1.3 1.6l-1.7 1.6l-0.9 0.2l-0.2 1.2l1.1 1.8l0.3 2.6l-0.1 1.8l-3.4 2.1l-1.6 1.2l0.6 1.6l-0.4 2.1l-1.2 1.8l-1.8 1.5l-1.4 2l-2.1 2.3l-1.8 1.2l-2.6 1.4l-1.6 0.3l-2.8 0.2l-3.5 0.2l-3.5 1.1l-2.1 -0.9l-0.7 -0.6l-0.4 -2.1l0.2 -1.7l-1.8 -2.3l-1.4 -3.3l-1.7 -2l-0.9 -1.7l-0.4 -2.7l-0.5 -3.9l-1.8 -3.1l-1.7 -3.5l-1.2 -2.7l0 -2.6l0.7 -1.8l0.5 -2.6l1.7 -2.1l0.6 -2.3l-0.7 -2.6l-0.4 -1.3l-0.7 -2.3l-0.9 -2.6l-0.1 -1.8l-0.7 -0.8l-1.5 -1.3l-2.1 -2.3l-1.4 -2.2l-0.3 -0.9l1.2 -2l0.2 -1l0.3 -2.3l0 -2.1l-0.5 -0.9l-1 -0.9l-1.1 0l-2.3 0.4l-1.7 0l-1.3 -1.6l-1.4 -1.8l-1.9 -0.3l-1.8 0.2l-2.1 0.3l-2.1 0.7l-1.8 1.1l-1.7 0.5l-1.8 -0.5l-1.7 -0.2l-2.7 0.2l-3.5 1.2l-2.6 -1.4l-3.2 -1.9l-1.2 -1.1l-1.8 -1l-1.2 -1.8l-0.2 -1.4l-0.7 -0.4l-1.4 -1.7l-0.9 -0.9l-1.7 -1.4l-1.3 -1.1l-0.1 -1.4l0.3 -0.5l-0.9 -1.6l-0.7 -0.5l0.7 -0.5l1.1 -1.8l0.3 -1.7l0.6 -1.8l-0.4 -2.3l-0.5 -0.3l0.3 -1.8l-1.2 -0.9l0 -1.4l1.2 -2.1l0.7 -1.4l1.6 -1.6l0.4 -1.4l0.7 -1.2l1.6 -1.4l0.8 -1.4l2.7 -0.9l2.3 -1.6l0.8 -1.6l-0.1 -2.3l0.8 -1.9l1.5 -1.4l1.5 -0.5l1.4 -0.7l0.9 -1.8l0.7 -1.4M622.8 7.4l1 -0.2l1.4 1.2l2.7 -0.1l1.4 0.3l2.1 -1l1.7 -0.4l2.7 -1l2.6 -0.6l3.5 0l3.6 -0.3l2.8 0.2l2.1 -0.8l0.9 0.6l1.2 0l-0.7 1l-0.2 1.4l0.9 0.7l-1.4 1.6l1.2 1.1l1.1 0.9l1.7 0.5l1.3 0l3.5 0.9l0.5 1.5l2.6 0.9l3.6 1.3l1.7 -1.3l0 -2.3l2.7 -1l2.6 0.5l3.5 1.6l3.5 0.7l3.6 0.7l1.7 -0.9l1.8 -0.2l2.3 0.4l0.3 2.5l0.4 1.5l1.4 1.8l0.8 1.8l0.9 1.7l0.9 1.8l0.9 1.7l0.2 1.8l2.2 1.8l0.6 1.7l0 2.5l1.4 1.9l1 0.9l1.3 3.5l0.3 0.7l1.8 1.1l1.2 0.8l2.3 2.3l1.2 1.3l0.2 1.5l-0.5 0.2l1.7 1.8l1.8 0.2l1.8 -0.6l2.6 -0.7l2.6 -0.3l2.7 -1.1l1.2 0l-0.4 2.5l-0.8 2.6l-1.3 1.8l-1.4 2.6l-1.7 3.5l-1.8 2.7l-1.7 1.4l-1.3 0.3l-2.3 1.8l-2.6 2.3l-1.8 2.4l-1.7 1.4l-0.9 1.8l-0.7 1.1l-1.1 2.4l-0.3 1.8l0.9 0.5l0.3 2.1l0.2 2.7l1.4 1.7l0.2 2.7l0.2 3.5l0.1 1.7l-1.6 2.3l-3.1 1.8l-1.8 1l-1.2 1.6l-1.8 1.6l-0.8 0.2l-0.2 1.2l1 1.8l0.4 2.6l-0.2 1.8l-3.3 2.1l-1.6 1.2l0.5 1.6l-0.3 2.1l-1.3 1.8l-1.7 1.5l-1.4 2l-2.1 2.3l-1.8 1.2l-2.6 1.4l-1.6 0.3l-2.8 0.2l-3.6 0.2l-3.5 1.1l-2.1 -0.9l-0.7 -0.6l-0.3 -2.1l0.1 -1.7l-1.7 -2.3l-1.4 -3.3l-1.8 -2l-0.9 -1.7l-0.3 -2.7l-0.5 -3.9l-1.8 -3.1l-1.8 -3.5l-1.2 -2.7l0 -2.6l0.7 -1.8l0.5 -2.6l1.8 -2.1l0.5 -2.3l-0.7 -2.6l-0.3 -1.3l-0.7 -2.3l-0.9 -2.6l-0.2 -1.8l-0.7 -0.8l-1.4 -1.3l-2.1 -2.3l-1.4 -2.2l-0.4 -0.9l1.3 -2l0.1 -1l0.4 -2.3l0 -2.1l-0.5 -0.9l-1.1 -0.9l-1.1 0l-2.2 0.4l-1.8 0l-1.2 -1.6l-1.4 -1.8l-2 -0.3l-1.7 0.2l-2.1 0.3l-2.2 0.7l-1.7 1.1l-1.8 0.5l-1.7 -0.5l-1.8 -0.2l-2.6 0.2l-3.5 1.2l-2.7 -1.4l-3.1 -1.9l-1.3 -1.1l-1.7 -1l-1.3 -1.8l-0.1 -1.4l-0.7 -0.4l-1.5 -1.7l-0.8 -0.9l-1.8 -1.4l-1.2 -1.1l-0.2 -1.4l0.4 -0.5l-0.9 -1.6l-0.7 -0.5l0.7 -0.5l1 -1.8l0.4 -1.7l0.5 -1.8l-0.3 -2.3l-0.6 -0.3l0.4 -1.8l-1.2 -0.9l0 -1.4l1.2 -2.1l0.7 -1.4l1.6 -1.6l0.3 -1.4l0.7 -1.2l1.6 -1.4l0.9 -1.4l2.6 -0.9l2.3 -1.6l0.9 -1.6l-0.2 -2.3l0.9 -1.9l1.4 -1.4l1.6 -0.5l1.4 -0.7l0.9 -1.8l0.7 -1.4M86.7 91.5l1.2 2.6l0.9 3.2l-1.2 0.3l-0.2 2.3l-0.5 2.1l-1.1 3.5l-1.4 4.4l-1.4 4.1l-1.2 0.7l-2.3 0.5l-2.1 -0.9l-0.7 -2.6l-0.5 -2.7l1.7 -2.6l0.2 -1.8l-0.7 -2.6l0.7 -3l2.8 -1l1.8 -0.9l1.5 -1.6l1.5 -1.8l1 -2.2M-15.5 -2.6l-0.2 2.6l-0.8 1.2l-0.2 1.1l1.2 0.5l0 0.9l-0.3 1.6l1.7 0l1.1 -0.4l1.7 0.7l0.7 1.1l0.8 0.3l0.5 -0.3l1.6 -0.9l2.4 0l1.4 -0.2l0.9 -0.9l1.6 -0.5l0.5 -1.2l1.3 -0.9l-0.9 -1.2l0.9 -1.3l1.2 -1l1 -0.7l2.7 -1.1M617.7 -2.6l-0.2 2.6l-0.9 1.2l-0.2 1.1l1.3 0.5l0 0.9l-0.4 1.6l1.8 0l1 -0.4l1.8 0.7l0.7 1.1l0.7 0.3l0.5 -0.3l1.6 -0.9l2.5 0l1.4 -0.2l0.9 -0.9l1.5 -0.5l0.6 -1.2l1.2 -0.9l-0.9 -1.2l0.9 -1.3l1.2 -1l1.1 -0.7l2.6 -1.1M4.2 0.7l1.3 -0.6l0.5 0.4l-0.5 0.7l-0.8 -0.3l-0.5 -0.2M2.1 1.9l0.5 -0.3l0.2 0.3l-0.7 0M14.4 -1.8l0.4 1.3l0 1.9l1 0.4l0.9 -0.4l0.4 -1.4l0 -1.4l-0.7 -0.7l-2 0.3M21.8 3.5l1.6 -0.3l4 -0.2l-0.8 1.4l0.3 1.4l-1.7 -0.3l-3.2 -1.3l-0.2 -0.7M21.6 -3.2l2.7 1.1l0.9 0.7l1.2 1l1.2 0.4l0.7 1.8l-0.7 1.7l0.7 0.2l0.9 -1.1l0.9 -0.8l-1.1 -1.3l0.7 -1.2l2 0.7l0.8 -0.2l-0.8 -0.9l-1.8 -0.7l-1.8 -0.8l0 -0.9M34.1 -3.3l0 0.8l-0.2 1.6l1.3 1.4l1.2 1.4l0.9 1.1l0.9 0.2l-0.7 0.8l0.7 1.6l1.2 0.6l0.7 -0.4l0.5 0.4l0.2 -1.5l-0.7 -0.3l1.2 0l0.9 -0.4l0 -0.8l-1.2 -0.7l-0.7 -1.3l-0.6 -1.2l0.6 -0.9l1 0.5l0.9 0.4l0.7 -1.2l1.1 -0.6l1.7 0.6l0.4 0.7l0 1.4l1 0.9l-0.8 1.2l1.5 1.4l0.4 0.9l1.4 0.5l1.6 0.4l2.4 0.3l0.4 -1l2.3 0.7l2.6 0.7l2 -1.3l1.7 0.4l1.1 -0.2l-0.6 1.2l-0.1 0.9l0.1 1.8l-0.7 1l-0.7 1.4l-0.3 1.1l-0.4 0.9l-0.9 1.2l-1.2 0.4l-2.1 -0.4M46.1 -0.5l1.4 -0.4l1.7 0.2l1.8 0l1.6 -0.5l-1.6 -0.6l-1.8 0l-1.2 0.6l-1 0.3M40.8 1.9l1.4 0.6l0.9 1l-0.9 -0.3l-1 -0.7l-0.4 -0.6M41.3 7.9l1.3 0.2l1.4 0l2.3 0.2l-0.2 0.5l-2.5 0.2l-2.1 -0.6l-0.2 -0.5M48.9 6.7l0.7 -0.4l-0.2 0.7l-0.5 -0.3M45.6 1.4l1 -0.3l0 0.7l-1 -0.4M56.8 8.8l1.2 0.7l1.8 -0.7l1.1 -1.2l-1.6 0.5l-1.4 0.2l-1.1 0.5M57.2 17.8l1.2 2.4l1.7 1.4l0.6 -1.4l0.7 -1.7l0.2 2.4l0.8 1.1l1.8 2.6l1.2 2.1l1.4 1.4l1.8 3.6l0.2 0.8l1.5 2.3l1.8 2.1l0.9 1.8l1.7 2.1l0.6 2.3l0.7 2.6l0.2 1.4l0.3 0.9l2.6 -0.2l2.7 -1l2.6 -1.1l2.7 -1.2l2.6 -0.9l2.1 -0.7l0 -1.4l2.3 -0.5l1.8 -0.5l1.4 -0.9l2.1 -0.9l0.8 -1.8l1.5 0l-0.2 -2.1l1.4 -0.5l0.7 -1.6l1.6 -1.9l-1.4 -1.3l-0.9 -0.7l-2.1 -0.7l-1.4 -1.4l-0.2 -2.4l-0.5 0.3l-0.2 0.6l-1.2 0.7l-1.6 1.5l-2.5 0.6l-2.1 0.1l-0.5 -1l0.2 -2.1l-0.8 -0.6l-0.7 1.1l-0.1 1.2l-0.9 -1.4l0 -1.6l-1.2 -1.2l-1.3 -0.9l-0.5 -1.4l-0.9 -1.4l-0.3 -1l1.2 -0.2l0.9 -0.7l1.7 0.3l1.4 2.1l1.3 2l1.9 0.9l1.6 1.2l2.1 0.3l1.6 -0.5l1.2 -0.5l1.2 0.5l0.6 1.8l1.2 0.3l2.6 0.4l2.7 0.3l1 0l2.5 0l2.6 -0.1l2.7 -0.2l1 0.7l0.7 0.3l0.9 1.6l1.2 0.5l1.1 0.7l2.1 0.6l-1.7 0.9l0 0.3l1.7 2.1l1.8 0.5l1.7 -0.7l0.4 -1.2l0.7 -0.9l0.3 1.4l0 0.9l0 3.5l0.7 2.7l0.6 2.6l0.5 1.1l1.1 2.4l0.7 2l1.4 2.4l1 2.7l0.5 1.7l0.9 1.3l0.9 0.3l1.2 -1.2l1.4 -0.9l0.6 -1.8l1 0l-0.2 -2.1l0.9 -2.8l-0.3 -2.5l0.2 -1.7l1.4 -0.9l2.2 -1l1.8 -2l2.6 -2.3l1.3 -1.2l1.7 -0.9l0.9 -1.4l0 -0.9l1.8 -0.3l1.7 -0.2l2.3 -0.3l0.9 -0.9l1.2 -0.4l0.6 0.7l0.7 2.3l0.1 0.5l1.1 1.3l1.4 1.2l1.1 1.4l0.3 1.8l-0.5 2.6l1.7 0.4l1.4 -0.9l1.4 -0.9l0.8 0l0.7 0.9l0.1 2.3l0.7 1.7l0.7 1.8l0.2 1.7l0.2 2.7l-0.4 1.2l-0.5 2.3l0.2 1.1l1.2 1.2l1.2 0.7l0.9 1l0.4 1.5l0.5 1.9l1.1 2.3l0.1 0.5l1.4 0.9l2.2 1.4l0.3 0.2l1.1 -0.2l0 -1.1l-1.3 -1.4l-0.1 -1.7l0 -1.3l-0.7 -1.7l-1.3 -1.3l-1 -1l-1.4 -0.4l-0.7 -0.5l-0.7 -2.1l-0.4 -1.4l-1.1 -0.4l-0.1 -1.7l0.8 -2.1l0.6 -1.4l0 -1.4l0.9 -0.4l0.8 0.4l0 1.2l1.8 0.5l1.2 0.9l0.6 1.1l1 1.2l1.6 0.2l0.9 0.7l-0.4 2.2l1.2 -0.5l1.8 -1l0.5 -1.3l0.7 -0.1l1.4 -0.6l1.8 -1.2l0.5 -1.4l0 -1.4l-0.1 -1.4l-0.6 -2.5l-1 -1.6l-1.4 -1l-1.6 -1.6l-0.5 -1.1l-1.1 -1.2l0.4 -1.6l1.2 -1l0.7 -0.9l1.7 -1.1l1.1 -0.3l1.1 0.3l0.8 0.2l0.2 1.8l0.7 0.1l0.5 -1.4l0.9 -0.7l1.8 -0.5l1.7 -0.3l1.1 -0.6l1 0l1.5 -0.7l2.6 -0.5l0.9 -1.1l1.7 -1.5l1.8 -1.4l1 -1.3l0.8 -1.7l1.4 -1.8l1.4 -1.8l0.7 -1.4l-1.3 -0.8l1.1 -1.1l0 -1.1l-1.6 -1.4l-0.3 -1.2l-0.9 -2.1l-2 -1.4l1.1 -1.1l0.9 -0.7l1.2 -1l2.6 -0.5l0.2 -0.9l-1.9 -0.2l-1.4 -0.5l-1.6 0.8l-1.4 0l-0.2 -1.2l-1.6 -0.5l-0.5 -0.9l0.2 -0.7l1.2 0.2l1.4 -0.7l0.9 -0.9l2.1 -1.4l1.4 -0.2l0.7 0.7l-1.2 1.6l-0.5 1.4l1.4 -0.5l1.7 -1.1l2.3 -0.3l1.2 0.5l0.6 1.1l-0.2 0.8l-0.7 0.9l1.2 0.5l1.8 0l0.5 1.3l-0.9 0.9l0.4 0.8l0.2 0.9l-0.6 1.2l0.6 0.9l1.5 -0.7l1.8 -0.3l1.1 -0.4l0.5 -1.6l0 -1.7l-0.7 -1.3l-0.7 -1l-1.1 -1.2l-0.9 -0.6l0 -0.8l1.4 -0.8l2.5 -1l0.2 -1.2l1.2 -1.4M87.1 -3.2l-0.2 2.7l1.6 -0.2l-1.4 0.7l-0.9 1.2l-0.2 1.6l1.1 1.6l1.7 0.9l1.8 0.7l2.6 -0.4l1.8 -0.1l-0.2 -1.1l0 -2.5l-1.2 -0.7l0.7 -1.2l-1.4 -0.9l0.3 -0.9l1.8 -0.8l-1.8 -0.9M140.5 53.1l1.6 1.4l0.9 0.9l1 2.1l-0.3 1.4l-1.9 1.1l-1.1 -0.6l-0.4 -1.4l0 -1.7l0.4 -1.8l-0.2 -1.4M191.2 36.4l1.4 -1.2l1.9 -0.2l0.7 0.9l-0.9 1.4l-1.5 1l-1.6 -0.7l0 -1.2M213.7 25.9l0.9 0.5l-0.7 1.7l-0.4 1.8l-0.9 1.8l-1 -1.1l-0.4 -1.2l0.7 -1.8l0.9 -1.2l0.9 -0.5M246.8 -2.1l1.9 -0.4l0.2 0.7l0.7 1.8l0.1 0.9l-0.8 2.1l-0.9 0.9l0 1.6l-0.7 1l0.5 1.1l-1 0.8l-0.9 0.4l0 -1.1l-0.4 0.7l-0.9 0.2l-0.3 0.9l-0.7 -0.7l-0.5 0.7l-2.2 0l-0.1 -0.7l0 1.2l-1.1 0.6l-0.9 0.8l-1.2 -0.7l0.2 -0.7l0.3 -0.7l-1.5 0l-1.8 0.5l-1.9 0.2l-1.6 0.6l-0.9 0l0 -0.8l1.2 -0.5l1.8 -1.2l1 -0.4l1.8 0l1.8 -0.1l1.2 0l0.2 -1.1l1 -0.9l0.5 -1.2l0.6 0l-0.6 1.2l1.8 -0.5l1.4 -1.2l1.1 -0.9l0.7 -1.2l0.3 -1.4l-0.2 -1.3l0.8 -1.2M233 10.9l0.9 -0.3l1.8 -0.8l1.2 0.6l0 0.5l-0.9 0.9l-1.2 -0.4l-0.9 1.3l-0.9 -0.4l-0.3 -0.9l0.3 -0.5M230.2 10.7l1.4 0.6l0.4 0.7l-0.2 1.2l-0.7 1.7l-0.7 0.6l-0.5 0.3l-0.9 -0.5l0 -1.6l0.5 -0.9l-1.2 0l-0.2 -1l1.1 -0.5l1 -0.6M224.6 24.4l0.9 -1.2l-0.6 0.5l-0.3 0.7M227.4 20.8l0.7 -0.6l-0.5 0.6M222 11.8l1.2 -0.4l-0.5 0.6l-0.7 -0.2M212.1 37.8l2.8 0l0 2.7l-1 1.7l0 1.8l0.1 1.2l1.4 0.2l1.5 0.5l1.2 1.6l0.2 0.7l-1.4 -0.7l-1.3 -0.5l-1 -0.9l-1.3 0.3l-1.2 -0.7l0.5 -1l-1 -0.4l-0.5 -1.2l-0.4 -1.4l0.9 -0.5l0.2 -1.6l0.3 -1.8M220.7 53.1l1.4 2.3l0.4 2.1l-0.7 1.8l-0.7 -1.1l-0.6 1.6l-0.5 0.3l-1.6 -0.7l-0.3 -1.4l-1.1 -0.8l-1 0.1l-1.3 0.9l-0.1 -1.2l1.4 -1.2l1 -0.6l0.7 0.9l0.9 -0.7l0.9 -0.7l0.7 -0.4l0.5 -1.2M218.6 48.4l1.8 0l0.7 2.3l-1.3 0.3l-0.3 1.4l0.7 0l-0.5 -1.2l-0.9 -0.9l0.9 -0.7l-1.1 -1.2M216.2 51l1 0.4l-0.3 1.5l-0.6 1.4l-0.9 -1l0.6 -1.1l0.2 -1.2M214.6 49.4l1.9 0.7l-0.9 1.6l-1.2 0.2l0.2 -2.5M218.1 50.7l-0.5 1.7l-0.7 1.2l0.5 -1.4l0.7 -1.5M210.2 50.3l-0.6 1.8l-1.5 2.1l-2 1.4l0.6 -0.9l1.7 -1.9l1.4 -1.8l0.4 -0.7M211.8 46.8l1.4 0l0.5 1.6l-0.7 0.5l-0.7 -1.2l-0.5 -0.9M167.6 60.5l3.9 0.7l1.4 1.6l1.2 1.2l2.3 1.6l1.2 0.9l2.1 1.6l2.2 1.2l0.7 1.6l1.2 1.6l0.7 1.9l1.9 1.6l-0.1 2.3l-0.2 2.3l-1.1 0l-1 -0.4l-0.6 -0.9l-2.2 -1.6l-1.3 -0.5l-1.7 -2.5l-1.6 -2.6l-1.3 -1.8l-1.2 -2.1l-0.5 -1l-1.8 -1.2l-1.2 -1.5l-1.4 -1.2l-1.6 -2.1l0 -0.7M185 82.3l1.4 -1.6l1.4 0.4l2.7 0.5l0.7 0.7l3 0.2l0.8 -0.9l1.1 0.5l1.9 0.4l0.4 0.7l1.2 0.7l1.6 0.2l0.2 1.6l-2.3 -0.8l-3 0l-2.6 -0.7l-2.7 -0.1l-1.7 -0.2l-2 -0.5l-2.1 -1.1M191.7 67.7l1.1 -0.9l1.2 0.6l1.6 0.3l0.3 -1.7l2.8 -1.3l1.8 -2.3l1.8 -0.8l1.7 -1.8l1.2 -1.8l1.5 0.9l0.3 1.1l1.6 0.7l1 0.5l-1.5 1.2l-1.3 0.6l0 1.2l0.7 1.8l1.6 2.6l-1.9 0.3l-0.5 2.7l-1.3 1l-0.9 1.8l0.2 2.1l-0.7 0.5l-2.4 0.4l-0.2 -1.1l-1.8 -0.1l-2.6 0.1l-0.7 -0.7l-2.5 -0.1l-0.3 -2.5l-1.4 -1.8l-0.4 -1.7l0 -1.8M210.7 68.9l1.8 -0.8l3.7 0.7l2.4 0.8l1.6 -1.9l-1.2 1.9l-2.1 0.2l-3.2 -0.3l-2.3 0.3l-0.2 2l1.6 1l2.1 -0.9l2.1 0l-1 1.1l-2 0.7l1.3 2.3l0.9 1.7l-0.8 2l-1.5 -0.9l-0.2 -1.4l-0.9 -2.3l-1.2 0.4l0.2 2.8l0 1.7l-1.6 0l0 -2.6l-1.3 -2.1l0.9 -2.7l0.9 -1.9l0 -1.8M230.4 71.8l2.6 -0.7l2.7 0.7l0.3 2.6l1.4 1.8l1.8 -1.8l2.6 -1.2l2.7 0.7l3.5 1l3.5 1.4l2.6 0.9l2.3 2.3l2.1 1.4l1.4 0.9l-1.4 0.5l1.8 2.1l1.8 1.8l1.7 2.1l1.4 0.2l-1.7 0.1l-3.2 -0.5l-1.8 -1l-1.7 -2.5l-2.7 -0.9l-1.7 1.1l-0.9 1.7l-1.8 0l-1.7 -0.1l-2.7 -1.8l-2.2 0.5l-0.4 -1.7l1.4 -1.1l-1.4 -2.3l-3.5 -1.6l-2.6 -1l-2.7 0.2l-0.3 -1.4l-1.1 -0.7l2.3 -0.8l-2.6 -0.7l-1.8 -1.2l0 -1M201.4 84.8l2.1 0.1l-0.9 0.9l-1.2 -1M204 85.1l1.2 0l-0.3 0.9l-0.9 -0.2l0 -0.7M205.4 85.3l2.1 -0.5l1.8 0.3l-0.9 0.7l-2.6 0.4l-0.4 -0.9M210.9 85.3l1.9 -0.2l3.2 -0.3l0.2 0.7l-3.4 0.5l-1.9 -0.2l0 -0.5M209.3 87.1l2.1 -0.2l1.1 1.2l-2.3 -0.3l-0.9 -0.7M217.2 88.5l1.8 -1.8l2.3 -1.2l2.4 -0.4l-1.2 1.1l-2.7 1.2l-1.7 1.1l-0.9 0M224.2 68.6l0.7 -1.9l0.2 1.5l1.3 -0.5l-0.9 1.2l1 0.9l-1.4 -0.2l0.7 2.2l-1 -1.1l-0.6 -2.1M225.1 75.6l2.7 -0.3l2.2 0.9l-1.4 0.3l-2.2 -0.2l-1.3 -0.7M221.8 76l1.6 -0.2l0.3 1.1l-1.6 0.1l-0.3 -1M261 80l2.8 0l2.7 -1l1.4 -1.3l-0.2 1.4l-2.1 1.5l-1.8 0.7l-2.4 -0.4l-0.4 -0.9M265.2 74.9l2.1 1.4l1.8 2l-0.7 -0.9l-1.9 -1.8l-1.3 -0.7M271.9 80l2.1 1.8l-0.9 0.3l-1 -1.2l-0.2 -0.9M275.2 82.1l1.8 1.3l-0.9 -0.4l-0.9 -0.9M278.8 83.7l2.2 1.4l-0.8 -0.3l-1.4 -1.1M280.7 86.7l2.1 0.9l-0.9 0l-1.2 -0.9M282.5 85.1l1.2 2.1l-0.9 -1l-0.3 -1.1M283.7 88.5l1.7 0.8l-0.8 -0.7l-0.9 -0.1M293 96.7l1.1 1.1l-0.7 -0.2l-0.4 -0.9M294.1 98.5l1 0.9l-0.7 -0.2l-0.3 -0.7M295.8 101.3l0.5 0.4l-0.3 0l-0.2 -0.4M288.4 105.7l2.7 1.6l2.6 2.3l-1 0l-2.5 -1.6l-1.8 -2.3M311.8 101.3l1.6 -0.3l0.7 1l-1.4 0.4l-0.9 -1.1M314.3 99.7l2.1 -0.9l-0.7 0.9l-1.4 0M250.6 89.2l1.8 3.1l0.2 3.2l2.9 1.2l0.4 2.7l1.2 3.8l1.4 1.1l2.7 1.6l1.4 2.3l2.4 1.7l0.4 1.8l1.9 1.9l2 1.6l0 3.2l0.8 2.3l-1 3.3l-0.4 2.3l-1.7 2.1l-1.1 1.7l-0.9 2.2l-1.2 2.2l-0.2 1.8l-3.3 0.7l-1.8 1.1l-1.2 1l-1.9 -1.2l-0.9 -0.2l-2.1 0.9l-3.5 -0.9l-2.7 -1.4l-0.5 -1.8l-0.7 -1.5l-1.4 0l0 -1.4l-0.9 -1.1l-0.3 1.6l-1.5 0.2l0.9 -2.2l0.6 -2.4l-1.1 1.6l-2.1 2.3l-0.7 0.1l-1.1 -2.1l-1.4 -1.6l-1.2 -1.2l-2.6 -0.2l-1.8 -0.8l-3.5 0.1l-2.7 1.1l-2.6 0.2l-2.6 1.2l-1.8 1.6l-2.8 0l-3.3 0l-3.6 1.9l-2.6 0l-2.5 -1.2l-0.1 -1.3l1.2 -0.5l0 -2.3l-0.7 -2.6l-0.7 -2.1l-0.5 -1.1l-0.9 -1.7l-1.1 -2.1l0.4 -0.7l-0.6 -2.9l0.7 -1.7l-0.1 -1.8l0.7 -1.2l0.9 0l1.5 -0.9l2.1 -1.2l3.4 -0.5l2.5 -0.8l2.6 -1.5l1.2 -1.8l0 -1.8l1.4 -1l1.1 1.6l0.7 -1.8l1.6 -1.7l1.6 -1.8l2.1 -0.7l1.7 1.6l0.5 0.3l2.2 -0.1l0.1 -1.6l1.1 -1.8l1 -1l1.3 -0.4l1.7 -0.2l0.2 -1.2l1.6 0.7l2.6 0.7l3 -0.3l0.4 0.5l-0.7 1.7l-1.1 0.7l0 2l-0.9 0.3l2 1.4l2.1 0.7l2.3 1.3l1 1.2l2.1 -0.2l1.1 -2.6l0.3 -2.6l0 -3l0.7 -2.3l0.9 -1.4M240.2 133.3l1.6 -0.3l1.1 0.5l-1.2 0.3l-1.5 -0.5M229 90.4l1.9 -0.2l0.2 0.6l-1.6 0.3l-0.5 -0.7M239.9 94.6l0.9 0l-0.2 0.9l-0.7 -0.2l0 -0.7M254.3 141.9l3.4 0.7l2.9 -0.5l0.2 2.1M303.7 130.9l1.1 1l1.8 1.2l0.8 2l1.3 -0.4l0.7 0.7l0.7 1.3l1.7 0.5l1.8 -0.7l0 1.6l-0.7 1.2l-1.6 0.2l-0.2 1.2l-1 1.8l-1.4 0.8l-0.9 -1.7l0 -0.9l-1.8 -0.9l-0.3 -0.5l1.4 -0.7l0.2 -1.4l0.1 -1.2l-0.8 -1.5l-1.8 -2.1l-1.1 -1.5M303.7 141.6l0.9 1.2l1.8 -0.3l0.2 1.4M359 34.8l1.4 0.7l0.5 0.6l-1.4 0.8l-0.7 -1l0.2 -1.1M357.6 33.6l0.8 0l0.4 0.3l-0.9 0.2l-0.3 -0.5M354.9 32.5l0.7 -0.1l0.2 0.5l-0.7 0l-0.2 -0.4M352.3 31.5l0.5 -0.2l0 0.5l-0.5 -0.3M356.5 33.1l0.9 0l-0.4 0.1l-0.5 -0.1M472.2 70.9l0.9 -0.6l0 1.8l-0.9 -0.3l0 -0.9M474 71.2l0.5 0.2l-0.3 0.4l-0.2 -0.6M329.2 94.1l1.1 0.2l-0.5 0.3l-0.6 -0.5M330.6 94.8l0.9 0.2l-0.7 0.1l-0.2 -0.3M370 101.1l0.7 0.4l-0.5 0.2l-0.2 -0.6M324.8 107.5l0.4 0.1l-0.4 0M414.7 -3.5l0 1.7l-0.3 1.1l1 1.6l0.5 1.2l1.8 1.8l0.2 1l0.9 1.1l1 1.6l1.2 1.9l2 0.3l1.7 0.8l2.1 1.7l0.4 0.9l0.9 1.2l1 2.3l0.9 1.8l1.8 1.7l0.5 1.3l-1.4 0l1.2 1.2l2 0.9l1.5 1.4l0.4 2.1l3.2 2.1l0.7 0.9l0.8 -0.9l-1.5 -1.6l-0.7 -1l-1.1 -2l-1.2 -1.7l-1.3 -1.8l-1.4 -1.8l-1.2 -1.7l-0.9 -1.8l-0.2 -1.4l1.5 0.5l1.7 0.9l0.9 1.8l0.9 1.7l1.7 1.8l1.3 1.4l1.5 1.6l0.4 1.2l2.1 1.3l1.8 1.9l1 1l1.3 1.3l0.7 1.7l-0.4 1.8l-0.3 0.2l1.2 1.7l1.2 0.7l1.4 1.3l2.3 0.7l2.1 1l2 0.9l2.4 0.9l2.7 0.7l1.7 0.3l1.8 -0.8l1.7 0.3l1.8 1.4l1.4 1.2l2.1 1.1l1.8 0.5l2.1 0.7l1.9 0l0.4 0.4l0.3 0.5l1.4 1.2l1.2 1.5l0 1.2l0.9 1.2l1.1 0l1.2 0.9l0.7 1.2l1.1 0.6l0.3 0.5l1.8 0l1 0.7l0.6 0.7l1 -0.4l0 -1.4l1.3 -1.2l1.2 -0.2l1 1.1l0 1.6l1.1 0.8l0.5 1.8l0 1.8l0.2 1.7l0.4 0.4l-1.6 2.1l-1.4 1.4l-1.3 1.4l-0.9 0.3l-0.7 2.3l-0.8 0.9l0.1 2.1l1.4 0.5l0.2 0.9l-0.7 0.7l-1.6 1.6l-0.1 0.7l0.3 2.3l1.9 1.4l0.9 1.6l1.6 2.3l1.6 3.5l1.1 1.8l1.4 2.9l1.9 2.9l3 1.7l2.6 1.2l1.3 1.1l1.7 1.2l0.2 3l0 3.5l-0.5 2.7l-0.2 2.6l-0.4 3.5l-1 3.6l-0.2 1.7l-0.2 3.5l0 1.8l-1 3.5l-1.4 3l-1.1 1.4l0.5 3.5l-0.8 2.7l0 1.7M522.3 144.2l-3.3 -2.1l3.3 0.4l1.5 -0.7l0.1 -2l0.2 -1l3.5 -0.2l2.7 -0.5l1.7 -0.9l1.4 -2.1l-0.9 -1.4l-0.1 -1.3l-2 -1.2l0 -1.1l1.1 0.8l2.8 0.8l2.3 0l2.5 -1.6l1.5 -1.7l0.9 -1.4l2 -2.1l1.7 -2.7l2.1 -1.7l0.4 -1.8l0 -2.6l0.5 -1.1l2.3 -1.6l1.2 -0.8l2.3 -0.9l3.2 -0.9l2.1 -0.2l1.7 -1.6l0.2 -0.8l1.1 -2.1l1 -2.3l0.9 -2.1l0.4 -3.2l0 -2.1l0.8 -3.2l1.8 -2.1l0.9 -1.4l1.7 -1.8l1.4 -1.7l0.6 -1.8l0.1 -1.6l-0.7 -2.8l-2.2 -0.7l-1.5 -0.7l-2.1 -1.7l-2.2 -1.4l-3 0l-1.8 -0.4l-2.6 -0.4l-0.6 0l-1.2 -1.7l-2.6 -0.9l-2.7 -0.5l-0.8 1.4l-1.8 -2.3l-1.4 -0.4l0.5 -1.7l-1.4 -1.8l-0.7 -3.5l-0.9 -0.9l-1 -0.7l-3 -1.6l-2.1 -0.1l-3.2 -0.2l-2.1 -1.4l-1.4 -2.1l-1.8 -0.9l-1.7 -1.8l-1.8 -0.8l-0.9 -1.1l-2.6 0.2l-1.8 0.7l-1.7 -0.9l-1.8 0.2l-2.3 0l0 -1.2l-2.6 -0.6l-0.4 -1.2l-0.5 1.2l-1.7 0.9l-0.6 0.5l0.4 2.1l-1.1 0l0.2 -2.1l0 -1.4l1.1 -1.6l-1.8 0.9l-1.8 1.1l-1.5 0l-1.3 0.5l-1 1.1l-0.4 1.5l-1 0.9l-1.1 0.9l0.2 0.9l-1.1 -1.1l-0.9 -1.2l-1.9 -0.5l-1.6 0.5l-1.6 0.7l-1.5 -0.2l-0.9 -0.3l-0.7 -0.7l-0.7 -0.7l-1.1 -1.6l-0.2 -2l0.4 -1.7l0.2 -2.3l0.3 -1.2l-1.4 -1.1l-1.7 -0.5l-1.8 0l-2.6 0.2l-1.3 0.1l-1.2 -0.3l0.5 -0.7l0.6 -1.2l0.1 -1.8l-0.1 -0.9l1 -0.3l0.4 -1.4l0.1 -1.5l1.1 -1.5l-0.7 -0.6l-2.3 0l-2.1 0.4l-1.1 0.3l-0.1 1.1l-0.4 1.2l-1.2 1.4l-0.9 0.7l-1.6 0l-2.6 0.7l-1.4 -0.7l-1.4 -0.3l-0.6 -0.7l-0.7 -1.4l-1.2 -1.4l-0.4 -1.3l-0.7 -1.4l0 -2.1l0.4 -2.6l0.7 -1.6l-0.4 -1.9l0.4 -1.4l1.4 -1.1l1.9 -1.1l0.9 -0.7l1.8 -0.5l2.3 0.2l1.7 0.5l1.8 0.2l1.9 0.2l0.4 0.1l-0.6 -1.4l0.4 -0.8l2.3 0l1.7 -0.2l1.8 0.2l1.1 1l1.7 -0.5l1.4 0.5l1.4 1.2l0.2 1.8l0.9 2.1l0.7 1.2l1 1.6l1.3 0l0.7 -1l0.1 -1.8l-1 -3l-0.7 -1.7l-0.7 -1.6l0.3 -2l0.6 -0.8l1.5 -1.3l1.8 -1.4l1.8 -0.7l1.7 -1.2l0.9 -0.2l1.8 -1l-0.7 -2.1l-0.2 -0.9l-0.7 -0.6l0.2 -1.2l-0.4 -2.1l0.7 -0.3l0 1.9l0.4 1.9l1 -1.4l0.4 -0.9l0 -0.5l-0.7 -1l1 0.7l1.1 -0.9l0.5 -1.4l0 -0.6l1.8 -0.1l1.7 -0.6l0.2 -0.5l-2.8 0.5l-0.9 0.6M483.8 31.8l1.6 -1.4l1.8 -0.5l1 -0.4l2.5 0.2l1.7 0.4l1.8 0.9l1.8 0.3l1.4 0.9l2.1 0.9l0.9 0.7l2.3 1l-1.5 0.6l-1.7 0l-3 0.1l0.9 -1.2l-1.8 -0.5l-0.5 -1.3l-1.8 -0.3l-1.7 -0.5l-1.8 -0.4l-0.9 -0.3l-1.4 -0.4l-1.2 0.7l-1.4 0.4l-1.1 0.1M487 32l0.9 0l-0.2 0.5l-0.5 0l-0.2 -0.5M502.3 38l2.5 0.3l1.2 -0.7l-0.9 -1l-1 -0.9l1.5 -0.3l1.4 0.1l2.2 0l1 0.4l1.2 0.5l1.5 1.2l-1.1 0.4l-1.6 0l-1.4 0.2l-1.2 1l-0.7 -0.9l-1.8 0.2l-1.7 0.2l-1.1 -0.7M495.4 38l2.3 0l1.4 0.7l-1.4 0.3l-2.1 -0.5l-0.2 -0.5M515 38l2.6 0.2l-0.2 0.5l-2.4 0l0 -0.7M524.3 51.5l1.6 -0.1l0 1.2l-1.6 0l0.7 -0.5l-0.7 -0.6M524.5 41.7l0.8 0l-0.5 0.5l-0.3 -0.5M525.5 44.3l0.5 0.4l-0.1 0.3l-0.4 -0.7M525 42.9l0.3 0.5l-0.1 0l-0.2 -0.5M525.7 45.7l0.3 0.4l-0.1 0.2l-0.2 -0.6M528.3 47l0.2 0.3l-0.2 0l0 -0.3M587.8 3.9l1 0l-0.5 0.1l-0.5 -0.1M602.9 12.7l0.9 0l-0.4 0.3l-0.5 -0.3M603.4 20.4l1.3 -0.2l-0.7 0.9l-0.6 -0.7M605.4 21.1l0.7 -0.2l-0.2 0.6l-0.5 -0.4M607.8 20.9l0.9 -1l0.7 -0.9l-0.7 1.8l-0.9 0.1M591.5 43.6l0.3 0.5l-0.3 -0.1l0 -0.4M588.7 40.3l0.5 0l-0.4 0.3l-0.1 -0.3M93.9 48.2l1.8 0l-0.6 0.5l-1.2 -0.5M97.3 107.3l0.8 0.2l-0.3 0.5l-0.5 -0.7M101 105.7l0.7 0.2l-0.6 0.5l-0.1 -0.7M76.2 90.6l0.3 0.7l-0.3 0l0 -0.7M68.9 80.6l0.6 0.7l-0.4 0.3l-0.2 -1M163.2 46.6l0.4 1.8l-0.6 1.5l-0.1 -1.5l0.3 -1.8M164.8 57.7l0.3 0.5l-0.3 0.2l0 -0.7M14.9 63.8l0.8 0.2l-0.4 0.5l-0.4 -0.7M173.6 72.1l0.9 1.1l-0.6 0.1l-0.3 -1.2M171 67.9l1 1l-0.5 0.2l-0.5 -1.2M185.2 73.3l1.4 -0.1l0.9 2.1l-1.2 -0.4l-1.1 -1.6M189.2 74.9l1.1 0.2l-0.4 0.9l-0.7 -1.1M51.5 76.3l0.7 1.4l0.2 2l0.7 2.1l0.9 1.9l0.7 1.8l-0.9 -0.2l-1.2 -1.9l-1.1 -2.5l-0.3 -2.6l0.3 -2M59.6 87.1l1.1 1.7l0.7 1.8l-0.2 1.7l0.5 2l0.2 1.2l-0.5 0.2l-0.7 -1.3l-0.6 -1.7l0 -2.1l-0.3 -1.8l-0.2 -1.7M55.9 72.1l0.4 -1.9l1.7 -0.6l1.8 0.6l0.2 1.6l-0.2 1.2l-0.7 1.4l-1.4 0.5l-1.6 0l-0.3 -1.4l0.1 -1.4M53.5 68.4l1 -1.4l0.7 -0.7l-0.3 1.1l-0.9 1l-0.5 0M51.7 70.7l0.7 0.2l-0.3 0.7l-0.4 -0.9M50.8 73.3l0.7 0.2l-0.1 1.1l-0.6 -0.2l0 -1.1M510 97.4l1.3 0.4l0.8 1.4l-1.2 -0.7l-0.9 -1.1M482.1 49.4l1.6 0.5l0.3 0.9l-1.4 -0.3l-0.5 -1.1M495.3 26.2l0.8 0l0.6 1.4l0 0.9l-0.9 -0.7l-0.5 -1.6M496.3 23l1.1 0.4l0.5 0.9l-0.7 0.5l-0.2 -0.9l-0.7 -0.9M494.2 23.4l1.4 -0.2l0.7 0.2l-0.9 0.3l-1.2 -0.3M498.1 25.5l0.9 0.4l0.3 1l-0.5 -0.5l-0.7 -0.9M499.8 26.9l0.7 0.7l0.2 0.4l-0.5 -0.2l-0.4 -0.9M499 28.1l0.8 0.7l0.6 0.4l-0.7 -0.2l-0.7 -0.9M500.5 28.7l0.7 0.8l0.4 0.8l-0.5 -0.6l-0.6 -1M502.3 30.3l0.9 0.1l0 0.9l-0.7 0l0.2 -0.7l-0.4 -0.3M504.4 31l0.9 0l-0.5 0.1l-0.4 -0.1M503.5 33.1l1.1 -0.2l0.2 0.5l-1.1 0.2l-0.2 -0.5M505.8 32l1.4 -0.2l0.2 0.6l-1.4 0l-0.2 -0.4M496.7 26.2l0.7 0l-0.4 0.2l-0.3 -0.2M490 36.2l0.5 0l-0.3 0.2l-0.2 -0.2M489.3 27.1l1 -0.2l1.1 -0.5l0.3 -0.4M629.3 8.6l0.9 2.8l0.8 2.3l-3.1 1.2l-1.4 1.3l-3 1.7l-2.7 0.6l-3 1.4l0 2.4M609.9 21.7l7.9 0M617.8 22.3l0 2.3l-5.8 0l0 4.4l-1.7 0.9l0 3l-7 0M617.8 22.3l6.9 4.1M624.7 26.4l-3 0l1.8 14.9l0.3 1.8l-7 0l-2.5 0.2l-1.4 -0.4l-1.2 1.4M15.1 5.5l-0.5 0.7l-0.2 2.6l-1.2 1.8l0 1.4l1.4 1.2l1.2 0.9l0.9 3.1M20.2 12l0 1.2l-2.1 1.2l-0.2 1.8l-1.2 1M16.7 17.2l0.7 2.1l-0.2 3.6l0.4 0.8l-1.1 0.6l1.1 2.4l2.6 1.1l0.9 1.2M21.1 29l-7.9 4.8l-3 2.3l-2.8 0.7M7.4 36.8l-1.9 0l0.1 -1.3l-2.4 -0.9l-1.1 -1.4l-10.5 -6.8M640.5 36.8l-1.9 0l0.2 -1.3l-2.5 -0.9l-1 -1.4l-10.6 -6.8M44.3 14.8l-0.5 1.9l0.2 2.3l0 12.7l0 3.5l-1.8 0l0 0.9M44 31.7l20.9 0M42.2 36.1l-15.8 -6.2l-1.4 0.7l-3.9 -1.6M42.2 36.1l0 6.6l-1.7 0.2l-0.2 1.1l-1.1 1.2l0.4 1.4l-1.3 1.4l2 2.3l0 0.9M26.4 29.9l1.6 4.6l-0.7 6.1l-3.6 4.4l0 1.3M23.7 46.3l1.3 1.4l1.4 1.4l0.2 2.3l0.7 1.5l-2.7 0l-0.2 0.6l2.9 3.7M27.3 57.2l1.7 -0.4l2.1 -0.3l1.6 -0.4l0.7 -1.6l2.5 -0.2l2.3 -2.6l2.1 -0.5M40.3 51.2l1.4 1.7l-0.4 1.8l1.3 0.7l1.7 1.6l2.1 1.7l1.8 2.7M67.9 38.7l-2.8 1.8l-0.9 3.5l-0.2 1M64 45l-0.5 3l-1.9 2.1l-1.3 1.6l-0.2 1.9l-0.5 1.8l-1.6 0.9l1.8 1.4l2.3 3.2l1 1.4l-2.6 0.5l-0.7 0.2M59.8 63l-0.9 0.7l-2.6 0.3l-1.8 -0.3l-0.3 0.5l-1.4 -1.6l-1.8 0l-1.8 0.2l-1 -1.4M64 45l2.7 -0.7l1.9 0.4l2.1 0.3l2.3 2l1.6 1.4M75.8 48l-1.2 0.4l-1.1 1.7l0 0.9l2 0l0.5 -0.9M75.5 51l0.1 1.8l1.8 1.7l5.3 1.8l1.7 0l-5.3 5.3l-2.6 0.3l-2.6 1.2l-0.2 0.4M73.7 63.5l-1.6 1.9l0 4.9l0 1.6l1.1 1.4M73.7 63.5l-1.9 -0.5l-1.8 0.5l-3 0.5l-2.1 -1.4l-1.8 -0.3M59.8 63l0.9 1.2l0.9 3l-0.9 1.4l-0.9 1.4l-0.2 2.1M59.6 72.1l6.7 3.7l0 0.7l2.6 2.1M54.2 64.2l0.8 2.3l-1.4 1.7l-1 1.3l-0.5 1.7l0 1.6M52.1 72.8l1.5 -0.7l6 0M53.6 72.1l0.6 2.3l-0.6 0.2l0.6 1.6l-0.7 1.2l-1.8 0.9M52.1 72.8l-1.1 2.3l0.4 1.4l0.3 1.8M51 75.1l2.6 -0.5M51.7 78.3l0.4 2.6l1.9 3.9l3.9 2.1l1.9 0.2l0.9 0.8l0.2 2.9l2.4 0.1l2.7 0l1.7 -0.5l3.4 -1.6M57.9 86.9l0.7 2.4l-0.2 3l-0.9 2l0.9 0.7l2.3 0.9l-0.4 2.1l1.8 2.4l0.9 -1.9l0 -2.1l-1.6 -2.3l-0.5 -3.3M58.4 95l-5.3 1.7l0.4 1.1l4.4 1.9l0 3.2l-0.4 1.7l-0.3 3.2l-2.2 1.9l1.3 3.7l-0.2 2.5l0.4 1.6l1.4 0.2M56.1 115.9l-1.6 -0.4l-0.3 2l0.8 0.9l1.5 -0.9M47.5 122.4l1.7 -1.6l1.8 0.4l0.7 1.2l-1.6 1.8l-1.9 -0.6l-0.7 -1.2M55 109.7l-3.3 -0.3l-2.5 1l-1.7 1.5l-0.2 1.2l-1.7 0.9l-0.6 1.4l-1.6 0.3l-2.9 -0.9l-0.8 1.5l-1.5 1.2l-1.8 0l0 -2.3l-1.2 -1.2M35.2 114l0 6.3l-1.8 0.9l-1.7 -0.2l-1.1 -0.2l-1.6 -0.1M35.2 114l0 -5l1.7 0l0 -6.5l4.4 -0.5l1.6 -0.2l1.6 -0.1l-2.3 -0.6l-1 0.2M20.8 100.8l2.1 -0.6l1.7 0.8l7.8 0l5.2 0.8l3.6 -0.5M44.5 101.7l1.2 2.1l2.3 2.6l1.2 1.9l2.5 1.1M44.5 101.7l3 0.3l3.3 -3.5l2.7 -0.7M41.2 101.3l-2.5 -2.5l0 -5.6l3.5 0l0 -3.7M42.2 89.5l-1.7 0.4l-1.5 0.1l-0.3 -2.1l-0.4 -3.5l0 -1.2l-2.2 -0.2l-1.8 1.2l-0.9 0.2l-2.1 0.2l-2.1 -3.9l-5.6 0l-2.1 0.2M21.5 80.4l1.4 -2M42.2 89.5l2.3 1.3l1.2 0.5l2.1 -0.5l2.1 1.5l1.1 1.6l1.4 0l0 -2.1l-1.4 0.4l-1.1 -0.9l0.4 -2.5l0 -2.1l0.5 -1.4l3.2 -0.5M21.1 79.1l1.8 -0.7l2.4 0.4l1.6 -0.9l1.6 -3.7l2.6 -3l0.6 -1.7l0.1 -3.2l0.9 -2.1M32.7 64.2l0 -1.6l1.6 -1.2l2.6 1.2l2.7 0.5l1.7 -1l2.7 -0.5l4.2 -0.2M19.5 77.2l1.3 -0.7l1.2 -2.1l2.3 0.2l1 -0.9l0.2 -2.3l-1.1 -1.1l1.1 -1.7l-2.1 -0.5l-0.2 -1.6M17.2 68.6l2.7 0l0 -2.1l-2.7 -0.2M19.9 66.5l3.3 0l2.3 0l2.6 0.9l0.4 -0.9l-2.1 -2.3l-0.7 -2.6l-0.2 -1.8l1.8 -2.6M28.5 66.5l0.7 -2.3l3.5 0M15.1 61.9l0.7 -1.8l2.1 -1.9l2 0.5l0.9 -0.7l0.7 -2.4l1.7 -2.1l1.1 -2.5l1.4 -0.9l-0.7 -1.6l0 -0.8M23.7 46.3l-1.7 1l-3.2 -0.5l-1.9 1l-1.6 -0.3l-1.6 -0.5l-1.6 0.5l-2.4 -1.6l-2.5 0.7l-0.9 3.2M6.3 49.8l0.4 2.1l-1.8 2.4l-0.2 2.2l0 2.6M2.8 59.4l0 -1.4l0 -3.5l-0.3 -0.7l-1.1 -1.7l0.2 -1.1M636 59.4l0 -1.4l0 -3.5l-0.4 -0.7l-1 -1.7l0.1 -1.1M2.1 59.6l-1 -1.4l-0.2 -1l0.2 -1.3l-0.4 -1l0 -2.1l-0.7 -1.1l-0.2 -0.9M635.3 59.6l-1.1 -1.4l-0.2 -1l0.2 -1.3l-0.3 -1l0 -2.1l-0.8 -1.1l-0.1 -0.9M4.2 49.2l-0.2 0.6l-1.5 0.5l-0.9 0.7l-1.8 -0.2l-4.7 0.2l-0.2 1.2l0.2 1.1l-2.1 -0.2l-1.3 0l-1.4 -1M637.4 49.2l-0.2 0.6l-1.6 0.5l-0.9 0.7l-1.7 -0.2l-4.8 0.2l-0.2 1.2l0.2 1.1l-2.1 -0.2l-1.2 0l-1.4 -1M-9.7 52.1l0.4 -1.8l1.6 -1.2l0.1 -2l1.8 -0.1l0.7 -1.3l1.6 -0.3l1.7 -1.1l2.2 -0.3l0.3 1.7l1.1 1.1l0 0.9l1.9 0.3l0.5 1.2l2.1 0.6M623.5 52.1l0.3 -1.8l1.6 -1.2l0.2 -2l1.7 -0.1l0.7 -1.3l1.6 -0.3l1.8 -1.1l2.1 -0.3l0.4 1.7l1 1.1l0 0.9l1.9 0.3l0.6 1.2l2.1 0.6M627.7 61.4l0.5 -0.9l-0.7 -2.1l1.3 -2.5l-0.6 -2.6M620 62.6l0.1 -2.5l-1.7 -1.2l-0.2 -1.9l1.1 -1.6l0.1 -1.6l-0.3 -1.4l3.1 -0.7l1.3 0.4M618.2 57l-1.6 0.3l0 -1.7l-1.6 -0.2l-2.1 2.8M615 55.4l-0.5 -1.1l-1 -1.5l-2.3 0.1l-1.4 1.6M619.1 52.4l-0.5 -1.4l-1.3 -2.5l-2.3 0.4l-1.9 -0.4l-1.6 0.2l-2.4 -0.7l0 1.8l-2.3 1.4M609.1 48l-5.3 0.5M603.6 47.3l3.2 -0.2l2.1 -0.1l0 -0.6l-2.1 -0.1l-2.8 0.1M604.1 42.2l0.4 -0.9l3.1 -0.1l2.2 1.7l1.9 1.4l0.3 2.3l1.1 1.9M7.4 36.8l0 4.7l-1.2 1.8l-3.9 0.1l-1.9 0.6M640.5 36.8l0 4.7l-1.2 1.8l-3.9 0.1l-1.9 0.6M60.1 15.3l1.3 3.2M61.5 18.5l0.9 -3.6l0.2 -2.1M61.7 12.1l0.9 -0.3l1.4 -1.2l0.2 -1.1l-0.9 0M62.6 11.8l0 1M63.1 7l1.3 -0.3l0.1 -1.1l2.3 0l3.5 0l4.1 -0.7M74.4 4.9l-1.8 1.4l-0.5 3.5l-3.9 1.8l-3.5 1.9l-2.1 -0.7M68.2 11.6l0.7 2.1l-3.8 1.2l1.7 1.8l-0.8 0.9l-1.5 0.2l-1.2 1.2l-1.7 -0.2M68.9 13.7l2.2 0.5l2.8 1.5l4.7 3.3l3.2 0.2l2.1 1l1.2 0M81.8 19.2l0.9 -1.6l1.5 0M74.4 4.9l4.4 0M78.8 4.9l1 2.1l1.5 0.7l-1.3 2l0.9 2.3l3.2 2.1l-0.2 1.7l1.4 1.8M78.8 4.9l-1.1 -2.3l0.6 -2.1l0.5 0l3 1.4l2.6 -1.4l1.6 2.3M78.3 0.5l-1.4 -0.9l-0.2 -1.5M78.8 0.5l1.2 -1.6l1.8 2l0 1M80 -1.1l-0.9 -1M75.3 41.5l0.9 -1.8l2.1 0l4.4 0.8l1.7 -2.2l7.1 -1.4l5.2 -1.7l1.3 -3.5l-0.9 -1.3l-4.6 -0.3l-1.7 -2.3M91.5 36.9l1.9 4.3M97.1 30.4l1.4 -2.3l0.7 -1.5M98.5 28.1l-0.4 -0.3l0.6 -3.2M89.3 26.9l0.9 0.2M95 4.7l2.6 -1.2l3.2 -0.3l2.1 0.8l1.7 0.9l3 1.1l0 1.7M107.6 7.7l-1 2l0 2.3l0.5 2.9l1.6 0.9l-1.6 2.1M107.1 17.9l1.4 2l1.9 0.9l0 1.7l0.9 0.9l-2.3 0.7l-0.7 1.9M107.1 17.9l2.8 0.7l2.7 -0.1l3.8 -0.6l0.4 -1.9l2.4 -0.9l2.7 -0.9l0.3 -1.9l1.4 -0.7l-0.5 -1l1.9 -0.8l0.9 -1.9l-0.1 -1.4l3.5 -1l2.4 -0.6M107.6 7.7l2.7 0.6l3.1 -1.8l2 -1.9l3.8 0.3l2.7 0.2l1.6 -0.9l0.5 -0.9l1.4 -0.3l0.5 2.6l3 -1l2.8 0.3M117 4.6l0.1 -1.1l-2.8 -1.7l-2.3 -0.7l-2.3 -1.1l-2.4 -2.1l-1.8 -1.1M119.2 4.9l1.1 -1.7l-1.2 -2.5l1.4 0l1.4 -1.1l1.9 0.2l0.4 -1.4l0.3 1.2l3.9 1.5l1.4 -0.2l-0.2 2.6l2.1 1.4M124.2 -1.6l2.4 -0.7l2 0.9l-2.5 1l-1.6 0M131.7 4.9l-0.7 -2.3l-1.2 -1.7l1.8 -1.8l3.5 -0.9l2.6 -0.5l3.4 -1.6M119.9 28.8l1.1 -1.2l3.7 -0.2l-1.4 -2.2l0.5 -2.3l-1.4 -0.4l1.4 -1.4l2.7 0l1.9 -2.1l1.6 -1.8l1.2 -1.5l-0.2 -1.6l1.4 -0.6l-1.7 -1.2l-0.7 -2.6l5.1 -2l1.7 0.2M131.7 4.9l2 2.1l3.1 0.9M136.8 7.9l2 1.9l-0.2 2l1.2 1.4l-1.4 1.7l4.1 2.3M142.5 17.2l-1.6 2.5l3 1.6l2.6 0.9l2.6 0.5l1.8 0.9l2.6 0.3l1.4 -0.2l0 -2.4M142.5 17.2l2.1 0.4l2.3 1.4l2.8 1.2l1.6 0.9l3.6 0.2l1.5 1M156.4 22.3l1.5 1.1l3 -0.2l1.1 -0.2l-0.7 -1.5l-2.5 -0.6l-1.4 0l-1 1.4M154.9 23.7l1.5 -1.4M161.3 21.5l4 -2l3.5 -0.9l2.3 2.2M156.5 32l0 -1.2l-0.3 -1.3l-0.2 -1.7l-1.1 -0.7l0.4 -1.1l1.1 -1l-0.8 -1.1l2 0.5l0.3 1.5l4.6 0.5l-0.3 1.2l-1.8 0.5l0.3 1.4l0.8 0l0.8 -0.8l0.6 3.1l-0.7 1.3l0.1 0.8M162.9 31.8l1 -0.5l0.2 -3.2l2.5 -2.4l0.8 -2.3l3.2 -1.8l0.5 -0.8M171.1 20.8l2.3 1.2l0.2 3l-1.9 1.7l0.1 1.4l2.1 0l0 1.4l1.1 0.6l-0.5 1.4l1.7 1.2l1.8 0.4l-1.9 1.5M176.1 34.6l-2 0.6l-1.7 0.5l-0.6 2.1l-0.3 1.2l2.1 2.7l-0.9 1.9l1.8 2.7l0 1.9l0.7 1.4l-1.1 1.8l-0.3 0.8l-0.4 0.7M176.1 34.6l0.7 1.5l1.2 0l-0.4 2.6l0.4 0.9l1.6 -1.3l1.2 0.6l1.1 -0.9l2.2 1.6l0.2 1.9l1.2 1.2l0 2.1M185.5 44.8l-1.2 0.2l-3.1 0.2l-0.9 1.2l-0.2 2l0.9 1.4M178 33.1l1 0l0 -2.1l0.7 0l1.1 1.2l0.4 1.4l2.6 0.9l-0.9 1.6l1.8 1.4l2.6 3l1.8 2.6l0 1.4M185.5 44.8l0.9 0.9l2.7 -1.2M189.1 44.5l0 4.2l-2.1 0.9l-0.7 0.5l0.5 0.9l-2 0.2l-1.2 0.9M179.7 31l3 -0.4l2.5 -1.2l2.5 0.9l0.1 1.4l2.1 0.8M176.1 59.1l1.7 1.2l1.2 -0.2l0.6 -0.7M192.8 66.8l0.7 1.4l2.6 0.4l1.2 -0.7l2.3 0.2l2.3 -1.3l1.2 -2.1l0.4 -1.7l3.3 0M200.7 62.3l1 1l1.1 -0.5l0 -1.1M248 74.9l0 11.5M219.8 85.7l0.2 1.2M221.8 4l1.6 -1l2.2 -0.5M218.6 0.2l2.1 -1.6l2.5 -1.8M620.1 4.9l-0.1 -1.4l0.8 -0.3l-0.5 -2.1l0.5 -0.6l0.2 -2.3l1.2 -1M45.7 -1.2l1.1 -1.1M35.2 0.5l1.2 -1l0.5 -1.1M427.2 13.2l4.2 -0.4l-0.2 0.4l6.6 2.1l5.1 0l0 -0.9l2.9 0l2.7 2l0.9 1.9l2.2 1l1.3 -1.4l1.9 0l1.2 1.3l2.2 2.8l0.8 1.9l3.2 0.9M471 44.8l0 -1.4l0.9 -1.4l2.3 0l0 -0.5l-1.8 -1.5l0.7 0l0 -1l3.3 0l0.6 -0.1l0.9 -1.1M476.4 39l-0.1 3.4l0.5 0M478 42.7l-1.7 1.4l-0.3 0.9l-1.3 1.2M476 45l1.5 0.7l1.2 1.1l0.2 0.3M479.6 47.5l1.1 -1.4l1.7 -0.4l1.4 -1.4l3 -0.3M482.4 50.8l1.4 0.2l2.1 0.2M487.9 53.5l-0.6 0.8l0 1.8M497 55.2l0.4 1.3l-1.3 1.2M507.8 49.5l-1.6 1.3l-1.4 3.2l1 1.6l0 1.7l0.9 0.7l3.2 0l1.2 1.6l3.3 -0.2l-0.5 1.6l0 2l0.9 1.4l-0.9 1l1.4 2.8l0.2 0M515.5 68.2l-0.4 -0.8l-1.7 0l-3 0l0 1l1 0.2l-0.3 0.5l-1.1 0.2l0 1.4l1.1 1.6l-0.9 5.4M510.2 77.7l-1.4 -0.7l1.1 -1.9l-3.2 -0.7l-1.9 0l-1.8 -2.3l-2.1 -1.6l-1.9 -0.9l-2.2 -0.5l-2.2 -1.2M500.9 70.5l-0.7 2.5l-1.8 1.9l-2.4 1.3l-0.7 0.8l-0.6 1.4l-0.7 0.7l-0.8 -0.8l-1.5 -0.2l0 -1.6l0.4 -0.2M510.2 77.7l-1.7 0.4l-3.4 1.2l-0.7 1.8l-1.4 2.1l0.5 0.2l1.3 2.8l1.2 0.9l0.2 0.8l2.8 -0.8l0 2.6l1.7 -0.1M510.7 89.6l1.6 2.7l-0.5 2.1l-0.7 2.3l0.3 0.9l0.7 1.4l-1.4 1.8l0.2 0.3l-1.6 1.5M510.9 101.1l1.1 2.7l0.7 1.7l0.5 2.7l0.7 2.2l1.1 0M515 110.4l0.3 0.4l-0.5 1.8l-2.1 1l0.3 3.4l-0.5 1l-1.9 2.5l-0.6 2.6l-0.8 2.1l0.8 3.7l0.4 1.8l-1.1 1.6l0 1.7l-1.2 0.7l0.2 3.4l-1.3 2.6l-0.1 3.5M515 110.4l1.7 -1.7l3 0.9l0.4 0.8l2.8 -1l0.2 0M523.1 109.4l0.5 -3l0.9 -1.6l4.9 -0.5l1.4 0.9l0.2 0.5M531 105.7l0.5 -1.9l0.5 -1.4l-1.6 -1.6l0 -1.8l-3.1 0l-0.6 -4.4l-2.6 -1l-1.8 -0.9l-2.4 -0.5l-1.6 -1.3l-0.2 -3.5l-2.1 0.4l-2.4 1.4l-2.9 0.4M531 105.7l0.3 3.5l2.5 0.2l1.4 0.3l0.5 2.9l1.9 0.1l-0.5 2.7M523.1 109.4l2.8 2.8l3.5 1.8l2.4 1l-1.7 3.2l3.7 0.3l1 -0.1l2.3 -3M537.1 115.4l1.4 0.1l0.2 2l-2.3 1.7l-1.4 1.1l-3.2 3.2M531.8 123.5l2.9 1l0.8 0.2l2.7 1.8l1 1.2l0 1.9M531.8 123.5l-1 3.1l-0.4 3.5M515.5 68.2l2.5 0.7l2.6 -1.2l-0.5 -1.7l1.5 0.3l-1.5 -2.1l-0.6 -1.1l3 0.7l0.4 -0.5l3 -0.9l0.5 -1.2M526.4 61.2l-1.2 -1.2l0.5 -1.4l1.4 -0.7l-0.7 -0.7l1.6 -1.4M526.4 61.2l1.2 0.4l0.2 1l0.7 0.9l-0.9 1.9l0.7 1.8l1.4 1l1.4 -0.5l1.3 -0.9l1.4 0.2M533.8 67l-1.4 -2.5l-1.3 -1.2l0.2 -1.4l1.1 -0.9l0.3 -1.2M533.8 67l1 -0.2l-0.1 -0.5l2.4 0l2 0l1.5 -0.3l1.6 -3M537.1 66.3l0.7 -1.2l-0.5 -3.2l0.9 -1.6M507 35.7l0 1.9l-0.5 0l0.5 1.1" fill="none" stroke="#555" stroke-width="1.65" stroke-linejoin="round"/>
<path d="M432.6 5.3l34.1 0M466.7 6.2l7.9 0l-0.3 0.8l1.1 0M475.7 6.2l2.6 0l0 -0.3l7.6 0.1l3.6 0l10.2 0.1M453.7 0l11.8 0M422.1 -3.5l0 5.3l9.5 7l-0.2 4M432.6 -3.5l0 10.2l-1.2 0.2l0.2 1.9M441.4 15.3l0 -18.8M445.7 14.1l6.2 0l0 -8.8M451.9 6.2l5.4 0l0 3.3l1.4 0.5l2.1 0.4l1.8 0.5l1.7 0l2.6 0.4l0.8 0.1l0 2.7l0.7 1.7l-0.2 2.3M467 11.3l0 -3.2l-0.3 -1.9l0 -4.6l-1.2 -1.6M467.7 12.3l5.1 0M475.7 17.2l-0.3 -1.4l-3.4 0l1.1 -1.7l-0.3 -1.8l1 -2.6l0.9 -0.9l0.9 -2.1l0.7 -1.4l-0.6 -1.4l-1.2 -1.8l-0.9 -0.9l-1.2 -1.2l0 -0.7l0.7 -1.1M478.2 8.8l-0.5 5.4l0 2.9M482.6 8.8l0.7 3.7l0.4 3.3M479.3 17.1l-0.2 -1.3l4.6 0l0.1 0.6l4.8 0.1l0.3 0.4l0.9 -0.5M474.3 8.8l10.6 0l2.1 0l1.4 -0.4l2.3 0.2l0.3 0.5l2 0l2.1 1.7M487 8.8l1.9 2.6l1.6 2.5M484.9 8.8l2.3 -1.4l2.3 -1.4M478.4 3.9l0.9 -2.7l0 -4.7M484 1.6l0 -5.1M476.3 5.3l2.1 -1.4l1.7 -0.2l1.8 -0.2l1.1 -1.2l1 -0.7l1.4 0.5l2.5 0.7l1 -0.9l0.6 -0.5l1.4 -0.9l0.7 -1.6l0 -2.4M485.9 6l3 -1.6l-1 -1.2M489.1 4.4l2.8 0l1.4 -1.8l2.1 -1.5l1.1 0.1l1.2 0.7l1.3 1.6M491.6 0.5l8.2 0l0 2.2l1.4 0M493.3 0.5l0 0.9l2.1 -0.3M500.4 0.4l1.4 -0.8l-0.9 -0.8l0.9 -1.3M453.7 5.3l0 -8.8M437.8 -1.8l15.9 0M437.8 -3.5l0 1.7M465.5 0l-0.8 -1.1l-0.4 -1.5" fill="none" stroke="#555" stroke-width="2" stroke-linejoin="round"/>
<path d="M0 70.3 H633.1" stroke="#444" stroke-width="1.5" stroke-dasharray="4.5 5.5" stroke-dashoffset="1.6" fill="none"/>
<path d="M316.6 0 V140.7" stroke="#444" stroke-width="1.5" stroke-dasharray="4.5 5.5" stroke-dashoffset="0" fill="none"/>
<g transform="translate(287.8 53.1)"><path d="M-4.3-1.5Q-4.2-6.3 2.1-7.7M4.3 1.5Q4.2 6.3-2.1 7.7" fill="none" stroke="#000" stroke-width="4.2" stroke-linecap="round"/><circle r="5.7" fill="#000"/><path d="M-4.3-1.5Q-4.2-6.3 2.1-7.7M4.3 1.5Q4.2 6.3-2.1 7.7" fill="none" stroke="#e00000" stroke-width="2.2" stroke-linecap="round"/><circle r="4.7" fill="#e00000"/><text x="0" y="2.7" text-anchor="middle" font-size="7.4" font-weight="bold" fill="#fff" stroke="none">28</text></g>
<g transform="translate(444.6 38.1)"><path d="M-4.3-1.5Q-4.2-6.3 2.1-7.7M4.3 1.5Q4.2 6.3-2.1 7.7" fill="none" stroke="#000" stroke-width="4.2" stroke-linecap="round"/><circle r="5.7" fill="#000"/><path d="M-4.3-1.5Q-4.2-6.3 2.1-7.7M4.3 1.5Q4.2 6.3-2.1 7.7" fill="none" stroke="#e00000" stroke-width="2.2" stroke-linecap="round"/><circle r="4.7" fill="#e00000"/><text x="0" y="3" text-anchor="middle" font-size="8.2" font-weight="bold" fill="#fff" stroke="none">T</text></g>
</svg>
<path d="M0 0v-4.8M0 140.7v4.6M105.5 0v-4.8M105.5 140.7v4.6M211.1 0v-4.8M211.1 140.7v4.6M316.6 0v-4.8M316.6 140.7v4.6M422.1 0v-4.8M422.1 140.7v4.6M527.6 0v-4.8M527.6 140.7v4.6M633.1 0v-4.8M633.1 140.7v4.6M0 123.1h-4.8M633.1 123.1h4.6M0 70.3h-4.8M633.1 70.3h4.6M0 17.6h-4.8M633.1 17.6h4.6" stroke="#000" stroke-width="2.6" stroke-linecap="round" fill="none"/>
<path d="M17.6 0v-3.4M17.6 140.7v3.4M35.2 0v-3.4M35.2 140.7v3.4M52.8 0v-3.4M52.8 140.7v3.4M70.3 0v-3.4M70.3 140.7v3.4M87.9 0v-3.4M87.9 140.7v3.4M123.1 0v-3.4M123.1 140.7v3.4M140.7 0v-3.4M140.7 140.7v3.4M158.3 0v-3.4M158.3 140.7v3.4M175.9 0v-3.4M175.9 140.7v3.4M193.5 0v-3.4M193.5 140.7v3.4M228.6 0v-3.4M228.6 140.7v3.4M246.2 0v-3.4M246.2 140.7v3.4M263.8 0v-3.4M263.8 140.7v3.4M281.4 0v-3.4M281.4 140.7v3.4M299 0v-3.4M299 140.7v3.4M334.2 0v-3.4M334.2 140.7v3.4M351.8 0v-3.4M351.8 140.7v3.4M369.3 0v-3.4M369.3 140.7v3.4M386.9 0v-3.4M386.9 140.7v3.4M404.5 0v-3.4M404.5 140.7v3.4M439.7 0v-3.4M439.7 140.7v3.4M457.3 0v-3.4M457.3 140.7v3.4M474.9 0v-3.4M474.9 140.7v3.4M492.4 0v-3.4M492.4 140.7v3.4M510 0v-3.4M510 140.7v3.4M545.2 0v-3.4M545.2 140.7v3.4M562.8 0v-3.4M562.8 140.7v3.4M580.4 0v-3.4M580.4 140.7v3.4M598 0v-3.4M598 140.7v3.4M615.6 0v-3.4M615.6 140.7v3.4M0 105.5h-3.4M633.1 105.5h3.4M0 87.9h-3.4M633.1 87.9h3.4M0 52.8h-3.4M633.1 52.8h3.4M0 35.2h-3.4M633.1 35.2h3.4" stroke="#000" stroke-width="1.7" fill="none"/>
<rect x="0" y="0" width="633.1" height="140.7" fill="none" stroke="#000" stroke-width="2.8"/>
</g>
<text class="k" x="99.3" y="461.6" font-size="34.9">11-Nov to 20-Nov</text>
<text class="k" x="74.7" y="499.4" font-size="35" text-anchor="end">30N</text>
<text class="k" x="74.7" y="552.1" font-size="35" text-anchor="end">0</text>
<text class="k" x="74.7" y="604.9" font-size="35" text-anchor="end">30S</text>
<g transform="translate(844.8 469.4)">
<svg x="0" y="0" width="633.1" height="140.7" viewBox="0 0 633.1 140.7" overflow="hidden">
<rect width="633.1" height="140.7" fill="#f8f8f8"/>
<ellipse cx="26.8" cy="5.5" rx="6.4" ry="4.7" fill="#fddbc7"/><path d="M468.7 67.6C471.7 65.9 481.8 64.5 485.6 65.5C489.4 66.4 488.5 68.5 489.9 72.9C491.2 77.3 493.8 87 493 89.8C492.3 92.7 489.2 90.3 485.6 88.8C482 87.3 476 83.8 472.9 81.4C469.9 78.9 469.4 77.5 468.7 75C467.9 72.5 465.6 69.3 468.7 67.6Z" fill="#fddbc7"/><ellipse cx="522.7" cy="72.9" rx="3" ry="5.9" fill="#fddbc7" transform="rotate(10 522.7 72.9)"/><ellipse cx="523.3" cy="104.3" rx="1.7" ry="1.7" fill="#fddbc7"/><path d="M583.1 -9C588.4 -11.9 611.3 -13.4 617 -9C622.7 -4.6 617.2 10.5 614.9 15.7C612.6 20.9 607.3 20.7 604.3 19.9C601.2 19.1 601 13.7 597.9 11.4C594.9 9.1 590 10.9 587.3 7.2C584.7 3.5 577.8 -6.1 583.1 -9Z" fill="#d1e5f0"/><ellipse cx="476.1" cy="35.8" rx="2.5" ry="3.8" fill="#d1e5f0"/>
<path d="M-10.4 7.4l1.1 -0.2l1.4 1.2l2.6 -0.1l1.4 0.3l2.1 -1l1.8 -0.4l2.6 -1l2.7 -0.6l3.5 0l3.5 -0.3l2.8 0.2l2.1 -0.8l0.9 0.6l1.2 0l-0.7 1l-0.1 1.4l0.8 0.7l-1.4 1.6l1.3 1.1l1 0.9l1.8 0.5l1.2 0l3.5 0.9l0.6 1.5l2.6 0.9l3.5 1.3l1.8 -1.3l0 -2.3l2.6 -1l2.7 0.5l3.5 1.6l3.5 0.7l3.5 0.7l1.8 -0.9l1.7 -0.2l2.3 0.4l0.4 2.5l0.3 1.5l1.4 1.8l0.9 1.8l0.9 1.7l0.9 1.8l0.8 1.7l0.2 1.8l2.3 1.8l0.5 1.7l0 2.5l1.4 1.9l1.1 0.9l1.2 3.5l0.4 0.7l1.7 1.1l1.3 0.8l2.2 2.3l1.3 1.3l0.2 1.5l-0.6 0.2l1.8 1.8l1.7 0.2l1.8 -0.6l2.6 -0.7l2.7 -0.3l2.6 -1.1l1.2 0l-0.3 2.5l-0.9 2.6l-1.2 1.8l-1.4 2.6l-1.8 3.5l-1.7 2.7l-1.8 1.4l-1.2 0.3l-2.3 1.8l-2.7 2.3l-1.7 2.4l-1.8 1.4l-0.9 1.8l-0.7 1.1l-1 2.4l-0.4 1.8l0.9 0.5l0.4 2.1l0.1 2.7l1.5 1.7l0.1 2.7l0.2 3.5l0.2 1.7l-1.6 2.3l-3.2 1.8l-1.7 1l-1.3 1.6l-1.7 1.6l-0.9 0.2l-0.2 1.2l1.1 1.8l0.3 2.6l-0.1 1.8l-3.4 2.1l-1.6 1.2l0.6 1.6l-0.4 2.1l-1.2 1.8l-1.8 1.5l-1.4 2l-2.1 2.3l-1.8 1.2l-2.6 1.4l-1.6 0.3l-2.8 0.2l-3.5 0.2l-3.5 1.1l-2.1 -0.9l-0.7 -0.6l-0.4 -2.1l0.2 -1.7l-1.8 -2.3l-1.4 -3.3l-1.7 -2l-0.9 -1.7l-0.4 -2.7l-0.5 -3.9l-1.8 -3.1l-1.7 -3.5l-1.2 -2.7l0 -2.6l0.7 -1.8l0.5 -2.6l1.7 -2.1l0.6 -2.3l-0.7 -2.6l-0.4 -1.3l-0.7 -2.3l-0.9 -2.6l-0.1 -1.8l-0.7 -0.8l-1.5 -1.3l-2.1 -2.3l-1.4 -2.2l-0.3 -0.9l1.2 -2l0.2 -1l0.3 -2.3l0 -2.1l-0.5 -0.9l-1 -0.9l-1.1 0l-2.3 0.4l-1.7 0l-1.3 -1.6l-1.4 -1.8l-1.9 -0.3l-1.8 0.2l-2.1 0.3l-2.1 0.7l-1.8 1.1l-1.7 0.5l-1.8 -0.5l-1.7 -0.2l-2.7 0.2l-3.5 1.2l-2.6 -1.4l-3.2 -1.9l-1.2 -1.1l-1.8 -1l-1.2 -1.8l-0.2 -1.4l-0.7 -0.4l-1.4 -1.7l-0.9 -0.9l-1.7 -1.4l-1.3 -1.1l-0.1 -1.4l0.3 -0.5l-0.9 -1.6l-0.7 -0.5l0.7 -0.5l1.1 -1.8l0.3 -1.7l0.6 -1.8l-0.4 -2.3l-0.5 -0.3l0.3 -1.8l-1.2 -0.9l0 -1.4l1.2 -2.1l0.7 -1.4l1.6 -1.6l0.4 -1.4l0.7 -1.2l1.6 -1.4l0.8 -1.4l2.7 -0.9l2.3 -1.6l0.8 -1.6l-0.1 -2.3l0.8 -1.9l1.5 -1.4l1.5 -0.5l1.4 -0.7l0.9 -1.8l0.7 -1.4M622.8 7.4l1 -0.2l1.4 1.2l2.7 -0.1l1.4 0.3l2.1 -1l1.7 -0.4l2.7 -1l2.6 -0.6l3.5 0l3.6 -0.3l2.8 0.2l2.1 -0.8l0.9 0.6l1.2 0l-0.7 1l-0.2 1.4l0.9 0.7l-1.4 1.6l1.2 1.1l1.1 0.9l1.7 0.5l1.3 0l3.5 0.9l0.5 1.5l2.6 0.9l3.6 1.3l1.7 -1.3l0 -2.3l2.7 -1l2.6 0.5l3.5 1.6l3.5 0.7l3.6 0.7l1.7 -0.9l1.8 -0.2l2.3 0.4l0.3 2.5l0.4 1.5l1.4 1.8l0.8 1.8l0.9 1.7l0.9 1.8l0.9 1.7l0.2 1.8l2.2 1.8l0.6 1.7l0 2.5l1.4 1.9l1 0.9l1.3 3.5l0.3 0.7l1.8 1.1l1.2 0.8l2.3 2.3l1.2 1.3l0.2 1.5l-0.5 0.2l1.7 1.8l1.8 0.2l1.8 -0.6l2.6 -0.7l2.6 -0.3l2.7 -1.1l1.2 0l-0.4 2.5l-0.8 2.6l-1.3 1.8l-1.4 2.6l-1.7 3.5l-1.8 2.7l-1.7 1.4l-1.3 0.3l-2.3 1.8l-2.6 2.3l-1.8 2.4l-1.7 1.4l-0.9 1.8l-0.7 1.1l-1.1 2.4l-0.3 1.8l0.9 0.5l0.3 2.1l0.2 2.7l1.4 1.7l0.2 2.7l0.2 3.5l0.1 1.7l-1.6 2.3l-3.1 1.8l-1.8 1l-1.2 1.6l-1.8 1.6l-0.8 0.2l-0.2 1.2l1 1.8l0.4 2.6l-0.2 1.8l-3.3 2.1l-1.6 1.2l0.5 1.6l-0.3 2.1l-1.3 1.8l-1.7 1.5l-1.4 2l-2.1 2.3l-1.8 1.2l-2.6 1.4l-1.6 0.3l-2.8 0.2l-3.6 0.2l-3.5 1.1l-2.1 -0.9l-0.7 -0.6l-0.3 -2.1l0.1 -1.7l-1.7 -2.3l-1.4 -3.3l-1.8 -2l-0.9 -1.7l-0.3 -2.7l-0.5 -3.9l-1.8 -3.1l-1.8 -3.5l-1.2 -2.7l0 -2.6l0.7 -1.8l0.5 -2.6l1.8 -2.1l0.5 -2.3l-0.7 -2.6l-0.3 -1.3l-0.7 -2.3l-0.9 -2.6l-0.2 -1.8l-0.7 -0.8l-1.4 -1.3l-2.1 -2.3l-1.4 -2.2l-0.4 -0.9l1.3 -2l0.1 -1l0.4 -2.3l0 -2.1l-0.5 -0.9l-1.1 -0.9l-1.1 0l-2.2 0.4l-1.8 0l-1.2 -1.6l-1.4 -1.8l-2 -0.3l-1.7 0.2l-2.1 0.3l-2.2 0.7l-1.7 1.1l-1.8 0.5l-1.7 -0.5l-1.8 -0.2l-2.6 0.2l-3.5 1.2l-2.7 -1.4l-3.1 -1.9l-1.3 -1.1l-1.7 -1l-1.3 -1.8l-0.1 -1.4l-0.7 -0.4l-1.5 -1.7l-0.8 -0.9l-1.8 -1.4l-1.2 -1.1l-0.2 -1.4l0.4 -0.5l-0.9 -1.6l-0.7 -0.5l0.7 -0.5l1 -1.8l0.4 -1.7l0.5 -1.8l-0.3 -2.3l-0.6 -0.3l0.4 -1.8l-1.2 -0.9l0 -1.4l1.2 -2.1l0.7 -1.4l1.6 -1.6l0.3 -1.4l0.7 -1.2l1.6 -1.4l0.9 -1.4l2.6 -0.9l2.3 -1.6l0.9 -1.6l-0.2 -2.3l0.9 -1.9l1.4 -1.4l1.6 -0.5l1.4 -0.7l0.9 -1.8l0.7 -1.4M86.7 91.5l1.2 2.6l0.9 3.2l-1.2 0.3l-0.2 2.3l-0.5 2.1l-1.1 3.5l-1.4 4.4l-1.4 4.1l-1.2 0.7l-2.3 0.5l-2.1 -0.9l-0.7 -2.6l-0.5 -2.7l1.7 -2.6l0.2 -1.8l-0.7 -2.6l0.7 -3l2.8 -1l1.8 -0.9l1.5 -1.6l1.5 -1.8l1 -2.2M-15.5 -2.6l-0.2 2.6l-0.8 1.2l-0.2 1.1l1.2 0.5l0 0.9l-0.3 1.6l1.7 0l1.1 -0.4l1.7 0.7l0.7 1.1l0.8 0.3l0.5 -0.3l1.6 -0.9l2.4 0l1.4 -0.2l0.9 -0.9l1.6 -0.5l0.5 -1.2l1.3 -0.9l-0.9 -1.2l0.9 -1.3l1.2 -1l1 -0.7l2.7 -1.1M617.7 -2.6l-0.2 2.6l-0.9 1.2l-0.2 1.1l1.3 0.5l0 0.9l-0.4 1.6l1.8 0l1 -0.4l1.8 0.7l0.7 1.1l0.7 0.3l0.5 -0.3l1.6 -0.9l2.5 0l1.4 -0.2l0.9 -0.9l1.5 -0.5l0.6 -1.2l1.2 -0.9l-0.9 -1.2l0.9 -1.3l1.2 -1l1.1 -0.7l2.6 -1.1M4.2 0.7l1.3 -0.6l0.5 0.4l-0.5 0.7l-0.8 -0.3l-0.5 -0.2M2.1 1.9l0.5 -0.3l0.2 0.3l-0.7 0M14.4 -1.8l0.4 1.3l0 1.9l1 0.4l0.9 -0.4l0.4 -1.4l0 -1.4l-0.7 -0.7l-2 0.3M21.8 3.5l1.6 -0.3l4 -0.2l-0.8 1.4l0.3 1.4l-1.7 -0.3l-3.2 -1.3l-0.2 -0.7M21.6 -3.2l2.7 1.1l0.9 0.7l1.2 1l1.2 0.4l0.7 1.8l-0.7 1.7l0.7 0.2l0.9 -1.1l0.9 -0.8l-1.1 -1.3l0.7 -1.2l2 0.7l0.8 -0.2l-0.8 -0.9l-1.8 -0.7l-1.8 -0.8l0 -0.9M34.1 -3.3l0 0.8l-0.2 1.6l1.3 1.4l1.2 1.4l0.9 1.1l0.9 0.2l-0.7 0.8l0.7 1.6l1.2 0.6l0.7 -0.4l0.5 0.4l0.2 -1.5l-0.7 -0.3l1.2 0l0.9 -0.4l0 -0.8l-1.2 -0.7l-0.7 -1.3l-0.6 -1.2l0.6 -0.9l1 0.5l0.9 0.4l0.7 -1.2l1.1 -0.6l1.7 0.6l0.4 0.7l0 1.4l1 0.9l-0.8 1.2l1.5 1.4l0.4 0.9l1.4 0.5l1.6 0.4l2.4 0.3l0.4 -1l2.3 0.7l2.6 0.7l2 -1.3l1.7 0.4l1.1 -0.2l-0.6 1.2l-0.1 0.9l0.1 1.8l-0.7 1l-0.7 1.4l-0.3 1.1l-0.4 0.9l-0.9 1.2l-1.2 0.4l-2.1 -0.4M46.1 -0.5l1.4 -0.4l1.7 0.2l1.8 0l1.6 -0.5l-1.6 -0.6l-1.8 0l-1.2 0.6l-1 0.3M40.8 1.9l1.4 0.6l0.9 1l-0.9 -0.3l-1 -0.7l-0.4 -0.6M41.3 7.9l1.3 0.2l1.4 0l2.3 0.2l-0.2 0.5l-2.5 0.2l-2.1 -0.6l-0.2 -0.5M48.9 6.7l0.7 -0.4l-0.2 0.7l-0.5 -0.3M45.6 1.4l1 -0.3l0 0.7l-1 -0.4M56.8 8.8l1.2 0.7l1.8 -0.7l1.1 -1.2l-1.6 0.5l-1.4 0.2l-1.1 0.5M57.2 17.8l1.2 2.4l1.7 1.4l0.6 -1.4l0.7 -1.7l0.2 2.4l0.8 1.1l1.8 2.6l1.2 2.1l1.4 1.4l1.8 3.6l0.2 0.8l1.5 2.3l1.8 2.1l0.9 1.8l1.7 2.1l0.6 2.3l0.7 2.6l0.2 1.4l0.3 0.9l2.6 -0.2l2.7 -1l2.6 -1.1l2.7 -1.2l2.6 -0.9l2.1 -0.7l0 -1.4l2.3 -0.5l1.8 -0.5l1.4 -0.9l2.1 -0.9l0.8 -1.8l1.5 0l-0.2 -2.1l1.4 -0.5l0.7 -1.6l1.6 -1.9l-1.4 -1.3l-0.9 -0.7l-2.1 -0.7l-1.4 -1.4l-0.2 -2.4l-0.5 0.3l-0.2 0.6l-1.2 0.7l-1.6 1.5l-2.5 0.6l-2.1 0.1l-0.5 -1l0.2 -2.1l-0.8 -0.6l-0.7 1.1l-0.1 1.2l-0.9 -1.4l0 -1.6l-1.2 -1.2l-1.3 -0.9l-0.5 -1.4l-0.9 -1.4l-0.3 -1l1.2 -0.2l0.9 -0.7l1.7 0.3l1.4 2.1l1.3 2l1.9 0.9l1.6 1.2l2.1 0.3l1.6 -0.5l1.2 -0.5l1.2 0.5l0.6 1.8l1.2 0.3l2.6 0.4l2.7 0.3l1 0l2.5 0l2.6 -0.1l2.7 -0.2l1 0.7l0.7 0.3l0.9 1.6l1.2 0.5l1.1 0.7l2.1 0.6l-1.7 0.9l0 0.3l1.7 2.1l1.8 0.5l1.7 -0.7l0.4 -1.2l0.7 -0.9l0.3 1.4l0 0.9l0 3.5l0.7 2.7l0.6 2.6l0.5 1.1l1.1 2.4l0.7 2l1.4 2.4l1 2.7l0.5 1.7l0.9 1.3l0.9 0.3l1.2 -1.2l1.4 -0.9l0.6 -1.8l1 0l-0.2 -2.1l0.9 -2.8l-0.3 -2.5l0.2 -1.7l1.4 -0.9l2.2 -1l1.8 -2l2.6 -2.3l1.3 -1.2l1.7 -0.9l0.9 -1.4l0 -0.9l1.8 -0.3l1.7 -0.2l2.3 -0.3l0.9 -0.9l1.2 -0.4l0.6 0.7l0.7 2.3l0.1 0.5l1.1 1.3l1.4 1.2l1.1 1.4l0.3 1.8l-0.5 2.6l1.7 0.4l1.4 -0.9l1.4 -0.9l0.8 0l0.7 0.9l0.1 2.3l0.7 1.7l0.7 1.8l0.2 1.7l0.2 2.7l-0.4 1.2l-0.5 2.3l0.2 1.1l1.2 1.2l1.2 0.7l0.9 1l0.4 1.5l0.5 1.9l1.1 2.3l0.1 0.5l1.4 0.9l2.2 1.4l0.3 0.2l1.1 -0.2l0 -1.1l-1.3 -1.4l-0.1 -1.7l0 -1.3l-0.7 -1.7l-1.3 -1.3l-1 -1l-1.4 -0.4l-0.7 -0.5l-0.7 -2.1l-0.4 -1.4l-1.1 -0.4l-0.1 -1.7l0.8 -2.1l0.6 -1.4l0 -1.4l0.9 -0.4l0.8 0.4l0 1.2l1.8 0.5l1.2 0.9l0.6 1.1l1 1.2l1.6 0.2l0.9 0.7l-0.4 2.2l1.2 -0.5l1.8 -1l0.5 -1.3l0.7 -0.1l1.4 -0.6l1.8 -1.2l0.5 -1.4l0 -1.4l-0.1 -1.4l-0.6 -2.5l-1 -1.6l-1.4 -1l-1.6 -1.6l-0.5 -1.1l-1.1 -1.2l0.4 -1.6l1.2 -1l0.7 -0.9l1.7 -1.1l1.1 -0.3l1.1 0.3l0.8 0.2l0.2 1.8l0.7 0.1l0.5 -1.4l0.9 -0.7l1.8 -0.5l1.7 -0.3l1.1 -0.6l1 0l1.5 -0.7l2.6 -0.5l0.9 -1.1l1.7 -1.5l1.8 -1.4l1 -1.3l0.8 -1.7l1.4 -1.8l1.4 -1.8l0.7 -1.4l-1.3 -0.8l1.1 -1.1l0 -1.1l-1.6 -1.4l-0.3 -1.2l-0.9 -2.1l-2 -1.4l1.1 -1.1l0.9 -0.7l1.2 -1l2.6 -0.5l0.2 -0.9l-1.9 -0.2l-1.4 -0.5l-1.6 0.8l-1.4 0l-0.2 -1.2l-1.6 -0.5l-0.5 -0.9l0.2 -0.7l1.2 0.2l1.4 -0.7l0.9 -0.9l2.1 -1.4l1.4 -0.2l0.7 0.7l-1.2 1.6l-0.5 1.4l1.4 -0.5l1.7 -1.1l2.3 -0.3l1.2 0.5l0.6 1.1l-0.2 0.8l-0.7 0.9l1.2 0.5l1.8 0l0.5 1.3l-0.9 0.9l0.4 0.8l0.2 0.9l-0.6 1.2l0.6 0.9l1.5 -0.7l1.8 -0.3l1.1 -0.4l0.5 -1.6l0 -1.7l-0.7 -1.3l-0.7 -1l-1.1 -1.2l-0.9 -0.6l0 -0.8l1.4 -0.8l2.5 -1l0.2 -1.2l1.2 -1.4M87.1 -3.2l-0.2 2.7l1.6 -0.2l-1.4 0.7l-0.9 1.2l-0.2 1.6l1.1 1.6l1.7 0.9l1.8 0.7l2.6 -0.4l1.8 -0.1l-0.2 -1.1l0 -2.5l-1.2 -0.7l0.7 -1.2l-1.4 -0.9l0.3 -0.9l1.8 -0.8l-1.8 -0.9M140.5 53.1l1.6 1.4l0.9 0.9l1 2.1l-0.3 1.4l-1.9 1.1l-1.1 -0.6l-0.4 -1.4l0 -1.7l0.4 -1.8l-0.2 -1.4M191.2 36.4l1.4 -1.2l1.9 -0.2l0.7 0.9l-0.9 1.4l-1.5 1l-1.6 -0.7l0 -1.2M213.7 25.9l0.9 0.5l-0.7 1.7l-0.4 1.8l-0.9 1.8l-1 -1.1l-0.4 -1.2l0.7 -1.8l0.9 -1.2l0.9 -0.5M246.8 -2.1l1.9 -0.4l0.2 0.7l0.7 1.8l0.1 0.9l-0.8 2.1l-0.9 0.9l0 1.6l-0.7 1l0.5 1.1l-1 0.8l-0.9 0.4l0 -1.1l-0.4 0.7l-0.9 0.2l-0.3 0.9l-0.7 -0.7l-0.5 0.7l-2.2 0l-0.1 -0.7l0 1.2l-1.1 0.6l-0.9 0.8l-1.2 -0.7l0.2 -0.7l0.3 -0.7l-1.5 0l-1.8 0.5l-1.9 0.2l-1.6 0.6l-0.9 0l0 -0.8l1.2 -0.5l1.8 -1.2l1 -0.4l1.8 0l1.8 -0.1l1.2 0l0.2 -1.1l1 -0.9l0.5 -1.2l0.6 0l-0.6 1.2l1.8 -0.5l1.4 -1.2l1.1 -0.9l0.7 -1.2l0.3 -1.4l-0.2 -1.3l0.8 -1.2M233 10.9l0.9 -0.3l1.8 -0.8l1.2 0.6l0 0.5l-0.9 0.9l-1.2 -0.4l-0.9 1.3l-0.9 -0.4l-0.3 -0.9l0.3 -0.5M230.2 10.7l1.4 0.6l0.4 0.7l-0.2 1.2l-0.7 1.7l-0.7 0.6l-0.5 0.3l-0.9 -0.5l0 -1.6l0.5 -0.9l-1.2 0l-0.2 -1l1.1 -0.5l1 -0.6M224.6 24.4l0.9 -1.2l-0.6 0.5l-0.3 0.7M227.4 20.8l0.7 -0.6l-0.5 0.6M222 11.8l1.2 -0.4l-0.5 0.6l-0.7 -0.2M212.1 37.8l2.8 0l0 2.7l-1 1.7l0 1.8l0.1 1.2l1.4 0.2l1.5 0.5l1.2 1.6l0.2 0.7l-1.4 -0.7l-1.3 -0.5l-1 -0.9l-1.3 0.3l-1.2 -0.7l0.5 -1l-1 -0.4l-0.5 -1.2l-0.4 -1.4l0.9 -0.5l0.2 -1.6l0.3 -1.8M220.7 53.1l1.4 2.3l0.4 2.1l-0.7 1.8l-0.7 -1.1l-0.6 1.6l-0.5 0.3l-1.6 -0.7l-0.3 -1.4l-1.1 -0.8l-1 0.1l-1.3 0.9l-0.1 -1.2l1.4 -1.2l1 -0.6l0.7 0.9l0.9 -0.7l0.9 -0.7l0.7 -0.4l0.5 -1.2M218.6 48.4l1.8 0l0.7 2.3l-1.3 0.3l-0.3 1.4l0.7 0l-0.5 -1.2l-0.9 -0.9l0.9 -0.7l-1.1 -1.2M216.2 51l1 0.4l-0.3 1.5l-0.6 1.4l-0.9 -1l0.6 -1.1l0.2 -1.2M214.6 49.4l1.9 0.7l-0.9 1.6l-1.2 0.2l0.2 -2.5M218.1 50.7l-0.5 1.7l-0.7 1.2l0.5 -1.4l0.7 -1.5M210.2 50.3l-0.6 1.8l-1.5 2.1l-2 1.4l0.6 -0.9l1.7 -1.9l1.4 -1.8l0.4 -0.7M211.8 46.8l1.4 0l0.5 1.6l-0.7 0.5l-0.7 -1.2l-0.5 -0.9M167.6 60.5l3.9 0.7l1.4 1.6l1.2 1.2l2.3 1.6l1.2 0.9l2.1 1.6l2.2 1.2l0.7 1.6l1.2 1.6l0.7 1.9l1.9 1.6l-0.1 2.3l-0.2 2.3l-1.1 0l-1 -0.4l-0.6 -0.9l-2.2 -1.6l-1.3 -0.5l-1.7 -2.5l-1.6 -2.6l-1.3 -1.8l-1.2 -2.1l-0.5 -1l-1.8 -1.2l-1.2 -1.5l-1.4 -1.2l-1.6 -2.1l0 -0.7M185 82.3l1.4 -1.6l1.4 0.4l2.7 0.5l0.7 0.7l3 0.2l0.8 -0.9l1.1 0.5l1.9 0.4l0.4 0.7l1.2 0.7l1.6 0.2l0.2 1.6l-2.3 -0.8l-3 0l-2.6 -0.7l-2.7 -0.1l-1.7 -0.2l-2 -0.5l-2.1 -1.1M191.7 67.7l1.1 -0.9l1.2 0.6l1.6 0.3l0.3 -1.7l2.8 -1.3l1.8 -2.3l1.8 -0.8l1.7 -1.8l1.2 -1.8l1.5 0.9l0.3 1.1l1.6 0.7l1 0.5l-1.5 1.2l-1.3 0.6l0 1.2l0.7 1.8l1.6 2.6l-1.9 0.3l-0.5 2.7l-1.3 1l-0.9 1.8l0.2 2.1l-0.7 0.5l-2.4 0.4l-0.2 -1.1l-1.8 -0.1l-2.6 0.1l-0.7 -0.7l-2.5 -0.1l-0.3 -2.5l-1.4 -1.8l-0.4 -1.7l0 -1.8M210.7 68.9l1.8 -0.8l3.7 0.7l2.4 0.8l1.6 -1.9l-1.2 1.9l-2.1 0.2l-3.2 -0.3l-2.3 0.3l-0.2 2l1.6 1l2.1 -0.9l2.1 0l-1 1.1l-2 0.7l1.3 2.3l0.9 1.7l-0.8 2l-1.5 -0.9l-0.2 -1.4l-0.9 -2.3l-1.2 0.4l0.2 2.8l0 1.7l-1.6 0l0 -2.6l-1.3 -2.1l0.9 -2.7l0.9 -1.9l0 -1.8M230.4 71.8l2.6 -0.7l2.7 0.7l0.3 2.6l1.4 1.8l1.8 -1.8l2.6 -1.2l2.7 0.7l3.5 1l3.5 1.4l2.6 0.9l2.3 2.3l2.1 1.4l1.4 0.9l-1.4 0.5l1.8 2.1l1.8 1.8l1.7 2.1l1.4 0.2l-1.7 0.1l-3.2 -0.5l-1.8 -1l-1.7 -2.5l-2.7 -0.9l-1.7 1.1l-0.9 1.7l-1.8 0l-1.7 -0.1l-2.7 -1.8l-2.2 0.5l-0.4 -1.7l1.4 -1.1l-1.4 -2.3l-3.5 -1.6l-2.6 -1l-2.7 0.2l-0.3 -1.4l-1.1 -0.7l2.3 -0.8l-2.6 -0.7l-1.8 -1.2l0 -1M201.4 84.8l2.1 0.1l-0.9 0.9l-1.2 -1M204 85.1l1.2 0l-0.3 0.9l-0.9 -0.2l0 -0.7M205.4 85.3l2.1 -0.5l1.8 0.3l-0.9 0.7l-2.6 0.4l-0.4 -0.9M210.9 85.3l1.9 -0.2l3.2 -0.3l0.2 0.7l-3.4 0.5l-1.9 -0.2l0 -0.5M209.3 87.1l2.1 -0.2l1.1 1.2l-2.3 -0.3l-0.9 -0.7M217.2 88.5l1.8 -1.8l2.3 -1.2l2.4 -0.4l-1.2 1.1l-2.7 1.2l-1.7 1.1l-0.9 0M224.2 68.6l0.7 -1.9l0.2 1.5l1.3 -0.5l-0.9 1.2l1 0.9l-1.4 -0.2l0.7 2.2l-1 -1.1l-0.6 -2.1M225.1 75.6l2.7 -0.3l2.2 0.9l-1.4 0.3l-2.2 -0.2l-1.3 -0.7M221.8 76l1.6 -0.2l0.3 1.1l-1.6 0.1l-0.3 -1M261 80l2.8 0l2.7 -1l1.4 -1.3l-0.2 1.4l-2.1 1.5l-1.8 0.7l-2.4 -0.4l-0.4 -0.9M265.2 74.9l2.1 1.4l1.8 2l-0.7 -0.9l-1.9 -1.8l-1.3 -0.7M271.9 80l2.1 1.8l-0.9 0.3l-1 -1.2l-0.2 -0.9M275.2 82.1l1.8 1.3l-0.9 -0.4l-0.9 -0.9M278.8 83.7l2.2 1.4l-0.8 -0.3l-1.4 -1.1M280.7 86.7l2.1 0.9l-0.9 0l-1.2 -0.9M282.5 85.1l1.2 2.1l-0.9 -1l-0.3 -1.1M283.7 88.5l1.7 0.8l-0.8 -0.7l-0.9 -0.1M293 96.7l1.1 1.1l-0.7 -0.2l-0.4 -0.9M294.1 98.5l1 0.9l-0.7 -0.2l-0.3 -0.7M295.8 101.3l0.5 0.4l-0.3 0l-0.2 -0.4M288.4 105.7l2.7 1.6l2.6 2.3l-1 0l-2.5 -1.6l-1.8 -2.3M311.8 101.3l1.6 -0.3l0.7 1l-1.4 0.4l-0.9 -1.1M314.3 99.7l2.1 -0.9l-0.7 0.9l-1.4 0M250.6 89.2l1.8 3.1l0.2 3.2l2.9 1.2l0.4 2.7l1.2 3.8l1.4 1.1l2.7 1.6l1.4 2.3l2.4 1.7l0.4 1.8l1.9 1.9l2 1.6l0 3.2l0.8 2.3l-1 3.3l-0.4 2.3l-1.7 2.1l-1.1 1.7l-0.9 2.2l-1.2 2.2l-0.2 1.8l-3.3 0.7l-1.8 1.1l-1.2 1l-1.9 -1.2l-0.9 -0.2l-2.1 0.9l-3.5 -0.9l-2.7 -1.4l-0.5 -1.8l-0.7 -1.5l-1.4 0l0 -1.4l-0.9 -1.1l-0.3 1.6l-1.5 0.2l0.9 -2.2l0.6 -2.4l-1.1 1.6l-2.1 2.3l-0.7 0.1l-1.1 -2.1l-1.4 -1.6l-1.2 -1.2l-2.6 -0.2l-1.8 -0.8l-3.5 0.1l-2.7 1.1l-2.6 0.2l-2.6 1.2l-1.8 1.6l-2.8 0l-3.3 0l-3.6 1.9l-2.6 0l-2.5 -1.2l-0.1 -1.3l1.2 -0.5l0 -2.3l-0.7 -2.6l-0.7 -2.1l-0.5 -1.1l-0.9 -1.7l-1.1 -2.1l0.4 -0.7l-0.6 -2.9l0.7 -1.7l-0.1 -1.8l0.7 -1.2l0.9 0l1.5 -0.9l2.1 -1.2l3.4 -0.5l2.5 -0.8l2.6 -1.5l1.2 -1.8l0 -1.8l1.4 -1l1.1 1.6l0.7 -1.8l1.6 -1.7l1.6 -1.8l2.1 -0.7l1.7 1.6l0.5 0.3l2.2 -0.1l0.1 -1.6l1.1 -1.8l1 -1l1.3 -0.4l1.7 -0.2l0.2 -1.2l1.6 0.7l2.6 0.7l3 -0.3l0.4 0.5l-0.7 1.7l-1.1 0.7l0 2l-0.9 0.3l2 1.4l2.1 0.7l2.3 1.3l1 1.2l2.1 -0.2l1.1 -2.6l0.3 -2.6l0 -3l0.7 -2.3l0.9 -1.4M240.2 133.3l1.6 -0.3l1.1 0.5l-1.2 0.3l-1.5 -0.5M229 90.4l1.9 -0.2l0.2 0.6l-1.6 0.3l-0.5 -0.7M239.9 94.6l0.9 0l-0.2 0.9l-0.7 -0.2l0 -0.7M254.3 141.9l3.4 0.7l2.9 -0.5l0.2 2.1M303.7 130.9l1.1 1l1.8 1.2l0.8 2l1.3 -0.4l0.7 0.7l0.7 1.3l1.7 0.5l1.8 -0.7l0 1.6l-0.7 1.2l-1.6 0.2l-0.2 1.2l-1 1.8l-1.4 0.8l-0.9 -1.7l0 -0.9l-1.8 -0.9l-0.3 -0.5l1.4 -0.7l0.2 -1.4l0.1 -1.2l-0.8 -1.5l-1.8 -2.1l-1.1 -1.5M303.7 141.6l0.9 1.2l1.8 -0.3l0.2 1.4M359 34.8l1.4 0.7l0.5 0.6l-1.4 0.8l-0.7 -1l0.2 -1.1M357.6 33.6l0.8 0l0.4 0.3l-0.9 0.2l-0.3 -0.5M354.9 32.5l0.7 -0.1l0.2 0.5l-0.7 0l-0.2 -0.4M352.3 31.5l0.5 -0.2l0 0.5l-0.5 -0.3M356.5 33.1l0.9 0l-0.4 0.1l-0.5 -0.1M472.2 70.9l0.9 -0.6l0 1.8l-0.9 -0.3l0 -0.9M474 71.2l0.5 0.2l-0.3 0.4l-0.2 -0.6M329.2 94.1l1.1 0.2l-0.5 0.3l-0.6 -0.5M330.6 94.8l0.9 0.2l-0.7 0.1l-0.2 -0.3M370 101.1l0.7 0.4l-0.5 0.2l-0.2 -0.6M324.8 107.5l0.4 0.1l-0.4 0M414.7 -3.5l0 1.7l-0.3 1.1l1 1.6l0.5 1.2l1.8 1.8l0.2 1l0.9 1.1l1 1.6l1.2 1.9l2 0.3l1.7 0.8l2.1 1.7l0.4 0.9l0.9 1.2l1 2.3l0.9 1.8l1.8 1.7l0.5 1.3l-1.4 0l1.2 1.2l2 0.9l1.5 1.4l0.4 2.1l3.2 2.1l0.7 0.9l0.8 -0.9l-1.5 -1.6l-0.7 -1l-1.1 -2l-1.2 -1.7l-1.3 -1.8l-1.4 -1.8l-1.2 -1.7l-0.9 -1.8l-0.2 -1.4l1.5 0.5l1.7 0.9l0.9 1.8l0.9 1.7l1.7 1.8l1.3 1.4l1.5 1.6l0.4 1.2l2.1 1.3l1.8 1.9l1 1l1.3 1.3l0.7 1.7l-0.4 1.8l-0.3 0.2l1.2 1.7l1.2 0.7l1.4 1.3l2.3 0.7l2.1 1l2 0.9l2.4 0.9l2.7 0.7l1.7 0.3l1.8 -0.8l1.7 0.3l1.8 1.4l1.4 1.2l2.1 1.1l1.8 0.5l2.1 0.7l1.9 0l0.4 0.4l0.3 0.5l1.4 1.2l1.2 1.5l0 1.2l0.9 1.2l1.1 0l1.2 0.9l0.7 1.2l1.1 0.6l0.3 0.5l1.8 0l1 0.7l0.6 0.7l1 -0.4l0 -1.4l1.3 -1.2l1.2 -0.2l1 1.1l0 1.6l1.1 0.8l0.5 1.8l0 1.8l0.2 1.7l0.4 0.4l-1.6 2.1l-1.4 1.4l-1.3 1.4l-0.9 0.3l-0.7 2.3l-0.8 0.9l0.1 2.1l1.4 0.5l0.2 0.9l-0.7 0.7l-1.6 1.6l-0.1 0.7l0.3 2.3l1.9 1.4l0.9 1.6l1.6 2.3l1.6 3.5l1.1 1.8l1.4 2.9l1.9 2.9l3 1.7l2.6 1.2l1.3 1.1l1.7 1.2l0.2 3l0 3.5l-0.5 2.7l-0.2 2.6l-0.4 3.5l-1 3.6l-0.2 1.7l-0.2 3.5l0 1.8l-1 3.5l-1.4 3l-1.1 1.4l0.5 3.5l-0.8 2.7l0 1.7M522.3 144.2l-3.3 -2.1l3.3 0.4l1.5 -0.7l0.1 -2l0.2 -1l3.5 -0.2l2.7 -0.5l1.7 -0.9l1.4 -2.1l-0.9 -1.4l-0.1 -1.3l-2 -1.2l0 -1.1l1.1 0.8l2.8 0.8l2.3 0l2.5 -1.6l1.5 -1.7l0.9 -1.4l2 -2.1l1.7 -2.7l2.1 -1.7l0.4 -1.8l0 -2.6l0.5 -1.1l2.3 -1.6l1.2 -0.8l2.3 -0.9l3.2 -0.9l2.1 -0.2l1.7 -1.6l0.2 -0.8l1.1 -2.1l1 -2.3l0.9 -2.1l0.4 -3.2l0 -2.1l0.8 -3.2l1.8 -2.1l0.9 -1.4l1.7 -1.8l1.4 -1.7l0.6 -1.8l0.1 -1.6l-0.7 -2.8l-2.2 -0.7l-1.5 -0.7l-2.1 -1.7l-2.2 -1.4l-3 0l-1.8 -0.4l-2.6 -0.4l-0.6 0l-1.2 -1.7l-2.6 -0.9l-2.7 -0.5l-0.8 1.4l-1.8 -2.3l-1.4 -0.4l0.5 -1.7l-1.4 -1.8l-0.7 -3.5l-0.9 -0.9l-1 -0.7l-3 -1.6l-2.1 -0.1l-3.2 -0.2l-2.1 -1.4l-1.4 -2.1l-1.8 -0.9l-1.7 -1.8l-1.8 -0.8l-0.9 -1.1l-2.6 0.2l-1.8 0.7l-1.7 -0.9l-1.8 0.2l-2.3 0l0 -1.2l-2.6 -0.6l-0.4 -1.2l-0.5 1.2l-1.7 0.9l-0.6 0.5l0.4 2.1l-1.1 0l0.2 -2.1l0 -1.4l1.1 -1.6l-1.8 0.9l-1.8 1.1l-1.5 0l-1.3 0.5l-1 1.1l-0.4 1.5l-1 0.9l-1.1 0.9l0.2 0.9l-1.1 -1.1l-0.9 -1.2l-1.9 -0.5l-1.6 0.5l-1.6 0.7l-1.5 -0.2l-0.9 -0.3l-0.7 -0.7l-0.7 -0.7l-1.1 -1.6l-0.2 -2l0.4 -1.7l0.2 -2.3l0.3 -1.2l-1.4 -1.1l-1.7 -0.5l-1.8 0l-2.6 0.2l-1.3 0.1l-1.2 -0.3l0.5 -0.7l0.6 -1.2l0.1 -1.8l-0.1 -0.9l1 -0.3l0.4 -1.4l0.1 -1.5l1.1 -1.5l-0.7 -0.6l-2.3 0l-2.1 0.4l-1.1 0.3l-0.1 1.1l-0.4 1.2l-1.2 1.4l-0.9 0.7l-1.6 0l-2.6 0.7l-1.4 -0.7l-1.4 -0.3l-0.6 -0.7l-0.7 -1.4l-1.2 -1.4l-0.4 -1.3l-0.7 -1.4l0 -2.1l0.4 -2.6l0.7 -1.6l-0.4 -1.9l0.4 -1.4l1.4 -1.1l1.9 -1.1l0.9 -0.7l1.8 -0.5l2.3 0.2l1.7 0.5l1.8 0.2l1.9 0.2l0.4 0.1l-0.6 -1.4l0.4 -0.8l2.3 0l1.7 -0.2l1.8 0.2l1.1 1l1.7 -0.5l1.4 0.5l1.4 1.2l0.2 1.8l0.9 2.1l0.7 1.2l1 1.6l1.3 0l0.7 -1l0.1 -1.8l-1 -3l-0.7 -1.7l-0.7 -1.6l0.3 -2l0.6 -0.8l1.5 -1.3l1.8 -1.4l1.8 -0.7l1.7 -1.2l0.9 -0.2l1.8 -1l-0.7 -2.1l-0.2 -0.9l-0.7 -0.6l0.2 -1.2l-0.4 -2.1l0.7 -0.3l0 1.9l0.4 1.9l1 -1.4l0.4 -0.9l0 -0.5l-0.7 -1l1 0.7l1.1 -0.9l0.5 -1.4l0 -0.6l1.8 -0.1l1.7 -0.6l0.2 -0.5l-2.8 0.5l-0.9 0.6M483.8 31.8l1.6 -1.4l1.8 -0.5l1 -0.4l2.5 0.2l1.7 0.4l1.8 0.9l1.8 0.3l1.4 0.9l2.1 0.9l0.9 0.7l2.3 1l-1.5 0.6l-1.7 0l-3 0.1l0.9 -1.2l-1.8 -0.5l-0.5 -1.3l-1.8 -0.3l-1.7 -0.5l-1.8 -0.4l-0.9 -0.3l-1.4 -0.4l-1.2 0.7l-1.4 0.4l-1.1 0.1M487 32l0.9 0l-0.2 0.5l-0.5 0l-0.2 -0.5M502.3 38l2.5 0.3l1.2 -0.7l-0.9 -1l-1 -0.9l1.5 -0.3l1.4 0.1l2.2 0l1 0.4l1.2 0.5l1.5 1.2l-1.1 0.4l-1.6 0l-1.4 0.2l-1.2 1l-0.7 -0.9l-1.8 0.2l-1.7 0.2l-1.1 -0.7M495.4 38l2.3 0l1.4 0.7l-1.4 0.3l-2.1 -0.5l-0.2 -0.5M515 38l2.6 0.2l-0.2 0.5l-2.4 0l0 -0.7M524.3 51.5l1.6 -0.1l0 1.2l-1.6 0l0.7 -0.5l-0.7 -0.6M524.5 41.7l0.8 0l-0.5 0.5l-0.3 -0.5M525.5 44.3l0.5 0.4l-0.1 0.3l-0.4 -0.7M525 42.9l0.3 0.5l-0.1 0l-0.2 -0.5M525.7 45.7l0.3 0.4l-0.1 0.2l-0.2 -0.6M528.3 47l0.2 0.3l-0.2 0l0 -0.3M587.8 3.9l1 0l-0.5 0.1l-0.5 -0.1M602.9 12.7l0.9 0l-0.4 0.3l-0.5 -0.3M603.4 20.4l1.3 -0.2l-0.7 0.9l-0.6 -0.7M605.4 21.1l0.7 -0.2l-0.2 0.6l-0.5 -0.4M607.8 20.9l0.9 -1l0.7 -0.9l-0.7 1.8l-0.9 0.1M591.5 43.6l0.3 0.5l-0.3 -0.1l0 -0.4M588.7 40.3l0.5 0l-0.4 0.3l-0.1 -0.3M93.9 48.2l1.8 0l-0.6 0.5l-1.2 -0.5M97.3 107.3l0.8 0.2l-0.3 0.5l-0.5 -0.7M101 105.7l0.7 0.2l-0.6 0.5l-0.1 -0.7M76.2 90.6l0.3 0.7l-0.3 0l0 -0.7M68.9 80.6l0.6 0.7l-0.4 0.3l-0.2 -1M163.2 46.6l0.4 1.8l-0.6 1.5l-0.1 -1.5l0.3 -1.8M164.8 57.7l0.3 0.5l-0.3 0.2l0 -0.7M14.9 63.8l0.8 0.2l-0.4 0.5l-0.4 -0.7M173.6 72.1l0.9 1.1l-0.6 0.1l-0.3 -1.2M171 67.9l1 1l-0.5 0.2l-0.5 -1.2M185.2 73.3l1.4 -0.1l0.9 2.1l-1.2 -0.4l-1.1 -1.6M189.2 74.9l1.1 0.2l-0.4 0.9l-0.7 -1.1M51.5 76.3l0.7 1.4l0.2 2l0.7 2.1l0.9 1.9l0.7 1.8l-0.9 -0.2l-1.2 -1.9l-1.1 -2.5l-0.3 -2.6l0.3 -2M59.6 87.1l1.1 1.7l0.7 1.8l-0.2 1.7l0.5 2l0.2 1.2l-0.5 0.2l-0.7 -1.3l-0.6 -1.7l0 -2.1l-0.3 -1.8l-0.2 -1.7M55.9 72.1l0.4 -1.9l1.7 -0.6l1.8 0.6l0.2 1.6l-0.2 1.2l-0.7 1.4l-1.4 0.5l-1.6 0l-0.3 -1.4l0.1 -1.4M53.5 68.4l1 -1.4l0.7 -0.7l-0.3 1.1l-0.9 1l-0.5 0M51.7 70.7l0.7 0.2l-0.3 0.7l-0.4 -0.9M50.8 73.3l0.7 0.2l-0.1 1.1l-0.6 -0.2l0 -1.1M510 97.4l1.3 0.4l0.8 1.4l-1.2 -0.7l-0.9 -1.1M482.1 49.4l1.6 0.5l0.3 0.9l-1.4 -0.3l-0.5 -1.1M495.3 26.2l0.8 0l0.6 1.4l0 0.9l-0.9 -0.7l-0.5 -1.6M496.3 23l1.1 0.4l0.5 0.9l-0.7 0.5l-0.2 -0.9l-0.7 -0.9M494.2 23.4l1.4 -0.2l0.7 0.2l-0.9 0.3l-1.2 -0.3M498.1 25.5l0.9 0.4l0.3 1l-0.5 -0.5l-0.7 -0.9M499.8 26.9l0.7 0.7l0.2 0.4l-0.5 -0.2l-0.4 -0.9M499 28.1l0.8 0.7l0.6 0.4l-0.7 -0.2l-0.7 -0.9M500.5 28.7l0.7 0.8l0.4 0.8l-0.5 -0.6l-0.6 -1M502.3 30.3l0.9 0.1l0 0.9l-0.7 0l0.2 -0.7l-0.4 -0.3M504.4 31l0.9 0l-0.5 0.1l-0.4 -0.1M503.5 33.1l1.1 -0.2l0.2 0.5l-1.1 0.2l-0.2 -0.5M505.8 32l1.4 -0.2l0.2 0.6l-1.4 0l-0.2 -0.4M496.7 26.2l0.7 0l-0.4 0.2l-0.3 -0.2M490 36.2l0.5 0l-0.3 0.2l-0.2 -0.2M489.3 27.1l1 -0.2l1.1 -0.5l0.3 -0.4M629.3 8.6l0.9 2.8l0.8 2.3l-3.1 1.2l-1.4 1.3l-3 1.7l-2.7 0.6l-3 1.4l0 2.4M609.9 21.7l7.9 0M617.8 22.3l0 2.3l-5.8 0l0 4.4l-1.7 0.9l0 3l-7 0M617.8 22.3l6.9 4.1M624.7 26.4l-3 0l1.8 14.9l0.3 1.8l-7 0l-2.5 0.2l-1.4 -0.4l-1.2 1.4M15.1 5.5l-0.5 0.7l-0.2 2.6l-1.2 1.8l0 1.4l1.4 1.2l1.2 0.9l0.9 3.1M20.2 12l0 1.2l-2.1 1.2l-0.2 1.8l-1.2 1M16.7 17.2l0.7 2.1l-0.2 3.6l0.4 0.8l-1.1 0.6l1.1 2.4l2.6 1.1l0.9 1.2M21.1 29l-7.9 4.8l-3 2.3l-2.8 0.7M7.4 36.8l-1.9 0l0.1 -1.3l-2.4 -0.9l-1.1 -1.4l-10.5 -6.8M640.5 36.8l-1.9 0l0.2 -1.3l-2.5 -0.9l-1 -1.4l-10.6 -6.8M44.3 14.8l-0.5 1.9l0.2 2.3l0 12.7l0 3.5l-1.8 0l0 0.9M44 31.7l20.9 0M42.2 36.1l-15.8 -6.2l-1.4 0.7l-3.9 -1.6M42.2 36.1l0 6.6l-1.7 0.2l-0.2 1.1l-1.1 1.2l0.4 1.4l-1.3 1.4l2 2.3l0 0.9M26.4 29.9l1.6 4.6l-0.7 6.1l-3.6 4.4l0 1.3M23.7 46.3l1.3 1.4l1.4 1.4l0.2 2.3l0.7 1.5l-2.7 0l-0.2 0.6l2.9 3.7M27.3 57.2l1.7 -0.4l2.1 -0.3l1.6 -0.4l0.7 -1.6l2.5 -0.2l2.3 -2.6l2.1 -0.5M40.3 51.2l1.4 1.7l-0.4 1.8l1.3 0.7l1.7 1.6l2.1 1.7l1.8 2.7M67.9 38.7l-2.8 1.8l-0.9 3.5l-0.2 1M64 45l-0.5 3l-1.9 2.1l-1.3 1.6l-0.2 1.9l-0.5 1.8l-1.6 0.9l1.8 1.4l2.3 3.2l1 1.4l-2.6 0.5l-0.7 0.2M59.8 63l-0.9 0.7l-2.6 0.3l-1.8 -0.3l-0.3 0.5l-1.4 -1.6l-1.8 0l-1.8 0.2l-1 -1.4M64 45l2.7 -0.7l1.9 0.4l2.1 0.3l2.3 2l1.6 1.4M75.8 48l-1.2 0.4l-1.1 1.7l0 0.9l2 0l0.5 -0.9M75.5 51l0.1 1.8l1.8 1.7l5.3 1.8l1.7 0l-5.3 5.3l-2.6 0.3l-2.6 1.2l-0.2 0.4M73.7 63.5l-1.6 1.9l0 4.9l0 1.6l1.1 1.4M73.7 63.5l-1.9 -0.5l-1.8 0.5l-3 0.5l-2.1 -1.4l-1.8 -0.3M59.8 63l0.9 1.2l0.9 3l-0.9 1.4l-0.9 1.4l-0.2 2.1M59.6 72.1l6.7 3.7l0 0.7l2.6 2.1M54.2 64.2l0.8 2.3l-1.4 1.7l-1 1.3l-0.5 1.7l0 1.6M52.1 72.8l1.5 -0.7l6 0M53.6 72.1l0.6 2.3l-0.6 0.2l0.6 1.6l-0.7 1.2l-1.8 0.9M52.1 72.8l-1.1 2.3l0.4 1.4l0.3 1.8M51 75.1l2.6 -0.5M51.7 78.3l0.4 2.6l1.9 3.9l3.9 2.1l1.9 0.2l0.9 0.8l0.2 2.9l2.4 0.1l2.7 0l1.7 -0.5l3.4 -1.6M57.9 86.9l0.7 2.4l-0.2 3l-0.9 2l0.9 0.7l2.3 0.9l-0.4 2.1l1.8 2.4l0.9 -1.9l0 -2.1l-1.6 -2.3l-0.5 -3.3M58.4 95l-5.3 1.7l0.4 1.1l4.4 1.9l0 3.2l-0.4 1.7l-0.3 3.2l-2.2 1.9l1.3 3.7l-0.2 2.5l0.4 1.6l1.4 0.2M56.1 115.9l-1.6 -0.4l-0.3 2l0.8 0.9l1.5 -0.9M47.5 122.4l1.7 -1.6l1.8 0.4l0.7 1.2l-1.6 1.8l-1.9 -0.6l-0.7 -1.2M55 109.7l-3.3 -0.3l-2.5 1l-1.7 1.5l-0.2 1.2l-1.7 0.9l-0.6 1.4l-1.6 0.3l-2.9 -0.9l-0.8 1.5l-1.5 1.2l-1.8 0l0 -2.3l-1.2 -1.2M35.2 114l0 6.3l-1.8 0.9l-1.7 -0.2l-1.1 -0.2l-1.6 -0.1M35.2 114l0 -5l1.7 0l0 -6.5l4.4 -0.5l1.6 -0.2l1.6 -0.1l-2.3 -0.6l-1 0.2M20.8 100.8l2.1 -0.6l1.7 0.8l7.8 0l5.2 0.8l3.6 -0.5M44.5 101.7l1.2 2.1l2.3 2.6l1.2 1.9l2.5 1.1M44.5 101.7l3 0.3l3.3 -3.5l2.7 -0.7M41.2 101.3l-2.5 -2.5l0 -5.6l3.5 0l0 -3.7M42.2 89.5l-1.7 0.4l-1.5 0.1l-0.3 -2.1l-0.4 -3.5l0 -1.2l-2.2 -0.2l-1.8 1.2l-0.9 0.2l-2.1 0.2l-2.1 -3.9l-5.6 0l-2.1 0.2M21.5 80.4l1.4 -2M42.2 89.5l2.3 1.3l1.2 0.5l2.1 -0.5l2.1 1.5l1.1 1.6l1.4 0l0 -2.1l-1.4 0.4l-1.1 -0.9l0.4 -2.5l0 -2.1l0.5 -1.4l3.2 -0.5M21.1 79.1l1.8 -0.7l2.4 0.4l1.6 -0.9l1.6 -3.7l2.6 -3l0.6 -1.7l0.1 -3.2l0.9 -2.1M32.7 64.2l0 -1.6l1.6 -1.2l2.6 1.2l2.7 0.5l1.7 -1l2.7 -0.5l4.2 -0.2M19.5 77.2l1.3 -0.7l1.2 -2.1l2.3 0.2l1 -0.9l0.2 -2.3l-1.1 -1.1l1.1 -1.7l-2.1 -0.5l-0.2 -1.6M17.2 68.6l2.7 0l0 -2.1l-2.7 -0.2M19.9 66.5l3.3 0l2.3 0l2.6 0.9l0.4 -0.9l-2.1 -2.3l-0.7 -2.6l-0.2 -1.8l1.8 -2.6M28.5 66.5l0.7 -2.3l3.5 0M15.1 61.9l0.7 -1.8l2.1 -1.9l2 0.5l0.9 -0.7l0.7 -2.4l1.7 -2.1l1.1 -2.5l1.4 -0.9l-0.7 -1.6l0 -0.8M23.7 46.3l-1.7 1l-3.2 -0.5l-1.9 1l-1.6 -0.3l-1.6 -0.5l-1.6 0.5l-2.4 -1.6l-2.5 0.7l-0.9 3.2M6.3 49.8l0.4 2.1l-1.8 2.4l-0.2 2.2l0 2.6M2.8 59.4l0 -1.4l0 -3.5l-0.3 -0.7l-1.1 -1.7l0.2 -1.1M636 59.4l0 -1.4l0 -3.5l-0.4 -0.7l-1 -1.7l0.1 -1.1M2.1 59.6l-1 -1.4l-0.2 -1l0.2 -1.3l-0.4 -1l0 -2.1l-0.7 -1.1l-0.2 -0.9M635.3 59.6l-1.1 -1.4l-0.2 -1l0.2 -1.3l-0.3 -1l0 -2.1l-0.8 -1.1l-0.1 -0.9M4.2 49.2l-0.2 0.6l-1.5 0.5l-0.9 0.7l-1.8 -0.2l-4.7 0.2l-0.2 1.2l0.2 1.1l-2.1 -0.2l-1.3 0l-1.4 -1M637.4 49.2l-0.2 0.6l-1.6 0.5l-0.9 0.7l-1.7 -0.2l-4.8 0.2l-0.2 1.2l0.2 1.1l-2.1 -0.2l-1.2 0l-1.4 -1M-9.7 52.1l0.4 -1.8l1.6 -1.2l0.1 -2l1.8 -0.1l0.7 -1.3l1.6 -0.3l1.7 -1.1l2.2 -0.3l0.3 1.7l1.1 1.1l0 0.9l1.9 0.3l0.5 1.2l2.1 0.6M623.5 52.1l0.3 -1.8l1.6 -1.2l0.2 -2l1.7 -0.1l0.7 -1.3l1.6 -0.3l1.8 -1.1l2.1 -0.3l0.4 1.7l1 1.1l0 0.9l1.9 0.3l0.6 1.2l2.1 0.6M627.7 61.4l0.5 -0.9l-0.7 -2.1l1.3 -2.5l-0.6 -2.6M620 62.6l0.1 -2.5l-1.7 -1.2l-0.2 -1.9l1.1 -1.6l0.1 -1.6l-0.3 -1.4l3.1 -0.7l1.3 0.4M618.2 57l-1.6 0.3l0 -1.7l-1.6 -0.2l-2.1 2.8M615 55.4l-0.5 -1.1l-1 -1.5l-2.3 0.1l-1.4 1.6M619.1 52.4l-0.5 -1.4l-1.3 -2.5l-2.3 0.4l-1.9 -0.4l-1.6 0.2l-2.4 -0.7l0 1.8l-2.3 1.4M609.1 48l-5.3 0.5M603.6 47.3l3.2 -0.2l2.1 -0.1l0 -0.6l-2.1 -0.1l-2.8 0.1M604.1 42.2l0.4 -0.9l3.1 -0.1l2.2 1.7l1.9 1.4l0.3 2.3l1.1 1.9M7.4 36.8l0 4.7l-1.2 1.8l-3.9 0.1l-1.9 0.6M640.5 36.8l0 4.7l-1.2 1.8l-3.9 0.1l-1.9 0.6M60.1 15.3l1.3 3.2M61.5 18.5l0.9 -3.6l0.2 -2.1M61.7 12.1l0.9 -0.3l1.4 -1.2l0.2 -1.1l-0.9 0M62.6 11.8l0 1M63.1 7l1.3 -0.3l0.1 -1.1l2.3 0l3.5 0l4.1 -0.7M74.4 4.9l-1.8 1.4l-0.5 3.5l-3.9 1.8l-3.5 1.9l-2.1 -0.7M68.2 11.6l0.7 2.1l-3.8 1.2l1.7 1.8l-0.8 0.9l-1.5 0.2l-1.2 1.2l-1.7 -0.2M68.9 13.7l2.2 0.5l2.8 1.5l4.7 3.3l3.2 0.2l2.1 1l1.2 0M81.8 19.2l0.9 -1.6l1.5 0M74.4 4.9l4.4 0M78.8 4.9l1 2.1l1.5 0.7l-1.3 2l0.9 2.3l3.2 2.1l-0.2 1.7l1.4 1.8M78.8 4.9l-1.1 -2.3l0.6 -2.1l0.5 0l3 1.4l2.6 -1.4l1.6 2.3M78.3 0.5l-1.4 -0.9l-0.2 -1.5M78.8 0.5l1.2 -1.6l1.8 2l0 1M80 -1.1l-0.9 -1M75.3 41.5l0.9 -1.8l2.1 0l4.4 0.8l1.7 -2.2l7.1 -1.4l5.2 -1.7l1.3 -3.5l-0.9 -1.3l-4.6 -0.3l-1.7 -2.3M91.5 36.9l1.9 4.3M97.1 30.4l1.4 -2.3l0.7 -1.5M98.5 28.1l-0.4 -0.3l0.6 -3.2M89.3 26.9l0.9 0.2M95 4.7l2.6 -1.2l3.2 -0.3l2.1 0.8l1.7 0.9l3 1.1l0 1.7M107.6 7.7l-1 2l0 2.3l0.5 2.9l1.6 0.9l-1.6 2.1M107.1 17.9l1.4 2l1.9 0.9l0 1.7l0.9 0.9l-2.3 0.7l-0.7 1.9M107.1 17.9l2.8 0.7l2.7 -0.1l3.8 -0.6l0.4 -1.9l2.4 -0.9l2.7 -0.9l0.3 -1.9l1.4 -0.7l-0.5 -1l1.9 -0.8l0.9 -1.9l-0.1 -1.4l3.5 -1l2.4 -0.6M107.6 7.7l2.7 0.6l3.1 -1.8l2 -1.9l3.8 0.3l2.7 0.2l1.6 -0.9l0.5 -0.9l1.4 -0.3l0.5 2.6l3 -1l2.8 0.3M117 4.6l0.1 -1.1l-2.8 -1.7l-2.3 -0.7l-2.3 -1.1l-2.4 -2.1l-1.8 -1.1M119.2 4.9l1.1 -1.7l-1.2 -2.5l1.4 0l1.4 -1.1l1.9 0.2l0.4 -1.4l0.3 1.2l3.9 1.5l1.4 -0.2l-0.2 2.6l2.1 1.4M124.2 -1.6l2.4 -0.7l2 0.9l-2.5 1l-1.6 0M131.7 4.9l-0.7 -2.3l-1.2 -1.7l1.8 -1.8l3.5 -0.9l2.6 -0.5l3.4 -1.6M119.9 28.8l1.1 -1.2l3.7 -0.2l-1.4 -2.2l0.5 -2.3l-1.4 -0.4l1.4 -1.4l2.7 0l1.9 -2.1l1.6 -1.8l1.2 -1.5l-0.2 -1.6l1.4 -0.6l-1.7 -1.2l-0.7 -2.6l5.1 -2l1.7 0.2M131.7 4.9l2 2.1l3.1 0.9M136.8 7.9l2 1.9l-0.2 2l1.2 1.4l-1.4 1.7l4.1 2.3M142.5 17.2l-1.6 2.5l3 1.6l2.6 0.9l2.6 0.5l1.8 0.9l2.6 0.3l1.4 -0.2l0 -2.4M142.5 17.2l2.1 0.4l2.3 1.4l2.8 1.2l1.6 0.9l3.6 0.2l1.5 1M156.4 22.3l1.5 1.1l3 -0.2l1.1 -0.2l-0.7 -1.5l-2.5 -0.6l-1.4 0l-1 1.4M154.9 23.7l1.5 -1.4M161.3 21.5l4 -2l3.5 -0.9l2.3 2.2M156.5 32l0 -1.2l-0.3 -1.3l-0.2 -1.7l-1.1 -0.7l0.4 -1.1l1.1 -1l-0.8 -1.1l2 0.5l0.3 1.5l4.6 0.5l-0.3 1.2l-1.8 0.5l0.3 1.4l0.8 0l0.8 -0.8l0.6 3.1l-0.7 1.3l0.1 0.8M162.9 31.8l1 -0.5l0.2 -3.2l2.5 -2.4l0.8 -2.3l3.2 -1.8l0.5 -0.8M171.1 20.8l2.3 1.2l0.2 3l-1.9 1.7l0.1 1.4l2.1 0l0 1.4l1.1 0.6l-0.5 1.4l1.7 1.2l1.8 0.4l-1.9 1.5M176.1 34.6l-2 0.6l-1.7 0.5l-0.6 2.1l-0.3 1.2l2.1 2.7l-0.9 1.9l1.8 2.7l0 1.9l0.7 1.4l-1.1 1.8l-0.3 0.8l-0.4 0.7M176.1 34.6l0.7 1.5l1.2 0l-0.4 2.6l0.4 0.9l1.6 -1.3l1.2 0.6l1.1 -0.9l2.2 1.6l0.2 1.9l1.2 1.2l0 2.1M185.5 44.8l-1.2 0.2l-3.1 0.2l-0.9 1.2l-0.2 2l0.9 1.4M178 33.1l1 0l0 -2.1l0.7 0l1.1 1.2l0.4 1.4l2.6 0.9l-0.9 1.6l1.8 1.4l2.6 3l1.8 2.6l0 1.4M185.5 44.8l0.9 0.9l2.7 -1.2M189.1 44.5l0 4.2l-2.1 0.9l-0.7 0.5l0.5 0.9l-2 0.2l-1.2 0.9M179.7 31l3 -0.4l2.5 -1.2l2.5 0.9l0.1 1.4l2.1 0.8M176.1 59.1l1.7 1.2l1.2 -0.2l0.6 -0.7M192.8 66.8l0.7 1.4l2.6 0.4l1.2 -0.7l2.3 0.2l2.3 -1.3l1.2 -2.1l0.4 -1.7l3.3 0M200.7 62.3l1 1l1.1 -0.5l0 -1.1M248 74.9l0 11.5M219.8 85.7l0.2 1.2M221.8 4l1.6 -1l2.2 -0.5M218.6 0.2l2.1 -1.6l2.5 -1.8M620.1 4.9l-0.1 -1.4l0.8 -0.3l-0.5 -2.1l0.5 -0.6l0.2 -2.3l1.2 -1M45.7 -1.2l1.1 -1.1M35.2 0.5l1.2 -1l0.5 -1.1M427.2 13.2l4.2 -0.4l-0.2 0.4l6.6 2.1l5.1 0l0 -0.9l2.9 0l2.7 2l0.9 1.9l2.2 1l1.3 -1.4l1.9 0l1.2 1.3l2.2 2.8l0.8 1.9l3.2 0.9M471 44.8l0 -1.4l0.9 -1.4l2.3 0l0 -0.5l-1.8 -1.5l0.7 0l0 -1l3.3 0l0.6 -0.1l0.9 -1.1M476.4 39l-0.1 3.4l0.5 0M478 42.7l-1.7 1.4l-0.3 0.9l-1.3 1.2M476 45l1.5 0.7l1.2 1.1l0.2 0.3M479.6 47.5l1.1 -1.4l1.7 -0.4l1.4 -1.4l3 -0.3M482.4 50.8l1.4 0.2l2.1 0.2M487.9 53.5l-0.6 0.8l0 1.8M497 55.2l0.4 1.3l-1.3 1.2M507.8 49.5l-1.6 1.3l-1.4 3.2l1 1.6l0 1.7l0.9 0.7l3.2 0l1.2 1.6l3.3 -0.2l-0.5 1.6l0 2l0.9 1.4l-0.9 1l1.4 2.8l0.2 0M515.5 68.2l-0.4 -0.8l-1.7 0l-3 0l0 1l1 0.2l-0.3 0.5l-1.1 0.2l0 1.4l1.1 1.6l-0.9 5.4M510.2 77.7l-1.4 -0.7l1.1 -1.9l-3.2 -0.7l-1.9 0l-1.8 -2.3l-2.1 -1.6l-1.9 -0.9l-2.2 -0.5l-2.2 -1.2M500.9 70.5l-0.7 2.5l-1.8 1.9l-2.4 1.3l-0.7 0.8l-0.6 1.4l-0.7 0.7l-0.8 -0.8l-1.5 -0.2l0 -1.6l0.4 -0.2M510.2 77.7l-1.7 0.4l-3.4 1.2l-0.7 1.8l-1.4 2.1l0.5 0.2l1.3 2.8l1.2 0.9l0.2 0.8l2.8 -0.8l0 2.6l1.7 -0.1M510.7 89.6l1.6 2.7l-0.5 2.1l-0.7 2.3l0.3 0.9l0.7 1.4l-1.4 1.8l0.2 0.3l-1.6 1.5M510.9 101.1l1.1 2.7l0.7 1.7l0.5 2.7l0.7 2.2l1.1 0M515 110.4l0.3 0.4l-0.5 1.8l-2.1 1l0.3 3.4l-0.5 1l-1.9 2.5l-0.6 2.6l-0.8 2.1l0.8 3.7l0.4 1.8l-1.1 1.6l0 1.7l-1.2 0.7l0.2 3.4l-1.3 2.6l-0.1 3.5M515 110.4l1.7 -1.7l3 0.9l0.4 0.8l2.8 -1l0.2 0M523.1 109.4l0.5 -3l0.9 -1.6l4.9 -0.5l1.4 0.9l0.2 0.5M531 105.7l0.5 -1.9l0.5 -1.4l-1.6 -1.6l0 -1.8l-3.1 0l-0.6 -4.4l-2.6 -1l-1.8 -0.9l-2.4 -0.5l-1.6 -1.3l-0.2 -3.5l-2.1 0.4l-2.4 1.4l-2.9 0.4M531 105.7l0.3 3.5l2.5 0.2l1.4 0.3l0.5 2.9l1.9 0.1l-0.5 2.7M523.1 109.4l2.8 2.8l3.5 1.8l2.4 1l-1.7 3.2l3.7 0.3l1 -0.1l2.3 -3M537.1 115.4l1.4 0.1l0.2 2l-2.3 1.7l-1.4 1.1l-3.2 3.2M531.8 123.5l2.9 1l0.8 0.2l2.7 1.8l1 1.2l0 1.9M531.8 123.5l-1 3.1l-0.4 3.5M515.5 68.2l2.5 0.7l2.6 -1.2l-0.5 -1.7l1.5 0.3l-1.5 -2.1l-0.6 -1.1l3 0.7l0.4 -0.5l3 -0.9l0.5 -1.2M526.4 61.2l-1.2 -1.2l0.5 -1.4l1.4 -0.7l-0.7 -0.7l1.6 -1.4M526.4 61.2l1.2 0.4l0.2 1l0.7 0.9l-0.9 1.9l0.7 1.8l1.4 1l1.4 -0.5l1.3 -0.9l1.4 0.2M533.8 67l-1.4 -2.5l-1.3 -1.2l0.2 -1.4l1.1 -0.9l0.3 -1.2M533.8 67l1 -0.2l-0.1 -0.5l2.4 0l2 0l1.5 -0.3l1.6 -3M537.1 66.3l0.7 -1.2l-0.5 -3.2l0.9 -1.6M507 35.7l0 1.9l-0.5 0l0.5 1.1" fill="none" stroke="#555" stroke-width="1.65" stroke-linejoin="round"/>
<path d="M432.6 5.3l34.1 0M466.7 6.2l7.9 0l-0.3 0.8l1.1 0M475.7 6.2l2.6 0l0 -0.3l7.6 0.1l3.6 0l10.2 0.1M453.7 0l11.8 0M422.1 -3.5l0 5.3l9.5 7l-0.2 4M432.6 -3.5l0 10.2l-1.2 0.2l0.2 1.9M441.4 15.3l0 -18.8M445.7 14.1l6.2 0l0 -8.8M451.9 6.2l5.4 0l0 3.3l1.4 0.5l2.1 0.4l1.8 0.5l1.7 0l2.6 0.4l0.8 0.1l0 2.7l0.7 1.7l-0.2 2.3M467 11.3l0 -3.2l-0.3 -1.9l0 -4.6l-1.2 -1.6M467.7 12.3l5.1 0M475.7 17.2l-0.3 -1.4l-3.4 0l1.1 -1.7l-0.3 -1.8l1 -2.6l0.9 -0.9l0.9 -2.1l0.7 -1.4l-0.6 -1.4l-1.2 -1.8l-0.9 -0.9l-1.2 -1.2l0 -0.7l0.7 -1.1M478.2 8.8l-0.5 5.4l0 2.9M482.6 8.8l0.7 3.7l0.4 3.3M479.3 17.1l-0.2 -1.3l4.6 0l0.1 0.6l4.8 0.1l0.3 0.4l0.9 -0.5M474.3 8.8l10.6 0l2.1 0l1.4 -0.4l2.3 0.2l0.3 0.5l2 0l2.1 1.7M487 8.8l1.9 2.6l1.6 2.5M484.9 8.8l2.3 -1.4l2.3 -1.4M478.4 3.9l0.9 -2.7l0 -4.7M484 1.6l0 -5.1M476.3 5.3l2.1 -1.4l1.7 -0.2l1.8 -0.2l1.1 -1.2l1 -0.7l1.4 0.5l2.5 0.7l1 -0.9l0.6 -0.5l1.4 -0.9l0.7 -1.6l0 -2.4M485.9 6l3 -1.6l-1 -1.2M489.1 4.4l2.8 0l1.4 -1.8l2.1 -1.5l1.1 0.1l1.2 0.7l1.3 1.6M491.6 0.5l8.2 0l0 2.2l1.4 0M493.3 0.5l0 0.9l2.1 -0.3M500.4 0.4l1.4 -0.8l-0.9 -0.8l0.9 -1.3M453.7 5.3l0 -8.8M437.8 -1.8l15.9 0M437.8 -3.5l0 1.7M465.5 0l-0.8 -1.1l-0.4 -1.5" fill="none" stroke="#555" stroke-width="2" stroke-linejoin="round"/>
<path d="M0 70.3 H633.1" stroke="#444" stroke-width="1.5" stroke-dasharray="4.5 5.5" stroke-dashoffset="1.6" fill="none"/>
<path d="M316.6 0 V140.7" stroke="#444" stroke-width="1.5" stroke-dasharray="4.5 5.5" stroke-dashoffset="0" fill="none"/>
</svg>
<path d="M0 0v-4.8M0 140.7v4.6M105.5 0v-4.8M105.5 140.7v4.6M211.1 0v-4.8M211.1 140.7v4.6M316.6 0v-4.8M316.6 140.7v4.6M422.1 0v-4.8M422.1 140.7v4.6M527.6 0v-4.8M527.6 140.7v4.6M633.1 0v-4.8M633.1 140.7v4.6M0 123.1h-4.8M633.1 123.1h4.6M0 70.3h-4.8M633.1 70.3h4.6M0 17.6h-4.8M633.1 17.6h4.6" stroke="#000" stroke-width="2.6" stroke-linecap="round" fill="none"/>
<path d="M17.6 0v-3.4M17.6 140.7v3.4M35.2 0v-3.4M35.2 140.7v3.4M52.8 0v-3.4M52.8 140.7v3.4M70.3 0v-3.4M70.3 140.7v3.4M87.9 0v-3.4M87.9 140.7v3.4M123.1 0v-3.4M123.1 140.7v3.4M140.7 0v-3.4M140.7 140.7v3.4M158.3 0v-3.4M158.3 140.7v3.4M175.9 0v-3.4M175.9 140.7v3.4M193.5 0v-3.4M193.5 140.7v3.4M228.6 0v-3.4M228.6 140.7v3.4M246.2 0v-3.4M246.2 140.7v3.4M263.8 0v-3.4M263.8 140.7v3.4M281.4 0v-3.4M281.4 140.7v3.4M299 0v-3.4M299 140.7v3.4M334.2 0v-3.4M334.2 140.7v3.4M351.8 0v-3.4M351.8 140.7v3.4M369.3 0v-3.4M369.3 140.7v3.4M386.9 0v-3.4M386.9 140.7v3.4M404.5 0v-3.4M404.5 140.7v3.4M439.7 0v-3.4M439.7 140.7v3.4M457.3 0v-3.4M457.3 140.7v3.4M474.9 0v-3.4M474.9 140.7v3.4M492.4 0v-3.4M492.4 140.7v3.4M510 0v-3.4M510 140.7v3.4M545.2 0v-3.4M545.2 140.7v3.4M562.8 0v-3.4M562.8 140.7v3.4M580.4 0v-3.4M580.4 140.7v3.4M598 0v-3.4M598 140.7v3.4M615.6 0v-3.4M615.6 140.7v3.4M0 105.5h-3.4M633.1 105.5h3.4M0 87.9h-3.4M633.1 87.9h3.4M0 52.8h-3.4M633.1 52.8h3.4M0 35.2h-3.4M633.1 35.2h3.4" stroke="#000" stroke-width="1.7" fill="none"/>
<rect x="0" y="0" width="633.1" height="140.7" fill="none" stroke="#000" stroke-width="2.8"/>
</g>
<text class="k" x="843.2" y="461.6" font-size="34.9">21-Dec to 30-Dec</text>
<g transform="translate(102.3 684.4)">
<svg x="0" y="0" width="633.1" height="140.7" viewBox="0 0 633.1 140.7" overflow="hidden">
<rect width="633.1" height="140.7" fill="#f8f8f8"/>
<path d="M-9 1.7C-2.5 -3.2 22 0.5 26.8 1.7C31.7 2.9 20.5 5.5 18.1 8.3C15.7 11 15.8 13.9 13.7 17C11.6 20.1 10.5 23.6 6.4 25.7C2.4 27.8 -6.2 33 -9 28.7C-11.8 24.3 -15.5 6.6 -9 1.7Z" fill="#fddbc7"/><path d="M76.4 57.8C79.8 53.6 85.1 52.2 88 52C90.9 51.7 92.9 54 92.4 56.3C91.9 58.7 88 61.1 85.1 65.1C82.2 69 79 74.8 76.4 78.2C73.8 81.6 71.9 84.5 70.5 84C69.2 83.5 68 80 69.1 75.3C70.1 70.6 73 62 76.4 57.8Z" fill="#fddbc7"/><ellipse cx="45.8" cy="50.5" rx="5.1" ry="7.3" fill="#fddbc7"/><ellipse cx="113.5" cy="33" rx="3.6" ry="3.6" fill="#fddbc7"/><ellipse cx="128.1" cy="81.1" rx="2.9" ry="5.8" fill="#fddbc7"/><ellipse cx="67.6" cy="114.6" rx="4.4" ry="10.2" fill="#fddbc7" transform="rotate(-15 67.6 114.6)"/><ellipse cx="57.4" cy="132.8" rx="4.4" ry="5.8" fill="#fddbc7"/><path d="M194.4 34.5C197.5 30.5 203.3 29.4 207.5 28.7C211.7 27.9 215.9 27.2 217.7 30.1C219.5 33 219.5 42.6 217.7 44.7C215.9 46.8 210.4 43.1 207.5 41.8C204.6 40.5 204.3 35.3 201.7 37.4C199.1 39.5 195 51.1 192.9 53.4C190.8 55.8 189.8 53.9 190 50.5C190.3 47.1 191.2 38.4 194.4 34.5Z" fill="#fddbc7"/><ellipse cx="140.5" cy="25.7" rx="8.7" ry="7.3" fill="#d1e5f0"/><ellipse cx="104.1" cy="14.1" rx="4.4" ry="5.8" fill="#d1e5f0"/><ellipse cx="74.9" cy="8.3" rx="3.6" ry="3.6" fill="#d1e5f0"/><ellipse cx="194.4" cy="21.4" rx="5.8" ry="7.3" fill="#d1e5f0" transform="rotate(30 194.4 21.4)"/><ellipse cx="182.7" cy="86.9" rx="7.3" ry="13.1" fill="#d1e5f0" transform="rotate(-20 182.7 86.9)"/><path d="M112.8 121.9C113.3 118.5 118.7 112.5 121.5 111.7C124.4 110.9 125.9 115.2 128.8 117.5C131.7 119.9 133.6 122.7 137.6 124.8C141.5 126.9 146.5 127.1 150.7 129.2C154.9 131.3 159.6 134.8 160.9 136.5C162.2 138.2 163.7 138.3 158 138.7C152.2 139 135.9 140.1 128.8 138.7C121.7 137.2 121.5 133.7 118.6 130.6C115.7 127.6 112.3 125.3 112.8 121.9Z" fill="#d1e5f0"/><path d="M-9 89.8C-5.7 87.7 4.2 97.8 9.4 101.5C14.5 105.2 16.4 106.8 19.6 110.2C22.7 113.7 27.4 119.9 26.8 120.4C26.3 121 20.3 115.5 16.6 113.2C13 110.8 11.1 107.3 6.4 107.3C1.8 107.3 -6.2 116.3 -9 113.2C-11.8 110 -12.3 91.9 -9 89.8Z" fill="#d1e5f0"/><path d="M-9 117.5C-5.7 114.5 5 118.1 9.4 121.9C13.7 125.7 18.5 135.6 15.2 138.7C11.9 141.7 -4.6 142.5 -9 138.7C-13.4 134.9 -12.3 120.5 -9 117.5Z" fill="#d1e5f0"/><ellipse cx="38.5" cy="111.7" rx="3.6" ry="4.4" fill="#d1e5f0"/><ellipse cx="109.9" cy="64.3" rx="3.6" ry="1.7" fill="#d1e5f0"/><ellipse cx="219.4" cy="35.9" rx="10.9" ry="5.1" fill="#fddbc7" transform="rotate(-15 219.4 35.9)"/><ellipse cx="242.7" cy="13.4" rx="2.2" ry="2.9" fill="#fddbc7"/><ellipse cx="296.6" cy="33" rx="11.7" ry="15.3" fill="#d1e5f0" transform="rotate(30 296.6 33)"/><ellipse cx="281.3" cy="27.9" rx="4.4" ry="2.2" fill="#d1e5f0" transform="rotate(-30 281.3 27.9)"/><path d="M287.1 5.3C287.1 3.9 284.5 2.4 295.1 1.7C305.7 1 336.4 -1.3 346.1 1.7C355.8 4.7 349.8 13.6 349 18.5C348.2 23.3 344.1 25 341.7 28.7C339.4 32.3 337.2 34.9 335.9 38.9C334.6 42.8 336.6 48.9 334.5 50.5C332.4 52.1 327.1 50.2 324.3 47.6C321.4 45 320 42.5 318.4 35.9C316.9 29.4 319.7 15.9 315.5 11.2C311.3 6.4 300.2 10.8 295.1 9.7C290 8.7 287.1 6.8 287.1 5.3Z" fill="#fddbc7"/><path d="M356.3 1.7C366 -0.5 402.5 0 414.6 1.7C426.7 3.4 421.2 7.4 423.3 11.2C425.4 15 428.3 20.2 426.2 22.8C424.1 25.4 416.9 24.4 411.7 25.7C406.4 27.1 402.3 28.8 397.1 30.1C391.9 31.4 387 33 382.5 33C378.1 33 374.4 32.2 372.3 30.1C370.2 28 373 24.3 370.9 21.4C368.8 18.5 363.3 17.6 360.7 14.1C358.1 10.5 346.6 3.9 356.3 1.7Z" fill="#d1e5f0"/><ellipse cx="385.4" cy="44" rx="6.6" ry="2.6" fill="#d1e5f0"/><ellipse cx="392" cy="35.2" rx="3.6" ry="1.5" fill="#d1e5f0"/><ellipse cx="360" cy="62.9" rx="4.4" ry="1.7" fill="#d1e5f0"/><ellipse cx="375.2" cy="61.4" rx="5.1" ry="2.2" fill="#d1e5f0" transform="rotate(-25 375.2 61.4)"/><ellipse cx="403.7" cy="51.2" rx="8" ry="5.8" fill="#fddbc7"/><path d="M279.8 79.6C281.8 76.1 283.6 75.7 286.4 76C289.1 76.3 293 78.6 295.1 81.1C297.2 83.6 297 85.9 298 89.8C299.1 93.8 298.3 99.3 300.9 103C303.6 106.6 310 107.9 312.6 110.2C315.2 112.6 317.4 114.8 315.5 116.1C313.7 117.4 307.1 118.1 302.4 117.5C297.7 117 293.5 115 289.3 113.2C285.1 111.3 281.6 110.5 279.1 107.3C276.6 104.2 275.3 100.7 275.4 95.7C275.6 90.7 277.9 83.2 279.8 79.6Z" fill="#d1e5f0"/><path d="M266 89.8C268.6 87.5 269 82.6 270.3 82.6C271.7 82.6 273.5 87 273.3 89.8C273 92.7 268.9 94.9 268.9 98.6C268.9 102.3 272.7 107.1 273.3 110.2C273.8 113.4 273.6 117.1 271.8 116.1C270 115 265.9 108.1 263.1 104.4C260.2 100.7 255.3 98.3 255.8 95.7C256.3 93.1 263.4 92.2 266 89.8Z" fill="#fddbc7"/><ellipse cx="236.8" cy="104.4" rx="8.7" ry="2.9" fill="#fddbc7" transform="rotate(40 236.8 104.4)"/><path d="M225.2 127.7C225.7 125.5 230.5 125 233.9 126.3C237.3 127.6 241.5 132.8 244.1 135C246.7 137.2 250.9 138 248.5 138.7C246.1 139.3 235.2 140.6 231 138.7C226.8 136.7 224.7 130 225.2 127.7Z" fill="#fddbc7"/><ellipse cx="332.3" cy="103.7" rx="5.1" ry="2.9" fill="#fddbc7" transform="rotate(30 332.3 103.7)"/><ellipse cx="392" cy="110.2" rx="3.6" ry="5.1" fill="#fddbc7" transform="rotate(-20 392 110.2)"/><ellipse cx="356.3" cy="129.9" rx="5.8" ry="10.9" fill="#fddbc7" transform="rotate(-30 356.3 129.9)"/><ellipse cx="319.9" cy="130.6" rx="6.6" ry="8" fill="#d1e5f0"/><ellipse cx="293.7" cy="136.8" rx="4.4" ry="2.2" fill="#d1e5f0"/><ellipse cx="293.7" cy="121.9" rx="2.2" ry="2.9" fill="#d1e5f0"/><ellipse cx="420.6" cy="15.5" rx="5.1" ry="7.3" fill="#d1e5f0"/><path d="M458.5 18.5C457.7 17.1 464.2 14.2 465.8 11.2C467.4 8.2 461.2 3.4 467.2 1.7C473.3 0 494.6 0 499.3 1.7C504 3.4 496.6 8.4 493.5 11.2C490.3 13.9 486 15.7 481.8 17C477.6 18.3 474.3 18.2 470.2 18.5C466 18.7 459.3 19.8 458.5 18.5Z" fill="#fddbc7"/><path d="M499.3 14.1C501.4 9.9 510.5 7.4 516.8 5.3C523.1 3.2 532.2 1.4 534.3 2.4C536.4 3.5 531.1 7.8 528.4 11.2C525.8 14.6 522.3 18 519.7 21.4C517.1 24.8 516.5 28.8 513.9 30.1C511.2 31.4 507.7 31.5 505.1 28.7C502.5 25.8 497.2 18.3 499.3 14.1Z" fill="#d1e5f0"/><ellipse cx="552.5" cy="30.8" rx="8.7" ry="15.3" fill="#d1e5f0" transform="rotate(20 552.5 30.8)"/><ellipse cx="544.5" cy="4.6" rx="4.4" ry="2.9" fill="#fddbc7"/><ellipse cx="592.5" cy="9.7" rx="16" ry="12.4" fill="#d1e5f0"/><path d="M621.7 1.7C624.6 -1.6 638.5 -2.6 642.1 1.7C645.8 6 645 22.5 642.1 25.7C639.3 29 629.7 24.2 626 19.9C622.4 15.6 618.8 5 621.7 1.7Z" fill="#fddbc7"/><path d="M556.1 50.5C555.8 48.4 564.1 44.8 567.8 40.3C571.4 35.9 573.1 28.9 576.5 25.7C579.9 22.6 584.1 22 586.7 22.8C589.3 23.6 590.8 26.7 591.1 30.1C591.3 33.5 590 38.1 588.2 41.8C586.3 45.4 584.3 48.7 580.9 50.5C577.5 52.3 573.7 52 569.2 52C564.8 52 556.4 52.6 556.1 50.5Z" fill="#fddbc7"/><path d="M525.5 40.3C527.1 40.3 529.9 42.7 532.8 46.1C535.7 49.5 540.8 55.8 541.5 59.2C542.3 62.7 540.1 62.7 537.2 65.1C534.3 67.4 529.2 70 525.5 72.4C521.8 74.7 519.4 77.9 516.8 78.2C514.2 78.5 512.5 76.2 510.9 73.8C509.4 71.5 506.5 67.4 508 65.1C509.6 62.7 516.3 62.5 519.7 60.7C523.1 58.9 526.2 57.5 527 54.9C527.8 52.3 524.3 48.8 524.1 46.1C523.8 43.5 523.9 40.3 525.5 40.3Z" fill="#fddbc7"/><path d="M481.8 62.2C484.7 60.3 491 57.4 492 59.2C493.1 61.1 487.9 67.9 487.6 72.4C487.4 76.8 489 79.8 490.5 84C492.1 88.2 496.9 94.4 496.4 95.7C495.9 97 491.3 93.4 487.6 91.3C484 89.2 478.9 86.4 476 84C473.1 81.7 471.6 80.8 471.6 78.2C471.6 75.6 474.1 72.3 476 69.4C477.8 66.6 478.9 64 481.8 62.2Z" fill="#fddbc7"/><ellipse cx="506.6" cy="81.1" rx="5.8" ry="7.3" fill="#fddbc7"/><ellipse cx="442.5" cy="72.4" rx="14.6" ry="6.6" fill="#d1e5f0" transform="rotate(15 442.5 72.4)"/><ellipse cx="500.7" cy="111.7" rx="6.6" ry="10.2" fill="#d1e5f0" transform="rotate(-10 500.7 111.7)"/><path d="M532.8 138.7C523.1 136.2 535.7 129.4 538.6 124.8C541.5 120.2 545.4 116 548.8 113.2C552.2 110.3 554.7 112.7 557.6 108.8C560.5 104.9 562.2 94.7 564.9 91.3C567.5 87.9 570.3 88 572.1 89.8C574 91.7 573.2 97.6 575.1 101.5C576.9 105.4 579.7 108 582.3 111.7C585 115.4 587.8 117 589.6 121.9C591.5 126.7 602.8 135.6 592.5 138.7C582.3 141.7 542.5 141.1 532.8 138.7Z" fill="#fddbc7"/><path d="M589.6 107.3C591.2 106.8 598.4 110.4 604.2 111.7C610 113 614.8 113.6 621.7 114.6C628.5 115.7 638.5 113.2 642.1 117.5C645.8 121.9 649 134.9 642.1 138.7C635.3 142.5 611 141.1 604.2 138.7C597.4 136.2 605.8 129.1 604.2 124.8C602.6 120.5 598.1 117.8 595.4 114.6C592.8 111.5 588 107.9 589.6 107.3Z" fill="#d1e5f0"/><ellipse cx="516.8" cy="135.7" rx="5.8" ry="4.4" fill="#d1e5f0"/><ellipse cx="521.1" cy="113.2" rx="2.2" ry="7.3" fill="#fddbc7"/><ellipse cx="599.1" cy="100.8" rx="2.2" ry="1.2" fill="#fddbc7" transform="rotate(30 599.1 100.8)"/><ellipse cx="5.7" cy="4.6" rx="7.3" ry="3.6" fill="#f4a582"/><ellipse cx="326.4" cy="24.3" rx="4.1" ry="8.7" fill="#f4a582"/><ellipse cx="324.3" cy="9.7" rx="2.2" ry="3.6" fill="#f4a582"/><ellipse cx="312.6" cy="2.4" rx="5.8" ry="1.2" fill="#f4a582"/><ellipse cx="389.8" cy="5.6" rx="12.4" ry="6.1" fill="#92c5de"/><ellipse cx="286.4" cy="98.6" rx="5.5" ry="10.2" fill="#92c5de" transform="rotate(-25 286.4 98.6)"/><ellipse cx="594" cy="6.5" rx="9.5" ry="7" fill="#92c5de"/><ellipse cx="505.8" cy="120.4" rx="1.5" ry="4.4" fill="#92c5de"/><ellipse cx="565.6" cy="108.8" rx="2.2" ry="1.5" fill="#f4a582"/><ellipse cx="594" cy="2.7" rx="5.1" ry="2.6" fill="#4393c3"/>
<path d="M-10.4 7.4l1.1 -0.2l1.4 1.2l2.6 -0.1l1.4 0.3l2.1 -1l1.8 -0.4l2.6 -1l2.7 -0.6l3.5 0l3.5 -0.3l2.8 0.2l2.1 -0.8l0.9 0.6l1.2 0l-0.7 1l-0.1 1.4l0.8 0.7l-1.4 1.6l1.3 1.1l1 0.9l1.8 0.5l1.2 0l3.5 0.9l0.6 1.5l2.6 0.9l3.5 1.3l1.8 -1.3l0 -2.3l2.6 -1l2.7 0.5l3.5 1.6l3.5 0.7l3.5 0.7l1.8 -0.9l1.7 -0.2l2.3 0.4l0.4 2.5l0.3 1.5l1.4 1.8l0.9 1.8l0.9 1.7l0.9 1.8l0.8 1.7l0.2 1.8l2.3 1.8l0.5 1.7l0 2.5l1.4 1.9l1.1 0.9l1.2 3.5l0.4 0.7l1.7 1.1l1.3 0.8l2.2 2.3l1.3 1.3l0.2 1.5l-0.6 0.2l1.8 1.8l1.7 0.2l1.8 -0.6l2.6 -0.7l2.7 -0.3l2.6 -1.1l1.2 0l-0.3 2.5l-0.9 2.6l-1.2 1.8l-1.4 2.6l-1.8 3.5l-1.7 2.7l-1.8 1.4l-1.2 0.3l-2.3 1.8l-2.7 2.3l-1.7 2.4l-1.8 1.4l-0.9 1.8l-0.7 1.1l-1 2.4l-0.4 1.8l0.9 0.5l0.4 2.1l0.1 2.7l1.5 1.7l0.1 2.7l0.2 3.5l0.2 1.7l-1.6 2.3l-3.2 1.8l-1.7 1l-1.3 1.6l-1.7 1.6l-0.9 0.2l-0.2 1.2l1.1 1.8l0.3 2.6l-0.1 1.8l-3.4 2.1l-1.6 1.2l0.6 1.6l-0.4 2.1l-1.2 1.8l-1.8 1.5l-1.4 2l-2.1 2.3l-1.8 1.2l-2.6 1.4l-1.6 0.3l-2.8 0.2l-3.5 0.2l-3.5 1.1l-2.1 -0.9l-0.7 -0.6l-0.4 -2.1l0.2 -1.7l-1.8 -2.3l-1.4 -3.3l-1.7 -2l-0.9 -1.7l-0.4 -2.7l-0.5 -3.9l-1.8 -3.1l-1.7 -3.5l-1.2 -2.7l0 -2.6l0.7 -1.8l0.5 -2.6l1.7 -2.1l0.6 -2.3l-0.7 -2.6l-0.4 -1.3l-0.7 -2.3l-0.9 -2.6l-0.1 -1.8l-0.7 -0.8l-1.5 -1.3l-2.1 -2.3l-1.4 -2.2l-0.3 -0.9l1.2 -2l0.2 -1l0.3 -2.3l0 -2.1l-0.5 -0.9l-1 -0.9l-1.1 0l-2.3 0.4l-1.7 0l-1.3 -1.6l-1.4 -1.8l-1.9 -0.3l-1.8 0.2l-2.1 0.3l-2.1 0.7l-1.8 1.1l-1.7 0.5l-1.8 -0.5l-1.7 -0.2l-2.7 0.2l-3.5 1.2l-2.6 -1.4l-3.2 -1.9l-1.2 -1.1l-1.8 -1l-1.2 -1.8l-0.2 -1.4l-0.7 -0.4l-1.4 -1.7l-0.9 -0.9l-1.7 -1.4l-1.3 -1.1l-0.1 -1.4l0.3 -0.5l-0.9 -1.6l-0.7 -0.5l0.7 -0.5l1.1 -1.8l0.3 -1.7l0.6 -1.8l-0.4 -2.3l-0.5 -0.3l0.3 -1.8l-1.2 -0.9l0 -1.4l1.2 -2.1l0.7 -1.4l1.6 -1.6l0.4 -1.4l0.7 -1.2l1.6 -1.4l0.8 -1.4l2.7 -0.9l2.3 -1.6l0.8 -1.6l-0.1 -2.3l0.8 -1.9l1.5 -1.4l1.5 -0.5l1.4 -0.7l0.9 -1.8l0.7 -1.4M622.8 7.4l1 -0.2l1.4 1.2l2.7 -0.1l1.4 0.3l2.1 -1l1.7 -0.4l2.7 -1l2.6 -0.6l3.5 0l3.6 -0.3l2.8 0.2l2.1 -0.8l0.9 0.6l1.2 0l-0.7 1l-0.2 1.4l0.9 0.7l-1.4 1.6l1.2 1.1l1.1 0.9l1.7 0.5l1.3 0l3.5 0.9l0.5 1.5l2.6 0.9l3.6 1.3l1.7 -1.3l0 -2.3l2.7 -1l2.6 0.5l3.5 1.6l3.5 0.7l3.6 0.7l1.7 -0.9l1.8 -0.2l2.3 0.4l0.3 2.5l0.4 1.5l1.4 1.8l0.8 1.8l0.9 1.7l0.9 1.8l0.9 1.7l0.2 1.8l2.2 1.8l0.6 1.7l0 2.5l1.4 1.9l1 0.9l1.3 3.5l0.3 0.7l1.8 1.1l1.2 0.8l2.3 2.3l1.2 1.3l0.2 1.5l-0.5 0.2l1.7 1.8l1.8 0.2l1.8 -0.6l2.6 -0.7l2.6 -0.3l2.7 -1.1l1.2 0l-0.4 2.5l-0.8 2.6l-1.3 1.8l-1.4 2.6l-1.7 3.5l-1.8 2.7l-1.7 1.4l-1.3 0.3l-2.3 1.8l-2.6 2.3l-1.8 2.4l-1.7 1.4l-0.9 1.8l-0.7 1.1l-1.1 2.4l-0.3 1.8l0.9 0.5l0.3 2.1l0.2 2.7l1.4 1.7l0.2 2.7l0.2 3.5l0.1 1.7l-1.6 2.3l-3.1 1.8l-1.8 1l-1.2 1.6l-1.8 1.6l-0.8 0.2l-0.2 1.2l1 1.8l0.4 2.6l-0.2 1.8l-3.3 2.1l-1.6 1.2l0.5 1.6l-0.3 2.1l-1.3 1.8l-1.7 1.5l-1.4 2l-2.1 2.3l-1.8 1.2l-2.6 1.4l-1.6 0.3l-2.8 0.2l-3.6 0.2l-3.5 1.1l-2.1 -0.9l-0.7 -0.6l-0.3 -2.1l0.1 -1.7l-1.7 -2.3l-1.4 -3.3l-1.8 -2l-0.9 -1.7l-0.3 -2.7l-0.5 -3.9l-1.8 -3.1l-1.8 -3.5l-1.2 -2.7l0 -2.6l0.7 -1.8l0.5 -2.6l1.8 -2.1l0.5 -2.3l-0.7 -2.6l-0.3 -1.3l-0.7 -2.3l-0.9 -2.6l-0.2 -1.8l-0.7 -0.8l-1.4 -1.3l-2.1 -2.3l-1.4 -2.2l-0.4 -0.9l1.3 -2l0.1 -1l0.4 -2.3l0 -2.1l-0.5 -0.9l-1.1 -0.9l-1.1 0l-2.2 0.4l-1.8 0l-1.2 -1.6l-1.4 -1.8l-2 -0.3l-1.7 0.2l-2.1 0.3l-2.2 0.7l-1.7 1.1l-1.8 0.5l-1.7 -0.5l-1.8 -0.2l-2.6 0.2l-3.5 1.2l-2.7 -1.4l-3.1 -1.9l-1.3 -1.1l-1.7 -1l-1.3 -1.8l-0.1 -1.4l-0.7 -0.4l-1.5 -1.7l-0.8 -0.9l-1.8 -1.4l-1.2 -1.1l-0.2 -1.4l0.4 -0.5l-0.9 -1.6l-0.7 -0.5l0.7 -0.5l1 -1.8l0.4 -1.7l0.5 -1.8l-0.3 -2.3l-0.6 -0.3l0.4 -1.8l-1.2 -0.9l0 -1.4l1.2 -2.1l0.7 -1.4l1.6 -1.6l0.3 -1.4l0.7 -1.2l1.6 -1.4l0.9 -1.4l2.6 -0.9l2.3 -1.6l0.9 -1.6l-0.2 -2.3l0.9 -1.9l1.4 -1.4l1.6 -0.5l1.4 -0.7l0.9 -1.8l0.7 -1.4M86.7 91.5l1.2 2.6l0.9 3.2l-1.2 0.3l-0.2 2.3l-0.5 2.1l-1.1 3.5l-1.4 4.4l-1.4 4.1l-1.2 0.7l-2.3 0.5l-2.1 -0.9l-0.7 -2.6l-0.5 -2.7l1.7 -2.6l0.2 -1.8l-0.7 -2.6l0.7 -3l2.8 -1l1.8 -0.9l1.5 -1.6l1.5 -1.8l1 -2.2M-15.5 -2.6l-0.2 2.6l-0.8 1.2l-0.2 1.1l1.2 0.5l0 0.9l-0.3 1.6l1.7 0l1.1 -0.4l1.7 0.7l0.7 1.1l0.8 0.3l0.5 -0.3l1.6 -0.9l2.4 0l1.4 -0.2l0.9 -0.9l1.6 -0.5l0.5 -1.2l1.3 -0.9l-0.9 -1.2l0.9 -1.3l1.2 -1l1 -0.7l2.7 -1.1M617.7 -2.6l-0.2 2.6l-0.9 1.2l-0.2 1.1l1.3 0.5l0 0.9l-0.4 1.6l1.8 0l1 -0.4l1.8 0.7l0.7 1.1l0.7 0.3l0.5 -0.3l1.6 -0.9l2.5 0l1.4 -0.2l0.9 -0.9l1.5 -0.5l0.6 -1.2l1.2 -0.9l-0.9 -1.2l0.9 -1.3l1.2 -1l1.1 -0.7l2.6 -1.1M4.2 0.7l1.3 -0.6l0.5 0.4l-0.5 0.7l-0.8 -0.3l-0.5 -0.2M2.1 1.9l0.5 -0.3l0.2 0.3l-0.7 0M14.4 -1.8l0.4 1.3l0 1.9l1 0.4l0.9 -0.4l0.4 -1.4l0 -1.4l-0.7 -0.7l-2 0.3M21.8 3.5l1.6 -0.3l4 -0.2l-0.8 1.4l0.3 1.4l-1.7 -0.3l-3.2 -1.3l-0.2 -0.7M21.6 -3.2l2.7 1.1l0.9 0.7l1.2 1l1.2 0.4l0.7 1.8l-0.7 1.7l0.7 0.2l0.9 -1.1l0.9 -0.8l-1.1 -1.3l0.7 -1.2l2 0.7l0.8 -0.2l-0.8 -0.9l-1.8 -0.7l-1.8 -0.8l0 -0.9M34.1 -3.3l0 0.8l-0.2 1.6l1.3 1.4l1.2 1.4l0.9 1.1l0.9 0.2l-0.7 0.8l0.7 1.6l1.2 0.6l0.7 -0.4l0.5 0.4l0.2 -1.5l-0.7 -0.3l1.2 0l0.9 -0.4l0 -0.8l-1.2 -0.7l-0.7 -1.3l-0.6 -1.2l0.6 -0.9l1 0.5l0.9 0.4l0.7 -1.2l1.1 -0.6l1.7 0.6l0.4 0.7l0 1.4l1 0.9l-0.8 1.2l1.5 1.4l0.4 0.9l1.4 0.5l1.6 0.4l2.4 0.3l0.4 -1l2.3 0.7l2.6 0.7l2 -1.3l1.7 0.4l1.1 -0.2l-0.6 1.2l-0.1 0.9l0.1 1.8l-0.7 1l-0.7 1.4l-0.3 1.1l-0.4 0.9l-0.9 1.2l-1.2 0.4l-2.1 -0.4M46.1 -0.5l1.4 -0.4l1.7 0.2l1.8 0l1.6 -0.5l-1.6 -0.6l-1.8 0l-1.2 0.6l-1 0.3M40.8 1.9l1.4 0.6l0.9 1l-0.9 -0.3l-1 -0.7l-0.4 -0.6M41.3 7.9l1.3 0.2l1.4 0l2.3 0.2l-0.2 0.5l-2.5 0.2l-2.1 -0.6l-0.2 -0.5M48.9 6.7l0.7 -0.4l-0.2 0.7l-0.5 -0.3M45.6 1.4l1 -0.3l0 0.7l-1 -0.4M56.8 8.8l1.2 0.7l1.8 -0.7l1.1 -1.2l-1.6 0.5l-1.4 0.2l-1.1 0.5M57.2 17.8l1.2 2.4l1.7 1.4l0.6 -1.4l0.7 -1.7l0.2 2.4l0.8 1.1l1.8 2.6l1.2 2.1l1.4 1.4l1.8 3.6l0.2 0.8l1.5 2.3l1.8 2.1l0.9 1.8l1.7 2.1l0.6 2.3l0.7 2.6l0.2 1.4l0.3 0.9l2.6 -0.2l2.7 -1l2.6 -1.1l2.7 -1.2l2.6 -0.9l2.1 -0.7l0 -1.4l2.3 -0.5l1.8 -0.5l1.4 -0.9l2.1 -0.9l0.8 -1.8l1.5 0l-0.2 -2.1l1.4 -0.5l0.7 -1.6l1.6 -1.9l-1.4 -1.3l-0.9 -0.7l-2.1 -0.7l-1.4 -1.4l-0.2 -2.4l-0.5 0.3l-0.2 0.6l-1.2 0.7l-1.6 1.5l-2.5 0.6l-2.1 0.1l-0.5 -1l0.2 -2.1l-0.8 -0.6l-0.7 1.1l-0.1 1.2l-0.9 -1.4l0 -1.6l-1.2 -1.2l-1.3 -0.9l-0.5 -1.4l-0.9 -1.4l-0.3 -1l1.2 -0.2l0.9 -0.7l1.7 0.3l1.4 2.1l1.3 2l1.9 0.9l1.6 1.2l2.1 0.3l1.6 -0.5l1.2 -0.5l1.2 0.5l0.6 1.8l1.2 0.3l2.6 0.4l2.7 0.3l1 0l2.5 0l2.6 -0.1l2.7 -0.2l1 0.7l0.7 0.3l0.9 1.6l1.2 0.5l1.1 0.7l2.1 0.6l-1.7 0.9l0 0.3l1.7 2.1l1.8 0.5l1.7 -0.7l0.4 -1.2l0.7 -0.9l0.3 1.4l0 0.9l0 3.5l0.7 2.7l0.6 2.6l0.5 1.1l1.1 2.4l0.7 2l1.4 2.4l1 2.7l0.5 1.7l0.9 1.3l0.9 0.3l1.2 -1.2l1.4 -0.9l0.6 -1.8l1 0l-0.2 -2.1l0.9 -2.8l-0.3 -2.5l0.2 -1.7l1.4 -0.9l2.2 -1l1.8 -2l2.6 -2.3l1.3 -1.2l1.7 -0.9l0.9 -1.4l0 -0.9l1.8 -0.3l1.7 -0.2l2.3 -0.3l0.9 -0.9l1.2 -0.4l0.6 0.7l0.7 2.3l0.1 0.5l1.1 1.3l1.4 1.2l1.1 1.4l0.3 1.8l-0.5 2.6l1.7 0.4l1.4 -0.9l1.4 -0.9l0.8 0l0.7 0.9l0.1 2.3l0.7 1.7l0.7 1.8l0.2 1.7l0.2 2.7l-0.4 1.2l-0.5 2.3l0.2 1.1l1.2 1.2l1.2 0.7l0.9 1l0.4 1.5l0.5 1.9l1.1 2.3l0.1 0.5l1.4 0.9l2.2 1.4l0.3 0.2l1.1 -0.2l0 -1.1l-1.3 -1.4l-0.1 -1.7l0 -1.3l-0.7 -1.7l-1.3 -1.3l-1 -1l-1.4 -0.4l-0.7 -0.5l-0.7 -2.1l-0.4 -1.4l-1.1 -0.4l-0.1 -1.7l0.8 -2.1l0.6 -1.4l0 -1.4l0.9 -0.4l0.8 0.4l0 1.2l1.8 0.5l1.2 0.9l0.6 1.1l1 1.2l1.6 0.2l0.9 0.7l-0.4 2.2l1.2 -0.5l1.8 -1l0.5 -1.3l0.7 -0.1l1.4 -0.6l1.8 -1.2l0.5 -1.4l0 -1.4l-0.1 -1.4l-0.6 -2.5l-1 -1.6l-1.4 -1l-1.6 -1.6l-0.5 -1.1l-1.1 -1.2l0.4 -1.6l1.2 -1l0.7 -0.9l1.7 -1.1l1.1 -0.3l1.1 0.3l0.8 0.2l0.2 1.8l0.7 0.1l0.5 -1.4l0.9 -0.7l1.8 -0.5l1.7 -0.3l1.1 -0.6l1 0l1.5 -0.7l2.6 -0.5l0.9 -1.1l1.7 -1.5l1.8 -1.4l1 -1.3l0.8 -1.7l1.4 -1.8l1.4 -1.8l0.7 -1.4l-1.3 -0.8l1.1 -1.1l0 -1.1l-1.6 -1.4l-0.3 -1.2l-0.9 -2.1l-2 -1.4l1.1 -1.1l0.9 -0.7l1.2 -1l2.6 -0.5l0.2 -0.9l-1.9 -0.2l-1.4 -0.5l-1.6 0.8l-1.4 0l-0.2 -1.2l-1.6 -0.5l-0.5 -0.9l0.2 -0.7l1.2 0.2l1.4 -0.7l0.9 -0.9l2.1 -1.4l1.4 -0.2l0.7 0.7l-1.2 1.6l-0.5 1.4l1.4 -0.5l1.7 -1.1l2.3 -0.3l1.2 0.5l0.6 1.1l-0.2 0.8l-0.7 0.9l1.2 0.5l1.8 0l0.5 1.3l-0.9 0.9l0.4 0.8l0.2 0.9l-0.6 1.2l0.6 0.9l1.5 -0.7l1.8 -0.3l1.1 -0.4l0.5 -1.6l0 -1.7l-0.7 -1.3l-0.7 -1l-1.1 -1.2l-0.9 -0.6l0 -0.8l1.4 -0.8l2.5 -1l0.2 -1.2l1.2 -1.4M87.1 -3.2l-0.2 2.7l1.6 -0.2l-1.4 0.7l-0.9 1.2l-0.2 1.6l1.1 1.6l1.7 0.9l1.8 0.7l2.6 -0.4l1.8 -0.1l-0.2 -1.1l0 -2.5l-1.2 -0.7l0.7 -1.2l-1.4 -0.9l0.3 -0.9l1.8 -0.8l-1.8 -0.9M140.5 53.1l1.6 1.4l0.9 0.9l1 2.1l-0.3 1.4l-1.9 1.1l-1.1 -0.6l-0.4 -1.4l0 -1.7l0.4 -1.8l-0.2 -1.4M191.2 36.4l1.4 -1.2l1.9 -0.2l0.7 0.9l-0.9 1.4l-1.5 1l-1.6 -0.7l0 -1.2M213.7 25.9l0.9 0.5l-0.7 1.7l-0.4 1.8l-0.9 1.8l-1 -1.1l-0.4 -1.2l0.7 -1.8l0.9 -1.2l0.9 -0.5M246.8 -2.1l1.9 -0.4l0.2 0.7l0.7 1.8l0.1 0.9l-0.8 2.1l-0.9 0.9l0 1.6l-0.7 1l0.5 1.1l-1 0.8l-0.9 0.4l0 -1.1l-0.4 0.7l-0.9 0.2l-0.3 0.9l-0.7 -0.7l-0.5 0.7l-2.2 0l-0.1 -0.7l0 1.2l-1.1 0.6l-0.9 0.8l-1.2 -0.7l0.2 -0.7l0.3 -0.7l-1.5 0l-1.8 0.5l-1.9 0.2l-1.6 0.6l-0.9 0l0 -0.8l1.2 -0.5l1.8 -1.2l1 -0.4l1.8 0l1.8 -0.1l1.2 0l0.2 -1.1l1 -0.9l0.5 -1.2l0.6 0l-0.6 1.2l1.8 -0.5l1.4 -1.2l1.1 -0.9l0.7 -1.2l0.3 -1.4l-0.2 -1.3l0.8 -1.2M233 10.9l0.9 -0.3l1.8 -0.8l1.2 0.6l0 0.5l-0.9 0.9l-1.2 -0.4l-0.9 1.3l-0.9 -0.4l-0.3 -0.9l0.3 -0.5M230.2 10.7l1.4 0.6l0.4 0.7l-0.2 1.2l-0.7 1.7l-0.7 0.6l-0.5 0.3l-0.9 -0.5l0 -1.6l0.5 -0.9l-1.2 0l-0.2 -1l1.1 -0.5l1 -0.6M224.6 24.4l0.9 -1.2l-0.6 0.5l-0.3 0.7M227.4 20.8l0.7 -0.6l-0.5 0.6M222 11.8l1.2 -0.4l-0.5 0.6l-0.7 -0.2M212.1 37.8l2.8 0l0 2.7l-1 1.7l0 1.8l0.1 1.2l1.4 0.2l1.5 0.5l1.2 1.6l0.2 0.7l-1.4 -0.7l-1.3 -0.5l-1 -0.9l-1.3 0.3l-1.2 -0.7l0.5 -1l-1 -0.4l-0.5 -1.2l-0.4 -1.4l0.9 -0.5l0.2 -1.6l0.3 -1.8M220.7 53.1l1.4 2.3l0.4 2.1l-0.7 1.8l-0.7 -1.1l-0.6 1.6l-0.5 0.3l-1.6 -0.7l-0.3 -1.4l-1.1 -0.8l-1 0.1l-1.3 0.9l-0.1 -1.2l1.4 -1.2l1 -0.6l0.7 0.9l0.9 -0.7l0.9 -0.7l0.7 -0.4l0.5 -1.2M218.6 48.4l1.8 0l0.7 2.3l-1.3 0.3l-0.3 1.4l0.7 0l-0.5 -1.2l-0.9 -0.9l0.9 -0.7l-1.1 -1.2M216.2 51l1 0.4l-0.3 1.5l-0.6 1.4l-0.9 -1l0.6 -1.1l0.2 -1.2M214.6 49.4l1.9 0.7l-0.9 1.6l-1.2 0.2l0.2 -2.5M218.1 50.7l-0.5 1.7l-0.7 1.2l0.5 -1.4l0.7 -1.5M210.2 50.3l-0.6 1.8l-1.5 2.1l-2 1.4l0.6 -0.9l1.7 -1.9l1.4 -1.8l0.4 -0.7M211.8 46.8l1.4 0l0.5 1.6l-0.7 0.5l-0.7 -1.2l-0.5 -0.9M167.6 60.5l3.9 0.7l1.4 1.6l1.2 1.2l2.3 1.6l1.2 0.9l2.1 1.6l2.2 1.2l0.7 1.6l1.2 1.6l0.7 1.9l1.9 1.6l-0.1 2.3l-0.2 2.3l-1.1 0l-1 -0.4l-0.6 -0.9l-2.2 -1.6l-1.3 -0.5l-1.7 -2.5l-1.6 -2.6l-1.3 -1.8l-1.2 -2.1l-0.5 -1l-1.8 -1.2l-1.2 -1.5l-1.4 -1.2l-1.6 -2.1l0 -0.7M185 82.3l1.4 -1.6l1.4 0.4l2.7 0.5l0.7 0.7l3 0.2l0.8 -0.9l1.1 0.5l1.9 0.4l0.4 0.7l1.2 0.7l1.6 0.2l0.2 1.6l-2.3 -0.8l-3 0l-2.6 -0.7l-2.7 -0.1l-1.7 -0.2l-2 -0.5l-2.1 -1.1M191.7 67.7l1.1 -0.9l1.2 0.6l1.6 0.3l0.3 -1.7l2.8 -1.3l1.8 -2.3l1.8 -0.8l1.7 -1.8l1.2 -1.8l1.5 0.9l0.3 1.1l1.6 0.7l1 0.5l-1.5 1.2l-1.3 0.6l0 1.2l0.7 1.8l1.6 2.6l-1.9 0.3l-0.5 2.7l-1.3 1l-0.9 1.8l0.2 2.1l-0.7 0.5l-2.4 0.4l-0.2 -1.1l-1.8 -0.1l-2.6 0.1l-0.7 -0.7l-2.5 -0.1l-0.3 -2.5l-1.4 -1.8l-0.4 -1.7l0 -1.8M210.7 68.9l1.8 -0.8l3.7 0.7l2.4 0.8l1.6 -1.9l-1.2 1.9l-2.1 0.2l-3.2 -0.3l-2.3 0.3l-0.2 2l1.6 1l2.1 -0.9l2.1 0l-1 1.1l-2 0.7l1.3 2.3l0.9 1.7l-0.8 2l-1.5 -0.9l-0.2 -1.4l-0.9 -2.3l-1.2 0.4l0.2 2.8l0 1.7l-1.6 0l0 -2.6l-1.3 -2.1l0.9 -2.7l0.9 -1.9l0 -1.8M230.4 71.8l2.6 -0.7l2.7 0.7l0.3 2.6l1.4 1.8l1.8 -1.8l2.6 -1.2l2.7 0.7l3.5 1l3.5 1.4l2.6 0.9l2.3 2.3l2.1 1.4l1.4 0.9l-1.4 0.5l1.8 2.1l1.8 1.8l1.7 2.1l1.4 0.2l-1.7 0.1l-3.2 -0.5l-1.8 -1l-1.7 -2.5l-2.7 -0.9l-1.7 1.1l-0.9 1.7l-1.8 0l-1.7 -0.1l-2.7 -1.8l-2.2 0.5l-0.4 -1.7l1.4 -1.1l-1.4 -2.3l-3.5 -1.6l-2.6 -1l-2.7 0.2l-0.3 -1.4l-1.1 -0.7l2.3 -0.8l-2.6 -0.7l-1.8 -1.2l0 -1M201.4 84.8l2.1 0.1l-0.9 0.9l-1.2 -1M204 85.1l1.2 0l-0.3 0.9l-0.9 -0.2l0 -0.7M205.4 85.3l2.1 -0.5l1.8 0.3l-0.9 0.7l-2.6 0.4l-0.4 -0.9M210.9 85.3l1.9 -0.2l3.2 -0.3l0.2 0.7l-3.4 0.5l-1.9 -0.2l0 -0.5M209.3 87.1l2.1 -0.2l1.1 1.2l-2.3 -0.3l-0.9 -0.7M217.2 88.5l1.8 -1.8l2.3 -1.2l2.4 -0.4l-1.2 1.1l-2.7 1.2l-1.7 1.1l-0.9 0M224.2 68.6l0.7 -1.9l0.2 1.5l1.3 -0.5l-0.9 1.2l1 0.9l-1.4 -0.2l0.7 2.2l-1 -1.1l-0.6 -2.1M225.1 75.6l2.7 -0.3l2.2 0.9l-1.4 0.3l-2.2 -0.2l-1.3 -0.7M221.8 76l1.6 -0.2l0.3 1.1l-1.6 0.1l-0.3 -1M261 80l2.8 0l2.7 -1l1.4 -1.3l-0.2 1.4l-2.1 1.5l-1.8 0.7l-2.4 -0.4l-0.4 -0.9M265.2 74.9l2.1 1.4l1.8 2l-0.7 -0.9l-1.9 -1.8l-1.3 -0.7M271.9 80l2.1 1.8l-0.9 0.3l-1 -1.2l-0.2 -0.9M275.2 82.1l1.8 1.3l-0.9 -0.4l-0.9 -0.9M278.8 83.7l2.2 1.4l-0.8 -0.3l-1.4 -1.1M280.7 86.7l2.1 0.9l-0.9 0l-1.2 -0.9M282.5 85.1l1.2 2.1l-0.9 -1l-0.3 -1.1M283.7 88.5l1.7 0.8l-0.8 -0.7l-0.9 -0.1M293 96.7l1.1 1.1l-0.7 -0.2l-0.4 -0.9M294.1 98.5l1 0.9l-0.7 -0.2l-0.3 -0.7M295.8 101.3l0.5 0.4l-0.3 0l-0.2 -0.4M288.4 105.7l2.7 1.6l2.6 2.3l-1 0l-2.5 -1.6l-1.8 -2.3M311.8 101.3l1.6 -0.3l0.7 1l-1.4 0.4l-0.9 -1.1M314.3 99.7l2.1 -0.9l-0.7 0.9l-1.4 0M250.6 89.2l1.8 3.1l0.2 3.2l2.9 1.2l0.4 2.7l1.2 3.8l1.4 1.1l2.7 1.6l1.4 2.3l2.4 1.7l0.4 1.8l1.9 1.9l2 1.6l0 3.2l0.8 2.3l-1 3.3l-0.4 2.3l-1.7 2.1l-1.1 1.7l-0.9 2.2l-1.2 2.2l-0.2 1.8l-3.3 0.7l-1.8 1.1l-1.2 1l-1.9 -1.2l-0.9 -0.2l-2.1 0.9l-3.5 -0.9l-2.7 -1.4l-0.5 -1.8l-0.7 -1.5l-1.4 0l0 -1.4l-0.9 -1.1l-0.3 1.6l-1.5 0.2l0.9 -2.2l0.6 -2.4l-1.1 1.6l-2.1 2.3l-0.7 0.1l-1.1 -2.1l-1.4 -1.6l-1.2 -1.2l-2.6 -0.2l-1.8 -0.8l-3.5 0.1l-2.7 1.1l-2.6 0.2l-2.6 1.2l-1.8 1.6l-2.8 0l-3.3 0l-3.6 1.9l-2.6 0l-2.5 -1.2l-0.1 -1.3l1.2 -0.5l0 -2.3l-0.7 -2.6l-0.7 -2.1l-0.5 -1.1l-0.9 -1.7l-1.1 -2.1l0.4 -0.7l-0.6 -2.9l0.7 -1.7l-0.1 -1.8l0.7 -1.2l0.9 0l1.5 -0.9l2.1 -1.2l3.4 -0.5l2.5 -0.8l2.6 -1.5l1.2 -1.8l0 -1.8l1.4 -1l1.1 1.6l0.7 -1.8l1.6 -1.7l1.6 -1.8l2.1 -0.7l1.7 1.6l0.5 0.3l2.2 -0.1l0.1 -1.6l1.1 -1.8l1 -1l1.3 -0.4l1.7 -0.2l0.2 -1.2l1.6 0.7l2.6 0.7l3 -0.3l0.4 0.5l-0.7 1.7l-1.1 0.7l0 2l-0.9 0.3l2 1.4l2.1 0.7l2.3 1.3l1 1.2l2.1 -0.2l1.1 -2.6l0.3 -2.6l0 -3l0.7 -2.3l0.9 -1.4M240.2 133.3l1.6 -0.3l1.1 0.5l-1.2 0.3l-1.5 -0.5M229 90.4l1.9 -0.2l0.2 0.6l-1.6 0.3l-0.5 -0.7M239.9 94.6l0.9 0l-0.2 0.9l-0.7 -0.2l0 -0.7M254.3 141.9l3.4 0.7l2.9 -0.5l0.2 2.1M303.7 130.9l1.1 1l1.8 1.2l0.8 2l1.3 -0.4l0.7 0.7l0.7 1.3l1.7 0.5l1.8 -0.7l0 1.6l-0.7 1.2l-1.6 0.2l-0.2 1.2l-1 1.8l-1.4 0.8l-0.9 -1.7l0 -0.9l-1.8 -0.9l-0.3 -0.5l1.4 -0.7l0.2 -1.4l0.1 -1.2l-0.8 -1.5l-1.8 -2.1l-1.1 -1.5M303.7 141.6l0.9 1.2l1.8 -0.3l0.2 1.4M359 34.8l1.4 0.7l0.5 0.6l-1.4 0.8l-0.7 -1l0.2 -1.1M357.6 33.6l0.8 0l0.4 0.3l-0.9 0.2l-0.3 -0.5M354.9 32.5l0.7 -0.1l0.2 0.5l-0.7 0l-0.2 -0.4M352.3 31.5l0.5 -0.2l0 0.5l-0.5 -0.3M356.5 33.1l0.9 0l-0.4 0.1l-0.5 -0.1M472.2 70.9l0.9 -0.6l0 1.8l-0.9 -0.3l0 -0.9M474 71.2l0.5 0.2l-0.3 0.4l-0.2 -0.6M329.2 94.1l1.1 0.2l-0.5 0.3l-0.6 -0.5M330.6 94.8l0.9 0.2l-0.7 0.1l-0.2 -0.3M370 101.1l0.7 0.4l-0.5 0.2l-0.2 -0.6M324.8 107.5l0.4 0.1l-0.4 0M414.7 -3.5l0 1.7l-0.3 1.1l1 1.6l0.5 1.2l1.8 1.8l0.2 1l0.9 1.1l1 1.6l1.2 1.9l2 0.3l1.7 0.8l2.1 1.7l0.4 0.9l0.9 1.2l1 2.3l0.9 1.8l1.8 1.7l0.5 1.3l-1.4 0l1.2 1.2l2 0.9l1.5 1.4l0.4 2.1l3.2 2.1l0.7 0.9l0.8 -0.9l-1.5 -1.6l-0.7 -1l-1.1 -2l-1.2 -1.7l-1.3 -1.8l-1.4 -1.8l-1.2 -1.7l-0.9 -1.8l-0.2 -1.4l1.5 0.5l1.7 0.9l0.9 1.8l0.9 1.7l1.7 1.8l1.3 1.4l1.5 1.6l0.4 1.2l2.1 1.3l1.8 1.9l1 1l1.3 1.3l0.7 1.7l-0.4 1.8l-0.3 0.2l1.2 1.7l1.2 0.7l1.4 1.3l2.3 0.7l2.1 1l2 0.9l2.4 0.9l2.7 0.7l1.7 0.3l1.8 -0.8l1.7 0.3l1.8 1.4l1.4 1.2l2.1 1.1l1.8 0.5l2.1 0.7l1.9 0l0.4 0.4l0.3 0.5l1.4 1.2l1.2 1.5l0 1.2l0.9 1.2l1.1 0l1.2 0.9l0.7 1.2l1.1 0.6l0.3 0.5l1.8 0l1 0.7l0.6 0.7l1 -0.4l0 -1.4l1.3 -1.2l1.2 -0.2l1 1.1l0 1.6l1.1 0.8l0.5 1.8l0 1.8l0.2 1.7l0.4 0.4l-1.6 2.1l-1.4 1.4l-1.3 1.4l-0.9 0.3l-0.7 2.3l-0.8 0.9l0.1 2.1l1.4 0.5l0.2 0.9l-0.7 0.7l-1.6 1.6l-0.1 0.7l0.3 2.3l1.9 1.4l0.9 1.6l1.6 2.3l1.6 3.5l1.1 1.8l1.4 2.9l1.9 2.9l3 1.7l2.6 1.2l1.3 1.1l1.7 1.2l0.2 3l0 3.5l-0.5 2.7l-0.2 2.6l-0.4 3.5l-1 3.6l-0.2 1.7l-0.2 3.5l0 1.8l-1 3.5l-1.4 3l-1.1 1.4l0.5 3.5l-0.8 2.7l0 1.7M522.3 144.2l-3.3 -2.1l3.3 0.4l1.5 -0.7l0.1 -2l0.2 -1l3.5 -0.2l2.7 -0.5l1.7 -0.9l1.4 -2.1l-0.9 -1.4l-0.1 -1.3l-2 -1.2l0 -1.1l1.1 0.8l2.8 0.8l2.3 0l2.5 -1.6l1.5 -1.7l0.9 -1.4l2 -2.1l1.7 -2.7l2.1 -1.7l0.4 -1.8l0 -2.6l0.5 -1.1l2.3 -1.6l1.2 -0.8l2.3 -0.9l3.2 -0.9l2.1 -0.2l1.7 -1.6l0.2 -0.8l1.1 -2.1l1 -2.3l0.9 -2.1l0.4 -3.2l0 -2.1l0.8 -3.2l1.8 -2.1l0.9 -1.4l1.7 -1.8l1.4 -1.7l0.6 -1.8l0.1 -1.6l-0.7 -2.8l-2.2 -0.7l-1.5 -0.7l-2.1 -1.7l-2.2 -1.4l-3 0l-1.8 -0.4l-2.6 -0.4l-0.6 0l-1.2 -1.7l-2.6 -0.9l-2.7 -0.5l-0.8 1.4l-1.8 -2.3l-1.4 -0.4l0.5 -1.7l-1.4 -1.8l-0.7 -3.5l-0.9 -0.9l-1 -0.7l-3 -1.6l-2.1 -0.1l-3.2 -0.2l-2.1 -1.4l-1.4 -2.1l-1.8 -0.9l-1.7 -1.8l-1.8 -0.8l-0.9 -1.1l-2.6 0.2l-1.8 0.7l-1.7 -0.9l-1.8 0.2l-2.3 0l0 -1.2l-2.6 -0.6l-0.4 -1.2l-0.5 1.2l-1.7 0.9l-0.6 0.5l0.4 2.1l-1.1 0l0.2 -2.1l0 -1.4l1.1 -1.6l-1.8 0.9l-1.8 1.1l-1.5 0l-1.3 0.5l-1 1.1l-0.4 1.5l-1 0.9l-1.1 0.9l0.2 0.9l-1.1 -1.1l-0.9 -1.2l-1.9 -0.5l-1.6 0.5l-1.6 0.7l-1.5 -0.2l-0.9 -0.3l-0.7 -0.7l-0.7 -0.7l-1.1 -1.6l-0.2 -2l0.4 -1.7l0.2 -2.3l0.3 -1.2l-1.4 -1.1l-1.7 -0.5l-1.8 0l-2.6 0.2l-1.3 0.1l-1.2 -0.3l0.5 -0.7l0.6 -1.2l0.1 -1.8l-0.1 -0.9l1 -0.3l0.4 -1.4l0.1 -1.5l1.1 -1.5l-0.7 -0.6l-2.3 0l-2.1 0.4l-1.1 0.3l-0.1 1.1l-0.4 1.2l-1.2 1.4l-0.9 0.7l-1.6 0l-2.6 0.7l-1.4 -0.7l-1.4 -0.3l-0.6 -0.7l-0.7 -1.4l-1.2 -1.4l-0.4 -1.3l-0.7 -1.4l0 -2.1l0.4 -2.6l0.7 -1.6l-0.4 -1.9l0.4 -1.4l1.4 -1.1l1.9 -1.1l0.9 -0.7l1.8 -0.5l2.3 0.2l1.7 0.5l1.8 0.2l1.9 0.2l0.4 0.1l-0.6 -1.4l0.4 -0.8l2.3 0l1.7 -0.2l1.8 0.2l1.1 1l1.7 -0.5l1.4 0.5l1.4 1.2l0.2 1.8l0.9 2.1l0.7 1.2l1 1.6l1.3 0l0.7 -1l0.1 -1.8l-1 -3l-0.7 -1.7l-0.7 -1.6l0.3 -2l0.6 -0.8l1.5 -1.3l1.8 -1.4l1.8 -0.7l1.7 -1.2l0.9 -0.2l1.8 -1l-0.7 -2.1l-0.2 -0.9l-0.7 -0.6l0.2 -1.2l-0.4 -2.1l0.7 -0.3l0 1.9l0.4 1.9l1 -1.4l0.4 -0.9l0 -0.5l-0.7 -1l1 0.7l1.1 -0.9l0.5 -1.4l0 -0.6l1.8 -0.1l1.7 -0.6l0.2 -0.5l-2.8 0.5l-0.9 0.6M483.8 31.8l1.6 -1.4l1.8 -0.5l1 -0.4l2.5 0.2l1.7 0.4l1.8 0.9l1.8 0.3l1.4 0.9l2.1 0.9l0.9 0.7l2.3 1l-1.5 0.6l-1.7 0l-3 0.1l0.9 -1.2l-1.8 -0.5l-0.5 -1.3l-1.8 -0.3l-1.7 -0.5l-1.8 -0.4l-0.9 -0.3l-1.4 -0.4l-1.2 0.7l-1.4 0.4l-1.1 0.1M487 32l0.9 0l-0.2 0.5l-0.5 0l-0.2 -0.5M502.3 38l2.5 0.3l1.2 -0.7l-0.9 -1l-1 -0.9l1.5 -0.3l1.4 0.1l2.2 0l1 0.4l1.2 0.5l1.5 1.2l-1.1 0.4l-1.6 0l-1.4 0.2l-1.2 1l-0.7 -0.9l-1.8 0.2l-1.7 0.2l-1.1 -0.7M495.4 38l2.3 0l1.4 0.7l-1.4 0.3l-2.1 -0.5l-0.2 -0.5M515 38l2.6 0.2l-0.2 0.5l-2.4 0l0 -0.7M524.3 51.5l1.6 -0.1l0 1.2l-1.6 0l0.7 -0.5l-0.7 -0.6M524.5 41.7l0.8 0l-0.5 0.5l-0.3 -0.5M525.5 44.3l0.5 0.4l-0.1 0.3l-0.4 -0.7M525 42.9l0.3 0.5l-0.1 0l-0.2 -0.5M525.7 45.7l0.3 0.4l-0.1 0.2l-0.2 -0.6M528.3 47l0.2 0.3l-0.2 0l0 -0.3M587.8 3.9l1 0l-0.5 0.1l-0.5 -0.1M602.9 12.7l0.9 0l-0.4 0.3l-0.5 -0.3M603.4 20.4l1.3 -0.2l-0.7 0.9l-0.6 -0.7M605.4 21.1l0.7 -0.2l-0.2 0.6l-0.5 -0.4M607.8 20.9l0.9 -1l0.7 -0.9l-0.7 1.8l-0.9 0.1M591.5 43.6l0.3 0.5l-0.3 -0.1l0 -0.4M588.7 40.3l0.5 0l-0.4 0.3l-0.1 -0.3M93.9 48.2l1.8 0l-0.6 0.5l-1.2 -0.5M97.3 107.3l0.8 0.2l-0.3 0.5l-0.5 -0.7M101 105.7l0.7 0.2l-0.6 0.5l-0.1 -0.7M76.2 90.6l0.3 0.7l-0.3 0l0 -0.7M68.9 80.6l0.6 0.7l-0.4 0.3l-0.2 -1M163.2 46.6l0.4 1.8l-0.6 1.5l-0.1 -1.5l0.3 -1.8M164.8 57.7l0.3 0.5l-0.3 0.2l0 -0.7M14.9 63.8l0.8 0.2l-0.4 0.5l-0.4 -0.7M173.6 72.1l0.9 1.1l-0.6 0.1l-0.3 -1.2M171 67.9l1 1l-0.5 0.2l-0.5 -1.2M185.2 73.3l1.4 -0.1l0.9 2.1l-1.2 -0.4l-1.1 -1.6M189.2 74.9l1.1 0.2l-0.4 0.9l-0.7 -1.1M51.5 76.3l0.7 1.4l0.2 2l0.7 2.1l0.9 1.9l0.7 1.8l-0.9 -0.2l-1.2 -1.9l-1.1 -2.5l-0.3 -2.6l0.3 -2M59.6 87.1l1.1 1.7l0.7 1.8l-0.2 1.7l0.5 2l0.2 1.2l-0.5 0.2l-0.7 -1.3l-0.6 -1.7l0 -2.1l-0.3 -1.8l-0.2 -1.7M55.9 72.1l0.4 -1.9l1.7 -0.6l1.8 0.6l0.2 1.6l-0.2 1.2l-0.7 1.4l-1.4 0.5l-1.6 0l-0.3 -1.4l0.1 -1.4M53.5 68.4l1 -1.4l0.7 -0.7l-0.3 1.1l-0.9 1l-0.5 0M51.7 70.7l0.7 0.2l-0.3 0.7l-0.4 -0.9M50.8 73.3l0.7 0.2l-0.1 1.1l-0.6 -0.2l0 -1.1M510 97.4l1.3 0.4l0.8 1.4l-1.2 -0.7l-0.9 -1.1M482.1 49.4l1.6 0.5l0.3 0.9l-1.4 -0.3l-0.5 -1.1M495.3 26.2l0.8 0l0.6 1.4l0 0.9l-0.9 -0.7l-0.5 -1.6M496.3 23l1.1 0.4l0.5 0.9l-0.7 0.5l-0.2 -0.9l-0.7 -0.9M494.2 23.4l1.4 -0.2l0.7 0.2l-0.9 0.3l-1.2 -0.3M498.1 25.5l0.9 0.4l0.3 1l-0.5 -0.5l-0.7 -0.9M499.8 26.9l0.7 0.7l0.2 0.4l-0.5 -0.2l-0.4 -0.9M499 28.1l0.8 0.7l0.6 0.4l-0.7 -0.2l-0.7 -0.9M500.5 28.7l0.7 0.8l0.4 0.8l-0.5 -0.6l-0.6 -1M502.3 30.3l0.9 0.1l0 0.9l-0.7 0l0.2 -0.7l-0.4 -0.3M504.4 31l0.9 0l-0.5 0.1l-0.4 -0.1M503.5 33.1l1.1 -0.2l0.2 0.5l-1.1 0.2l-0.2 -0.5M505.8 32l1.4 -0.2l0.2 0.6l-1.4 0l-0.2 -0.4M496.7 26.2l0.7 0l-0.4 0.2l-0.3 -0.2M490 36.2l0.5 0l-0.3 0.2l-0.2 -0.2M489.3 27.1l1 -0.2l1.1 -0.5l0.3 -0.4M629.3 8.6l0.9 2.8l0.8 2.3l-3.1 1.2l-1.4 1.3l-3 1.7l-2.7 0.6l-3 1.4l0 2.4M609.9 21.7l7.9 0M617.8 22.3l0 2.3l-5.8 0l0 4.4l-1.7 0.9l0 3l-7 0M617.8 22.3l6.9 4.1M624.7 26.4l-3 0l1.8 14.9l0.3 1.8l-7 0l-2.5 0.2l-1.4 -0.4l-1.2 1.4M15.1 5.5l-0.5 0.7l-0.2 2.6l-1.2 1.8l0 1.4l1.4 1.2l1.2 0.9l0.9 3.1M20.2 12l0 1.2l-2.1 1.2l-0.2 1.8l-1.2 1M16.7 17.2l0.7 2.1l-0.2 3.6l0.4 0.8l-1.1 0.6l1.1 2.4l2.6 1.1l0.9 1.2M21.1 29l-7.9 4.8l-3 2.3l-2.8 0.7M7.4 36.8l-1.9 0l0.1 -1.3l-2.4 -0.9l-1.1 -1.4l-10.5 -6.8M640.5 36.8l-1.9 0l0.2 -1.3l-2.5 -0.9l-1 -1.4l-10.6 -6.8M44.3 14.8l-0.5 1.9l0.2 2.3l0 12.7l0 3.5l-1.8 0l0 0.9M44 31.7l20.9 0M42.2 36.1l-15.8 -6.2l-1.4 0.7l-3.9 -1.6M42.2 36.1l0 6.6l-1.7 0.2l-0.2 1.1l-1.1 1.2l0.4 1.4l-1.3 1.4l2 2.3l0 0.9M26.4 29.9l1.6 4.6l-0.7 6.1l-3.6 4.4l0 1.3M23.7 46.3l1.3 1.4l1.4 1.4l0.2 2.3l0.7 1.5l-2.7 0l-0.2 0.6l2.9 3.7M27.3 57.2l1.7 -0.4l2.1 -0.3l1.6 -0.4l0.7 -1.6l2.5 -0.2l2.3 -2.6l2.1 -0.5M40.3 51.2l1.4 1.7l-0.4 1.8l1.3 0.7l1.7 1.6l2.1 1.7l1.8 2.7M67.9 38.7l-2.8 1.8l-0.9 3.5l-0.2 1M64 45l-0.5 3l-1.9 2.1l-1.3 1.6l-0.2 1.9l-0.5 1.8l-1.6 0.9l1.8 1.4l2.3 3.2l1 1.4l-2.6 0.5l-0.7 0.2M59.8 63l-0.9 0.7l-2.6 0.3l-1.8 -0.3l-0.3 0.5l-1.4 -1.6l-1.8 0l-1.8 0.2l-1 -1.4M64 45l2.7 -0.7l1.9 0.4l2.1 0.3l2.3 2l1.6 1.4M75.8 48l-1.2 0.4l-1.1 1.7l0 0.9l2 0l0.5 -0.9M75.5 51l0.1 1.8l1.8 1.7l5.3 1.8l1.7 0l-5.3 5.3l-2.6 0.3l-2.6 1.2l-0.2 0.4M73.7 63.5l-1.6 1.9l0 4.9l0 1.6l1.1 1.4M73.7 63.5l-1.9 -0.5l-1.8 0.5l-3 0.5l-2.1 -1.4l-1.8 -0.3M59.8 63l0.9 1.2l0.9 3l-0.9 1.4l-0.9 1.4l-0.2 2.1M59.6 72.1l6.7 3.7l0 0.7l2.6 2.1M54.2 64.2l0.8 2.3l-1.4 1.7l-1 1.3l-0.5 1.7l0 1.6M52.1 72.8l1.5 -0.7l6 0M53.6 72.1l0.6 2.3l-0.6 0.2l0.6 1.6l-0.7 1.2l-1.8 0.9M52.1 72.8l-1.1 2.3l0.4 1.4l0.3 1.8M51 75.1l2.6 -0.5M51.7 78.3l0.4 2.6l1.9 3.9l3.9 2.1l1.9 0.2l0.9 0.8l0.2 2.9l2.4 0.1l2.7 0l1.7 -0.5l3.4 -1.6M57.9 86.9l0.7 2.4l-0.2 3l-0.9 2l0.9 0.7l2.3 0.9l-0.4 2.1l1.8 2.4l0.9 -1.9l0 -2.1l-1.6 -2.3l-0.5 -3.3M58.4 95l-5.3 1.7l0.4 1.1l4.4 1.9l0 3.2l-0.4 1.7l-0.3 3.2l-2.2 1.9l1.3 3.7l-0.2 2.5l0.4 1.6l1.4 0.2M56.1 115.9l-1.6 -0.4l-0.3 2l0.8 0.9l1.5 -0.9M47.5 122.4l1.7 -1.6l1.8 0.4l0.7 1.2l-1.6 1.8l-1.9 -0.6l-0.7 -1.2M55 109.7l-3.3 -0.3l-2.5 1l-1.7 1.5l-0.2 1.2l-1.7 0.9l-0.6 1.4l-1.6 0.3l-2.9 -0.9l-0.8 1.5l-1.5 1.2l-1.8 0l0 -2.3l-1.2 -1.2M35.2 114l0 6.3l-1.8 0.9l-1.7 -0.2l-1.1 -0.2l-1.6 -0.1M35.2 114l0 -5l1.7 0l0 -6.5l4.4 -0.5l1.6 -0.2l1.6 -0.1l-2.3 -0.6l-1 0.2M20.8 100.8l2.1 -0.6l1.7 0.8l7.8 0l5.2 0.8l3.6 -0.5M44.5 101.7l1.2 2.1l2.3 2.6l1.2 1.9l2.5 1.1M44.5 101.7l3 0.3l3.3 -3.5l2.7 -0.7M41.2 101.3l-2.5 -2.5l0 -5.6l3.5 0l0 -3.7M42.2 89.5l-1.7 0.4l-1.5 0.1l-0.3 -2.1l-0.4 -3.5l0 -1.2l-2.2 -0.2l-1.8 1.2l-0.9 0.2l-2.1 0.2l-2.1 -3.9l-5.6 0l-2.1 0.2M21.5 80.4l1.4 -2M42.2 89.5l2.3 1.3l1.2 0.5l2.1 -0.5l2.1 1.5l1.1 1.6l1.4 0l0 -2.1l-1.4 0.4l-1.1 -0.9l0.4 -2.5l0 -2.1l0.5 -1.4l3.2 -0.5M21.1 79.1l1.8 -0.7l2.4 0.4l1.6 -0.9l1.6 -3.7l2.6 -3l0.6 -1.7l0.1 -3.2l0.9 -2.1M32.7 64.2l0 -1.6l1.6 -1.2l2.6 1.2l2.7 0.5l1.7 -1l2.7 -0.5l4.2 -0.2M19.5 77.2l1.3 -0.7l1.2 -2.1l2.3 0.2l1 -0.9l0.2 -2.3l-1.1 -1.1l1.1 -1.7l-2.1 -0.5l-0.2 -1.6M17.2 68.6l2.7 0l0 -2.1l-2.7 -0.2M19.9 66.5l3.3 0l2.3 0l2.6 0.9l0.4 -0.9l-2.1 -2.3l-0.7 -2.6l-0.2 -1.8l1.8 -2.6M28.5 66.5l0.7 -2.3l3.5 0M15.1 61.9l0.7 -1.8l2.1 -1.9l2 0.5l0.9 -0.7l0.7 -2.4l1.7 -2.1l1.1 -2.5l1.4 -0.9l-0.7 -1.6l0 -0.8M23.7 46.3l-1.7 1l-3.2 -0.5l-1.9 1l-1.6 -0.3l-1.6 -0.5l-1.6 0.5l-2.4 -1.6l-2.5 0.7l-0.9 3.2M6.3 49.8l0.4 2.1l-1.8 2.4l-0.2 2.2l0 2.6M2.8 59.4l0 -1.4l0 -3.5l-0.3 -0.7l-1.1 -1.7l0.2 -1.1M636 59.4l0 -1.4l0 -3.5l-0.4 -0.7l-1 -1.7l0.1 -1.1M2.1 59.6l-1 -1.4l-0.2 -1l0.2 -1.3l-0.4 -1l0 -2.1l-0.7 -1.1l-0.2 -0.9M635.3 59.6l-1.1 -1.4l-0.2 -1l0.2 -1.3l-0.3 -1l0 -2.1l-0.8 -1.1l-0.1 -0.9M4.2 49.2l-0.2 0.6l-1.5 0.5l-0.9 0.7l-1.8 -0.2l-4.7 0.2l-0.2 1.2l0.2 1.1l-2.1 -0.2l-1.3 0l-1.4 -1M637.4 49.2l-0.2 0.6l-1.6 0.5l-0.9 0.7l-1.7 -0.2l-4.8 0.2l-0.2 1.2l0.2 1.1l-2.1 -0.2l-1.2 0l-1.4 -1M-9.7 52.1l0.4 -1.8l1.6 -1.2l0.1 -2l1.8 -0.1l0.7 -1.3l1.6 -0.3l1.7 -1.1l2.2 -0.3l0.3 1.7l1.1 1.1l0 0.9l1.9 0.3l0.5 1.2l2.1 0.6M623.5 52.1l0.3 -1.8l1.6 -1.2l0.2 -2l1.7 -0.1l0.7 -1.3l1.6 -0.3l1.8 -1.1l2.1 -0.3l0.4 1.7l1 1.1l0 0.9l1.9 0.3l0.6 1.2l2.1 0.6M627.7 61.4l0.5 -0.9l-0.7 -2.1l1.3 -2.5l-0.6 -2.6M620 62.6l0.1 -2.5l-1.7 -1.2l-0.2 -1.9l1.1 -1.6l0.1 -1.6l-0.3 -1.4l3.1 -0.7l1.3 0.4M618.2 57l-1.6 0.3l0 -1.7l-1.6 -0.2l-2.1 2.8M615 55.4l-0.5 -1.1l-1 -1.5l-2.3 0.1l-1.4 1.6M619.1 52.4l-0.5 -1.4l-1.3 -2.5l-2.3 0.4l-1.9 -0.4l-1.6 0.2l-2.4 -0.7l0 1.8l-2.3 1.4M609.1 48l-5.3 0.5M603.6 47.3l3.2 -0.2l2.1 -0.1l0 -0.6l-2.1 -0.1l-2.8 0.1M604.1 42.2l0.4 -0.9l3.1 -0.1l2.2 1.7l1.9 1.4l0.3 2.3l1.1 1.9M7.4 36.8l0 4.7l-1.2 1.8l-3.9 0.1l-1.9 0.6M640.5 36.8l0 4.7l-1.2 1.8l-3.9 0.1l-1.9 0.6M60.1 15.3l1.3 3.2M61.5 18.5l0.9 -3.6l0.2 -2.1M61.7 12.1l0.9 -0.3l1.4 -1.2l0.2 -1.1l-0.9 0M62.6 11.8l0 1M63.1 7l1.3 -0.3l0.1 -1.1l2.3 0l3.5 0l4.1 -0.7M74.4 4.9l-1.8 1.4l-0.5 3.5l-3.9 1.8l-3.5 1.9l-2.1 -0.7M68.2 11.6l0.7 2.1l-3.8 1.2l1.7 1.8l-0.8 0.9l-1.5 0.2l-1.2 1.2l-1.7 -0.2M68.9 13.7l2.2 0.5l2.8 1.5l4.7 3.3l3.2 0.2l2.1 1l1.2 0M81.8 19.2l0.9 -1.6l1.5 0M74.4 4.9l4.4 0M78.8 4.9l1 2.1l1.5 0.7l-1.3 2l0.9 2.3l3.2 2.1l-0.2 1.7l1.4 1.8M78.8 4.9l-1.1 -2.3l0.6 -2.1l0.5 0l3 1.4l2.6 -1.4l1.6 2.3M78.3 0.5l-1.4 -0.9l-0.2 -1.5M78.8 0.5l1.2 -1.6l1.8 2l0 1M80 -1.1l-0.9 -1M75.3 41.5l0.9 -1.8l2.1 0l4.4 0.8l1.7 -2.2l7.1 -1.4l5.2 -1.7l1.3 -3.5l-0.9 -1.3l-4.6 -0.3l-1.7 -2.3M91.5 36.9l1.9 4.3M97.1 30.4l1.4 -2.3l0.7 -1.5M98.5 28.1l-0.4 -0.3l0.6 -3.2M89.3 26.9l0.9 0.2M95 4.7l2.6 -1.2l3.2 -0.3l2.1 0.8l1.7 0.9l3 1.1l0 1.7M107.6 7.7l-1 2l0 2.3l0.5 2.9l1.6 0.9l-1.6 2.1M107.1 17.9l1.4 2l1.9 0.9l0 1.7l0.9 0.9l-2.3 0.7l-0.7 1.9M107.1 17.9l2.8 0.7l2.7 -0.1l3.8 -0.6l0.4 -1.9l2.4 -0.9l2.7 -0.9l0.3 -1.9l1.4 -0.7l-0.5 -1l1.9 -0.8l0.9 -1.9l-0.1 -1.4l3.5 -1l2.4 -0.6M107.6 7.7l2.7 0.6l3.1 -1.8l2 -1.9l3.8 0.3l2.7 0.2l1.6 -0.9l0.5 -0.9l1.4 -0.3l0.5 2.6l3 -1l2.8 0.3M117 4.6l0.1 -1.1l-2.8 -1.7l-2.3 -0.7l-2.3 -1.1l-2.4 -2.1l-1.8 -1.1M119.2 4.9l1.1 -1.7l-1.2 -2.5l1.4 0l1.4 -1.1l1.9 0.2l0.4 -1.4l0.3 1.2l3.9 1.5l1.4 -0.2l-0.2 2.6l2.1 1.4M124.2 -1.6l2.4 -0.7l2 0.9l-2.5 1l-1.6 0M131.7 4.9l-0.7 -2.3l-1.2 -1.7l1.8 -1.8l3.5 -0.9l2.6 -0.5l3.4 -1.6M119.9 28.8l1.1 -1.2l3.7 -0.2l-1.4 -2.2l0.5 -2.3l-1.4 -0.4l1.4 -1.4l2.7 0l1.9 -2.1l1.6 -1.8l1.2 -1.5l-0.2 -1.6l1.4 -0.6l-1.7 -1.2l-0.7 -2.6l5.1 -2l1.7 0.2M131.7 4.9l2 2.1l3.1 0.9M136.8 7.9l2 1.9l-0.2 2l1.2 1.4l-1.4 1.7l4.1 2.3M142.5 17.2l-1.6 2.5l3 1.6l2.6 0.9l2.6 0.5l1.8 0.9l2.6 0.3l1.4 -0.2l0 -2.4M142.5 17.2l2.1 0.4l2.3 1.4l2.8 1.2l1.6 0.9l3.6 0.2l1.5 1M156.4 22.3l1.5 1.1l3 -0.2l1.1 -0.2l-0.7 -1.5l-2.5 -0.6l-1.4 0l-1 1.4M154.9 23.7l1.5 -1.4M161.3 21.5l4 -2l3.5 -0.9l2.3 2.2M156.5 32l0 -1.2l-0.3 -1.3l-0.2 -1.7l-1.1 -0.7l0.4 -1.1l1.1 -1l-0.8 -1.1l2 0.5l0.3 1.5l4.6 0.5l-0.3 1.2l-1.8 0.5l0.3 1.4l0.8 0l0.8 -0.8l0.6 3.1l-0.7 1.3l0.1 0.8M162.9 31.8l1 -0.5l0.2 -3.2l2.5 -2.4l0.8 -2.3l3.2 -1.8l0.5 -0.8M171.1 20.8l2.3 1.2l0.2 3l-1.9 1.7l0.1 1.4l2.1 0l0 1.4l1.1 0.6l-0.5 1.4l1.7 1.2l1.8 0.4l-1.9 1.5M176.1 34.6l-2 0.6l-1.7 0.5l-0.6 2.1l-0.3 1.2l2.1 2.7l-0.9 1.9l1.8 2.7l0 1.9l0.7 1.4l-1.1 1.8l-0.3 0.8l-0.4 0.7M176.1 34.6l0.7 1.5l1.2 0l-0.4 2.6l0.4 0.9l1.6 -1.3l1.2 0.6l1.1 -0.9l2.2 1.6l0.2 1.9l1.2 1.2l0 2.1M185.5 44.8l-1.2 0.2l-3.1 0.2l-0.9 1.2l-0.2 2l0.9 1.4M178 33.1l1 0l0 -2.1l0.7 0l1.1 1.2l0.4 1.4l2.6 0.9l-0.9 1.6l1.8 1.4l2.6 3l1.8 2.6l0 1.4M185.5 44.8l0.9 0.9l2.7 -1.2M189.1 44.5l0 4.2l-2.1 0.9l-0.7 0.5l0.5 0.9l-2 0.2l-1.2 0.9M179.7 31l3 -0.4l2.5 -1.2l2.5 0.9l0.1 1.4l2.1 0.8M176.1 59.1l1.7 1.2l1.2 -0.2l0.6 -0.7M192.8 66.8l0.7 1.4l2.6 0.4l1.2 -0.7l2.3 0.2l2.3 -1.3l1.2 -2.1l0.4 -1.7l3.3 0M200.7 62.3l1 1l1.1 -0.5l0 -1.1M248 74.9l0 11.5M219.8 85.7l0.2 1.2M221.8 4l1.6 -1l2.2 -0.5M218.6 0.2l2.1 -1.6l2.5 -1.8M620.1 4.9l-0.1 -1.4l0.8 -0.3l-0.5 -2.1l0.5 -0.6l0.2 -2.3l1.2 -1M45.7 -1.2l1.1 -1.1M35.2 0.5l1.2 -1l0.5 -1.1M427.2 13.2l4.2 -0.4l-0.2 0.4l6.6 2.1l5.1 0l0 -0.9l2.9 0l2.7 2l0.9 1.9l2.2 1l1.3 -1.4l1.9 0l1.2 1.3l2.2 2.8l0.8 1.9l3.2 0.9M471 44.8l0 -1.4l0.9 -1.4l2.3 0l0 -0.5l-1.8 -1.5l0.7 0l0 -1l3.3 0l0.6 -0.1l0.9 -1.1M476.4 39l-0.1 3.4l0.5 0M478 42.7l-1.7 1.4l-0.3 0.9l-1.3 1.2M476 45l1.5 0.7l1.2 1.1l0.2 0.3M479.6 47.5l1.1 -1.4l1.7 -0.4l1.4 -1.4l3 -0.3M482.4 50.8l1.4 0.2l2.1 0.2M487.9 53.5l-0.6 0.8l0 1.8M497 55.2l0.4 1.3l-1.3 1.2M507.8 49.5l-1.6 1.3l-1.4 3.2l1 1.6l0 1.7l0.9 0.7l3.2 0l1.2 1.6l3.3 -0.2l-0.5 1.6l0 2l0.9 1.4l-0.9 1l1.4 2.8l0.2 0M515.5 68.2l-0.4 -0.8l-1.7 0l-3 0l0 1l1 0.2l-0.3 0.5l-1.1 0.2l0 1.4l1.1 1.6l-0.9 5.4M510.2 77.7l-1.4 -0.7l1.1 -1.9l-3.2 -0.7l-1.9 0l-1.8 -2.3l-2.1 -1.6l-1.9 -0.9l-2.2 -0.5l-2.2 -1.2M500.9 70.5l-0.7 2.5l-1.8 1.9l-2.4 1.3l-0.7 0.8l-0.6 1.4l-0.7 0.7l-0.8 -0.8l-1.5 -0.2l0 -1.6l0.4 -0.2M510.2 77.7l-1.7 0.4l-3.4 1.2l-0.7 1.8l-1.4 2.1l0.5 0.2l1.3 2.8l1.2 0.9l0.2 0.8l2.8 -0.8l0 2.6l1.7 -0.1M510.7 89.6l1.6 2.7l-0.5 2.1l-0.7 2.3l0.3 0.9l0.7 1.4l-1.4 1.8l0.2 0.3l-1.6 1.5M510.9 101.1l1.1 2.7l0.7 1.7l0.5 2.7l0.7 2.2l1.1 0M515 110.4l0.3 0.4l-0.5 1.8l-2.1 1l0.3 3.4l-0.5 1l-1.9 2.5l-0.6 2.6l-0.8 2.1l0.8 3.7l0.4 1.8l-1.1 1.6l0 1.7l-1.2 0.7l0.2 3.4l-1.3 2.6l-0.1 3.5M515 110.4l1.7 -1.7l3 0.9l0.4 0.8l2.8 -1l0.2 0M523.1 109.4l0.5 -3l0.9 -1.6l4.9 -0.5l1.4 0.9l0.2 0.5M531 105.7l0.5 -1.9l0.5 -1.4l-1.6 -1.6l0 -1.8l-3.1 0l-0.6 -4.4l-2.6 -1l-1.8 -0.9l-2.4 -0.5l-1.6 -1.3l-0.2 -3.5l-2.1 0.4l-2.4 1.4l-2.9 0.4M531 105.7l0.3 3.5l2.5 0.2l1.4 0.3l0.5 2.9l1.9 0.1l-0.5 2.7M523.1 109.4l2.8 2.8l3.5 1.8l2.4 1l-1.7 3.2l3.7 0.3l1 -0.1l2.3 -3M537.1 115.4l1.4 0.1l0.2 2l-2.3 1.7l-1.4 1.1l-3.2 3.2M531.8 123.5l2.9 1l0.8 0.2l2.7 1.8l1 1.2l0 1.9M531.8 123.5l-1 3.1l-0.4 3.5M515.5 68.2l2.5 0.7l2.6 -1.2l-0.5 -1.7l1.5 0.3l-1.5 -2.1l-0.6 -1.1l3 0.7l0.4 -0.5l3 -0.9l0.5 -1.2M526.4 61.2l-1.2 -1.2l0.5 -1.4l1.4 -0.7l-0.7 -0.7l1.6 -1.4M526.4 61.2l1.2 0.4l0.2 1l0.7 0.9l-0.9 1.9l0.7 1.8l1.4 1l1.4 -0.5l1.3 -0.9l1.4 0.2M533.8 67l-1.4 -2.5l-1.3 -1.2l0.2 -1.4l1.1 -0.9l0.3 -1.2M533.8 67l1 -0.2l-0.1 -0.5l2.4 0l2 0l1.5 -0.3l1.6 -3M537.1 66.3l0.7 -1.2l-0.5 -3.2l0.9 -1.6M507 35.7l0 1.9l-0.5 0l0.5 1.1" fill="none" stroke="#555" stroke-width="1.65" stroke-linejoin="round"/>
<path d="M432.6 5.3l34.1 0M466.7 6.2l7.9 0l-0.3 0.8l1.1 0M475.7 6.2l2.6 0l0 -0.3l7.6 0.1l3.6 0l10.2 0.1M453.7 0l11.8 0M422.1 -3.5l0 5.3l9.5 7l-0.2 4M432.6 -3.5l0 10.2l-1.2 0.2l0.2 1.9M441.4 15.3l0 -18.8M445.7 14.1l6.2 0l0 -8.8M451.9 6.2l5.4 0l0 3.3l1.4 0.5l2.1 0.4l1.8 0.5l1.7 0l2.6 0.4l0.8 0.1l0 2.7l0.7 1.7l-0.2 2.3M467 11.3l0 -3.2l-0.3 -1.9l0 -4.6l-1.2 -1.6M467.7 12.3l5.1 0M475.7 17.2l-0.3 -1.4l-3.4 0l1.1 -1.7l-0.3 -1.8l1 -2.6l0.9 -0.9l0.9 -2.1l0.7 -1.4l-0.6 -1.4l-1.2 -1.8l-0.9 -0.9l-1.2 -1.2l0 -0.7l0.7 -1.1M478.2 8.8l-0.5 5.4l0 2.9M482.6 8.8l0.7 3.7l0.4 3.3M479.3 17.1l-0.2 -1.3l4.6 0l0.1 0.6l4.8 0.1l0.3 0.4l0.9 -0.5M474.3 8.8l10.6 0l2.1 0l1.4 -0.4l2.3 0.2l0.3 0.5l2 0l2.1 1.7M487 8.8l1.9 2.6l1.6 2.5M484.9 8.8l2.3 -1.4l2.3 -1.4M478.4 3.9l0.9 -2.7l0 -4.7M484 1.6l0 -5.1M476.3 5.3l2.1 -1.4l1.7 -0.2l1.8 -0.2l1.1 -1.2l1 -0.7l1.4 0.5l2.5 0.7l1 -0.9l0.6 -0.5l1.4 -0.9l0.7 -1.6l0 -2.4M485.9 6l3 -1.6l-1 -1.2M489.1 4.4l2.8 0l1.4 -1.8l2.1 -1.5l1.1 0.1l1.2 0.7l1.3 1.6M491.6 0.5l8.2 0l0 2.2l1.4 0M493.3 0.5l0 0.9l2.1 -0.3M500.4 0.4l1.4 -0.8l-0.9 -0.8l0.9 -1.3M453.7 5.3l0 -8.8M437.8 -1.8l15.9 0M437.8 -3.5l0 1.7M465.5 0l-0.8 -1.1l-0.4 -1.5" fill="none" stroke="#555" stroke-width="2" stroke-linejoin="round"/>
<path d="M0 70.3 H633.1" stroke="#444" stroke-width="1.5" stroke-dasharray="4.5 5.5" stroke-dashoffset="1.6" fill="none"/>
<path d="M316.6 0 V140.7" stroke="#444" stroke-width="1.5" stroke-dasharray="4.5 5.5" stroke-dashoffset="0" fill="none"/>
<g transform="translate(152.1 56.3)"><path d="M-4.3-1.5Q-4.2-6.3 2.1-7.7M4.3 1.5Q4.2 6.3-2.1 7.7" fill="none" stroke="#000" stroke-width="4.2" stroke-linecap="round"/><circle r="5.7" fill="#000"/><path d="M-4.3-1.5Q-4.2-6.3 2.1-7.7M4.3 1.5Q4.2 6.3-2.1 7.7" fill="none" stroke="#e00000" stroke-width="2.2" stroke-linecap="round"/><circle r="4.7" fill="#e00000"/><text x="0" y="3" text-anchor="middle" font-size="8.2" font-weight="bold" fill="#fff" stroke="none">N</text></g>
<g transform="translate(217.2 50.5)"><path d="M-4.3-1.5Q-4.2-6.3 2.1-7.7M4.3 1.5Q4.2 6.3-2.1 7.7" fill="none" stroke="#000" stroke-width="4.2" stroke-linecap="round"/><circle r="5.7" fill="#000"/><path d="M-4.3-1.5Q-4.2-6.3 2.1-7.7M4.3 1.5Q4.2 6.3-2.1 7.7" fill="none" stroke="#e00000" stroke-width="2.2" stroke-linecap="round"/><circle r="4.7" fill="#e00000"/><text x="0" y="3" text-anchor="middle" font-size="8.2" font-weight="bold" fill="#fff" stroke="none">T</text></g>
<g transform="translate(493.7 49.8)"><path d="M-4.3-1.5Q-4.2-6.3 2.1-7.7M4.3 1.5Q4.2 6.3-2.1 7.7" fill="none" stroke="#000" stroke-width="4.2" stroke-linecap="round"/><circle r="5.7" fill="#000"/><path d="M-4.3-1.5Q-4.2-6.3 2.1-7.7M4.3 1.5Q4.2 6.3-2.1 7.7" fill="none" stroke="#e00000" stroke-width="2.2" stroke-linecap="round"/><circle r="4.7" fill="#e00000"/><text x="0" y="3" text-anchor="middle" font-size="8.2" font-weight="bold" fill="#fff" stroke="none">O</text></g>
</svg>
<path d="M0 0v-4.8M0 140.7v4.6M105.5 0v-4.8M105.5 140.7v4.6M211.1 0v-4.8M211.1 140.7v4.6M316.6 0v-4.8M316.6 140.7v4.6M422.1 0v-4.8M422.1 140.7v4.6M527.6 0v-4.8M527.6 140.7v4.6M633.1 0v-4.8M633.1 140.7v4.6M0 123.1h-4.8M633.1 123.1h4.6M0 70.3h-4.8M633.1 70.3h4.6M0 17.6h-4.8M633.1 17.6h4.6" stroke="#000" stroke-width="2.6" stroke-linecap="round" fill="none"/>
<path d="M17.6 0v-3.4M17.6 140.7v3.4M35.2 0v-3.4M35.2 140.7v3.4M52.8 0v-3.4M52.8 140.7v3.4M70.3 0v-3.4M70.3 140.7v3.4M87.9 0v-3.4M87.9 140.7v3.4M123.1 0v-3.4M123.1 140.7v3.4M140.7 0v-3.4M140.7 140.7v3.4M158.3 0v-3.4M158.3 140.7v3.4M175.9 0v-3.4M175.9 140.7v3.4M193.5 0v-3.4M193.5 140.7v3.4M228.6 0v-3.4M228.6 140.7v3.4M246.2 0v-3.4M246.2 140.7v3.4M263.8 0v-3.4M263.8 140.7v3.4M281.4 0v-3.4M281.4 140.7v3.4M299 0v-3.4M299 140.7v3.4M334.2 0v-3.4M334.2 140.7v3.4M351.8 0v-3.4M351.8 140.7v3.4M369.3 0v-3.4M369.3 140.7v3.4M386.9 0v-3.4M386.9 140.7v3.4M404.5 0v-3.4M404.5 140.7v3.4M439.7 0v-3.4M439.7 140.7v3.4M457.3 0v-3.4M457.3 140.7v3.4M474.9 0v-3.4M474.9 140.7v3.4M492.4 0v-3.4M492.4 140.7v3.4M510 0v-3.4M510 140.7v3.4M545.2 0v-3.4M545.2 140.7v3.4M562.8 0v-3.4M562.8 140.7v3.4M580.4 0v-3.4M580.4 140.7v3.4M598 0v-3.4M598 140.7v3.4M615.6 0v-3.4M615.6 140.7v3.4M0 105.5h-3.4M633.1 105.5h3.4M0 87.9h-3.4M633.1 87.9h3.4M0 52.8h-3.4M633.1 52.8h3.4M0 35.2h-3.4M633.1 35.2h3.4" stroke="#000" stroke-width="1.7" fill="none"/>
<rect x="0" y="0" width="633.1" height="140.7" fill="none" stroke="#000" stroke-width="2.8"/>
</g>
<text class="k" x="100.7" y="676.6" font-size="34.9">21-Nov to 30-Nov</text>
<text class="k" x="74.7" y="714.4" font-size="35" text-anchor="end">30N</text>
<text class="k" x="74.7" y="767.1" font-size="35" text-anchor="end">0</text>
<text class="k" x="74.7" y="819.9" font-size="35" text-anchor="end">30S</text>
<text class="k" x="102.3" y="880" font-size="35" text-anchor="middle">0</text>
<text class="k" x="207.8" y="880" font-size="35" text-anchor="middle">60E</text>
<text class="k" x="313.4" y="880" font-size="35" text-anchor="middle">120E</text>
<text class="k" x="418.9" y="880" font-size="35" text-anchor="middle">180</text>
<text class="k" x="524.4" y="880" font-size="35" text-anchor="middle">120W</text>
<text class="k" x="629.9" y="880" font-size="35" text-anchor="middle">60W</text>
<text class="k" x="735.4" y="880" font-size="35" text-anchor="middle">0</text>
<g transform="translate(844.8 684.4)">
<svg x="0" y="0" width="633.1" height="140.7" viewBox="0 0 633.1 140.7" overflow="hidden">
<rect width="633.1" height="140.7" fill="#f8f8f8"/>
<ellipse cx="93.3" cy="88.1" rx="2.7" ry="3.4" fill="#d1e5f0"/><ellipse cx="276.3" cy="127.9" rx="2.7" ry="3.6" fill="#d1e5f0"/><ellipse cx="311.7" cy="4.1" rx="11.3" ry="4.5" fill="#fddbc7"/><ellipse cx="318.7" cy="3.2" rx="18" ry="4.5" fill="#fddbc7"/><path d="M385.1 -9C390.6 -13.5 410.9 -12.5 415.5 -9C420.2 -5.5 413.9 5.9 411 10.4C408.2 14.9 404.4 15 399.8 16C395.1 17 387.8 20.5 385.1 16C382.5 11.5 379.7 -4.5 385.1 -9Z" fill="#d1e5f0"/><ellipse cx="389.6" cy="55.4" rx="18" ry="2.3" fill="#fddbc7"/><ellipse cx="489.8" cy="83.5" rx="1.8" ry="6.8" fill="#fddbc7" transform="rotate(-15 489.8 83.5)"/><ellipse cx="341.2" cy="100" rx="5.6" ry="5.6" fill="#d1e5f0"/><ellipse cx="585.5" cy="8.1" rx="4.1" ry="6.8" fill="#d1e5f0"/><ellipse cx="485.3" cy="39.6" rx="2.3" ry="3.4" fill="#d1e5f0"/>
<path d="M-10.4 7.4l1.1 -0.2l1.4 1.2l2.6 -0.1l1.4 0.3l2.1 -1l1.8 -0.4l2.6 -1l2.7 -0.6l3.5 0l3.5 -0.3l2.8 0.2l2.1 -0.8l0.9 0.6l1.2 0l-0.7 1l-0.1 1.4l0.8 0.7l-1.4 1.6l1.3 1.1l1 0.9l1.8 0.5l1.2 0l3.5 0.9l0.6 1.5l2.6 0.9l3.5 1.3l1.8 -1.3l0 -2.3l2.6 -1l2.7 0.5l3.5 1.6l3.5 0.7l3.5 0.7l1.8 -0.9l1.7 -0.2l2.3 0.4l0.4 2.5l0.3 1.5l1.4 1.8l0.9 1.8l0.9 1.7l0.9 1.8l0.8 1.7l0.2 1.8l2.3 1.8l0.5 1.7l0 2.5l1.4 1.9l1.1 0.9l1.2 3.5l0.4 0.7l1.7 1.1l1.3 0.8l2.2 2.3l1.3 1.3l0.2 1.5l-0.6 0.2l1.8 1.8l1.7 0.2l1.8 -0.6l2.6 -0.7l2.7 -0.3l2.6 -1.1l1.2 0l-0.3 2.5l-0.9 2.6l-1.2 1.8l-1.4 2.6l-1.8 3.5l-1.7 2.7l-1.8 1.4l-1.2 0.3l-2.3 1.8l-2.7 2.3l-1.7 2.4l-1.8 1.4l-0.9 1.8l-0.7 1.1l-1 2.4l-0.4 1.8l0.9 0.5l0.4 2.1l0.1 2.7l1.5 1.7l0.1 2.7l0.2 3.5l0.2 1.7l-1.6 2.3l-3.2 1.8l-1.7 1l-1.3 1.6l-1.7 1.6l-0.9 0.2l-0.2 1.2l1.1 1.8l0.3 2.6l-0.1 1.8l-3.4 2.1l-1.6 1.2l0.6 1.6l-0.4 2.1l-1.2 1.8l-1.8 1.5l-1.4 2l-2.1 2.3l-1.8 1.2l-2.6 1.4l-1.6 0.3l-2.8 0.2l-3.5 0.2l-3.5 1.1l-2.1 -0.9l-0.7 -0.6l-0.4 -2.1l0.2 -1.7l-1.8 -2.3l-1.4 -3.3l-1.7 -2l-0.9 -1.7l-0.4 -2.7l-0.5 -3.9l-1.8 -3.1l-1.7 -3.5l-1.2 -2.7l0 -2.6l0.7 -1.8l0.5 -2.6l1.7 -2.1l0.6 -2.3l-0.7 -2.6l-0.4 -1.3l-0.7 -2.3l-0.9 -2.6l-0.1 -1.8l-0.7 -0.8l-1.5 -1.3l-2.1 -2.3l-1.4 -2.2l-0.3 -0.9l1.2 -2l0.2 -1l0.3 -2.3l0 -2.1l-0.5 -0.9l-1 -0.9l-1.1 0l-2.3 0.4l-1.7 0l-1.3 -1.6l-1.4 -1.8l-1.9 -0.3l-1.8 0.2l-2.1 0.3l-2.1 0.7l-1.8 1.1l-1.7 0.5l-1.8 -0.5l-1.7 -0.2l-2.7 0.2l-3.5 1.2l-2.6 -1.4l-3.2 -1.9l-1.2 -1.1l-1.8 -1l-1.2 -1.8l-0.2 -1.4l-0.7 -0.4l-1.4 -1.7l-0.9 -0.9l-1.7 -1.4l-1.3 -1.1l-0.1 -1.4l0.3 -0.5l-0.9 -1.6l-0.7 -0.5l0.7 -0.5l1.1 -1.8l0.3 -1.7l0.6 -1.8l-0.4 -2.3l-0.5 -0.3l0.3 -1.8l-1.2 -0.9l0 -1.4l1.2 -2.1l0.7 -1.4l1.6 -1.6l0.4 -1.4l0.7 -1.2l1.6 -1.4l0.8 -1.4l2.7 -0.9l2.3 -1.6l0.8 -1.6l-0.1 -2.3l0.8 -1.9l1.5 -1.4l1.5 -0.5l1.4 -0.7l0.9 -1.8l0.7 -1.4M622.8 7.4l1 -0.2l1.4 1.2l2.7 -0.1l1.4 0.3l2.1 -1l1.7 -0.4l2.7 -1l2.6 -0.6l3.5 0l3.6 -0.3l2.8 0.2l2.1 -0.8l0.9 0.6l1.2 0l-0.7 1l-0.2 1.4l0.9 0.7l-1.4 1.6l1.2 1.1l1.1 0.9l1.7 0.5l1.3 0l3.5 0.9l0.5 1.5l2.6 0.9l3.6 1.3l1.7 -1.3l0 -2.3l2.7 -1l2.6 0.5l3.5 1.6l3.5 0.7l3.6 0.7l1.7 -0.9l1.8 -0.2l2.3 0.4l0.3 2.5l0.4 1.5l1.4 1.8l0.8 1.8l0.9 1.7l0.9 1.8l0.9 1.7l0.2 1.8l2.2 1.8l0.6 1.7l0 2.5l1.4 1.9l1 0.9l1.3 3.5l0.3 0.7l1.8 1.1l1.2 0.8l2.3 2.3l1.2 1.3l0.2 1.5l-0.5 0.2l1.7 1.8l1.8 0.2l1.8 -0.6l2.6 -0.7l2.6 -0.3l2.7 -1.1l1.2 0l-0.4 2.5l-0.8 2.6l-1.3 1.8l-1.4 2.6l-1.7 3.5l-1.8 2.7l-1.7 1.4l-1.3 0.3l-2.3 1.8l-2.6 2.3l-1.8 2.4l-1.7 1.4l-0.9 1.8l-0.7 1.1l-1.1 2.4l-0.3 1.8l0.9 0.5l0.3 2.1l0.2 2.7l1.4 1.7l0.2 2.7l0.2 3.5l0.1 1.7l-1.6 2.3l-3.1 1.8l-1.8 1l-1.2 1.6l-1.8 1.6l-0.8 0.2l-0.2 1.2l1 1.8l0.4 2.6l-0.2 1.8l-3.3 2.1l-1.6 1.2l0.5 1.6l-0.3 2.1l-1.3 1.8l-1.7 1.5l-1.4 2l-2.1 2.3l-1.8 1.2l-2.6 1.4l-1.6 0.3l-2.8 0.2l-3.6 0.2l-3.5 1.1l-2.1 -0.9l-0.7 -0.6l-0.3 -2.1l0.1 -1.7l-1.7 -2.3l-1.4 -3.3l-1.8 -2l-0.9 -1.7l-0.3 -2.7l-0.5 -3.9l-1.8 -3.1l-1.8 -3.5l-1.2 -2.7l0 -2.6l0.7 -1.8l0.5 -2.6l1.8 -2.1l0.5 -2.3l-0.7 -2.6l-0.3 -1.3l-0.7 -2.3l-0.9 -2.6l-0.2 -1.8l-0.7 -0.8l-1.4 -1.3l-2.1 -2.3l-1.4 -2.2l-0.4 -0.9l1.3 -2l0.1 -1l0.4 -2.3l0 -2.1l-0.5 -0.9l-1.1 -0.9l-1.1 0l-2.2 0.4l-1.8 0l-1.2 -1.6l-1.4 -1.8l-2 -0.3l-1.7 0.2l-2.1 0.3l-2.2 0.7l-1.7 1.1l-1.8 0.5l-1.7 -0.5l-1.8 -0.2l-2.6 0.2l-3.5 1.2l-2.7 -1.4l-3.1 -1.9l-1.3 -1.1l-1.7 -1l-1.3 -1.8l-0.1 -1.4l-0.7 -0.4l-1.5 -1.7l-0.8 -0.9l-1.8 -1.4l-1.2 -1.1l-0.2 -1.4l0.4 -0.5l-0.9 -1.6l-0.7 -0.5l0.7 -0.5l1 -1.8l0.4 -1.7l0.5 -1.8l-0.3 -2.3l-0.6 -0.3l0.4 -1.8l-1.2 -0.9l0 -1.4l1.2 -2.1l0.7 -1.4l1.6 -1.6l0.3 -1.4l0.7 -1.2l1.6 -1.4l0.9 -1.4l2.6 -0.9l2.3 -1.6l0.9 -1.6l-0.2 -2.3l0.9 -1.9l1.4 -1.4l1.6 -0.5l1.4 -0.7l0.9 -1.8l0.7 -1.4M86.7 91.5l1.2 2.6l0.9 3.2l-1.2 0.3l-0.2 2.3l-0.5 2.1l-1.1 3.5l-1.4 4.4l-1.4 4.1l-1.2 0.7l-2.3 0.5l-2.1 -0.9l-0.7 -2.6l-0.5 -2.7l1.7 -2.6l0.2 -1.8l-0.7 -2.6l0.7 -3l2.8 -1l1.8 -0.9l1.5 -1.6l1.5 -1.8l1 -2.2M-15.5 -2.6l-0.2 2.6l-0.8 1.2l-0.2 1.1l1.2 0.5l0 0.9l-0.3 1.6l1.7 0l1.1 -0.4l1.7 0.7l0.7 1.1l0.8 0.3l0.5 -0.3l1.6 -0.9l2.4 0l1.4 -0.2l0.9 -0.9l1.6 -0.5l0.5 -1.2l1.3 -0.9l-0.9 -1.2l0.9 -1.3l1.2 -1l1 -0.7l2.7 -1.1M617.7 -2.6l-0.2 2.6l-0.9 1.2l-0.2 1.1l1.3 0.5l0 0.9l-0.4 1.6l1.8 0l1 -0.4l1.8 0.7l0.7 1.1l0.7 0.3l0.5 -0.3l1.6 -0.9l2.5 0l1.4 -0.2l0.9 -0.9l1.5 -0.5l0.6 -1.2l1.2 -0.9l-0.9 -1.2l0.9 -1.3l1.2 -1l1.1 -0.7l2.6 -1.1M4.2 0.7l1.3 -0.6l0.5 0.4l-0.5 0.7l-0.8 -0.3l-0.5 -0.2M2.1 1.9l0.5 -0.3l0.2 0.3l-0.7 0M14.4 -1.8l0.4 1.3l0 1.9l1 0.4l0.9 -0.4l0.4 -1.4l0 -1.4l-0.7 -0.7l-2 0.3M21.8 3.5l1.6 -0.3l4 -0.2l-0.8 1.4l0.3 1.4l-1.7 -0.3l-3.2 -1.3l-0.2 -0.7M21.6 -3.2l2.7 1.1l0.9 0.7l1.2 1l1.2 0.4l0.7 1.8l-0.7 1.7l0.7 0.2l0.9 -1.1l0.9 -0.8l-1.1 -1.3l0.7 -1.2l2 0.7l0.8 -0.2l-0.8 -0.9l-1.8 -0.7l-1.8 -0.8l0 -0.9M34.1 -3.3l0 0.8l-0.2 1.6l1.3 1.4l1.2 1.4l0.9 1.1l0.9 0.2l-0.7 0.8l0.7 1.6l1.2 0.6l0.7 -0.4l0.5 0.4l0.2 -1.5l-0.7 -0.3l1.2 0l0.9 -0.4l0 -0.8l-1.2 -0.7l-0.7 -1.3l-0.6 -1.2l0.6 -0.9l1 0.5l0.9 0.4l0.7 -1.2l1.1 -0.6l1.7 0.6l0.4 0.7l0 1.4l1 0.9l-0.8 1.2l1.5 1.4l0.4 0.9l1.4 0.5l1.6 0.4l2.4 0.3l0.4 -1l2.3 0.7l2.6 0.7l2 -1.3l1.7 0.4l1.1 -0.2l-0.6 1.2l-0.1 0.9l0.1 1.8l-0.7 1l-0.7 1.4l-0.3 1.1l-0.4 0.9l-0.9 1.2l-1.2 0.4l-2.1 -0.4M46.1 -0.5l1.4 -0.4l1.7 0.2l1.8 0l1.6 -0.5l-1.6 -0.6l-1.8 0l-1.2 0.6l-1 0.3M40.8 1.9l1.4 0.6l0.9 1l-0.9 -0.3l-1 -0.7l-0.4 -0.6M41.3 7.9l1.3 0.2l1.4 0l2.3 0.2l-0.2 0.5l-2.5 0.2l-2.1 -0.6l-0.2 -0.5M48.9 6.7l0.7 -0.4l-0.2 0.7l-0.5 -0.3M45.6 1.4l1 -0.3l0 0.7l-1 -0.4M56.8 8.8l1.2 0.7l1.8 -0.7l1.1 -1.2l-1.6 0.5l-1.4 0.2l-1.1 0.5M57.2 17.8l1.2 2.4l1.7 1.4l0.6 -1.4l0.7 -1.7l0.2 2.4l0.8 1.1l1.8 2.6l1.2 2.1l1.4 1.4l1.8 3.6l0.2 0.8l1.5 2.3l1.8 2.1l0.9 1.8l1.7 2.1l0.6 2.3l0.7 2.6l0.2 1.4l0.3 0.9l2.6 -0.2l2.7 -1l2.6 -1.1l2.7 -1.2l2.6 -0.9l2.1 -0.7l0 -1.4l2.3 -0.5l1.8 -0.5l1.4 -0.9l2.1 -0.9l0.8 -1.8l1.5 0l-0.2 -2.1l1.4 -0.5l0.7 -1.6l1.6 -1.9l-1.4 -1.3l-0.9 -0.7l-2.1 -0.7l-1.4 -1.4l-0.2 -2.4l-0.5 0.3l-0.2 0.6l-1.2 0.7l-1.6 1.5l-2.5 0.6l-2.1 0.1l-0.5 -1l0.2 -2.1l-0.8 -0.6l-0.7 1.1l-0.1 1.2l-0.9 -1.4l0 -1.6l-1.2 -1.2l-1.3 -0.9l-0.5 -1.4l-0.9 -1.4l-0.3 -1l1.2 -0.2l0.9 -0.7l1.7 0.3l1.4 2.1l1.3 2l1.9 0.9l1.6 1.2l2.1 0.3l1.6 -0.5l1.2 -0.5l1.2 0.5l0.6 1.8l1.2 0.3l2.6 0.4l2.7 0.3l1 0l2.5 0l2.6 -0.1l2.7 -0.2l1 0.7l0.7 0.3l0.9 1.6l1.2 0.5l1.1 0.7l2.1 0.6l-1.7 0.9l0 0.3l1.7 2.1l1.8 0.5l1.7 -0.7l0.4 -1.2l0.7 -0.9l0.3 1.4l0 0.9l0 3.5l0.7 2.7l0.6 2.6l0.5 1.1l1.1 2.4l0.7 2l1.4 2.4l1 2.7l0.5 1.7l0.9 1.3l0.9 0.3l1.2 -1.2l1.4 -0.9l0.6 -1.8l1 0l-0.2 -2.1l0.9 -2.8l-0.3 -2.5l0.2 -1.7l1.4 -0.9l2.2 -1l1.8 -2l2.6 -2.3l1.3 -1.2l1.7 -0.9l0.9 -1.4l0 -0.9l1.8 -0.3l1.7 -0.2l2.3 -0.3l0.9 -0.9l1.2 -0.4l0.6 0.7l0.7 2.3l0.1 0.5l1.1 1.3l1.4 1.2l1.1 1.4l0.3 1.8l-0.5 2.6l1.7 0.4l1.4 -0.9l1.4 -0.9l0.8 0l0.7 0.9l0.1 2.3l0.7 1.7l0.7 1.8l0.2 1.7l0.2 2.7l-0.4 1.2l-0.5 2.3l0.2 1.1l1.2 1.2l1.2 0.7l0.9 1l0.4 1.5l0.5 1.9l1.1 2.3l0.1 0.5l1.4 0.9l2.2 1.4l0.3 0.2l1.1 -0.2l0 -1.1l-1.3 -1.4l-0.1 -1.7l0 -1.3l-0.7 -1.7l-1.3 -1.3l-1 -1l-1.4 -0.4l-0.7 -0.5l-0.7 -2.1l-0.4 -1.4l-1.1 -0.4l-0.1 -1.7l0.8 -2.1l0.6 -1.4l0 -1.4l0.9 -0.4l0.8 0.4l0 1.2l1.8 0.5l1.2 0.9l0.6 1.1l1 1.2l1.6 0.2l0.9 0.7l-0.4 2.2l1.2 -0.5l1.8 -1l0.5 -1.3l0.7 -0.1l1.4 -0.6l1.8 -1.2l0.5 -1.4l0 -1.4l-0.1 -1.4l-0.6 -2.5l-1 -1.6l-1.4 -1l-1.6 -1.6l-0.5 -1.1l-1.1 -1.2l0.4 -1.6l1.2 -1l0.7 -0.9l1.7 -1.1l1.1 -0.3l1.1 0.3l0.8 0.2l0.2 1.8l0.7 0.1l0.5 -1.4l0.9 -0.7l1.8 -0.5l1.7 -0.3l1.1 -0.6l1 0l1.5 -0.7l2.6 -0.5l0.9 -1.1l1.7 -1.5l1.8 -1.4l1 -1.3l0.8 -1.7l1.4 -1.8l1.4 -1.8l0.7 -1.4l-1.3 -0.8l1.1 -1.1l0 -1.1l-1.6 -1.4l-0.3 -1.2l-0.9 -2.1l-2 -1.4l1.1 -1.1l0.9 -0.7l1.2 -1l2.6 -0.5l0.2 -0.9l-1.9 -0.2l-1.4 -0.5l-1.6 0.8l-1.4 0l-0.2 -1.2l-1.6 -0.5l-0.5 -0.9l0.2 -0.7l1.2 0.2l1.4 -0.7l0.9 -0.9l2.1 -1.4l1.4 -0.2l0.7 0.7l-1.2 1.6l-0.5 1.4l1.4 -0.5l1.7 -1.1l2.3 -0.3l1.2 0.5l0.6 1.1l-0.2 0.8l-0.7 0.9l1.2 0.5l1.8 0l0.5 1.3l-0.9 0.9l0.4 0.8l0.2 0.9l-0.6 1.2l0.6 0.9l1.5 -0.7l1.8 -0.3l1.1 -0.4l0.5 -1.6l0 -1.7l-0.7 -1.3l-0.7 -1l-1.1 -1.2l-0.9 -0.6l0 -0.8l1.4 -0.8l2.5 -1l0.2 -1.2l1.2 -1.4M87.1 -3.2l-0.2 2.7l1.6 -0.2l-1.4 0.7l-0.9 1.2l-0.2 1.6l1.1 1.6l1.7 0.9l1.8 0.7l2.6 -0.4l1.8 -0.1l-0.2 -1.1l0 -2.5l-1.2 -0.7l0.7 -1.2l-1.4 -0.9l0.3 -0.9l1.8 -0.8l-1.8 -0.9M140.5 53.1l1.6 1.4l0.9 0.9l1 2.1l-0.3 1.4l-1.9 1.1l-1.1 -0.6l-0.4 -1.4l0 -1.7l0.4 -1.8l-0.2 -1.4M191.2 36.4l1.4 -1.2l1.9 -0.2l0.7 0.9l-0.9 1.4l-1.5 1l-1.6 -0.7l0 -1.2M213.7 25.9l0.9 0.5l-0.7 1.7l-0.4 1.8l-0.9 1.8l-1 -1.1l-0.4 -1.2l0.7 -1.8l0.9 -1.2l0.9 -0.5M246.8 -2.1l1.9 -0.4l0.2 0.7l0.7 1.8l0.1 0.9l-0.8 2.1l-0.9 0.9l0 1.6l-0.7 1l0.5 1.1l-1 0.8l-0.9 0.4l0 -1.1l-0.4 0.7l-0.9 0.2l-0.3 0.9l-0.7 -0.7l-0.5 0.7l-2.2 0l-0.1 -0.7l0 1.2l-1.1 0.6l-0.9 0.8l-1.2 -0.7l0.2 -0.7l0.3 -0.7l-1.5 0l-1.8 0.5l-1.9 0.2l-1.6 0.6l-0.9 0l0 -0.8l1.2 -0.5l1.8 -1.2l1 -0.4l1.8 0l1.8 -0.1l1.2 0l0.2 -1.1l1 -0.9l0.5 -1.2l0.6 0l-0.6 1.2l1.8 -0.5l1.4 -1.2l1.1 -0.9l0.7 -1.2l0.3 -1.4l-0.2 -1.3l0.8 -1.2M233 10.9l0.9 -0.3l1.8 -0.8l1.2 0.6l0 0.5l-0.9 0.9l-1.2 -0.4l-0.9 1.3l-0.9 -0.4l-0.3 -0.9l0.3 -0.5M230.2 10.7l1.4 0.6l0.4 0.7l-0.2 1.2l-0.7 1.7l-0.7 0.6l-0.5 0.3l-0.9 -0.5l0 -1.6l0.5 -0.9l-1.2 0l-0.2 -1l1.1 -0.5l1 -0.6M224.6 24.4l0.9 -1.2l-0.6 0.5l-0.3 0.7M227.4 20.8l0.7 -0.6l-0.5 0.6M222 11.8l1.2 -0.4l-0.5 0.6l-0.7 -0.2M212.1 37.8l2.8 0l0 2.7l-1 1.7l0 1.8l0.1 1.2l1.4 0.2l1.5 0.5l1.2 1.6l0.2 0.7l-1.4 -0.7l-1.3 -0.5l-1 -0.9l-1.3 0.3l-1.2 -0.7l0.5 -1l-1 -0.4l-0.5 -1.2l-0.4 -1.4l0.9 -0.5l0.2 -1.6l0.3 -1.8M220.7 53.1l1.4 2.3l0.4 2.1l-0.7 1.8l-0.7 -1.1l-0.6 1.6l-0.5 0.3l-1.6 -0.7l-0.3 -1.4l-1.1 -0.8l-1 0.1l-1.3 0.9l-0.1 -1.2l1.4 -1.2l1 -0.6l0.7 0.9l0.9 -0.7l0.9 -0.7l0.7 -0.4l0.5 -1.2M218.6 48.4l1.8 0l0.7 2.3l-1.3 0.3l-0.3 1.4l0.7 0l-0.5 -1.2l-0.9 -0.9l0.9 -0.7l-1.1 -1.2M216.2 51l1 0.4l-0.3 1.5l-0.6 1.4l-0.9 -1l0.6 -1.1l0.2 -1.2M214.6 49.4l1.9 0.7l-0.9 1.6l-1.2 0.2l0.2 -2.5M218.1 50.7l-0.5 1.7l-0.7 1.2l0.5 -1.4l0.7 -1.5M210.2 50.3l-0.6 1.8l-1.5 2.1l-2 1.4l0.6 -0.9l1.7 -1.9l1.4 -1.8l0.4 -0.7M211.8 46.8l1.4 0l0.5 1.6l-0.7 0.5l-0.7 -1.2l-0.5 -0.9M167.6 60.5l3.9 0.7l1.4 1.6l1.2 1.2l2.3 1.6l1.2 0.9l2.1 1.6l2.2 1.2l0.7 1.6l1.2 1.6l0.7 1.9l1.9 1.6l-0.1 2.3l-0.2 2.3l-1.1 0l-1 -0.4l-0.6 -0.9l-2.2 -1.6l-1.3 -0.5l-1.7 -2.5l-1.6 -2.6l-1.3 -1.8l-1.2 -2.1l-0.5 -1l-1.8 -1.2l-1.2 -1.5l-1.4 -1.2l-1.6 -2.1l0 -0.7M185 82.3l1.4 -1.6l1.4 0.4l2.7 0.5l0.7 0.7l3 0.2l0.8 -0.9l1.1 0.5l1.9 0.4l0.4 0.7l1.2 0.7l1.6 0.2l0.2 1.6l-2.3 -0.8l-3 0l-2.6 -0.7l-2.7 -0.1l-1.7 -0.2l-2 -0.5l-2.1 -1.1M191.7 67.7l1.1 -0.9l1.2 0.6l1.6 0.3l0.3 -1.7l2.8 -1.3l1.8 -2.3l1.8 -0.8l1.7 -1.8l1.2 -1.8l1.5 0.9l0.3 1.1l1.6 0.7l1 0.5l-1.5 1.2l-1.3 0.6l0 1.2l0.7 1.8l1.6 2.6l-1.9 0.3l-0.5 2.7l-1.3 1l-0.9 1.8l0.2 2.1l-0.7 0.5l-2.4 0.4l-0.2 -1.1l-1.8 -0.1l-2.6 0.1l-0.7 -0.7l-2.5 -0.1l-0.3 -2.5l-1.4 -1.8l-0.4 -1.7l0 -1.8M210.7 68.9l1.8 -0.8l3.7 0.7l2.4 0.8l1.6 -1.9l-1.2 1.9l-2.1 0.2l-3.2 -0.3l-2.3 0.3l-0.2 2l1.6 1l2.1 -0.9l2.1 0l-1 1.1l-2 0.7l1.3 2.3l0.9 1.7l-0.8 2l-1.5 -0.9l-0.2 -1.4l-0.9 -2.3l-1.2 0.4l0.2 2.8l0 1.7l-1.6 0l0 -2.6l-1.3 -2.1l0.9 -2.7l0.9 -1.9l0 -1.8M230.4 71.8l2.6 -0.7l2.7 0.7l0.3 2.6l1.4 1.8l1.8 -1.8l2.6 -1.2l2.7 0.7l3.5 1l3.5 1.4l2.6 0.9l2.3 2.3l2.1 1.4l1.4 0.9l-1.4 0.5l1.8 2.1l1.8 1.8l1.7 2.1l1.4 0.2l-1.7 0.1l-3.2 -0.5l-1.8 -1l-1.7 -2.5l-2.7 -0.9l-1.7 1.1l-0.9 1.7l-1.8 0l-1.7 -0.1l-2.7 -1.8l-2.2 0.5l-0.4 -1.7l1.4 -1.1l-1.4 -2.3l-3.5 -1.6l-2.6 -1l-2.7 0.2l-0.3 -1.4l-1.1 -0.7l2.3 -0.8l-2.6 -0.7l-1.8 -1.2l0 -1M201.4 84.8l2.1 0.1l-0.9 0.9l-1.2 -1M204 85.1l1.2 0l-0.3 0.9l-0.9 -0.2l0 -0.7M205.4 85.3l2.1 -0.5l1.8 0.3l-0.9 0.7l-2.6 0.4l-0.4 -0.9M210.9 85.3l1.9 -0.2l3.2 -0.3l0.2 0.7l-3.4 0.5l-1.9 -0.2l0 -0.5M209.3 87.1l2.1 -0.2l1.1 1.2l-2.3 -0.3l-0.9 -0.7M217.2 88.5l1.8 -1.8l2.3 -1.2l2.4 -0.4l-1.2 1.1l-2.7 1.2l-1.7 1.1l-0.9 0M224.2 68.6l0.7 -1.9l0.2 1.5l1.3 -0.5l-0.9 1.2l1 0.9l-1.4 -0.2l0.7 2.2l-1 -1.1l-0.6 -2.1M225.1 75.6l2.7 -0.3l2.2 0.9l-1.4 0.3l-2.2 -0.2l-1.3 -0.7M221.8 76l1.6 -0.2l0.3 1.1l-1.6 0.1l-0.3 -1M261 80l2.8 0l2.7 -1l1.4 -1.3l-0.2 1.4l-2.1 1.5l-1.8 0.7l-2.4 -0.4l-0.4 -0.9M265.2 74.9l2.1 1.4l1.8 2l-0.7 -0.9l-1.9 -1.8l-1.3 -0.7M271.9 80l2.1 1.8l-0.9 0.3l-1 -1.2l-0.2 -0.9M275.2 82.1l1.8 1.3l-0.9 -0.4l-0.9 -0.9M278.8 83.7l2.2 1.4l-0.8 -0.3l-1.4 -1.1M280.7 86.7l2.1 0.9l-0.9 0l-1.2 -0.9M282.5 85.1l1.2 2.1l-0.9 -1l-0.3 -1.1M283.7 88.5l1.7 0.8l-0.8 -0.7l-0.9 -0.1M293 96.7l1.1 1.1l-0.7 -0.2l-0.4 -0.9M294.1 98.5l1 0.9l-0.7 -0.2l-0.3 -0.7M295.8 101.3l0.5 0.4l-0.3 0l-0.2 -0.4M288.4 105.7l2.7 1.6l2.6 2.3l-1 0l-2.5 -1.6l-1.8 -2.3M311.8 101.3l1.6 -0.3l0.7 1l-1.4 0.4l-0.9 -1.1M314.3 99.7l2.1 -0.9l-0.7 0.9l-1.4 0M250.6 89.2l1.8 3.1l0.2 3.2l2.9 1.2l0.4 2.7l1.2 3.8l1.4 1.1l2.7 1.6l1.4 2.3l2.4 1.7l0.4 1.8l1.9 1.9l2 1.6l0 3.2l0.8 2.3l-1 3.3l-0.4 2.3l-1.7 2.1l-1.1 1.7l-0.9 2.2l-1.2 2.2l-0.2 1.8l-3.3 0.7l-1.8 1.1l-1.2 1l-1.9 -1.2l-0.9 -0.2l-2.1 0.9l-3.5 -0.9l-2.7 -1.4l-0.5 -1.8l-0.7 -1.5l-1.4 0l0 -1.4l-0.9 -1.1l-0.3 1.6l-1.5 0.2l0.9 -2.2l0.6 -2.4l-1.1 1.6l-2.1 2.3l-0.7 0.1l-1.1 -2.1l-1.4 -1.6l-1.2 -1.2l-2.6 -0.2l-1.8 -0.8l-3.5 0.1l-2.7 1.1l-2.6 0.2l-2.6 1.2l-1.8 1.6l-2.8 0l-3.3 0l-3.6 1.9l-2.6 0l-2.5 -1.2l-0.1 -1.3l1.2 -0.5l0 -2.3l-0.7 -2.6l-0.7 -2.1l-0.5 -1.1l-0.9 -1.7l-1.1 -2.1l0.4 -0.7l-0.6 -2.9l0.7 -1.7l-0.1 -1.8l0.7 -1.2l0.9 0l1.5 -0.9l2.1 -1.2l3.4 -0.5l2.5 -0.8l2.6 -1.5l1.2 -1.8l0 -1.8l1.4 -1l1.1 1.6l0.7 -1.8l1.6 -1.7l1.6 -1.8l2.1 -0.7l1.7 1.6l0.5 0.3l2.2 -0.1l0.1 -1.6l1.1 -1.8l1 -1l1.3 -0.4l1.7 -0.2l0.2 -1.2l1.6 0.7l2.6 0.7l3 -0.3l0.4 0.5l-0.7 1.7l-1.1 0.7l0 2l-0.9 0.3l2 1.4l2.1 0.7l2.3 1.3l1 1.2l2.1 -0.2l1.1 -2.6l0.3 -2.6l0 -3l0.7 -2.3l0.9 -1.4M240.2 133.3l1.6 -0.3l1.1 0.5l-1.2 0.3l-1.5 -0.5M229 90.4l1.9 -0.2l0.2 0.6l-1.6 0.3l-0.5 -0.7M239.9 94.6l0.9 0l-0.2 0.9l-0.7 -0.2l0 -0.7M254.3 141.9l3.4 0.7l2.9 -0.5l0.2 2.1M303.7 130.9l1.1 1l1.8 1.2l0.8 2l1.3 -0.4l0.7 0.7l0.7 1.3l1.7 0.5l1.8 -0.7l0 1.6l-0.7 1.2l-1.6 0.2l-0.2 1.2l-1 1.8l-1.4 0.8l-0.9 -1.7l0 -0.9l-1.8 -0.9l-0.3 -0.5l1.4 -0.7l0.2 -1.4l0.1 -1.2l-0.8 -1.5l-1.8 -2.1l-1.1 -1.5M303.7 141.6l0.9 1.2l1.8 -0.3l0.2 1.4M359 34.8l1.4 0.7l0.5 0.6l-1.4 0.8l-0.7 -1l0.2 -1.1M357.6 33.6l0.8 0l0.4 0.3l-0.9 0.2l-0.3 -0.5M354.9 32.5l0.7 -0.1l0.2 0.5l-0.7 0l-0.2 -0.4M352.3 31.5l0.5 -0.2l0 0.5l-0.5 -0.3M356.5 33.1l0.9 0l-0.4 0.1l-0.5 -0.1M472.2 70.9l0.9 -0.6l0 1.8l-0.9 -0.3l0 -0.9M474 71.2l0.5 0.2l-0.3 0.4l-0.2 -0.6M329.2 94.1l1.1 0.2l-0.5 0.3l-0.6 -0.5M330.6 94.8l0.9 0.2l-0.7 0.1l-0.2 -0.3M370 101.1l0.7 0.4l-0.5 0.2l-0.2 -0.6M324.8 107.5l0.4 0.1l-0.4 0M414.7 -3.5l0 1.7l-0.3 1.1l1 1.6l0.5 1.2l1.8 1.8l0.2 1l0.9 1.1l1 1.6l1.2 1.9l2 0.3l1.7 0.8l2.1 1.7l0.4 0.9l0.9 1.2l1 2.3l0.9 1.8l1.8 1.7l0.5 1.3l-1.4 0l1.2 1.2l2 0.9l1.5 1.4l0.4 2.1l3.2 2.1l0.7 0.9l0.8 -0.9l-1.5 -1.6l-0.7 -1l-1.1 -2l-1.2 -1.7l-1.3 -1.8l-1.4 -1.8l-1.2 -1.7l-0.9 -1.8l-0.2 -1.4l1.5 0.5l1.7 0.9l0.9 1.8l0.9 1.7l1.7 1.8l1.3 1.4l1.5 1.6l0.4 1.2l2.1 1.3l1.8 1.9l1 1l1.3 1.3l0.7 1.7l-0.4 1.8l-0.3 0.2l1.2 1.7l1.2 0.7l1.4 1.3l2.3 0.7l2.1 1l2 0.9l2.4 0.9l2.7 0.7l1.7 0.3l1.8 -0.8l1.7 0.3l1.8 1.4l1.4 1.2l2.1 1.1l1.8 0.5l2.1 0.7l1.9 0l0.4 0.4l0.3 0.5l1.4 1.2l1.2 1.5l0 1.2l0.9 1.2l1.1 0l1.2 0.9l0.7 1.2l1.1 0.6l0.3 0.5l1.8 0l1 0.7l0.6 0.7l1 -0.4l0 -1.4l1.3 -1.2l1.2 -0.2l1 1.1l0 1.6l1.1 0.8l0.5 1.8l0 1.8l0.2 1.7l0.4 0.4l-1.6 2.1l-1.4 1.4l-1.3 1.4l-0.9 0.3l-0.7 2.3l-0.8 0.9l0.1 2.1l1.4 0.5l0.2 0.9l-0.7 0.7l-1.6 1.6l-0.1 0.7l0.3 2.3l1.9 1.4l0.9 1.6l1.6 2.3l1.6 3.5l1.1 1.8l1.4 2.9l1.9 2.9l3 1.7l2.6 1.2l1.3 1.1l1.7 1.2l0.2 3l0 3.5l-0.5 2.7l-0.2 2.6l-0.4 3.5l-1 3.6l-0.2 1.7l-0.2 3.5l0 1.8l-1 3.5l-1.4 3l-1.1 1.4l0.5 3.5l-0.8 2.7l0 1.7M522.3 144.2l-3.3 -2.1l3.3 0.4l1.5 -0.7l0.1 -2l0.2 -1l3.5 -0.2l2.7 -0.5l1.7 -0.9l1.4 -2.1l-0.9 -1.4l-0.1 -1.3l-2 -1.2l0 -1.1l1.1 0.8l2.8 0.8l2.3 0l2.5 -1.6l1.5 -1.7l0.9 -1.4l2 -2.1l1.7 -2.7l2.1 -1.7l0.4 -1.8l0 -2.6l0.5 -1.1l2.3 -1.6l1.2 -0.8l2.3 -0.9l3.2 -0.9l2.1 -0.2l1.7 -1.6l0.2 -0.8l1.1 -2.1l1 -2.3l0.9 -2.1l0.4 -3.2l0 -2.1l0.8 -3.2l1.8 -2.1l0.9 -1.4l1.7 -1.8l1.4 -1.7l0.6 -1.8l0.1 -1.6l-0.7 -2.8l-2.2 -0.7l-1.5 -0.7l-2.1 -1.7l-2.2 -1.4l-3 0l-1.8 -0.4l-2.6 -0.4l-0.6 0l-1.2 -1.7l-2.6 -0.9l-2.7 -0.5l-0.8 1.4l-1.8 -2.3l-1.4 -0.4l0.5 -1.7l-1.4 -1.8l-0.7 -3.5l-0.9 -0.9l-1 -0.7l-3 -1.6l-2.1 -0.1l-3.2 -0.2l-2.1 -1.4l-1.4 -2.1l-1.8 -0.9l-1.7 -1.8l-1.8 -0.8l-0.9 -1.1l-2.6 0.2l-1.8 0.7l-1.7 -0.9l-1.8 0.2l-2.3 0l0 -1.2l-2.6 -0.6l-0.4 -1.2l-0.5 1.2l-1.7 0.9l-0.6 0.5l0.4 2.1l-1.1 0l0.2 -2.1l0 -1.4l1.1 -1.6l-1.8 0.9l-1.8 1.1l-1.5 0l-1.3 0.5l-1 1.1l-0.4 1.5l-1 0.9l-1.1 0.9l0.2 0.9l-1.1 -1.1l-0.9 -1.2l-1.9 -0.5l-1.6 0.5l-1.6 0.7l-1.5 -0.2l-0.9 -0.3l-0.7 -0.7l-0.7 -0.7l-1.1 -1.6l-0.2 -2l0.4 -1.7l0.2 -2.3l0.3 -1.2l-1.4 -1.1l-1.7 -0.5l-1.8 0l-2.6 0.2l-1.3 0.1l-1.2 -0.3l0.5 -0.7l0.6 -1.2l0.1 -1.8l-0.1 -0.9l1 -0.3l0.4 -1.4l0.1 -1.5l1.1 -1.5l-0.7 -0.6l-2.3 0l-2.1 0.4l-1.1 0.3l-0.1 1.1l-0.4 1.2l-1.2 1.4l-0.9 0.7l-1.6 0l-2.6 0.7l-1.4 -0.7l-1.4 -0.3l-0.6 -0.7l-0.7 -1.4l-1.2 -1.4l-0.4 -1.3l-0.7 -1.4l0 -2.1l0.4 -2.6l0.7 -1.6l-0.4 -1.9l0.4 -1.4l1.4 -1.1l1.9 -1.1l0.9 -0.7l1.8 -0.5l2.3 0.2l1.7 0.5l1.8 0.2l1.9 0.2l0.4 0.1l-0.6 -1.4l0.4 -0.8l2.3 0l1.7 -0.2l1.8 0.2l1.1 1l1.7 -0.5l1.4 0.5l1.4 1.2l0.2 1.8l0.9 2.1l0.7 1.2l1 1.6l1.3 0l0.7 -1l0.1 -1.8l-1 -3l-0.7 -1.7l-0.7 -1.6l0.3 -2l0.6 -0.8l1.5 -1.3l1.8 -1.4l1.8 -0.7l1.7 -1.2l0.9 -0.2l1.8 -1l-0.7 -2.1l-0.2 -0.9l-0.7 -0.6l0.2 -1.2l-0.4 -2.1l0.7 -0.3l0 1.9l0.4 1.9l1 -1.4l0.4 -0.9l0 -0.5l-0.7 -1l1 0.7l1.1 -0.9l0.5 -1.4l0 -0.6l1.8 -0.1l1.7 -0.6l0.2 -0.5l-2.8 0.5l-0.9 0.6M483.8 31.8l1.6 -1.4l1.8 -0.5l1 -0.4l2.5 0.2l1.7 0.4l1.8 0.9l1.8 0.3l1.4 0.9l2.1 0.9l0.9 0.7l2.3 1l-1.5 0.6l-1.7 0l-3 0.1l0.9 -1.2l-1.8 -0.5l-0.5 -1.3l-1.8 -0.3l-1.7 -0.5l-1.8 -0.4l-0.9 -0.3l-1.4 -0.4l-1.2 0.7l-1.4 0.4l-1.1 0.1M487 32l0.9 0l-0.2 0.5l-0.5 0l-0.2 -0.5M502.3 38l2.5 0.3l1.2 -0.7l-0.9 -1l-1 -0.9l1.5 -0.3l1.4 0.1l2.2 0l1 0.4l1.2 0.5l1.5 1.2l-1.1 0.4l-1.6 0l-1.4 0.2l-1.2 1l-0.7 -0.9l-1.8 0.2l-1.7 0.2l-1.1 -0.7M495.4 38l2.3 0l1.4 0.7l-1.4 0.3l-2.1 -0.5l-0.2 -0.5M515 38l2.6 0.2l-0.2 0.5l-2.4 0l0 -0.7M524.3 51.5l1.6 -0.1l0 1.2l-1.6 0l0.7 -0.5l-0.7 -0.6M524.5 41.7l0.8 0l-0.5 0.5l-0.3 -0.5M525.5 44.3l0.5 0.4l-0.1 0.3l-0.4 -0.7M525 42.9l0.3 0.5l-0.1 0l-0.2 -0.5M525.7 45.7l0.3 0.4l-0.1 0.2l-0.2 -0.6M528.3 47l0.2 0.3l-0.2 0l0 -0.3M587.8 3.9l1 0l-0.5 0.1l-0.5 -0.1M602.9 12.7l0.9 0l-0.4 0.3l-0.5 -0.3M603.4 20.4l1.3 -0.2l-0.7 0.9l-0.6 -0.7M605.4 21.1l0.7 -0.2l-0.2 0.6l-0.5 -0.4M607.8 20.9l0.9 -1l0.7 -0.9l-0.7 1.8l-0.9 0.1M591.5 43.6l0.3 0.5l-0.3 -0.1l0 -0.4M588.7 40.3l0.5 0l-0.4 0.3l-0.1 -0.3M93.9 48.2l1.8 0l-0.6 0.5l-1.2 -0.5M97.3 107.3l0.8 0.2l-0.3 0.5l-0.5 -0.7M101 105.7l0.7 0.2l-0.6 0.5l-0.1 -0.7M76.2 90.6l0.3 0.7l-0.3 0l0 -0.7M68.9 80.6l0.6 0.7l-0.4 0.3l-0.2 -1M163.2 46.6l0.4 1.8l-0.6 1.5l-0.1 -1.5l0.3 -1.8M164.8 57.7l0.3 0.5l-0.3 0.2l0 -0.7M14.9 63.8l0.8 0.2l-0.4 0.5l-0.4 -0.7M173.6 72.1l0.9 1.1l-0.6 0.1l-0.3 -1.2M171 67.9l1 1l-0.5 0.2l-0.5 -1.2M185.2 73.3l1.4 -0.1l0.9 2.1l-1.2 -0.4l-1.1 -1.6M189.2 74.9l1.1 0.2l-0.4 0.9l-0.7 -1.1M51.5 76.3l0.7 1.4l0.2 2l0.7 2.1l0.9 1.9l0.7 1.8l-0.9 -0.2l-1.2 -1.9l-1.1 -2.5l-0.3 -2.6l0.3 -2M59.6 87.1l1.1 1.7l0.7 1.8l-0.2 1.7l0.5 2l0.2 1.2l-0.5 0.2l-0.7 -1.3l-0.6 -1.7l0 -2.1l-0.3 -1.8l-0.2 -1.7M55.9 72.1l0.4 -1.9l1.7 -0.6l1.8 0.6l0.2 1.6l-0.2 1.2l-0.7 1.4l-1.4 0.5l-1.6 0l-0.3 -1.4l0.1 -1.4M53.5 68.4l1 -1.4l0.7 -0.7l-0.3 1.1l-0.9 1l-0.5 0M51.7 70.7l0.7 0.2l-0.3 0.7l-0.4 -0.9M50.8 73.3l0.7 0.2l-0.1 1.1l-0.6 -0.2l0 -1.1M510 97.4l1.3 0.4l0.8 1.4l-1.2 -0.7l-0.9 -1.1M482.1 49.4l1.6 0.5l0.3 0.9l-1.4 -0.3l-0.5 -1.1M495.3 26.2l0.8 0l0.6 1.4l0 0.9l-0.9 -0.7l-0.5 -1.6M496.3 23l1.1 0.4l0.5 0.9l-0.7 0.5l-0.2 -0.9l-0.7 -0.9M494.2 23.4l1.4 -0.2l0.7 0.2l-0.9 0.3l-1.2 -0.3M498.1 25.5l0.9 0.4l0.3 1l-0.5 -0.5l-0.7 -0.9M499.8 26.9l0.7 0.7l0.2 0.4l-0.5 -0.2l-0.4 -0.9M499 28.1l0.8 0.7l0.6 0.4l-0.7 -0.2l-0.7 -0.9M500.5 28.7l0.7 0.8l0.4 0.8l-0.5 -0.6l-0.6 -1M502.3 30.3l0.9 0.1l0 0.9l-0.7 0l0.2 -0.7l-0.4 -0.3M504.4 31l0.9 0l-0.5 0.1l-0.4 -0.1M503.5 33.1l1.1 -0.2l0.2 0.5l-1.1 0.2l-0.2 -0.5M505.8 32l1.4 -0.2l0.2 0.6l-1.4 0l-0.2 -0.4M496.7 26.2l0.7 0l-0.4 0.2l-0.3 -0.2M490 36.2l0.5 0l-0.3 0.2l-0.2 -0.2M489.3 27.1l1 -0.2l1.1 -0.5l0.3 -0.4M629.3 8.6l0.9 2.8l0.8 2.3l-3.1 1.2l-1.4 1.3l-3 1.7l-2.7 0.6l-3 1.4l0 2.4M609.9 21.7l7.9 0M617.8 22.3l0 2.3l-5.8 0l0 4.4l-1.7 0.9l0 3l-7 0M617.8 22.3l6.9 4.1M624.7 26.4l-3 0l1.8 14.9l0.3 1.8l-7 0l-2.5 0.2l-1.4 -0.4l-1.2 1.4M15.1 5.5l-0.5 0.7l-0.2 2.6l-1.2 1.8l0 1.4l1.4 1.2l1.2 0.9l0.9 3.1M20.2 12l0 1.2l-2.1 1.2l-0.2 1.8l-1.2 1M16.7 17.2l0.7 2.1l-0.2 3.6l0.4 0.8l-1.1 0.6l1.1 2.4l2.6 1.1l0.9 1.2M21.1 29l-7.9 4.8l-3 2.3l-2.8 0.7M7.4 36.8l-1.9 0l0.1 -1.3l-2.4 -0.9l-1.1 -1.4l-10.5 -6.8M640.5 36.8l-1.9 0l0.2 -1.3l-2.5 -0.9l-1 -1.4l-10.6 -6.8M44.3 14.8l-0.5 1.9l0.2 2.3l0 12.7l0 3.5l-1.8 0l0 0.9M44 31.7l20.9 0M42.2 36.1l-15.8 -6.2l-1.4 0.7l-3.9 -1.6M42.2 36.1l0 6.6l-1.7 0.2l-0.2 1.1l-1.1 1.2l0.4 1.4l-1.3 1.4l2 2.3l0 0.9M26.4 29.9l1.6 4.6l-0.7 6.1l-3.6 4.4l0 1.3M23.7 46.3l1.3 1.4l1.4 1.4l0.2 2.3l0.7 1.5l-2.7 0l-0.2 0.6l2.9 3.7M27.3 57.2l1.7 -0.4l2.1 -0.3l1.6 -0.4l0.7 -1.6l2.5 -0.2l2.3 -2.6l2.1 -0.5M40.3 51.2l1.4 1.7l-0.4 1.8l1.3 0.7l1.7 1.6l2.1 1.7l1.8 2.7M67.9 38.7l-2.8 1.8l-0.9 3.5l-0.2 1M64 45l-0.5 3l-1.9 2.1l-1.3 1.6l-0.2 1.9l-0.5 1.8l-1.6 0.9l1.8 1.4l2.3 3.2l1 1.4l-2.6 0.5l-0.7 0.2M59.8 63l-0.9 0.7l-2.6 0.3l-1.8 -0.3l-0.3 0.5l-1.4 -1.6l-1.8 0l-1.8 0.2l-1 -1.4M64 45l2.7 -0.7l1.9 0.4l2.1 0.3l2.3 2l1.6 1.4M75.8 48l-1.2 0.4l-1.1 1.7l0 0.9l2 0l0.5 -0.9M75.5 51l0.1 1.8l1.8 1.7l5.3 1.8l1.7 0l-5.3 5.3l-2.6 0.3l-2.6 1.2l-0.2 0.4M73.7 63.5l-1.6 1.9l0 4.9l0 1.6l1.1 1.4M73.7 63.5l-1.9 -0.5l-1.8 0.5l-3 0.5l-2.1 -1.4l-1.8 -0.3M59.8 63l0.9 1.2l0.9 3l-0.9 1.4l-0.9 1.4l-0.2 2.1M59.6 72.1l6.7 3.7l0 0.7l2.6 2.1M54.2 64.2l0.8 2.3l-1.4 1.7l-1 1.3l-0.5 1.7l0 1.6M52.1 72.8l1.5 -0.7l6 0M53.6 72.1l0.6 2.3l-0.6 0.2l0.6 1.6l-0.7 1.2l-1.8 0.9M52.1 72.8l-1.1 2.3l0.4 1.4l0.3 1.8M51 75.1l2.6 -0.5M51.7 78.3l0.4 2.6l1.9 3.9l3.9 2.1l1.9 0.2l0.9 0.8l0.2 2.9l2.4 0.1l2.7 0l1.7 -0.5l3.4 -1.6M57.9 86.9l0.7 2.4l-0.2 3l-0.9 2l0.9 0.7l2.3 0.9l-0.4 2.1l1.8 2.4l0.9 -1.9l0 -2.1l-1.6 -2.3l-0.5 -3.3M58.4 95l-5.3 1.7l0.4 1.1l4.4 1.9l0 3.2l-0.4 1.7l-0.3 3.2l-2.2 1.9l1.3 3.7l-0.2 2.5l0.4 1.6l1.4 0.2M56.1 115.9l-1.6 -0.4l-0.3 2l0.8 0.9l1.5 -0.9M47.5 122.4l1.7 -1.6l1.8 0.4l0.7 1.2l-1.6 1.8l-1.9 -0.6l-0.7 -1.2M55 109.7l-3.3 -0.3l-2.5 1l-1.7 1.5l-0.2 1.2l-1.7 0.9l-0.6 1.4l-1.6 0.3l-2.9 -0.9l-0.8 1.5l-1.5 1.2l-1.8 0l0 -2.3l-1.2 -1.2M35.2 114l0 6.3l-1.8 0.9l-1.7 -0.2l-1.1 -0.2l-1.6 -0.1M35.2 114l0 -5l1.7 0l0 -6.5l4.4 -0.5l1.6 -0.2l1.6 -0.1l-2.3 -0.6l-1 0.2M20.8 100.8l2.1 -0.6l1.7 0.8l7.8 0l5.2 0.8l3.6 -0.5M44.5 101.7l1.2 2.1l2.3 2.6l1.2 1.9l2.5 1.1M44.5 101.7l3 0.3l3.3 -3.5l2.7 -0.7M41.2 101.3l-2.5 -2.5l0 -5.6l3.5 0l0 -3.7M42.2 89.5l-1.7 0.4l-1.5 0.1l-0.3 -2.1l-0.4 -3.5l0 -1.2l-2.2 -0.2l-1.8 1.2l-0.9 0.2l-2.1 0.2l-2.1 -3.9l-5.6 0l-2.1 0.2M21.5 80.4l1.4 -2M42.2 89.5l2.3 1.3l1.2 0.5l2.1 -0.5l2.1 1.5l1.1 1.6l1.4 0l0 -2.1l-1.4 0.4l-1.1 -0.9l0.4 -2.5l0 -2.1l0.5 -1.4l3.2 -0.5M21.1 79.1l1.8 -0.7l2.4 0.4l1.6 -0.9l1.6 -3.7l2.6 -3l0.6 -1.7l0.1 -3.2l0.9 -2.1M32.7 64.2l0 -1.6l1.6 -1.2l2.6 1.2l2.7 0.5l1.7 -1l2.7 -0.5l4.2 -0.2M19.5 77.2l1.3 -0.7l1.2 -2.1l2.3 0.2l1 -0.9l0.2 -2.3l-1.1 -1.1l1.1 -1.7l-2.1 -0.5l-0.2 -1.6M17.2 68.6l2.7 0l0 -2.1l-2.7 -0.2M19.9 66.5l3.3 0l2.3 0l2.6 0.9l0.4 -0.9l-2.1 -2.3l-0.7 -2.6l-0.2 -1.8l1.8 -2.6M28.5 66.5l0.7 -2.3l3.5 0M15.1 61.9l0.7 -1.8l2.1 -1.9l2 0.5l0.9 -0.7l0.7 -2.4l1.7 -2.1l1.1 -2.5l1.4 -0.9l-0.7 -1.6l0 -0.8M23.7 46.3l-1.7 1l-3.2 -0.5l-1.9 1l-1.6 -0.3l-1.6 -0.5l-1.6 0.5l-2.4 -1.6l-2.5 0.7l-0.9 3.2M6.3 49.8l0.4 2.1l-1.8 2.4l-0.2 2.2l0 2.6M2.8 59.4l0 -1.4l0 -3.5l-0.3 -0.7l-1.1 -1.7l0.2 -1.1M636 59.4l0 -1.4l0 -3.5l-0.4 -0.7l-1 -1.7l0.1 -1.1M2.1 59.6l-1 -1.4l-0.2 -1l0.2 -1.3l-0.4 -1l0 -2.1l-0.7 -1.1l-0.2 -0.9M635.3 59.6l-1.1 -1.4l-0.2 -1l0.2 -1.3l-0.3 -1l0 -2.1l-0.8 -1.1l-0.1 -0.9M4.2 49.2l-0.2 0.6l-1.5 0.5l-0.9 0.7l-1.8 -0.2l-4.7 0.2l-0.2 1.2l0.2 1.1l-2.1 -0.2l-1.3 0l-1.4 -1M637.4 49.2l-0.2 0.6l-1.6 0.5l-0.9 0.7l-1.7 -0.2l-4.8 0.2l-0.2 1.2l0.2 1.1l-2.1 -0.2l-1.2 0l-1.4 -1M-9.7 52.1l0.4 -1.8l1.6 -1.2l0.1 -2l1.8 -0.1l0.7 -1.3l1.6 -0.3l1.7 -1.1l2.2 -0.3l0.3 1.7l1.1 1.1l0 0.9l1.9 0.3l0.5 1.2l2.1 0.6M623.5 52.1l0.3 -1.8l1.6 -1.2l0.2 -2l1.7 -0.1l0.7 -1.3l1.6 -0.3l1.8 -1.1l2.1 -0.3l0.4 1.7l1 1.1l0 0.9l1.9 0.3l0.6 1.2l2.1 0.6M627.7 61.4l0.5 -0.9l-0.7 -2.1l1.3 -2.5l-0.6 -2.6M620 62.6l0.1 -2.5l-1.7 -1.2l-0.2 -1.9l1.1 -1.6l0.1 -1.6l-0.3 -1.4l3.1 -0.7l1.3 0.4M618.2 57l-1.6 0.3l0 -1.7l-1.6 -0.2l-2.1 2.8M615 55.4l-0.5 -1.1l-1 -1.5l-2.3 0.1l-1.4 1.6M619.1 52.4l-0.5 -1.4l-1.3 -2.5l-2.3 0.4l-1.9 -0.4l-1.6 0.2l-2.4 -0.7l0 1.8l-2.3 1.4M609.1 48l-5.3 0.5M603.6 47.3l3.2 -0.2l2.1 -0.1l0 -0.6l-2.1 -0.1l-2.8 0.1M604.1 42.2l0.4 -0.9l3.1 -0.1l2.2 1.7l1.9 1.4l0.3 2.3l1.1 1.9M7.4 36.8l0 4.7l-1.2 1.8l-3.9 0.1l-1.9 0.6M640.5 36.8l0 4.7l-1.2 1.8l-3.9 0.1l-1.9 0.6M60.1 15.3l1.3 3.2M61.5 18.5l0.9 -3.6l0.2 -2.1M61.7 12.1l0.9 -0.3l1.4 -1.2l0.2 -1.1l-0.9 0M62.6 11.8l0 1M63.1 7l1.3 -0.3l0.1 -1.1l2.3 0l3.5 0l4.1 -0.7M74.4 4.9l-1.8 1.4l-0.5 3.5l-3.9 1.8l-3.5 1.9l-2.1 -0.7M68.2 11.6l0.7 2.1l-3.8 1.2l1.7 1.8l-0.8 0.9l-1.5 0.2l-1.2 1.2l-1.7 -0.2M68.9 13.7l2.2 0.5l2.8 1.5l4.7 3.3l3.2 0.2l2.1 1l1.2 0M81.8 19.2l0.9 -1.6l1.5 0M74.4 4.9l4.4 0M78.8 4.9l1 2.1l1.5 0.7l-1.3 2l0.9 2.3l3.2 2.1l-0.2 1.7l1.4 1.8M78.8 4.9l-1.1 -2.3l0.6 -2.1l0.5 0l3 1.4l2.6 -1.4l1.6 2.3M78.3 0.5l-1.4 -0.9l-0.2 -1.5M78.8 0.5l1.2 -1.6l1.8 2l0 1M80 -1.1l-0.9 -1M75.3 41.5l0.9 -1.8l2.1 0l4.4 0.8l1.7 -2.2l7.1 -1.4l5.2 -1.7l1.3 -3.5l-0.9 -1.3l-4.6 -0.3l-1.7 -2.3M91.5 36.9l1.9 4.3M97.1 30.4l1.4 -2.3l0.7 -1.5M98.5 28.1l-0.4 -0.3l0.6 -3.2M89.3 26.9l0.9 0.2M95 4.7l2.6 -1.2l3.2 -0.3l2.1 0.8l1.7 0.9l3 1.1l0 1.7M107.6 7.7l-1 2l0 2.3l0.5 2.9l1.6 0.9l-1.6 2.1M107.1 17.9l1.4 2l1.9 0.9l0 1.7l0.9 0.9l-2.3 0.7l-0.7 1.9M107.1 17.9l2.8 0.7l2.7 -0.1l3.8 -0.6l0.4 -1.9l2.4 -0.9l2.7 -0.9l0.3 -1.9l1.4 -0.7l-0.5 -1l1.9 -0.8l0.9 -1.9l-0.1 -1.4l3.5 -1l2.4 -0.6M107.6 7.7l2.7 0.6l3.1 -1.8l2 -1.9l3.8 0.3l2.7 0.2l1.6 -0.9l0.5 -0.9l1.4 -0.3l0.5 2.6l3 -1l2.8 0.3M117 4.6l0.1 -1.1l-2.8 -1.7l-2.3 -0.7l-2.3 -1.1l-2.4 -2.1l-1.8 -1.1M119.2 4.9l1.1 -1.7l-1.2 -2.5l1.4 0l1.4 -1.1l1.9 0.2l0.4 -1.4l0.3 1.2l3.9 1.5l1.4 -0.2l-0.2 2.6l2.1 1.4M124.2 -1.6l2.4 -0.7l2 0.9l-2.5 1l-1.6 0M131.7 4.9l-0.7 -2.3l-1.2 -1.7l1.8 -1.8l3.5 -0.9l2.6 -0.5l3.4 -1.6M119.9 28.8l1.1 -1.2l3.7 -0.2l-1.4 -2.2l0.5 -2.3l-1.4 -0.4l1.4 -1.4l2.7 0l1.9 -2.1l1.6 -1.8l1.2 -1.5l-0.2 -1.6l1.4 -0.6l-1.7 -1.2l-0.7 -2.6l5.1 -2l1.7 0.2M131.7 4.9l2 2.1l3.1 0.9M136.8 7.9l2 1.9l-0.2 2l1.2 1.4l-1.4 1.7l4.1 2.3M142.5 17.2l-1.6 2.5l3 1.6l2.6 0.9l2.6 0.5l1.8 0.9l2.6 0.3l1.4 -0.2l0 -2.4M142.5 17.2l2.1 0.4l2.3 1.4l2.8 1.2l1.6 0.9l3.6 0.2l1.5 1M156.4 22.3l1.5 1.1l3 -0.2l1.1 -0.2l-0.7 -1.5l-2.5 -0.6l-1.4 0l-1 1.4M154.9 23.7l1.5 -1.4M161.3 21.5l4 -2l3.5 -0.9l2.3 2.2M156.5 32l0 -1.2l-0.3 -1.3l-0.2 -1.7l-1.1 -0.7l0.4 -1.1l1.1 -1l-0.8 -1.1l2 0.5l0.3 1.5l4.6 0.5l-0.3 1.2l-1.8 0.5l0.3 1.4l0.8 0l0.8 -0.8l0.6 3.1l-0.7 1.3l0.1 0.8M162.9 31.8l1 -0.5l0.2 -3.2l2.5 -2.4l0.8 -2.3l3.2 -1.8l0.5 -0.8M171.1 20.8l2.3 1.2l0.2 3l-1.9 1.7l0.1 1.4l2.1 0l0 1.4l1.1 0.6l-0.5 1.4l1.7 1.2l1.8 0.4l-1.9 1.5M176.1 34.6l-2 0.6l-1.7 0.5l-0.6 2.1l-0.3 1.2l2.1 2.7l-0.9 1.9l1.8 2.7l0 1.9l0.7 1.4l-1.1 1.8l-0.3 0.8l-0.4 0.7M176.1 34.6l0.7 1.5l1.2 0l-0.4 2.6l0.4 0.9l1.6 -1.3l1.2 0.6l1.1 -0.9l2.2 1.6l0.2 1.9l1.2 1.2l0 2.1M185.5 44.8l-1.2 0.2l-3.1 0.2l-0.9 1.2l-0.2 2l0.9 1.4M178 33.1l1 0l0 -2.1l0.7 0l1.1 1.2l0.4 1.4l2.6 0.9l-0.9 1.6l1.8 1.4l2.6 3l1.8 2.6l0 1.4M185.5 44.8l0.9 0.9l2.7 -1.2M189.1 44.5l0 4.2l-2.1 0.9l-0.7 0.5l0.5 0.9l-2 0.2l-1.2 0.9M179.7 31l3 -0.4l2.5 -1.2l2.5 0.9l0.1 1.4l2.1 0.8M176.1 59.1l1.7 1.2l1.2 -0.2l0.6 -0.7M192.8 66.8l0.7 1.4l2.6 0.4l1.2 -0.7l2.3 0.2l2.3 -1.3l1.2 -2.1l0.4 -1.7l3.3 0M200.7 62.3l1 1l1.1 -0.5l0 -1.1M248 74.9l0 11.5M219.8 85.7l0.2 1.2M221.8 4l1.6 -1l2.2 -0.5M218.6 0.2l2.1 -1.6l2.5 -1.8M620.1 4.9l-0.1 -1.4l0.8 -0.3l-0.5 -2.1l0.5 -0.6l0.2 -2.3l1.2 -1M45.7 -1.2l1.1 -1.1M35.2 0.5l1.2 -1l0.5 -1.1M427.2 13.2l4.2 -0.4l-0.2 0.4l6.6 2.1l5.1 0l0 -0.9l2.9 0l2.7 2l0.9 1.9l2.2 1l1.3 -1.4l1.9 0l1.2 1.3l2.2 2.8l0.8 1.9l3.2 0.9M471 44.8l0 -1.4l0.9 -1.4l2.3 0l0 -0.5l-1.8 -1.5l0.7 0l0 -1l3.3 0l0.6 -0.1l0.9 -1.1M476.4 39l-0.1 3.4l0.5 0M478 42.7l-1.7 1.4l-0.3 0.9l-1.3 1.2M476 45l1.5 0.7l1.2 1.1l0.2 0.3M479.6 47.5l1.1 -1.4l1.7 -0.4l1.4 -1.4l3 -0.3M482.4 50.8l1.4 0.2l2.1 0.2M487.9 53.5l-0.6 0.8l0 1.8M497 55.2l0.4 1.3l-1.3 1.2M507.8 49.5l-1.6 1.3l-1.4 3.2l1 1.6l0 1.7l0.9 0.7l3.2 0l1.2 1.6l3.3 -0.2l-0.5 1.6l0 2l0.9 1.4l-0.9 1l1.4 2.8l0.2 0M515.5 68.2l-0.4 -0.8l-1.7 0l-3 0l0 1l1 0.2l-0.3 0.5l-1.1 0.2l0 1.4l1.1 1.6l-0.9 5.4M510.2 77.7l-1.4 -0.7l1.1 -1.9l-3.2 -0.7l-1.9 0l-1.8 -2.3l-2.1 -1.6l-1.9 -0.9l-2.2 -0.5l-2.2 -1.2M500.9 70.5l-0.7 2.5l-1.8 1.9l-2.4 1.3l-0.7 0.8l-0.6 1.4l-0.7 0.7l-0.8 -0.8l-1.5 -0.2l0 -1.6l0.4 -0.2M510.2 77.7l-1.7 0.4l-3.4 1.2l-0.7 1.8l-1.4 2.1l0.5 0.2l1.3 2.8l1.2 0.9l0.2 0.8l2.8 -0.8l0 2.6l1.7 -0.1M510.7 89.6l1.6 2.7l-0.5 2.1l-0.7 2.3l0.3 0.9l0.7 1.4l-1.4 1.8l0.2 0.3l-1.6 1.5M510.9 101.1l1.1 2.7l0.7 1.7l0.5 2.7l0.7 2.2l1.1 0M515 110.4l0.3 0.4l-0.5 1.8l-2.1 1l0.3 3.4l-0.5 1l-1.9 2.5l-0.6 2.6l-0.8 2.1l0.8 3.7l0.4 1.8l-1.1 1.6l0 1.7l-1.2 0.7l0.2 3.4l-1.3 2.6l-0.1 3.5M515 110.4l1.7 -1.7l3 0.9l0.4 0.8l2.8 -1l0.2 0M523.1 109.4l0.5 -3l0.9 -1.6l4.9 -0.5l1.4 0.9l0.2 0.5M531 105.7l0.5 -1.9l0.5 -1.4l-1.6 -1.6l0 -1.8l-3.1 0l-0.6 -4.4l-2.6 -1l-1.8 -0.9l-2.4 -0.5l-1.6 -1.3l-0.2 -3.5l-2.1 0.4l-2.4 1.4l-2.9 0.4M531 105.7l0.3 3.5l2.5 0.2l1.4 0.3l0.5 2.9l1.9 0.1l-0.5 2.7M523.1 109.4l2.8 2.8l3.5 1.8l2.4 1l-1.7 3.2l3.7 0.3l1 -0.1l2.3 -3M537.1 115.4l1.4 0.1l0.2 2l-2.3 1.7l-1.4 1.1l-3.2 3.2M531.8 123.5l2.9 1l0.8 0.2l2.7 1.8l1 1.2l0 1.9M531.8 123.5l-1 3.1l-0.4 3.5M515.5 68.2l2.5 0.7l2.6 -1.2l-0.5 -1.7l1.5 0.3l-1.5 -2.1l-0.6 -1.1l3 0.7l0.4 -0.5l3 -0.9l0.5 -1.2M526.4 61.2l-1.2 -1.2l0.5 -1.4l1.4 -0.7l-0.7 -0.7l1.6 -1.4M526.4 61.2l1.2 0.4l0.2 1l0.7 0.9l-0.9 1.9l0.7 1.8l1.4 1l1.4 -0.5l1.3 -0.9l1.4 0.2M533.8 67l-1.4 -2.5l-1.3 -1.2l0.2 -1.4l1.1 -0.9l0.3 -1.2M533.8 67l1 -0.2l-0.1 -0.5l2.4 0l2 0l1.5 -0.3l1.6 -3M537.1 66.3l0.7 -1.2l-0.5 -3.2l0.9 -1.6M507 35.7l0 1.9l-0.5 0l0.5 1.1" fill="none" stroke="#555" stroke-width="1.65" stroke-linejoin="round"/>
<path d="M432.6 5.3l34.1 0M466.7 6.2l7.9 0l-0.3 0.8l1.1 0M475.7 6.2l2.6 0l0 -0.3l7.6 0.1l3.6 0l10.2 0.1M453.7 0l11.8 0M422.1 -3.5l0 5.3l9.5 7l-0.2 4M432.6 -3.5l0 10.2l-1.2 0.2l0.2 1.9M441.4 15.3l0 -18.8M445.7 14.1l6.2 0l0 -8.8M451.9 6.2l5.4 0l0 3.3l1.4 0.5l2.1 0.4l1.8 0.5l1.7 0l2.6 0.4l0.8 0.1l0 2.7l0.7 1.7l-0.2 2.3M467 11.3l0 -3.2l-0.3 -1.9l0 -4.6l-1.2 -1.6M467.7 12.3l5.1 0M475.7 17.2l-0.3 -1.4l-3.4 0l1.1 -1.7l-0.3 -1.8l1 -2.6l0.9 -0.9l0.9 -2.1l0.7 -1.4l-0.6 -1.4l-1.2 -1.8l-0.9 -0.9l-1.2 -1.2l0 -0.7l0.7 -1.1M478.2 8.8l-0.5 5.4l0 2.9M482.6 8.8l0.7 3.7l0.4 3.3M479.3 17.1l-0.2 -1.3l4.6 0l0.1 0.6l4.8 0.1l0.3 0.4l0.9 -0.5M474.3 8.8l10.6 0l2.1 0l1.4 -0.4l2.3 0.2l0.3 0.5l2 0l2.1 1.7M487 8.8l1.9 2.6l1.6 2.5M484.9 8.8l2.3 -1.4l2.3 -1.4M478.4 3.9l0.9 -2.7l0 -4.7M484 1.6l0 -5.1M476.3 5.3l2.1 -1.4l1.7 -0.2l1.8 -0.2l1.1 -1.2l1 -0.7l1.4 0.5l2.5 0.7l1 -0.9l0.6 -0.5l1.4 -0.9l0.7 -1.6l0 -2.4M485.9 6l3 -1.6l-1 -1.2M489.1 4.4l2.8 0l1.4 -1.8l2.1 -1.5l1.1 0.1l1.2 0.7l1.3 1.6M491.6 0.5l8.2 0l0 2.2l1.4 0M493.3 0.5l0 0.9l2.1 -0.3M500.4 0.4l1.4 -0.8l-0.9 -0.8l0.9 -1.3M453.7 5.3l0 -8.8M437.8 -1.8l15.9 0M437.8 -3.5l0 1.7M465.5 0l-0.8 -1.1l-0.4 -1.5" fill="none" stroke="#555" stroke-width="2" stroke-linejoin="round"/>
<path d="M0 70.3 H633.1" stroke="#444" stroke-width="1.5" stroke-dasharray="4.5 5.5" stroke-dashoffset="1.6" fill="none"/>
<path d="M316.6 0 V140.7" stroke="#444" stroke-width="1.5" stroke-dasharray="4.5 5.5" stroke-dashoffset="0" fill="none"/>
</svg>
<path d="M0 0v-4.8M0 140.7v4.6M105.5 0v-4.8M105.5 140.7v4.6M211.1 0v-4.8M211.1 140.7v4.6M316.6 0v-4.8M316.6 140.7v4.6M422.1 0v-4.8M422.1 140.7v4.6M527.6 0v-4.8M527.6 140.7v4.6M633.1 0v-4.8M633.1 140.7v4.6M0 123.1h-4.8M633.1 123.1h4.6M0 70.3h-4.8M633.1 70.3h4.6M0 17.6h-4.8M633.1 17.6h4.6" stroke="#000" stroke-width="2.6" stroke-linecap="round" fill="none"/>
<path d="M17.6 0v-3.4M17.6 140.7v3.4M35.2 0v-3.4M35.2 140.7v3.4M52.8 0v-3.4M52.8 140.7v3.4M70.3 0v-3.4M70.3 140.7v3.4M87.9 0v-3.4M87.9 140.7v3.4M123.1 0v-3.4M123.1 140.7v3.4M140.7 0v-3.4M140.7 140.7v3.4M158.3 0v-3.4M158.3 140.7v3.4M175.9 0v-3.4M175.9 140.7v3.4M193.5 0v-3.4M193.5 140.7v3.4M228.6 0v-3.4M228.6 140.7v3.4M246.2 0v-3.4M246.2 140.7v3.4M263.8 0v-3.4M263.8 140.7v3.4M281.4 0v-3.4M281.4 140.7v3.4M299 0v-3.4M299 140.7v3.4M334.2 0v-3.4M334.2 140.7v3.4M351.8 0v-3.4M351.8 140.7v3.4M369.3 0v-3.4M369.3 140.7v3.4M386.9 0v-3.4M386.9 140.7v3.4M404.5 0v-3.4M404.5 140.7v3.4M439.7 0v-3.4M439.7 140.7v3.4M457.3 0v-3.4M457.3 140.7v3.4M474.9 0v-3.4M474.9 140.7v3.4M492.4 0v-3.4M492.4 140.7v3.4M510 0v-3.4M510 140.7v3.4M545.2 0v-3.4M545.2 140.7v3.4M562.8 0v-3.4M562.8 140.7v3.4M580.4 0v-3.4M580.4 140.7v3.4M598 0v-3.4M598 140.7v3.4M615.6 0v-3.4M615.6 140.7v3.4M0 105.5h-3.4M633.1 105.5h3.4M0 87.9h-3.4M633.1 87.9h3.4M0 52.8h-3.4M633.1 52.8h3.4M0 35.2h-3.4M633.1 35.2h3.4" stroke="#000" stroke-width="1.7" fill="none"/>
<rect x="0" y="0" width="633.1" height="140.7" fill="none" stroke="#000" stroke-width="2.8"/>
</g>
<text class="k" x="843.2" y="676.6" font-size="34.9">31-Dec to 9-Jan</text>
<text class="k" x="844.8" y="880" font-size="35" text-anchor="middle">0</text>
<text class="k" x="950.3" y="880" font-size="35" text-anchor="middle">60E</text>
<text class="k" x="1055.8" y="880" font-size="35" text-anchor="middle">120E</text>
<text class="k" x="1161.4" y="880" font-size="35" text-anchor="middle">180</text>
<text class="k" x="1266.9" y="880" font-size="35" text-anchor="middle">120W</text>
<text class="k" x="1372.4" y="880" font-size="35" text-anchor="middle">60W</text>
<text class="k" x="1477.9" y="880" font-size="35" text-anchor="middle">0</text>
<rect x="229.3" y="939.3" width="54.8" height="21.8" fill="#053061" stroke="#000" stroke-width="1.3"/>
<rect x="284.1" y="939.3" width="54.8" height="21.8" fill="#2166ac" stroke="#000" stroke-width="1.3"/>
<rect x="339" y="939.3" width="54.8" height="21.8" fill="#4393c3" stroke="#000" stroke-width="1.3"/>
<rect x="393.8" y="939.3" width="54.8" height="21.8" fill="#92c5de" stroke="#000" stroke-width="1.3"/>
<rect x="448.6" y="939.3" width="54.8" height="21.8" fill="#d1e5f0" stroke="#000" stroke-width="1.3"/>
<rect x="503.4" y="939.3" width="54.8" height="21.8" fill="#f7f7f7" stroke="#000" stroke-width="1.3"/>
<rect x="558.3" y="939.3" width="54.8" height="21.8" fill="#fddbc7" stroke="#000" stroke-width="1.3"/>
<rect x="613.1" y="939.3" width="54.8" height="21.8" fill="#f4a582" stroke="#000" stroke-width="1.3"/>
<rect x="667.9" y="939.3" width="54.8" height="21.8" fill="#d6604d" stroke="#000" stroke-width="1.3"/>
<rect x="722.8" y="939.3" width="54.8" height="21.8" fill="#b2182b" stroke="#000" stroke-width="1.3"/>
<rect x="777.6" y="939.3" width="54.8" height="21.8" fill="#67001f" stroke="#000" stroke-width="1.3"/>
<text class="k" x="284.1" y="989.4" font-size="30" text-anchor="middle">-14</text>
<text class="k" x="339" y="989.4" font-size="30" text-anchor="middle">-11</text>
<text class="k" x="393.8" y="989.4" font-size="30" text-anchor="middle">-8</text>
<text class="k" x="448.6" y="989.4" font-size="30" text-anchor="middle">-5</text>
<text class="k" x="503.4" y="989.4" font-size="30" text-anchor="middle">-2</text>
<text class="k" x="558.3" y="989.4" font-size="30" text-anchor="middle">2</text>
<text class="k" x="613.1" y="989.4" font-size="30" text-anchor="middle">5</text>
<text class="k" x="667.9" y="989.4" font-size="30" text-anchor="middle">8</text>
<text class="k" x="722.8" y="989.4" font-size="30" text-anchor="middle">11</text>
<text class="k" x="777.6" y="989.4" font-size="30" text-anchor="middle">14</text>
<text class="k" x="873.8" y="975.3" font-size="29">m s-1</text>
<defs>
<radialGradient id="lg" gradientUnits="userSpaceOnUse" cx="80" cy="996" r="78"><stop offset="0" stop-color="#1a86cd"/><stop offset="0.45" stop-color="#1f73c2"/><stop offset="0.8" stop-color="#2855b0"/><stop offset="1" stop-color="#2c45a5"/></radialGradient>
<linearGradient id="lg2" gradientUnits="userSpaceOnUse" x1="0" y1="1008" x2="0" y2="1078"><stop offset="0" stop-color="#2e3192"/><stop offset="0.6" stop-color="#2c3a9c"/><stop offset="0.8" stop-color="#2460b4"/><stop offset="0.93" stop-color="#1c7cc6"/><stop offset="1" stop-color="#1f70bd"/></linearGradient>
<linearGradient id="lg3" gradientUnits="userSpaceOnUse" x1="0" y1="1028" x2="0" y2="1056"><stop offset="0" stop-color="#fcd98a"/><stop offset="1" stop-color="#f59f24"/></linearGradient>
<clipPath id="lc"><circle cx="84.6" cy="1006.2" r="72.2"/></clipPath>
<path id="arc" d="M26 1022.4 A60.8 60.8 0 1 1 144.4 995.1"/>
<path id="spi" d="M33.8 1011.7L32.8 1007.8L32.3 1003.9L32 999.9L32.1 996L32.6 992.1L33.4 988.3L34.5 984.6L35.9 981L37.6 977.6L39.6 974.4L41.9 971.4L44.4 968.6L47.1 966.1L50 963.8L53.1 961.8L56.3 960.1L59.6 958.7L63 957.6L66.5 956.8L70 956.3L73.5 956.2L77 956.3L80.4 956.7L83.8 957.5L87.1 958.5L90.2 959.8L93.2 961.3L96 963.1L98.6 965.1L101.1 967.3L103.3 969.7L105.2 972.3L107 975L108.4 977.9L109.6 980.8L110.6 983.8L111.2 986.8L111.6 989.9L111.7 993L111.6 996L111.2 999L110.5 1001.9L109.6 1004.7L108.4 1007.4L107 1010L105.5 1012.4L103.7 1014.7L101.7 1016.8L99.6 1018.6L97.4 1020.3L95 1021.7L92.6 1023L90 1024L87.5 1024.7L84.8 1025.3L82.2 1025.5L79.6 1025.6L77 1025.4L74.5 1025L72 1024.4L69.6 1023.6L67.3 1022.6L65.2 1021.4L63.1 1020L61.3 1018.5L59.6 1016.8L58 1015L56.6 1013.1L55.5 1011.1L54.5 1009L53.7 1006.9L53.1 1004.7L52.7 1002.5L52.5 1000.3L52.5 998.1L52.7 996L53.1 993.9L53.6 991.9L54.4 989.9L55.3 988.1L56.3 986.3L57.5 984.7L58.7 983.2L60.1 981.9L61.6 980.6L63.2 979.6L64.9 978.7L66.6 977.9L68.3 977.4L70.1 976.9L71.8 976.7L73.6 976.6L75.3 976.6L77 976.9L78.6 977.2L80.2 977.7L81.7 978.3L83.2 979.1L84.5 979.9L85.7 980.9L86.8 982L87.8 983.1L88.7 984.3L89.5 985.5L90.1 986.8L90.6 988.1L91 989.5L91.2 990.8L91.4 992.2L91.4 993.5L91.2 994.8L91 996L90.7 997.2L90.2 998.3L89.7 999.4L89.1 1000.4L88.4 1001.3L87.6 1002.1L86.8 1002.9L86 1003.5L85.1 1004.1L84.2 1004.5L83.2 1004.9L82.3 1005.2L81.3 1005.3L80.4 1005.4L79.5 1005.4L78.6 1005.3L77.8 1005.1L77 1004.9L76.3 1004.5L75.6 1004.2L74.9 1003.7L74.4 1003.2L73.9 1002.7L73.4 1002.2L73.1 1001.6L72.8 1001L72.6 1000.4L72.4 999.9"/>
</defs>
<circle cx="84.6" cy="1006.2" r="72.2" fill="url(#lg)"/>
<text font-size="5.6" fill="#fff" fill-opacity="0.3" letter-spacing="0.1"><textPath href="#spi">1101010110110100110001110101001110010010001101100110001010101000000110111110100101001010010100100</textPath></text>
<g clip-path="url(#lc)"><path d="M10 1028L19.5 1026.9L28.3 1024.9L35 1021.5L41.2 1017.4L44.5 1021.5L48.7 1026.9L55.4 1022.9L59.5 1026.5L64.3 1031L73 1021L83.2 1008.6L90 1016L96.1 1022.2L102.9 1023.5L111 1014L115 1020L119.2 1026.9L125.9 1015.4L138.1 1007.3L147 1001.5L158 993.6L160 1085L8 1085Z" fill="url(#lg2)"/>
<path d="M10 1028L19.5 1026.9L28.3 1024.9L35 1021.5L41.2 1017.4L44.5 1021.5L48.7 1026.9L55.4 1022.9L59.5 1026.5L64.3 1031L73 1021L83.2 1008.6L90 1016L96.1 1022.2L102.9 1023.5L111 1014L115 1020L119.2 1026.9L125.9 1015.4L138.1 1007.3L147 1001.5L158 993.6" fill="none" stroke="#ee3124" stroke-width="1.4" stroke-linejoin="round"/></g>
<circle cx="138.8" cy="1002.3" r="5.3" fill="#fbb03b"/>
<text font-size="9.6" fill="#fff"><textPath href="#arc" textLength="195" lengthAdjust="spacingAndGlyphs">Cooperative Institute for Climate and Satellites</textPath></text>
<text x="31.2" y="1055.3" font-size="38" fill="url(#lg3)" stroke="url(#lg3)" stroke-width="0.7" textLength="103.5" lengthAdjust="spacingAndGlyphs">cics.nc</text>
<path d="M1089.5 965.5H1157.5" stroke="#000" stroke-width="3" stroke-linecap="round"/>
<path d="M1314.5 965.5H1379" stroke="#0000ff" stroke-width="3" stroke-linecap="round"/>
<path d="M1089.5 1006.2H1157.5" stroke="#a020f0" stroke-width="3" stroke-linecap="round"/>
<path d="M1314.5 1006.2H1379" stroke="#ff0000" stroke-width="3" stroke-linecap="round"/>
<text class="k" x="1170.8" y="975.3" font-size="27">MJO</text>
<text class="k" x="1391.4" y="975.3" font-size="27">Kelvin x2</text>
<text class="k" x="1171.3" y="1016" font-size="27">Low</text>
<text class="k" x="1391.4" y="1016" font-size="27">ER</text>
<text class="k" x="1083.1" y="1052.3" font-size="26.5">Contours every 2 m s-1</text>
<text class="k" x="173.2" y="1074.6" font-size="51.5">10-day VWND850 with CFS forecasts</text>
<text class="k" x="3.5" y="1110.3" font-size="20.5">ncics.org/mjo</text>
<text class="k" x="755" y="1111" font-size="14.4" text-anchor="middle">Thu 2016-12-01 1128 UTC</text>
<text class="k" x="1506" y="1110.3" font-size="20.5" text-anchor="end">Carl Schreck (cjschrec@ncsu.edu)</text>
</svg></body></html>
